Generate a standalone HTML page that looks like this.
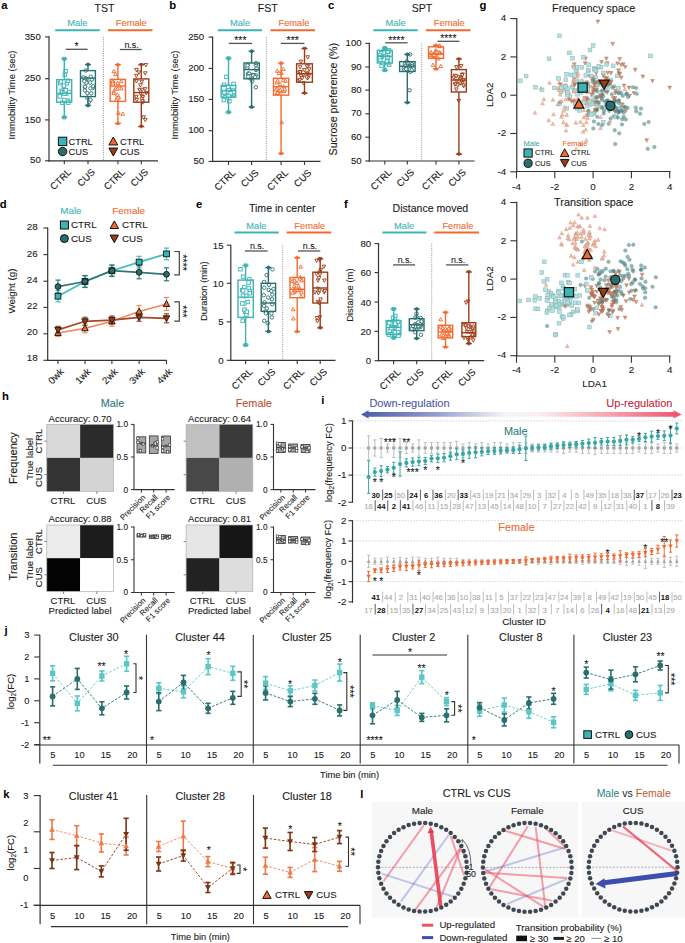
<!DOCTYPE html>
<html><head><meta charset="utf-8"><style>
html,body{margin:0;padding:0;background:#fff;}
svg{display:block;font-family:"Liberation Sans", sans-serif;}
</style></head><body>
<svg width="685" height="943" viewBox="0 0 685 943">
<rect width="685" height="943" fill="#fff"/>
<text x="1.3" y="8.8" font-size="11.28" text-anchor="start" fill="#000" font-weight="bold">a</text>
<text x="169.2" y="8.8" font-size="11.28" text-anchor="start" fill="#000" font-weight="bold">b</text>
<text x="328" y="8.8" font-size="11.28" text-anchor="start" fill="#000" font-weight="bold">c</text>
<text x="479.6" y="9" font-size="11.28" text-anchor="start" fill="#000" font-weight="bold">g</text>
<line x1="49" y1="36.3" x2="49" y2="161.4" stroke="#333" stroke-width="1.2"/>
<line x1="48.4" y1="160.8" x2="158" y2="160.8" stroke="#333" stroke-width="1.2"/>
<line x1="45" y1="36.9" x2="49" y2="36.9" stroke="#333" stroke-width="1.1"/>
<text x="40.8" y="39.5" font-size="9.63" text-anchor="end" fill="#1a1a1a" stroke="#1a1a1a" stroke-width="0.1">350</text>
<line x1="45" y1="78.7" x2="49" y2="78.7" stroke="#333" stroke-width="1.1"/>
<text x="40.8" y="81.3" font-size="9.63" text-anchor="end" fill="#1a1a1a" stroke="#1a1a1a" stroke-width="0.1">250</text>
<line x1="45" y1="119.9" x2="49" y2="119.9" stroke="#333" stroke-width="1.1"/>
<text x="40.8" y="122.5" font-size="9.63" text-anchor="end" fill="#1a1a1a" stroke="#1a1a1a" stroke-width="0.1">150</text>
<line x1="45" y1="160.8" x2="49" y2="160.8" stroke="#333" stroke-width="1.1"/>
<text x="40.8" y="163.4" font-size="9.63" text-anchor="end" fill="#1a1a1a" stroke="#1a1a1a" stroke-width="0.1">50</text>
<text x="15.18" y="95" font-size="9.42" text-anchor="middle" fill="#1a1a1a" transform="rotate(-90 15.18 95)" stroke="#1a1a1a" stroke-width="0.1">Immobility Time (sec)</text>
<line x1="103.5" y1="36.9" x2="103.5" y2="160.8" stroke="#888" stroke-width="0.9" stroke-dasharray="1,1.3"/>
<text x="104.4" y="11.9" font-size="10.56" text-anchor="middle" fill="#1a1a1a" stroke="#1a1a1a" stroke-width="0.1">TST</text>
<text x="77.4" y="25.9" font-size="9.31" text-anchor="middle" fill="#3db4b4" stroke="#3db4b4" stroke-width="0.1">Male</text>
<line x1="55.2" y1="30.2" x2="99.8" y2="30.2" stroke="#3db4b4" stroke-width="2"/>
<text x="131.3" y="25.9" font-size="9.31" text-anchor="middle" fill="#f26a2e" stroke="#f26a2e" stroke-width="0.1">Female</text>
<line x1="107.9" y1="30.2" x2="152.5" y2="30.2" stroke="#f26a2e" stroke-width="2"/>
<rect x="62.45" y="91.15" width="3.5" height="3.5" fill="#fff" stroke="#3db4b4" stroke-width="0.9"/>
<rect x="63.84" y="69.48" width="3.5" height="3.5" fill="#fff" stroke="#3db4b4" stroke-width="0.9"/>
<rect x="59.92" y="89.08" width="3.5" height="3.5" fill="#fff" stroke="#3db4b4" stroke-width="0.9"/>
<rect x="66.4" y="99.2" width="3.5" height="3.5" fill="#fff" stroke="#3db4b4" stroke-width="0.9"/>
<rect x="58.12" y="94.65" width="3.5" height="3.5" fill="#fff" stroke="#3db4b4" stroke-width="0.9"/>
<rect x="65.39" y="99.15" width="3.5" height="3.5" fill="#fff" stroke="#3db4b4" stroke-width="0.9"/>
<rect x="60.63" y="90.68" width="3.5" height="3.5" fill="#fff" stroke="#3db4b4" stroke-width="0.9"/>
<rect x="58.43" y="81.39" width="3.5" height="3.5" fill="#fff" stroke="#3db4b4" stroke-width="0.9"/>
<rect x="64.27" y="91.87" width="3.5" height="3.5" fill="#fff" stroke="#3db4b4" stroke-width="0.9"/>
<rect x="65.09" y="81.61" width="3.5" height="3.5" fill="#fff" stroke="#3db4b4" stroke-width="0.9"/>
<rect x="63.06" y="72.89" width="3.5" height="3.5" fill="#fff" stroke="#3db4b4" stroke-width="0.9"/>
<rect x="59.19" y="79.55" width="3.5" height="3.5" fill="#fff" stroke="#3db4b4" stroke-width="0.9"/>
<rect x="62.13" y="84.99" width="3.5" height="3.5" fill="#fff" stroke="#3db4b4" stroke-width="0.9"/>
<rect x="62.67" y="90.55" width="3.5" height="3.5" fill="#fff" stroke="#3db4b4" stroke-width="0.9"/>
<rect x="66.51" y="100.9" width="3.5" height="3.5" fill="#fff" stroke="#3db4b4" stroke-width="0.9"/>
<rect x="62.45" y="98.32" width="3.5" height="3.5" fill="#fff" stroke="#3db4b4" stroke-width="0.9"/>
<rect x="62.21" y="83.8" width="3.5" height="3.5" fill="#fff" stroke="#3db4b4" stroke-width="0.9"/>
<rect x="66.21" y="78.96" width="3.5" height="3.5" fill="#fff" stroke="#3db4b4" stroke-width="0.9"/>
<rect x="60.52" y="101.03" width="3.5" height="3.5" fill="#fff" stroke="#3db4b4" stroke-width="0.9"/>
<rect x="62.72" y="91.89" width="3.5" height="3.5" fill="#fff" stroke="#3db4b4" stroke-width="0.9"/>
<rect x="67.56" y="90.12" width="3.5" height="3.5" fill="#fff" stroke="#3db4b4" stroke-width="0.9"/>
<rect x="64.08" y="88.49" width="3.5" height="3.5" fill="#fff" stroke="#3db4b4" stroke-width="0.9"/>
<rect x="62.8" y="57.3" width="3" height="3" fill="#3db4b4" stroke="#3db4b4" stroke-width="0.9"/>
<rect x="62.8" y="115.9" width="3" height="3" fill="#3db4b4" stroke="#3db4b4" stroke-width="0.9"/>
<line x1="64.3" y1="58.8" x2="64.3" y2="79.7" stroke="#3db4b4" stroke-width="1.4"/>
<line x1="64.3" y1="102.2" x2="64.3" y2="117.4" stroke="#3db4b4" stroke-width="1.4"/>
<line x1="61.3" y1="58.8" x2="67.3" y2="58.8" stroke="#3db4b4" stroke-width="1.4"/>
<line x1="61.3" y1="117.4" x2="67.3" y2="117.4" stroke="#3db4b4" stroke-width="1.4"/>
<rect x="56.7" y="79.7" width="15" height="22.5" fill="none" stroke="#3db4b4" stroke-width="1.4"/>
<line x1="56.7" y1="93.4" x2="71.7" y2="93.4" stroke="#3db4b4" stroke-width="1.4"/>
<line x1="64.3" y1="160.8" x2="64.3" y2="164.3" stroke="#333" stroke-width="1.1"/>
<text x="71.9" y="172.8" font-size="9.63" text-anchor="end" fill="#1a1a1a" transform="rotate(-45 71.9 172.8)" stroke="#1a1a1a" stroke-width="0.1">CTRL</text>
<circle cx="92.59" cy="87.9" r="1.75" fill="#fff" stroke="#2a6f6f" stroke-width="0.9"/>
<circle cx="84.67" cy="78.48" r="1.75" fill="#fff" stroke="#2a6f6f" stroke-width="0.9"/>
<circle cx="89.19" cy="101.68" r="1.75" fill="#fff" stroke="#2a6f6f" stroke-width="0.9"/>
<circle cx="91.27" cy="93.31" r="1.75" fill="#fff" stroke="#2a6f6f" stroke-width="0.9"/>
<circle cx="87.12" cy="97.55" r="1.75" fill="#fff" stroke="#2a6f6f" stroke-width="0.9"/>
<circle cx="90.47" cy="88.33" r="1.75" fill="#fff" stroke="#2a6f6f" stroke-width="0.9"/>
<circle cx="85.72" cy="70.53" r="1.75" fill="#fff" stroke="#2a6f6f" stroke-width="0.9"/>
<circle cx="91.87" cy="79.44" r="1.75" fill="#fff" stroke="#2a6f6f" stroke-width="0.9"/>
<circle cx="86.51" cy="78.92" r="1.75" fill="#fff" stroke="#2a6f6f" stroke-width="0.9"/>
<circle cx="85.46" cy="78.06" r="1.75" fill="#fff" stroke="#2a6f6f" stroke-width="0.9"/>
<circle cx="84.88" cy="90.46" r="1.75" fill="#fff" stroke="#2a6f6f" stroke-width="0.9"/>
<circle cx="87.36" cy="93" r="1.75" fill="#fff" stroke="#2a6f6f" stroke-width="0.9"/>
<circle cx="93.14" cy="86.22" r="1.75" fill="#fff" stroke="#2a6f6f" stroke-width="0.9"/>
<circle cx="86.7" cy="81.86" r="1.75" fill="#fff" stroke="#2a6f6f" stroke-width="0.9"/>
<circle cx="90.77" cy="76.77" r="1.75" fill="#fff" stroke="#2a6f6f" stroke-width="0.9"/>
<circle cx="84.84" cy="87.12" r="1.75" fill="#fff" stroke="#2a6f6f" stroke-width="0.9"/>
<circle cx="90.04" cy="82.5" r="1.75" fill="#fff" stroke="#2a6f6f" stroke-width="0.9"/>
<circle cx="83.3" cy="77.44" r="1.75" fill="#fff" stroke="#2a6f6f" stroke-width="0.9"/>
<circle cx="86.35" cy="82.9" r="1.75" fill="#fff" stroke="#2a6f6f" stroke-width="0.9"/>
<circle cx="85.12" cy="86.68" r="1.75" fill="#fff" stroke="#2a6f6f" stroke-width="0.9"/>
<circle cx="84.31" cy="81.19" r="1.75" fill="#fff" stroke="#2a6f6f" stroke-width="0.9"/>
<circle cx="90.46" cy="99.77" r="1.75" fill="#fff" stroke="#2a6f6f" stroke-width="0.9"/>
<circle cx="88" cy="64.5" r="1.5" fill="#2a6f6f" stroke="#2a6f6f" stroke-width="0.9"/>
<circle cx="88" cy="105.4" r="1.5" fill="#2a6f6f" stroke="#2a6f6f" stroke-width="0.9"/>
<line x1="88" y1="64.5" x2="88" y2="70.6" stroke="#2a6f6f" stroke-width="1.4"/>
<line x1="88" y1="96.6" x2="88" y2="105.4" stroke="#2a6f6f" stroke-width="1.4"/>
<line x1="85" y1="64.5" x2="91" y2="64.5" stroke="#2a6f6f" stroke-width="1.4"/>
<line x1="85" y1="105.4" x2="91" y2="105.4" stroke="#2a6f6f" stroke-width="1.4"/>
<rect x="80.5" y="70.6" width="14.9" height="26" fill="none" stroke="#2a6f6f" stroke-width="1.4"/>
<line x1="80.5" y1="78.1" x2="95.4" y2="78.1" stroke="#2a6f6f" stroke-width="1.4"/>
<line x1="88" y1="160.8" x2="88" y2="164.3" stroke="#333" stroke-width="1.1"/>
<text x="95.6" y="172.8" font-size="9.63" text-anchor="end" fill="#1a1a1a" transform="rotate(-45 95.6 172.8)" stroke="#1a1a1a" stroke-width="0.1">CUS</text>
<polygon points="118.34,111.04 120.18,114.37 116.5,114.37" fill="#fff" stroke="#f26a2e" stroke-width="0.9"/>
<polygon points="118.3,94.81 120.14,98.13 116.47,98.13" fill="#fff" stroke="#f26a2e" stroke-width="0.9"/>
<polygon points="117.84,81.11 119.68,84.44 116.01,84.44" fill="#fff" stroke="#f26a2e" stroke-width="0.9"/>
<polygon points="113.77,69.36 115.61,72.68 111.93,72.68" fill="#fff" stroke="#f26a2e" stroke-width="0.9"/>
<polygon points="117.03,95.9 118.86,99.22 115.19,99.22" fill="#fff" stroke="#f26a2e" stroke-width="0.9"/>
<polygon points="121.36,86.62 123.2,89.95 119.52,89.95" fill="#fff" stroke="#f26a2e" stroke-width="0.9"/>
<polygon points="115.37,86.96 117.21,90.29 113.53,90.29" fill="#fff" stroke="#f26a2e" stroke-width="0.9"/>
<polygon points="121.26,79.32 123.1,82.65 119.42,82.65" fill="#fff" stroke="#f26a2e" stroke-width="0.9"/>
<polygon points="118.69,95.42 120.53,98.75 116.85,98.75" fill="#fff" stroke="#f26a2e" stroke-width="0.9"/>
<polygon points="115.45,72.24 117.28,75.56 113.61,75.56" fill="#fff" stroke="#f26a2e" stroke-width="0.9"/>
<polygon points="117.4,86.8 119.24,90.13 115.56,90.13" fill="#fff" stroke="#f26a2e" stroke-width="0.9"/>
<polygon points="113.75,89.58 115.58,92.91 111.91,92.91" fill="#fff" stroke="#f26a2e" stroke-width="0.9"/>
<polygon points="117.3,92.85 119.14,96.18 115.46,96.18" fill="#fff" stroke="#f26a2e" stroke-width="0.9"/>
<polygon points="113.36,79.92 115.2,83.24 111.52,83.24" fill="#fff" stroke="#f26a2e" stroke-width="0.9"/>
<polygon points="117.37,96.87 119.21,100.19 115.53,100.19" fill="#fff" stroke="#f26a2e" stroke-width="0.9"/>
<polygon points="113.33,79.79 115.17,83.11 111.49,83.11" fill="#fff" stroke="#f26a2e" stroke-width="0.9"/>
<polygon points="112.75,79.31 114.58,82.64 110.91,82.64" fill="#fff" stroke="#f26a2e" stroke-width="0.9"/>
<polygon points="122.75,111.94 124.59,115.26 120.92,115.26" fill="#fff" stroke="#f26a2e" stroke-width="0.9"/>
<polygon points="119.09,83.75 120.93,87.07 117.25,87.07" fill="#fff" stroke="#f26a2e" stroke-width="0.9"/>
<polygon points="116.17,98.1 118.01,101.43 114.33,101.43" fill="#fff" stroke="#f26a2e" stroke-width="0.9"/>
<polygon points="113.82,91.21 115.66,94.54 111.98,94.54" fill="#fff" stroke="#f26a2e" stroke-width="0.9"/>
<polygon points="112.84,81.57 114.68,84.89 111.01,84.89" fill="#fff" stroke="#f26a2e" stroke-width="0.9"/>
<polygon points="117.9,62.85 119.48,65.7 116.33,65.7" fill="#f26a2e" stroke="#f26a2e" stroke-width="0.9"/>
<polygon points="117.9,121.65 119.48,124.5 116.33,124.5" fill="#f26a2e" stroke="#f26a2e" stroke-width="0.9"/>
<line x1="117.9" y1="64.5" x2="117.9" y2="79.4" stroke="#f26a2e" stroke-width="1.4"/>
<line x1="117.9" y1="101.4" x2="117.9" y2="123.3" stroke="#f26a2e" stroke-width="1.4"/>
<line x1="114.9" y1="64.5" x2="120.9" y2="64.5" stroke="#f26a2e" stroke-width="1.4"/>
<line x1="114.9" y1="123.3" x2="120.9" y2="123.3" stroke="#f26a2e" stroke-width="1.4"/>
<rect x="110.2" y="79.4" width="15.3" height="22" fill="none" stroke="#f26a2e" stroke-width="1.4"/>
<line x1="110.2" y1="86.1" x2="125.5" y2="86.1" stroke="#f26a2e" stroke-width="1.4"/>
<line x1="117.9" y1="160.8" x2="117.9" y2="164.3" stroke="#333" stroke-width="1.1"/>
<text x="125.5" y="172.8" font-size="9.63" text-anchor="end" fill="#1a1a1a" transform="rotate(-45 125.5 172.8)" stroke="#1a1a1a" stroke-width="0.1">CTRL</text>
<polygon points="145.32,121.73 147.15,118.4 143.48,118.4" fill="#fff" stroke="#9c3c17" stroke-width="0.9"/>
<polygon points="141.72,83.51 143.56,80.19 139.88,80.19" fill="#fff" stroke="#9c3c17" stroke-width="0.9"/>
<polygon points="145.21,75.08 147.05,71.75 143.37,71.75" fill="#fff" stroke="#9c3c17" stroke-width="0.9"/>
<polygon points="146.4,94.93 148.24,91.61 144.57,91.61" fill="#fff" stroke="#9c3c17" stroke-width="0.9"/>
<polygon points="140.64,95.43 142.48,92.1 138.81,92.1" fill="#fff" stroke="#9c3c17" stroke-width="0.9"/>
<polygon points="142.82,104.24 144.66,100.92 140.98,100.92" fill="#fff" stroke="#9c3c17" stroke-width="0.9"/>
<polygon points="145.8,66.85 147.63,63.53 143.96,63.53" fill="#fff" stroke="#9c3c17" stroke-width="0.9"/>
<polygon points="136.34,77.59 138.18,74.26 134.5,74.26" fill="#fff" stroke="#9c3c17" stroke-width="0.9"/>
<polygon points="139.5,91.59 141.34,88.27 137.66,88.27" fill="#fff" stroke="#9c3c17" stroke-width="0.9"/>
<polygon points="142.07,98.12 143.91,94.8 140.24,94.8" fill="#fff" stroke="#9c3c17" stroke-width="0.9"/>
<polygon points="142.84,99.04 144.68,95.71 141.01,95.71" fill="#fff" stroke="#9c3c17" stroke-width="0.9"/>
<polygon points="140.45,87.04 142.29,83.72 138.62,83.72" fill="#fff" stroke="#9c3c17" stroke-width="0.9"/>
<polygon points="136.82,101.72 138.65,98.4 134.98,98.4" fill="#fff" stroke="#9c3c17" stroke-width="0.9"/>
<polygon points="143.57,119.1 145.4,115.78 141.73,115.78" fill="#fff" stroke="#9c3c17" stroke-width="0.9"/>
<polygon points="139.01,74.2 140.85,70.87 137.17,70.87" fill="#fff" stroke="#9c3c17" stroke-width="0.9"/>
<polygon points="136.43,71.73 138.27,68.41 134.59,68.41" fill="#fff" stroke="#9c3c17" stroke-width="0.9"/>
<polygon points="136.46,83.08 138.3,79.76 134.63,79.76" fill="#fff" stroke="#9c3c17" stroke-width="0.9"/>
<polygon points="145.03,90.96 146.87,87.64 143.2,87.64" fill="#fff" stroke="#9c3c17" stroke-width="0.9"/>
<polygon points="136.38,98.64 138.22,95.31 134.54,95.31" fill="#fff" stroke="#9c3c17" stroke-width="0.9"/>
<polygon points="142.21,91.57 144.04,88.25 140.37,88.25" fill="#fff" stroke="#9c3c17" stroke-width="0.9"/>
<polygon points="141.85,100.6 143.69,97.27 140.02,97.27" fill="#fff" stroke="#9c3c17" stroke-width="0.9"/>
<polygon points="142.39,102.94 144.23,99.62 140.56,99.62" fill="#fff" stroke="#9c3c17" stroke-width="0.9"/>
<polygon points="141.3,66.45 142.88,63.6 139.73,63.6" fill="#9c3c17" stroke="#9c3c17" stroke-width="0.9"/>
<polygon points="141.3,128.25 142.88,125.4 139.73,125.4" fill="#9c3c17" stroke="#9c3c17" stroke-width="0.9"/>
<line x1="141.3" y1="64.8" x2="141.3" y2="78.9" stroke="#9c3c17" stroke-width="1.4"/>
<line x1="141.3" y1="102.2" x2="141.3" y2="126.6" stroke="#9c3c17" stroke-width="1.4"/>
<line x1="138.3" y1="64.8" x2="144.3" y2="64.8" stroke="#9c3c17" stroke-width="1.4"/>
<line x1="138.3" y1="126.6" x2="144.3" y2="126.6" stroke="#9c3c17" stroke-width="1.4"/>
<rect x="133.8" y="78.9" width="15" height="23.3" fill="none" stroke="#9c3c17" stroke-width="1.4"/>
<line x1="133.8" y1="92.6" x2="148.8" y2="92.6" stroke="#9c3c17" stroke-width="1.4"/>
<line x1="141.3" y1="160.8" x2="141.3" y2="164.3" stroke="#333" stroke-width="1.1"/>
<text x="148.9" y="172.8" font-size="9.63" text-anchor="end" fill="#1a1a1a" transform="rotate(-45 148.9 172.8)" stroke="#1a1a1a" stroke-width="0.1">CUS</text>
<line x1="65.7" y1="49.3" x2="87.6" y2="49.3" stroke="#555" stroke-width="1.3"/>
<text x="76.65" y="50.36" font-size="10.51" text-anchor="middle" fill="#1a1a1a" stroke="#1a1a1a" stroke-width="0.1">*</text>
<line x1="119.8" y1="49.5" x2="141.7" y2="49.5" stroke="#555" stroke-width="1.3"/>
<text x="131.55" y="47.6" font-size="8.9" text-anchor="middle" fill="#1a1a1a" stroke="#1a1a1a" stroke-width="0.1">n.s.</text>
<rect x="58.4" y="137.2" width="8.4" height="8.4" fill="#3db4b4" stroke="#111" stroke-width="1"/>
<text x="68.5" y="144.6" font-size="9.31" text-anchor="start" fill="#1a1a1a" stroke="#1a1a1a" stroke-width="0.1">CTRL</text>
<circle cx="62.6" cy="151.5" r="4.2" fill="#2a6f6f" stroke="#111" stroke-width="1"/>
<text x="68.5" y="154.7" font-size="9.31" text-anchor="start" fill="#1a1a1a" stroke="#1a1a1a" stroke-width="0.1">CUS</text>
<polygon points="113.3,136.98 117.71,144.96 108.89,144.96" fill="#f26a2e" stroke="#111" stroke-width="1"/>
<text x="120" y="144.6" font-size="9.31" text-anchor="start" fill="#1a1a1a" stroke="#1a1a1a" stroke-width="0.1">CTRL</text>
<polygon points="113.3,156.02 117.71,148.04 108.89,148.04" fill="#9c3c17" stroke="#111" stroke-width="1"/>
<text x="120" y="154.7" font-size="9.31" text-anchor="start" fill="#1a1a1a" stroke="#1a1a1a" stroke-width="0.1">CUS</text>
<line x1="212.6" y1="36.5" x2="212.6" y2="162" stroke="#333" stroke-width="1.2"/>
<line x1="212" y1="161.4" x2="320.5" y2="161.4" stroke="#333" stroke-width="1.2"/>
<line x1="208.6" y1="37.1" x2="212.6" y2="37.1" stroke="#333" stroke-width="1.1"/>
<text x="204.2" y="39.5" font-size="9.63" text-anchor="end" fill="#1a1a1a" stroke="#1a1a1a" stroke-width="0.1">250</text>
<line x1="208.6" y1="68.4" x2="212.6" y2="68.4" stroke="#333" stroke-width="1.1"/>
<text x="204.2" y="70.8" font-size="9.63" text-anchor="end" fill="#1a1a1a" stroke="#1a1a1a" stroke-width="0.1">200</text>
<line x1="208.6" y1="99.4" x2="212.6" y2="99.4" stroke="#333" stroke-width="1.1"/>
<text x="204.2" y="101.8" font-size="9.63" text-anchor="end" fill="#1a1a1a" stroke="#1a1a1a" stroke-width="0.1">150</text>
<line x1="208.6" y1="130.7" x2="212.6" y2="130.7" stroke="#333" stroke-width="1.1"/>
<text x="204.2" y="133.1" font-size="9.63" text-anchor="end" fill="#1a1a1a" stroke="#1a1a1a" stroke-width="0.1">100</text>
<line x1="208.6" y1="161.4" x2="212.6" y2="161.4" stroke="#333" stroke-width="1.1"/>
<text x="204.2" y="163.8" font-size="9.63" text-anchor="end" fill="#1a1a1a" stroke="#1a1a1a" stroke-width="0.1">50</text>
<text x="177.69" y="95" font-size="9.42" text-anchor="middle" fill="#1a1a1a" transform="rotate(-90 177.69 95)" stroke="#1a1a1a" stroke-width="0.1">Immobility Time (sec)</text>
<line x1="266.4" y1="37.1" x2="266.4" y2="161.4" stroke="#888" stroke-width="0.9" stroke-dasharray="1,1.3"/>
<text x="267.7" y="12" font-size="10.56" text-anchor="middle" fill="#1a1a1a" stroke="#1a1a1a" stroke-width="0.1">FST</text>
<text x="240" y="25.9" font-size="9.31" text-anchor="middle" fill="#3db4b4" stroke="#3db4b4" stroke-width="0.1">Male</text>
<line x1="217.8" y1="30.2" x2="262" y2="30.2" stroke="#3db4b4" stroke-width="2"/>
<text x="294" y="25.9" font-size="9.31" text-anchor="middle" fill="#f26a2e" stroke="#f26a2e" stroke-width="0.1">Female</text>
<line x1="270.4" y1="30.2" x2="315" y2="30.2" stroke="#f26a2e" stroke-width="2"/>
<rect x="222.37" y="83.01" width="3.5" height="3.5" fill="#fff" stroke="#3db4b4" stroke-width="0.9"/>
<rect x="231.21" y="93.79" width="3.5" height="3.5" fill="#fff" stroke="#3db4b4" stroke-width="0.9"/>
<rect x="231.48" y="88.79" width="3.5" height="3.5" fill="#fff" stroke="#3db4b4" stroke-width="0.9"/>
<rect x="223.58" y="91.07" width="3.5" height="3.5" fill="#fff" stroke="#3db4b4" stroke-width="0.9"/>
<rect x="224.7" y="75.12" width="3.5" height="3.5" fill="#fff" stroke="#3db4b4" stroke-width="0.9"/>
<rect x="228.37" y="92.78" width="3.5" height="3.5" fill="#fff" stroke="#3db4b4" stroke-width="0.9"/>
<rect x="229.57" y="92.65" width="3.5" height="3.5" fill="#fff" stroke="#3db4b4" stroke-width="0.9"/>
<rect x="227.59" y="99.48" width="3.5" height="3.5" fill="#fff" stroke="#3db4b4" stroke-width="0.9"/>
<rect x="223.27" y="95.58" width="3.5" height="3.5" fill="#fff" stroke="#3db4b4" stroke-width="0.9"/>
<rect x="225.77" y="89.09" width="3.5" height="3.5" fill="#fff" stroke="#3db4b4" stroke-width="0.9"/>
<rect x="227.4" y="87.95" width="3.5" height="3.5" fill="#fff" stroke="#3db4b4" stroke-width="0.9"/>
<rect x="228.75" y="91.98" width="3.5" height="3.5" fill="#fff" stroke="#3db4b4" stroke-width="0.9"/>
<rect x="226.89" y="90.58" width="3.5" height="3.5" fill="#fff" stroke="#3db4b4" stroke-width="0.9"/>
<rect x="222.62" y="90.73" width="3.5" height="3.5" fill="#fff" stroke="#3db4b4" stroke-width="0.9"/>
<rect x="229.86" y="90.04" width="3.5" height="3.5" fill="#fff" stroke="#3db4b4" stroke-width="0.9"/>
<rect x="231.85" y="82.21" width="3.5" height="3.5" fill="#fff" stroke="#3db4b4" stroke-width="0.9"/>
<rect x="226.89" y="86.99" width="3.5" height="3.5" fill="#fff" stroke="#3db4b4" stroke-width="0.9"/>
<rect x="231.73" y="90.44" width="3.5" height="3.5" fill="#fff" stroke="#3db4b4" stroke-width="0.9"/>
<rect x="222.13" y="98.22" width="3.5" height="3.5" fill="#fff" stroke="#3db4b4" stroke-width="0.9"/>
<rect x="228.81" y="91.47" width="3.5" height="3.5" fill="#fff" stroke="#3db4b4" stroke-width="0.9"/>
<rect x="226.44" y="85.14" width="3.5" height="3.5" fill="#fff" stroke="#3db4b4" stroke-width="0.9"/>
<rect x="226.97" y="94.24" width="3.5" height="3.5" fill="#fff" stroke="#3db4b4" stroke-width="0.9"/>
<rect x="227" y="56.8" width="3" height="3" fill="#3db4b4" stroke="#3db4b4" stroke-width="0.9"/>
<rect x="227" y="110.7" width="3" height="3" fill="#3db4b4" stroke="#3db4b4" stroke-width="0.9"/>
<line x1="228.5" y1="58.3" x2="228.5" y2="85.4" stroke="#3db4b4" stroke-width="1.4"/>
<line x1="228.5" y1="97.2" x2="228.5" y2="112.2" stroke="#3db4b4" stroke-width="1.4"/>
<line x1="225.5" y1="58.3" x2="231.5" y2="58.3" stroke="#3db4b4" stroke-width="1.4"/>
<line x1="225.5" y1="112.2" x2="231.5" y2="112.2" stroke="#3db4b4" stroke-width="1.4"/>
<rect x="221.2" y="85.4" width="14.5" height="11.8" fill="none" stroke="#3db4b4" stroke-width="1.4"/>
<line x1="221.2" y1="90.6" x2="235.7" y2="90.6" stroke="#3db4b4" stroke-width="1.4"/>
<line x1="228.5" y1="161.4" x2="228.5" y2="164.9" stroke="#333" stroke-width="1.1"/>
<text x="236.1" y="173.4" font-size="9.63" text-anchor="end" fill="#1a1a1a" transform="rotate(-45 236.1 173.4)" stroke="#1a1a1a" stroke-width="0.1">CTRL</text>
<circle cx="255.87" cy="87.22" r="1.75" fill="#fff" stroke="#2a6f6f" stroke-width="0.9"/>
<circle cx="251.76" cy="79.98" r="1.75" fill="#fff" stroke="#2a6f6f" stroke-width="0.9"/>
<circle cx="256.04" cy="69.89" r="1.75" fill="#fff" stroke="#2a6f6f" stroke-width="0.9"/>
<circle cx="256.59" cy="68.63" r="1.75" fill="#fff" stroke="#2a6f6f" stroke-width="0.9"/>
<circle cx="248.28" cy="73.68" r="1.75" fill="#fff" stroke="#2a6f6f" stroke-width="0.9"/>
<circle cx="255.75" cy="75.29" r="1.75" fill="#fff" stroke="#2a6f6f" stroke-width="0.9"/>
<circle cx="252.28" cy="81.38" r="1.75" fill="#fff" stroke="#2a6f6f" stroke-width="0.9"/>
<circle cx="252.35" cy="75.01" r="1.75" fill="#fff" stroke="#2a6f6f" stroke-width="0.9"/>
<circle cx="249.4" cy="77.68" r="1.75" fill="#fff" stroke="#2a6f6f" stroke-width="0.9"/>
<circle cx="247.27" cy="67.75" r="1.75" fill="#fff" stroke="#2a6f6f" stroke-width="0.9"/>
<circle cx="253.71" cy="75.02" r="1.75" fill="#fff" stroke="#2a6f6f" stroke-width="0.9"/>
<circle cx="249.6" cy="74.14" r="1.75" fill="#fff" stroke="#2a6f6f" stroke-width="0.9"/>
<circle cx="247.93" cy="64.62" r="1.75" fill="#fff" stroke="#2a6f6f" stroke-width="0.9"/>
<circle cx="248.03" cy="73.76" r="1.75" fill="#fff" stroke="#2a6f6f" stroke-width="0.9"/>
<circle cx="253.15" cy="75.46" r="1.75" fill="#fff" stroke="#2a6f6f" stroke-width="0.9"/>
<circle cx="255.85" cy="64.91" r="1.75" fill="#fff" stroke="#2a6f6f" stroke-width="0.9"/>
<circle cx="249.25" cy="73.73" r="1.75" fill="#fff" stroke="#2a6f6f" stroke-width="0.9"/>
<circle cx="256.24" cy="63" r="1.75" fill="#fff" stroke="#2a6f6f" stroke-width="0.9"/>
<circle cx="250.02" cy="76.3" r="1.75" fill="#fff" stroke="#2a6f6f" stroke-width="0.9"/>
<circle cx="255.16" cy="76.95" r="1.75" fill="#fff" stroke="#2a6f6f" stroke-width="0.9"/>
<circle cx="247.56" cy="65.56" r="1.75" fill="#fff" stroke="#2a6f6f" stroke-width="0.9"/>
<circle cx="248.23" cy="76.67" r="1.75" fill="#fff" stroke="#2a6f6f" stroke-width="0.9"/>
<circle cx="251.6" cy="51.2" r="1.5" fill="#2a6f6f" stroke="#2a6f6f" stroke-width="0.9"/>
<circle cx="251.6" cy="107" r="1.5" fill="#2a6f6f" stroke="#2a6f6f" stroke-width="0.9"/>
<line x1="251.6" y1="51.2" x2="251.6" y2="63" stroke="#2a6f6f" stroke-width="1.4"/>
<line x1="251.6" y1="78.8" x2="251.6" y2="107" stroke="#2a6f6f" stroke-width="1.4"/>
<line x1="248.6" y1="51.2" x2="254.6" y2="51.2" stroke="#2a6f6f" stroke-width="1.4"/>
<line x1="248.6" y1="107" x2="254.6" y2="107" stroke="#2a6f6f" stroke-width="1.4"/>
<rect x="244" y="63" width="15.3" height="15.8" fill="none" stroke="#2a6f6f" stroke-width="1.4"/>
<line x1="244" y1="69.6" x2="259.3" y2="69.6" stroke="#2a6f6f" stroke-width="1.4"/>
<line x1="251.6" y1="161.4" x2="251.6" y2="164.9" stroke="#333" stroke-width="1.1"/>
<text x="259.2" y="173.4" font-size="9.63" text-anchor="end" fill="#1a1a1a" transform="rotate(-45 259.2 173.4)" stroke="#1a1a1a" stroke-width="0.1">CUS</text>
<polygon points="276.89,80.63 278.73,83.95 275.06,83.95" fill="#fff" stroke="#f26a2e" stroke-width="0.9"/>
<polygon points="280.14,82.36 281.97,85.69 278.3,85.69" fill="#fff" stroke="#f26a2e" stroke-width="0.9"/>
<polygon points="277.62,78.65 279.46,81.97 275.78,81.97" fill="#fff" stroke="#f26a2e" stroke-width="0.9"/>
<polygon points="284,89.31 285.84,92.64 282.16,92.64" fill="#fff" stroke="#f26a2e" stroke-width="0.9"/>
<polygon points="283.81,84.62 285.65,87.94 281.98,87.94" fill="#fff" stroke="#f26a2e" stroke-width="0.9"/>
<polygon points="284.44,88.66 286.28,91.98 282.61,91.98" fill="#fff" stroke="#f26a2e" stroke-width="0.9"/>
<polygon points="277.5,90.32 279.34,93.64 275.66,93.64" fill="#fff" stroke="#f26a2e" stroke-width="0.9"/>
<polygon points="276.84,91.47 278.67,94.79 275,94.79" fill="#fff" stroke="#f26a2e" stroke-width="0.9"/>
<polygon points="281.41,71.19 283.25,74.51 279.57,74.51" fill="#fff" stroke="#f26a2e" stroke-width="0.9"/>
<polygon points="281.66,120.31 283.5,123.64 279.82,123.64" fill="#fff" stroke="#f26a2e" stroke-width="0.9"/>
<polygon points="285.48,78.99 287.32,82.31 283.65,82.31" fill="#fff" stroke="#f26a2e" stroke-width="0.9"/>
<polygon points="284.65,87.02 286.48,90.35 282.81,90.35" fill="#fff" stroke="#f26a2e" stroke-width="0.9"/>
<polygon points="277.22,86.58 279.06,89.9 275.38,89.9" fill="#fff" stroke="#f26a2e" stroke-width="0.9"/>
<polygon points="276.17,87.47 278.01,90.79 274.33,90.79" fill="#fff" stroke="#f26a2e" stroke-width="0.9"/>
<polygon points="277.19,69.02 279.02,72.34 275.35,72.34" fill="#fff" stroke="#f26a2e" stroke-width="0.9"/>
<polygon points="278.98,71.31 280.82,74.63 277.15,74.63" fill="#fff" stroke="#f26a2e" stroke-width="0.9"/>
<polygon points="283.25,78.47 285.09,81.79 281.42,81.79" fill="#fff" stroke="#f26a2e" stroke-width="0.9"/>
<polygon points="280.28,89.65 282.11,92.98 278.44,92.98" fill="#fff" stroke="#f26a2e" stroke-width="0.9"/>
<polygon points="277.4,91.15 279.24,94.48 275.57,94.48" fill="#fff" stroke="#f26a2e" stroke-width="0.9"/>
<polygon points="283.41,67.16 285.24,70.48 281.57,70.48" fill="#fff" stroke="#f26a2e" stroke-width="0.9"/>
<polygon points="280.56,89.05 282.4,92.38 278.72,92.38" fill="#fff" stroke="#f26a2e" stroke-width="0.9"/>
<polygon points="280.29,88 282.13,91.32 278.46,91.32" fill="#fff" stroke="#f26a2e" stroke-width="0.9"/>
<polygon points="281.1,61.35 282.68,64.2 279.53,64.2" fill="#f26a2e" stroke="#f26a2e" stroke-width="0.9"/>
<polygon points="281.1,151.55 282.68,154.4 279.53,154.4" fill="#f26a2e" stroke="#f26a2e" stroke-width="0.9"/>
<line x1="281.1" y1="63" x2="281.1" y2="78.3" stroke="#f26a2e" stroke-width="1.4"/>
<line x1="281.1" y1="95.1" x2="281.1" y2="153.2" stroke="#f26a2e" stroke-width="1.4"/>
<line x1="278.1" y1="63" x2="284.1" y2="63" stroke="#f26a2e" stroke-width="1.4"/>
<line x1="278.1" y1="153.2" x2="284.1" y2="153.2" stroke="#f26a2e" stroke-width="1.4"/>
<rect x="273.5" y="78.3" width="15.2" height="16.8" fill="none" stroke="#f26a2e" stroke-width="1.4"/>
<line x1="273.5" y1="86.7" x2="288.7" y2="86.7" stroke="#f26a2e" stroke-width="1.4"/>
<line x1="281.1" y1="161.4" x2="281.1" y2="164.9" stroke="#333" stroke-width="1.1"/>
<text x="288.7" y="173.4" font-size="9.63" text-anchor="end" fill="#1a1a1a" transform="rotate(-45 288.7 173.4)" stroke="#1a1a1a" stroke-width="0.1">CTRL</text>
<polygon points="308.76,77.96 310.59,74.64 306.92,74.64" fill="#fff" stroke="#9c3c17" stroke-width="0.9"/>
<polygon points="300.95,63.53 302.79,60.2 299.11,60.2" fill="#fff" stroke="#9c3c17" stroke-width="0.9"/>
<polygon points="299.3,82.85 301.14,79.53 297.46,79.53" fill="#fff" stroke="#9c3c17" stroke-width="0.9"/>
<polygon points="307.53,75.09 309.36,71.77 305.69,71.77" fill="#fff" stroke="#9c3c17" stroke-width="0.9"/>
<polygon points="307.75,59.06 309.58,55.74 305.91,55.74" fill="#fff" stroke="#9c3c17" stroke-width="0.9"/>
<polygon points="302.97,77.11 304.81,73.78 301.13,73.78" fill="#fff" stroke="#9c3c17" stroke-width="0.9"/>
<polygon points="307.89,68.19 309.73,64.87 306.05,64.87" fill="#fff" stroke="#9c3c17" stroke-width="0.9"/>
<polygon points="306.89,75.68 308.72,72.36 305.05,72.36" fill="#fff" stroke="#9c3c17" stroke-width="0.9"/>
<polygon points="309.14,71.15 310.97,67.82 307.3,67.82" fill="#fff" stroke="#9c3c17" stroke-width="0.9"/>
<polygon points="304.43,71.93 306.27,68.61 302.6,68.61" fill="#fff" stroke="#9c3c17" stroke-width="0.9"/>
<polygon points="299.68,81.68 301.52,78.36 297.84,78.36" fill="#fff" stroke="#9c3c17" stroke-width="0.9"/>
<polygon points="299.54,74.36 301.38,71.04 297.7,71.04" fill="#fff" stroke="#9c3c17" stroke-width="0.9"/>
<polygon points="303.58,85.01 305.42,81.68 301.74,81.68" fill="#fff" stroke="#9c3c17" stroke-width="0.9"/>
<polygon points="307.48,79.44 309.32,76.11 305.65,76.11" fill="#fff" stroke="#9c3c17" stroke-width="0.9"/>
<polygon points="300.14,69.09 301.98,65.77 298.31,65.77" fill="#fff" stroke="#9c3c17" stroke-width="0.9"/>
<polygon points="301.14,78.05 302.98,74.73 299.31,74.73" fill="#fff" stroke="#9c3c17" stroke-width="0.9"/>
<polygon points="300.57,73.97 302.41,70.64 298.73,70.64" fill="#fff" stroke="#9c3c17" stroke-width="0.9"/>
<polygon points="302.23,79.88 304.07,76.55 300.4,76.55" fill="#fff" stroke="#9c3c17" stroke-width="0.9"/>
<polygon points="307.8,80.02 309.64,76.69 305.97,76.69" fill="#fff" stroke="#9c3c17" stroke-width="0.9"/>
<polygon points="300.31,74.22 302.14,70.89 298.47,70.89" fill="#fff" stroke="#9c3c17" stroke-width="0.9"/>
<polygon points="307.08,68.29 308.92,64.96 305.24,64.96" fill="#fff" stroke="#9c3c17" stroke-width="0.9"/>
<polygon points="306.5,79.15 308.34,75.82 304.67,75.82" fill="#fff" stroke="#9c3c17" stroke-width="0.9"/>
<polygon points="304.5,50.25 306.07,47.4 302.93,47.4" fill="#9c3c17" stroke="#9c3c17" stroke-width="0.9"/>
<polygon points="304.5,94.95 306.07,92.1 302.93,92.1" fill="#9c3c17" stroke="#9c3c17" stroke-width="0.9"/>
<line x1="304.5" y1="48.6" x2="304.5" y2="63.8" stroke="#9c3c17" stroke-width="1.4"/>
<line x1="304.5" y1="82.2" x2="304.5" y2="93.3" stroke="#9c3c17" stroke-width="1.4"/>
<line x1="301.5" y1="48.6" x2="307.5" y2="48.6" stroke="#9c3c17" stroke-width="1.4"/>
<line x1="301.5" y1="93.3" x2="307.5" y2="93.3" stroke="#9c3c17" stroke-width="1.4"/>
<rect x="296.6" y="63.8" width="15.8" height="18.4" fill="none" stroke="#9c3c17" stroke-width="1.4"/>
<line x1="296.6" y1="73.6" x2="312.4" y2="73.6" stroke="#9c3c17" stroke-width="1.4"/>
<line x1="304.5" y1="161.4" x2="304.5" y2="164.9" stroke="#333" stroke-width="1.1"/>
<text x="312.1" y="173.4" font-size="9.63" text-anchor="end" fill="#1a1a1a" transform="rotate(-45 312.1 173.4)" stroke="#1a1a1a" stroke-width="0.1">CUS</text>
<line x1="228.8" y1="43.4" x2="252" y2="43.4" stroke="#555" stroke-width="1.3"/>
<text x="240.4" y="44.46" font-size="10.51" text-anchor="middle" fill="#1a1a1a" stroke="#1a1a1a" stroke-width="0.1">***</text>
<line x1="280.9" y1="43.4" x2="304.5" y2="43.4" stroke="#555" stroke-width="1.3"/>
<text x="292.7" y="44.46" font-size="10.51" text-anchor="middle" fill="#1a1a1a" stroke="#1a1a1a" stroke-width="0.1">***</text>
<line x1="369.3" y1="42.8" x2="369.3" y2="161.6" stroke="#333" stroke-width="1.2"/>
<line x1="368.7" y1="161" x2="474.5" y2="161" stroke="#333" stroke-width="1.2"/>
<line x1="365.3" y1="43.4" x2="369.3" y2="43.4" stroke="#333" stroke-width="1.1"/>
<text x="361.6" y="46" font-size="9.63" text-anchor="end" fill="#1a1a1a" stroke="#1a1a1a" stroke-width="0.1">100</text>
<line x1="365.3" y1="67" x2="369.3" y2="67" stroke="#333" stroke-width="1.1"/>
<text x="361.6" y="69.6" font-size="9.63" text-anchor="end" fill="#1a1a1a" stroke="#1a1a1a" stroke-width="0.1">90</text>
<line x1="365.3" y1="90.1" x2="369.3" y2="90.1" stroke="#333" stroke-width="1.1"/>
<text x="361.6" y="92.7" font-size="9.63" text-anchor="end" fill="#1a1a1a" stroke="#1a1a1a" stroke-width="0.1">80</text>
<line x1="365.3" y1="113.8" x2="369.3" y2="113.8" stroke="#333" stroke-width="1.1"/>
<text x="361.6" y="116.4" font-size="9.63" text-anchor="end" fill="#1a1a1a" stroke="#1a1a1a" stroke-width="0.1">70</text>
<line x1="365.3" y1="137.2" x2="369.3" y2="137.2" stroke="#333" stroke-width="1.1"/>
<text x="361.6" y="139.8" font-size="9.63" text-anchor="end" fill="#1a1a1a" stroke="#1a1a1a" stroke-width="0.1">60</text>
<line x1="365.3" y1="161" x2="369.3" y2="161" stroke="#333" stroke-width="1.1"/>
<text x="361.6" y="163.6" font-size="9.63" text-anchor="end" fill="#1a1a1a" stroke="#1a1a1a" stroke-width="0.1">50</text>
<text x="337.21" y="99.2" font-size="10.66" text-anchor="middle" fill="#1a1a1a" transform="rotate(-90 337.21 99.2)" stroke="#1a1a1a" stroke-width="0.1">Sucrose preference (%)</text>
<line x1="421.7" y1="43.4" x2="421.7" y2="161" stroke="#888" stroke-width="0.9" stroke-dasharray="1,1.3"/>
<text x="422" y="12" font-size="10.56" text-anchor="middle" fill="#1a1a1a" stroke="#1a1a1a" stroke-width="0.1">SPT</text>
<text x="395.7" y="25.9" font-size="9.31" text-anchor="middle" fill="#3db4b4" stroke="#3db4b4" stroke-width="0.1">Male</text>
<line x1="373.3" y1="30.2" x2="417.7" y2="30.2" stroke="#3db4b4" stroke-width="2"/>
<text x="449.3" y="25.9" font-size="9.31" text-anchor="middle" fill="#f26a2e" stroke="#f26a2e" stroke-width="0.1">Female</text>
<line x1="425.9" y1="30.2" x2="470.5" y2="30.2" stroke="#f26a2e" stroke-width="2"/>
<rect x="379.76" y="54.99" width="3.5" height="3.5" fill="#fff" stroke="#3db4b4" stroke-width="0.9"/>
<rect x="379.23" y="55.09" width="3.5" height="3.5" fill="#fff" stroke="#3db4b4" stroke-width="0.9"/>
<rect x="387.4" y="62.95" width="3.5" height="3.5" fill="#fff" stroke="#3db4b4" stroke-width="0.9"/>
<rect x="382.8" y="51.29" width="3.5" height="3.5" fill="#fff" stroke="#3db4b4" stroke-width="0.9"/>
<rect x="383.89" y="52.75" width="3.5" height="3.5" fill="#fff" stroke="#3db4b4" stroke-width="0.9"/>
<rect x="386.14" y="55.48" width="3.5" height="3.5" fill="#fff" stroke="#3db4b4" stroke-width="0.9"/>
<rect x="378.68" y="58.07" width="3.5" height="3.5" fill="#fff" stroke="#3db4b4" stroke-width="0.9"/>
<rect x="381.51" y="50.77" width="3.5" height="3.5" fill="#fff" stroke="#3db4b4" stroke-width="0.9"/>
<rect x="379.85" y="63.97" width="3.5" height="3.5" fill="#fff" stroke="#3db4b4" stroke-width="0.9"/>
<rect x="385.46" y="57.37" width="3.5" height="3.5" fill="#fff" stroke="#3db4b4" stroke-width="0.9"/>
<rect x="385.93" y="61.29" width="3.5" height="3.5" fill="#fff" stroke="#3db4b4" stroke-width="0.9"/>
<rect x="385.18" y="59.82" width="3.5" height="3.5" fill="#fff" stroke="#3db4b4" stroke-width="0.9"/>
<rect x="382.43" y="49.66" width="3.5" height="3.5" fill="#fff" stroke="#3db4b4" stroke-width="0.9"/>
<rect x="386.49" y="50" width="3.5" height="3.5" fill="#fff" stroke="#3db4b4" stroke-width="0.9"/>
<rect x="382.1" y="51.02" width="3.5" height="3.5" fill="#fff" stroke="#3db4b4" stroke-width="0.9"/>
<rect x="379.4" y="51.5" width="3.5" height="3.5" fill="#fff" stroke="#3db4b4" stroke-width="0.9"/>
<rect x="387.27" y="48.62" width="3.5" height="3.5" fill="#fff" stroke="#3db4b4" stroke-width="0.9"/>
<rect x="378.21" y="53.3" width="3.5" height="3.5" fill="#fff" stroke="#3db4b4" stroke-width="0.9"/>
<rect x="386.06" y="50" width="3.5" height="3.5" fill="#fff" stroke="#3db4b4" stroke-width="0.9"/>
<rect x="385.78" y="55.43" width="3.5" height="3.5" fill="#fff" stroke="#3db4b4" stroke-width="0.9"/>
<rect x="381.01" y="61.32" width="3.5" height="3.5" fill="#fff" stroke="#3db4b4" stroke-width="0.9"/>
<rect x="378.03" y="55.47" width="3.5" height="3.5" fill="#fff" stroke="#3db4b4" stroke-width="0.9"/>
<rect x="383.3" y="46.5" width="3" height="3" fill="#3db4b4" stroke="#3db4b4" stroke-width="0.9"/>
<rect x="383.3" y="68.7" width="3" height="3" fill="#3db4b4" stroke="#3db4b4" stroke-width="0.9"/>
<line x1="384.8" y1="48" x2="384.8" y2="50.4" stroke="#3db4b4" stroke-width="1.4"/>
<line x1="384.8" y1="63" x2="384.8" y2="70.2" stroke="#3db4b4" stroke-width="1.4"/>
<line x1="381.8" y1="48" x2="387.8" y2="48" stroke="#3db4b4" stroke-width="1.4"/>
<line x1="381.8" y1="70.2" x2="387.8" y2="70.2" stroke="#3db4b4" stroke-width="1.4"/>
<rect x="377.3" y="50.4" width="15" height="12.6" fill="none" stroke="#3db4b4" stroke-width="1.4"/>
<line x1="377.3" y1="56.5" x2="392.3" y2="56.5" stroke="#3db4b4" stroke-width="1.4"/>
<line x1="384.8" y1="161" x2="384.8" y2="164.5" stroke="#333" stroke-width="1.1"/>
<text x="392.4" y="173" font-size="9.63" text-anchor="end" fill="#1a1a1a" transform="rotate(-45 392.4 173)" stroke="#1a1a1a" stroke-width="0.1">CTRL</text>
<circle cx="406.94" cy="66.63" r="1.75" fill="#fff" stroke="#2a6f6f" stroke-width="0.9"/>
<circle cx="409.48" cy="90.22" r="1.75" fill="#fff" stroke="#2a6f6f" stroke-width="0.9"/>
<circle cx="409.17" cy="69.15" r="1.75" fill="#fff" stroke="#2a6f6f" stroke-width="0.9"/>
<circle cx="407.9" cy="66.31" r="1.75" fill="#fff" stroke="#2a6f6f" stroke-width="0.9"/>
<circle cx="411.96" cy="64.24" r="1.75" fill="#fff" stroke="#2a6f6f" stroke-width="0.9"/>
<circle cx="404.85" cy="64.1" r="1.75" fill="#fff" stroke="#2a6f6f" stroke-width="0.9"/>
<circle cx="410.4" cy="71.74" r="1.75" fill="#fff" stroke="#2a6f6f" stroke-width="0.9"/>
<circle cx="408.9" cy="66.13" r="1.75" fill="#fff" stroke="#2a6f6f" stroke-width="0.9"/>
<circle cx="412.23" cy="66.04" r="1.75" fill="#fff" stroke="#2a6f6f" stroke-width="0.9"/>
<circle cx="406.73" cy="67.97" r="1.75" fill="#fff" stroke="#2a6f6f" stroke-width="0.9"/>
<circle cx="408.2" cy="66.23" r="1.75" fill="#fff" stroke="#2a6f6f" stroke-width="0.9"/>
<circle cx="406.82" cy="65.3" r="1.75" fill="#fff" stroke="#2a6f6f" stroke-width="0.9"/>
<circle cx="405.03" cy="68.88" r="1.75" fill="#fff" stroke="#2a6f6f" stroke-width="0.9"/>
<circle cx="409.87" cy="69.37" r="1.75" fill="#fff" stroke="#2a6f6f" stroke-width="0.9"/>
<circle cx="403.66" cy="68.62" r="1.75" fill="#fff" stroke="#2a6f6f" stroke-width="0.9"/>
<circle cx="411.67" cy="70.28" r="1.75" fill="#fff" stroke="#2a6f6f" stroke-width="0.9"/>
<circle cx="405.36" cy="65.79" r="1.75" fill="#fff" stroke="#2a6f6f" stroke-width="0.9"/>
<circle cx="407.69" cy="62.86" r="1.75" fill="#fff" stroke="#2a6f6f" stroke-width="0.9"/>
<circle cx="404.52" cy="69.93" r="1.75" fill="#fff" stroke="#2a6f6f" stroke-width="0.9"/>
<circle cx="410.13" cy="54.42" r="1.75" fill="#fff" stroke="#2a6f6f" stroke-width="0.9"/>
<circle cx="406.88" cy="61.41" r="1.75" fill="#fff" stroke="#2a6f6f" stroke-width="0.9"/>
<circle cx="406.19" cy="69.12" r="1.75" fill="#fff" stroke="#2a6f6f" stroke-width="0.9"/>
<circle cx="407.3" cy="54.4" r="1.5" fill="#2a6f6f" stroke="#2a6f6f" stroke-width="0.9"/>
<circle cx="407.3" cy="102.5" r="1.5" fill="#2a6f6f" stroke="#2a6f6f" stroke-width="0.9"/>
<line x1="407.3" y1="54.4" x2="407.3" y2="61.7" stroke="#2a6f6f" stroke-width="1.4"/>
<line x1="407.3" y1="71.5" x2="407.3" y2="102.5" stroke="#2a6f6f" stroke-width="1.4"/>
<line x1="404.3" y1="54.4" x2="410.3" y2="54.4" stroke="#2a6f6f" stroke-width="1.4"/>
<line x1="404.3" y1="102.5" x2="410.3" y2="102.5" stroke="#2a6f6f" stroke-width="1.4"/>
<rect x="399.6" y="61.7" width="15.5" height="9.8" fill="none" stroke="#2a6f6f" stroke-width="1.4"/>
<line x1="399.6" y1="66.2" x2="415.1" y2="66.2" stroke="#2a6f6f" stroke-width="1.4"/>
<line x1="407.3" y1="161" x2="407.3" y2="164.5" stroke="#333" stroke-width="1.1"/>
<text x="414.9" y="173" font-size="9.63" text-anchor="end" fill="#1a1a1a" transform="rotate(-45 414.9 173)" stroke="#1a1a1a" stroke-width="0.1">CUS</text>
<polygon points="435.71,48.57 437.55,51.9 433.88,51.9" fill="#fff" stroke="#f26a2e" stroke-width="0.9"/>
<polygon points="437.39,50.5 439.22,53.82 435.55,53.82" fill="#fff" stroke="#f26a2e" stroke-width="0.9"/>
<polygon points="440.83,64.21 442.66,67.54 438.99,67.54" fill="#fff" stroke="#f26a2e" stroke-width="0.9"/>
<polygon points="440.48,51.09 442.32,54.42 438.64,54.42" fill="#fff" stroke="#f26a2e" stroke-width="0.9"/>
<polygon points="434.41,54.16 436.25,57.48 432.57,57.48" fill="#fff" stroke="#f26a2e" stroke-width="0.9"/>
<polygon points="430.85,50.61 432.69,53.93 429.02,53.93" fill="#fff" stroke="#f26a2e" stroke-width="0.9"/>
<polygon points="439.26,50.54 441.1,53.87 437.42,53.87" fill="#fff" stroke="#f26a2e" stroke-width="0.9"/>
<polygon points="439.49,43.77 441.33,47.09 437.65,47.09" fill="#fff" stroke="#f26a2e" stroke-width="0.9"/>
<polygon points="431.31,53.45 433.14,56.77 429.47,56.77" fill="#fff" stroke="#f26a2e" stroke-width="0.9"/>
<polygon points="435.52,49.29 437.36,52.62 433.68,52.62" fill="#fff" stroke="#f26a2e" stroke-width="0.9"/>
<polygon points="437.11,51.59 438.94,54.92 435.27,54.92" fill="#fff" stroke="#f26a2e" stroke-width="0.9"/>
<polygon points="433.85,52.58 435.69,55.9 432.01,55.9" fill="#fff" stroke="#f26a2e" stroke-width="0.9"/>
<polygon points="432.69,53.17 434.52,56.49 430.85,56.49" fill="#fff" stroke="#f26a2e" stroke-width="0.9"/>
<polygon points="435.51,53.37 437.34,56.7 433.67,56.7" fill="#fff" stroke="#f26a2e" stroke-width="0.9"/>
<polygon points="439.81,44.25 441.65,47.57 437.97,47.57" fill="#fff" stroke="#f26a2e" stroke-width="0.9"/>
<polygon points="433.02,63.06 434.85,66.38 431.18,66.38" fill="#fff" stroke="#f26a2e" stroke-width="0.9"/>
<polygon points="435.82,50.43 437.66,53.75 433.98,53.75" fill="#fff" stroke="#f26a2e" stroke-width="0.9"/>
<polygon points="438.27,56.66 440.1,59.98 436.43,59.98" fill="#fff" stroke="#f26a2e" stroke-width="0.9"/>
<polygon points="439.43,51.34 441.26,54.66 437.59,54.66" fill="#fff" stroke="#f26a2e" stroke-width="0.9"/>
<polygon points="436.86,50.26 438.7,53.59 435.02,53.59" fill="#fff" stroke="#f26a2e" stroke-width="0.9"/>
<polygon points="431.15,50.61 432.99,53.93 429.32,53.93" fill="#fff" stroke="#f26a2e" stroke-width="0.9"/>
<polygon points="433.95,53.02 435.79,56.35 432.11,56.35" fill="#fff" stroke="#f26a2e" stroke-width="0.9"/>
<polygon points="436,43.55 437.57,46.4 434.43,46.4" fill="#f26a2e" stroke="#f26a2e" stroke-width="0.9"/>
<polygon points="436,67.15 437.57,70 434.43,70" fill="#f26a2e" stroke="#f26a2e" stroke-width="0.9"/>
<line x1="436" y1="45.2" x2="436" y2="46.8" stroke="#f26a2e" stroke-width="1.4"/>
<line x1="436" y1="58.3" x2="436" y2="68.8" stroke="#f26a2e" stroke-width="1.4"/>
<line x1="433" y1="45.2" x2="439" y2="45.2" stroke="#f26a2e" stroke-width="1.4"/>
<line x1="433" y1="68.8" x2="439" y2="68.8" stroke="#f26a2e" stroke-width="1.4"/>
<rect x="428.5" y="46.8" width="15" height="11.5" fill="none" stroke="#f26a2e" stroke-width="1.4"/>
<line x1="428.5" y1="53.9" x2="443.5" y2="53.9" stroke="#f26a2e" stroke-width="1.4"/>
<line x1="436" y1="161" x2="436" y2="164.5" stroke="#333" stroke-width="1.1"/>
<text x="443.6" y="173" font-size="9.63" text-anchor="end" fill="#1a1a1a" transform="rotate(-45 443.6 173)" stroke="#1a1a1a" stroke-width="0.1">CTRL</text>
<polygon points="462.46,84.86 464.3,81.53 460.62,81.53" fill="#fff" stroke="#9c3c17" stroke-width="0.9"/>
<polygon points="458.98,78.98 460.82,75.66 457.14,75.66" fill="#fff" stroke="#9c3c17" stroke-width="0.9"/>
<polygon points="461.17,79.81 463.01,76.48 459.33,76.48" fill="#fff" stroke="#9c3c17" stroke-width="0.9"/>
<polygon points="454.86,77.53 456.7,74.21 453.03,74.21" fill="#fff" stroke="#9c3c17" stroke-width="0.9"/>
<polygon points="462.44,76.24 464.28,72.91 460.6,72.91" fill="#fff" stroke="#9c3c17" stroke-width="0.9"/>
<polygon points="453.78,79.52 455.62,76.2 451.94,76.2" fill="#fff" stroke="#9c3c17" stroke-width="0.9"/>
<polygon points="454.92,86.35 456.76,83.03 453.09,83.03" fill="#fff" stroke="#9c3c17" stroke-width="0.9"/>
<polygon points="461.13,81.2 462.97,77.87 459.29,77.87" fill="#fff" stroke="#9c3c17" stroke-width="0.9"/>
<polygon points="456.07,78.09 457.9,74.77 454.23,74.77" fill="#fff" stroke="#9c3c17" stroke-width="0.9"/>
<polygon points="456.33,91.23 458.17,87.9 454.5,87.9" fill="#fff" stroke="#9c3c17" stroke-width="0.9"/>
<polygon points="459.94,85.45 461.78,82.12 458.11,82.12" fill="#fff" stroke="#9c3c17" stroke-width="0.9"/>
<polygon points="456.36,68.96 458.2,65.64 454.52,65.64" fill="#fff" stroke="#9c3c17" stroke-width="0.9"/>
<polygon points="461.88,82.55 463.72,79.22 460.04,79.22" fill="#fff" stroke="#9c3c17" stroke-width="0.9"/>
<polygon points="455.63,85.77 457.46,82.44 453.79,82.44" fill="#fff" stroke="#9c3c17" stroke-width="0.9"/>
<polygon points="462.25,76.85 464.09,73.53 460.41,73.53" fill="#fff" stroke="#9c3c17" stroke-width="0.9"/>
<polygon points="458.69,102.64 460.53,99.32 456.86,99.32" fill="#fff" stroke="#9c3c17" stroke-width="0.9"/>
<polygon points="456.64,82.66 458.48,79.33 454.81,79.33" fill="#fff" stroke="#9c3c17" stroke-width="0.9"/>
<polygon points="461.13,67.86 462.97,64.54 459.29,64.54" fill="#fff" stroke="#9c3c17" stroke-width="0.9"/>
<polygon points="463.62,87.69 465.45,84.37 461.78,84.37" fill="#fff" stroke="#9c3c17" stroke-width="0.9"/>
<polygon points="457.7,87.03 459.54,83.7 455.86,83.7" fill="#fff" stroke="#9c3c17" stroke-width="0.9"/>
<polygon points="463.72,87.27 465.56,83.95 461.88,83.95" fill="#fff" stroke="#9c3c17" stroke-width="0.9"/>
<polygon points="463.46,81.81 465.3,78.48 461.63,78.48" fill="#fff" stroke="#9c3c17" stroke-width="0.9"/>
<polygon points="458.9,60.75 460.47,57.9 457.32,57.9" fill="#9c3c17" stroke="#9c3c17" stroke-width="0.9"/>
<polygon points="458.9,155.85 460.47,153 457.32,153" fill="#9c3c17" stroke="#9c3c17" stroke-width="0.9"/>
<line x1="458.9" y1="59.1" x2="458.9" y2="69.6" stroke="#9c3c17" stroke-width="1.4"/>
<line x1="458.9" y1="92" x2="458.9" y2="154.2" stroke="#9c3c17" stroke-width="1.4"/>
<line x1="455.9" y1="59.1" x2="461.9" y2="59.1" stroke="#9c3c17" stroke-width="1.4"/>
<line x1="455.9" y1="154.2" x2="461.9" y2="154.2" stroke="#9c3c17" stroke-width="1.4"/>
<rect x="451.4" y="69.6" width="14.9" height="22.4" fill="none" stroke="#9c3c17" stroke-width="1.4"/>
<line x1="451.4" y1="80.1" x2="466.3" y2="80.1" stroke="#9c3c17" stroke-width="1.4"/>
<line x1="458.9" y1="161" x2="458.9" y2="164.5" stroke="#333" stroke-width="1.1"/>
<text x="466.5" y="173" font-size="9.63" text-anchor="end" fill="#1a1a1a" transform="rotate(-45 466.5 173)" stroke="#1a1a1a" stroke-width="0.1">CUS</text>
<line x1="385.2" y1="42.8" x2="407.5" y2="42.8" stroke="#555" stroke-width="1.3"/>
<text x="396.35" y="43.86" font-size="10.51" text-anchor="middle" fill="#1a1a1a" stroke="#1a1a1a" stroke-width="0.1">****</text>
<line x1="437.4" y1="41.3" x2="459.3" y2="41.3" stroke="#555" stroke-width="1.3"/>
<text x="448.35" y="42.36" font-size="10.51" text-anchor="middle" fill="#1a1a1a" stroke="#1a1a1a" stroke-width="0.1">****</text>
<text x="196" y="207.8" font-size="11.28" text-anchor="start" fill="#000" font-weight="bold">e</text>
<text x="344" y="207.8" font-size="11.28" text-anchor="start" fill="#000" font-weight="bold">f</text>
<text x="-0.2" y="207.8" font-size="11.28" text-anchor="start" fill="#000" font-weight="bold">d</text>
<line x1="230.8" y1="244.7" x2="230.8" y2="361" stroke="#333" stroke-width="1.2"/>
<line x1="230.2" y1="360.4" x2="335.5" y2="360.4" stroke="#333" stroke-width="1.2"/>
<line x1="226.8" y1="245.2" x2="230.8" y2="245.2" stroke="#333" stroke-width="1.1"/>
<text x="223.5" y="248.5" font-size="9.63" text-anchor="end" fill="#1a1a1a" stroke="#1a1a1a" stroke-width="0.1">15</text>
<line x1="226.8" y1="283.3" x2="230.8" y2="283.3" stroke="#333" stroke-width="1.1"/>
<text x="223.5" y="286.6" font-size="9.63" text-anchor="end" fill="#1a1a1a" stroke="#1a1a1a" stroke-width="0.1">10</text>
<line x1="226.8" y1="321.9" x2="230.8" y2="321.9" stroke="#333" stroke-width="1.1"/>
<text x="223.5" y="325.2" font-size="9.63" text-anchor="end" fill="#1a1a1a" stroke="#1a1a1a" stroke-width="0.1">5</text>
<line x1="226.8" y1="360.3" x2="230.8" y2="360.3" stroke="#333" stroke-width="1.1"/>
<text x="223.5" y="363.6" font-size="9.63" text-anchor="end" fill="#1a1a1a" stroke="#1a1a1a" stroke-width="0.1">0</text>
<text x="207.28" y="291.2" font-size="9.42" text-anchor="middle" fill="#1a1a1a" transform="rotate(-90 207.28 291.2)" stroke="#1a1a1a" stroke-width="0.1">Duration (min)</text>
<line x1="282.7" y1="245.3" x2="282.7" y2="360.4" stroke="#888" stroke-width="0.9" stroke-dasharray="1,1.3"/>
<text x="282.2" y="211.5" font-size="10.56" text-anchor="middle" fill="#1a1a1a" stroke="#1a1a1a" stroke-width="0.1">Time in center</text>
<text x="256.4" y="228.7" font-size="9.31" text-anchor="middle" fill="#3db4b4" stroke="#3db4b4" stroke-width="0.1">Male</text>
<line x1="234.4" y1="232.6" x2="278.8" y2="232.6" stroke="#3db4b4" stroke-width="2"/>
<text x="309.8" y="228.7" font-size="9.31" text-anchor="middle" fill="#f26a2e" stroke="#f26a2e" stroke-width="0.1">Female</text>
<line x1="286.6" y1="232.6" x2="331.3" y2="232.6" stroke="#f26a2e" stroke-width="2"/>
<rect x="240.38" y="288.32" width="3.5" height="3.5" fill="#fff" stroke="#3db4b4" stroke-width="0.9"/>
<rect x="243.27" y="310.12" width="3.5" height="3.5" fill="#fff" stroke="#3db4b4" stroke-width="0.9"/>
<rect x="245.73" y="300.24" width="3.5" height="3.5" fill="#fff" stroke="#3db4b4" stroke-width="0.9"/>
<rect x="242.48" y="301.71" width="3.5" height="3.5" fill="#fff" stroke="#3db4b4" stroke-width="0.9"/>
<rect x="244.64" y="312.71" width="3.5" height="3.5" fill="#fff" stroke="#3db4b4" stroke-width="0.9"/>
<rect x="242.24" y="317.27" width="3.5" height="3.5" fill="#fff" stroke="#3db4b4" stroke-width="0.9"/>
<rect x="247.69" y="277.68" width="3.5" height="3.5" fill="#fff" stroke="#3db4b4" stroke-width="0.9"/>
<rect x="241.4" y="288.79" width="3.5" height="3.5" fill="#fff" stroke="#3db4b4" stroke-width="0.9"/>
<rect x="240.62" y="301.75" width="3.5" height="3.5" fill="#fff" stroke="#3db4b4" stroke-width="0.9"/>
<rect x="248.19" y="289.34" width="3.5" height="3.5" fill="#fff" stroke="#3db4b4" stroke-width="0.9"/>
<rect x="242.58" y="285.2" width="3.5" height="3.5" fill="#fff" stroke="#3db4b4" stroke-width="0.9"/>
<rect x="241.64" y="274.91" width="3.5" height="3.5" fill="#fff" stroke="#3db4b4" stroke-width="0.9"/>
<rect x="247.99" y="291.5" width="3.5" height="3.5" fill="#fff" stroke="#3db4b4" stroke-width="0.9"/>
<rect x="242.73" y="307.96" width="3.5" height="3.5" fill="#fff" stroke="#3db4b4" stroke-width="0.9"/>
<rect x="242.1" y="294.24" width="3.5" height="3.5" fill="#fff" stroke="#3db4b4" stroke-width="0.9"/>
<rect x="240.96" y="319.06" width="3.5" height="3.5" fill="#fff" stroke="#3db4b4" stroke-width="0.9"/>
<rect x="238.71" y="267.52" width="3.5" height="3.5" fill="#fff" stroke="#3db4b4" stroke-width="0.9"/>
<rect x="244.45" y="294.12" width="3.5" height="3.5" fill="#fff" stroke="#3db4b4" stroke-width="0.9"/>
<rect x="246.8" y="280.82" width="3.5" height="3.5" fill="#fff" stroke="#3db4b4" stroke-width="0.9"/>
<rect x="241.24" y="294.08" width="3.5" height="3.5" fill="#fff" stroke="#3db4b4" stroke-width="0.9"/>
<rect x="245.08" y="310.08" width="3.5" height="3.5" fill="#fff" stroke="#3db4b4" stroke-width="0.9"/>
<rect x="247" y="286.32" width="3.5" height="3.5" fill="#fff" stroke="#3db4b4" stroke-width="0.9"/>
<rect x="244.1" y="263.9" width="3" height="3" fill="#3db4b4" stroke="#3db4b4" stroke-width="0.9"/>
<rect x="244.1" y="343.5" width="3" height="3" fill="#3db4b4" stroke="#3db4b4" stroke-width="0.9"/>
<line x1="245.6" y1="265.4" x2="245.6" y2="280.1" stroke="#3db4b4" stroke-width="1.4"/>
<line x1="245.6" y1="317.4" x2="245.6" y2="345" stroke="#3db4b4" stroke-width="1.4"/>
<line x1="242.6" y1="265.4" x2="248.6" y2="265.4" stroke="#3db4b4" stroke-width="1.4"/>
<line x1="242.6" y1="345" x2="248.6" y2="345" stroke="#3db4b4" stroke-width="1.4"/>
<rect x="238" y="280.1" width="15.3" height="37.3" fill="none" stroke="#3db4b4" stroke-width="1.4"/>
<line x1="238" y1="297.2" x2="253.3" y2="297.2" stroke="#3db4b4" stroke-width="1.4"/>
<line x1="245.6" y1="360.4" x2="245.6" y2="363.9" stroke="#333" stroke-width="1.1"/>
<text x="253.2" y="372.4" font-size="9.63" text-anchor="end" fill="#1a1a1a" transform="rotate(-45 253.2 372.4)" stroke="#1a1a1a" stroke-width="0.1">CTRL</text>
<circle cx="271.98" cy="299.24" r="1.75" fill="#fff" stroke="#2a6f6f" stroke-width="0.9"/>
<circle cx="268.93" cy="284.87" r="1.75" fill="#fff" stroke="#2a6f6f" stroke-width="0.9"/>
<circle cx="272.35" cy="294.58" r="1.75" fill="#fff" stroke="#2a6f6f" stroke-width="0.9"/>
<circle cx="272.28" cy="304.31" r="1.75" fill="#fff" stroke="#2a6f6f" stroke-width="0.9"/>
<circle cx="267.75" cy="323.17" r="1.75" fill="#fff" stroke="#2a6f6f" stroke-width="0.9"/>
<circle cx="268.74" cy="289.89" r="1.75" fill="#fff" stroke="#2a6f6f" stroke-width="0.9"/>
<circle cx="271.36" cy="291.07" r="1.75" fill="#fff" stroke="#2a6f6f" stroke-width="0.9"/>
<circle cx="272.41" cy="269.39" r="1.75" fill="#fff" stroke="#2a6f6f" stroke-width="0.9"/>
<circle cx="263.74" cy="295.28" r="1.75" fill="#fff" stroke="#2a6f6f" stroke-width="0.9"/>
<circle cx="271.89" cy="317.46" r="1.75" fill="#fff" stroke="#2a6f6f" stroke-width="0.9"/>
<circle cx="265.53" cy="311.42" r="1.75" fill="#fff" stroke="#2a6f6f" stroke-width="0.9"/>
<circle cx="266.76" cy="308.32" r="1.75" fill="#fff" stroke="#2a6f6f" stroke-width="0.9"/>
<circle cx="264.14" cy="281.98" r="1.75" fill="#fff" stroke="#2a6f6f" stroke-width="0.9"/>
<circle cx="273.52" cy="288.9" r="1.75" fill="#fff" stroke="#2a6f6f" stroke-width="0.9"/>
<circle cx="271.45" cy="313.46" r="1.75" fill="#fff" stroke="#2a6f6f" stroke-width="0.9"/>
<circle cx="264.07" cy="305.82" r="1.75" fill="#fff" stroke="#2a6f6f" stroke-width="0.9"/>
<circle cx="268.26" cy="297.5" r="1.75" fill="#fff" stroke="#2a6f6f" stroke-width="0.9"/>
<circle cx="264.56" cy="302.37" r="1.75" fill="#fff" stroke="#2a6f6f" stroke-width="0.9"/>
<circle cx="264.21" cy="287.77" r="1.75" fill="#fff" stroke="#2a6f6f" stroke-width="0.9"/>
<circle cx="265.98" cy="313.31" r="1.75" fill="#fff" stroke="#2a6f6f" stroke-width="0.9"/>
<circle cx="264.29" cy="320.85" r="1.75" fill="#fff" stroke="#2a6f6f" stroke-width="0.9"/>
<circle cx="266.6" cy="275.09" r="1.75" fill="#fff" stroke="#2a6f6f" stroke-width="0.9"/>
<circle cx="268.4" cy="267.5" r="1.5" fill="#2a6f6f" stroke="#2a6f6f" stroke-width="0.9"/>
<circle cx="268.4" cy="331.4" r="1.5" fill="#2a6f6f" stroke="#2a6f6f" stroke-width="0.9"/>
<line x1="268.4" y1="267.5" x2="268.4" y2="283.3" stroke="#2a6f6f" stroke-width="1.4"/>
<line x1="268.4" y1="311.4" x2="268.4" y2="331.4" stroke="#2a6f6f" stroke-width="1.4"/>
<line x1="265.4" y1="267.5" x2="271.4" y2="267.5" stroke="#2a6f6f" stroke-width="1.4"/>
<line x1="265.4" y1="331.4" x2="271.4" y2="331.4" stroke="#2a6f6f" stroke-width="1.4"/>
<rect x="261.2" y="283.3" width="14.4" height="28.1" fill="none" stroke="#2a6f6f" stroke-width="1.4"/>
<line x1="261.2" y1="303" x2="275.6" y2="303" stroke="#2a6f6f" stroke-width="1.4"/>
<line x1="268.4" y1="360.4" x2="268.4" y2="363.9" stroke="#333" stroke-width="1.1"/>
<text x="276" y="372.4" font-size="9.63" text-anchor="end" fill="#1a1a1a" transform="rotate(-45 276 372.4)" stroke="#1a1a1a" stroke-width="0.1">CUS</text>
<polygon points="301.75,278.6 303.59,281.93 299.91,281.93" fill="#fff" stroke="#f26a2e" stroke-width="0.9"/>
<polygon points="301.13,294.5 302.97,297.82 299.29,297.82" fill="#fff" stroke="#f26a2e" stroke-width="0.9"/>
<polygon points="300.51,275.35 302.35,278.67 298.68,278.67" fill="#fff" stroke="#f26a2e" stroke-width="0.9"/>
<polygon points="300.76,264.89 302.6,268.22 298.93,268.22" fill="#fff" stroke="#f26a2e" stroke-width="0.9"/>
<polygon points="293.7,278.33 295.54,281.66 291.86,281.66" fill="#fff" stroke="#f26a2e" stroke-width="0.9"/>
<polygon points="294.19,284.29 296.03,287.62 292.35,287.62" fill="#fff" stroke="#f26a2e" stroke-width="0.9"/>
<polygon points="293.35,316.68 295.19,320 291.51,320" fill="#fff" stroke="#f26a2e" stroke-width="0.9"/>
<polygon points="295.19,289.37 297.03,292.7 293.35,292.7" fill="#fff" stroke="#f26a2e" stroke-width="0.9"/>
<polygon points="298.72,287.97 300.55,291.3 296.88,291.3" fill="#fff" stroke="#f26a2e" stroke-width="0.9"/>
<polygon points="294.54,287.78 296.38,291.11 292.7,291.11" fill="#fff" stroke="#f26a2e" stroke-width="0.9"/>
<polygon points="292.13,279.2 293.97,282.52 290.29,282.52" fill="#fff" stroke="#f26a2e" stroke-width="0.9"/>
<polygon points="297.46,288.32 299.29,291.64 295.62,291.64" fill="#fff" stroke="#f26a2e" stroke-width="0.9"/>
<polygon points="293.18,307.39 295.02,310.71 291.35,310.71" fill="#fff" stroke="#f26a2e" stroke-width="0.9"/>
<polygon points="300.52,287.75 302.36,291.08 298.69,291.08" fill="#fff" stroke="#f26a2e" stroke-width="0.9"/>
<polygon points="299.64,276.81 301.47,280.14 297.8,280.14" fill="#fff" stroke="#f26a2e" stroke-width="0.9"/>
<polygon points="298.64,284.4 300.47,287.73 296.8,287.73" fill="#fff" stroke="#f26a2e" stroke-width="0.9"/>
<polygon points="293.7,290.32 295.54,293.64 291.87,293.64" fill="#fff" stroke="#f26a2e" stroke-width="0.9"/>
<polygon points="294.85,280.28 296.68,283.6 293.01,283.6" fill="#fff" stroke="#f26a2e" stroke-width="0.9"/>
<polygon points="301.37,290.57 303.21,293.9 299.54,293.9" fill="#fff" stroke="#f26a2e" stroke-width="0.9"/>
<polygon points="292.78,290.98 294.61,294.31 290.94,294.31" fill="#fff" stroke="#f26a2e" stroke-width="0.9"/>
<polygon points="296.95,281.13 298.78,284.46 295.11,284.46" fill="#fff" stroke="#f26a2e" stroke-width="0.9"/>
<polygon points="294.7,278.63 296.53,281.96 292.86,281.96" fill="#fff" stroke="#f26a2e" stroke-width="0.9"/>
<polygon points="297.2,255.85 298.77,258.7 295.62,258.7" fill="#f26a2e" stroke="#f26a2e" stroke-width="0.9"/>
<polygon points="297.2,329.75 298.77,332.6 295.62,332.6" fill="#f26a2e" stroke="#f26a2e" stroke-width="0.9"/>
<line x1="297.2" y1="257.5" x2="297.2" y2="277.5" stroke="#f26a2e" stroke-width="1.4"/>
<line x1="297.2" y1="297.7" x2="297.2" y2="331.4" stroke="#f26a2e" stroke-width="1.4"/>
<line x1="294.2" y1="257.5" x2="300.2" y2="257.5" stroke="#f26a2e" stroke-width="1.4"/>
<line x1="294.2" y1="331.4" x2="300.2" y2="331.4" stroke="#f26a2e" stroke-width="1.4"/>
<rect x="290" y="277.5" width="14.5" height="20.2" fill="none" stroke="#f26a2e" stroke-width="1.4"/>
<line x1="290" y1="289.3" x2="304.5" y2="289.3" stroke="#f26a2e" stroke-width="1.4"/>
<line x1="297.2" y1="360.4" x2="297.2" y2="363.9" stroke="#333" stroke-width="1.1"/>
<text x="304.8" y="372.4" font-size="9.63" text-anchor="end" fill="#1a1a1a" transform="rotate(-45 304.8 372.4)" stroke="#1a1a1a" stroke-width="0.1">CTRL</text>
<polygon points="317.36,322.98 319.2,319.66 315.52,319.66" fill="#fff" stroke="#9c3c17" stroke-width="0.9"/>
<polygon points="318.4,295.02 320.24,291.69 316.57,291.69" fill="#fff" stroke="#9c3c17" stroke-width="0.9"/>
<polygon points="316.64,262.45 318.47,259.13 314.8,259.13" fill="#fff" stroke="#9c3c17" stroke-width="0.9"/>
<polygon points="319.86,274.12 321.7,270.79 318.03,270.79" fill="#fff" stroke="#9c3c17" stroke-width="0.9"/>
<polygon points="319.94,276.31 321.78,272.98 318.1,272.98" fill="#fff" stroke="#9c3c17" stroke-width="0.9"/>
<polygon points="323.91,268.46 325.75,265.14 322.07,265.14" fill="#fff" stroke="#9c3c17" stroke-width="0.9"/>
<polygon points="320.83,271.58 322.66,268.26 318.99,268.26" fill="#fff" stroke="#9c3c17" stroke-width="0.9"/>
<polygon points="316.45,275.76 318.29,272.44 314.61,272.44" fill="#fff" stroke="#9c3c17" stroke-width="0.9"/>
<polygon points="318.06,282.28 319.89,278.96 316.22,278.96" fill="#fff" stroke="#9c3c17" stroke-width="0.9"/>
<polygon points="319.77,262.06 321.61,258.74 317.93,258.74" fill="#fff" stroke="#9c3c17" stroke-width="0.9"/>
<polygon points="318.02,303.64 319.85,300.32 316.18,300.32" fill="#fff" stroke="#9c3c17" stroke-width="0.9"/>
<polygon points="324.17,294.12 326.01,290.79 322.34,290.79" fill="#fff" stroke="#9c3c17" stroke-width="0.9"/>
<polygon points="319.01,279.97 320.85,276.64 317.18,276.64" fill="#fff" stroke="#9c3c17" stroke-width="0.9"/>
<polygon points="319.15,304.97 320.99,301.65 317.31,301.65" fill="#fff" stroke="#9c3c17" stroke-width="0.9"/>
<polygon points="319.68,292.17 321.52,288.84 317.85,288.84" fill="#fff" stroke="#9c3c17" stroke-width="0.9"/>
<polygon points="319.81,319.16 321.65,315.83 317.97,315.83" fill="#fff" stroke="#9c3c17" stroke-width="0.9"/>
<polygon points="324.76,292.84 326.59,289.51 322.92,289.51" fill="#fff" stroke="#9c3c17" stroke-width="0.9"/>
<polygon points="324.33,282.36 326.17,279.04 322.49,279.04" fill="#fff" stroke="#9c3c17" stroke-width="0.9"/>
<polygon points="317.01,319.86 318.85,316.53 315.17,316.53" fill="#fff" stroke="#9c3c17" stroke-width="0.9"/>
<polygon points="315,294.22 316.84,290.9 313.16,290.9" fill="#fff" stroke="#9c3c17" stroke-width="0.9"/>
<polygon points="317.94,290.5 319.77,287.18 316.1,287.18" fill="#fff" stroke="#9c3c17" stroke-width="0.9"/>
<polygon points="320.52,301.23 322.36,297.9 318.69,297.9" fill="#fff" stroke="#9c3c17" stroke-width="0.9"/>
<polygon points="320.2,260.45 321.77,257.6 318.62,257.6" fill="#9c3c17" stroke="#9c3c17" stroke-width="0.9"/>
<polygon points="320.2,329.55 321.77,326.7 318.62,326.7" fill="#9c3c17" stroke="#9c3c17" stroke-width="0.9"/>
<line x1="320.2" y1="258.8" x2="320.2" y2="272.2" stroke="#9c3c17" stroke-width="1.4"/>
<line x1="320.2" y1="303" x2="320.2" y2="327.9" stroke="#9c3c17" stroke-width="1.4"/>
<line x1="317.2" y1="258.8" x2="323.2" y2="258.8" stroke="#9c3c17" stroke-width="1.4"/>
<line x1="317.2" y1="327.9" x2="323.2" y2="327.9" stroke="#9c3c17" stroke-width="1.4"/>
<rect x="312.9" y="272.2" width="14.7" height="30.8" fill="none" stroke="#9c3c17" stroke-width="1.4"/>
<line x1="312.9" y1="288" x2="327.6" y2="288" stroke="#9c3c17" stroke-width="1.4"/>
<line x1="320.2" y1="360.4" x2="320.2" y2="363.9" stroke="#333" stroke-width="1.1"/>
<text x="327.8" y="372.4" font-size="9.63" text-anchor="end" fill="#1a1a1a" transform="rotate(-45 327.8 372.4)" stroke="#1a1a1a" stroke-width="0.1">CUS</text>
<line x1="244.9" y1="251" x2="267.7" y2="251" stroke="#555" stroke-width="1.3"/>
<text x="257.1" y="249.1" font-size="8.9" text-anchor="middle" fill="#1a1a1a" stroke="#1a1a1a" stroke-width="0.1">n.s.</text>
<line x1="297.9" y1="251" x2="320.3" y2="251" stroke="#555" stroke-width="1.3"/>
<text x="309.9" y="249.1" font-size="8.9" text-anchor="middle" fill="#1a1a1a" stroke="#1a1a1a" stroke-width="0.1">n.s.</text>
<line x1="378.5" y1="243" x2="378.5" y2="361.3" stroke="#333" stroke-width="1.2"/>
<line x1="377.9" y1="360.7" x2="484.2" y2="360.7" stroke="#333" stroke-width="1.2"/>
<line x1="374.5" y1="243.6" x2="378.5" y2="243.6" stroke="#333" stroke-width="1.1"/>
<text x="371.2" y="247.2" font-size="9.63" text-anchor="end" fill="#1a1a1a" stroke="#1a1a1a" stroke-width="0.1">80</text>
<line x1="374.5" y1="272.6" x2="378.5" y2="272.6" stroke="#333" stroke-width="1.1"/>
<text x="371.2" y="276.2" font-size="9.63" text-anchor="end" fill="#1a1a1a" stroke="#1a1a1a" stroke-width="0.1">60</text>
<line x1="374.5" y1="302" x2="378.5" y2="302" stroke="#333" stroke-width="1.1"/>
<text x="371.2" y="305.6" font-size="9.63" text-anchor="end" fill="#1a1a1a" stroke="#1a1a1a" stroke-width="0.1">40</text>
<line x1="374.5" y1="331.3" x2="378.5" y2="331.3" stroke="#333" stroke-width="1.1"/>
<text x="371.2" y="334.9" font-size="9.63" text-anchor="end" fill="#1a1a1a" stroke="#1a1a1a" stroke-width="0.1">20</text>
<line x1="374.5" y1="360.7" x2="378.5" y2="360.7" stroke="#333" stroke-width="1.1"/>
<text x="371.2" y="364.3" font-size="9.63" text-anchor="end" fill="#1a1a1a" stroke="#1a1a1a" stroke-width="0.1">0</text>
<text x="353.38" y="295.1" font-size="9.42" text-anchor="middle" fill="#1a1a1a" transform="rotate(-90 353.38 295.1)" stroke="#1a1a1a" stroke-width="0.1">Distance (m)</text>
<line x1="431.7" y1="243.6" x2="431.7" y2="360.7" stroke="#888" stroke-width="0.9" stroke-dasharray="1,1.3"/>
<text x="430.4" y="211.5" font-size="10.56" text-anchor="middle" fill="#1a1a1a" stroke="#1a1a1a" stroke-width="0.1">Distance moved</text>
<text x="404.1" y="228.7" font-size="9.31" text-anchor="middle" fill="#3db4b4" stroke="#3db4b4" stroke-width="0.1">Male</text>
<line x1="382.3" y1="232.6" x2="426.4" y2="232.6" stroke="#3db4b4" stroke-width="2"/>
<text x="457.9" y="228.7" font-size="9.31" text-anchor="middle" fill="#f26a2e" stroke="#f26a2e" stroke-width="0.1">Female</text>
<line x1="434.3" y1="232.6" x2="479" y2="232.6" stroke="#f26a2e" stroke-width="2"/>
<rect x="390.07" y="321.55" width="3.5" height="3.5" fill="#fff" stroke="#3db4b4" stroke-width="0.9"/>
<rect x="389.33" y="321.79" width="3.5" height="3.5" fill="#fff" stroke="#3db4b4" stroke-width="0.9"/>
<rect x="390.79" y="331.15" width="3.5" height="3.5" fill="#fff" stroke="#3db4b4" stroke-width="0.9"/>
<rect x="392.94" y="328.93" width="3.5" height="3.5" fill="#fff" stroke="#3db4b4" stroke-width="0.9"/>
<rect x="396.29" y="330.33" width="3.5" height="3.5" fill="#fff" stroke="#3db4b4" stroke-width="0.9"/>
<rect x="396.34" y="320.03" width="3.5" height="3.5" fill="#fff" stroke="#3db4b4" stroke-width="0.9"/>
<rect x="396.53" y="333.43" width="3.5" height="3.5" fill="#fff" stroke="#3db4b4" stroke-width="0.9"/>
<rect x="392.08" y="329.57" width="3.5" height="3.5" fill="#fff" stroke="#3db4b4" stroke-width="0.9"/>
<rect x="387.43" y="321.29" width="3.5" height="3.5" fill="#fff" stroke="#3db4b4" stroke-width="0.9"/>
<rect x="387.94" y="329.06" width="3.5" height="3.5" fill="#fff" stroke="#3db4b4" stroke-width="0.9"/>
<rect x="392.88" y="333.09" width="3.5" height="3.5" fill="#fff" stroke="#3db4b4" stroke-width="0.9"/>
<rect x="389.57" y="326.37" width="3.5" height="3.5" fill="#fff" stroke="#3db4b4" stroke-width="0.9"/>
<rect x="393.15" y="316.59" width="3.5" height="3.5" fill="#fff" stroke="#3db4b4" stroke-width="0.9"/>
<rect x="394.35" y="324.1" width="3.5" height="3.5" fill="#fff" stroke="#3db4b4" stroke-width="0.9"/>
<rect x="393.01" y="323.05" width="3.5" height="3.5" fill="#fff" stroke="#3db4b4" stroke-width="0.9"/>
<rect x="393.52" y="314.23" width="3.5" height="3.5" fill="#fff" stroke="#3db4b4" stroke-width="0.9"/>
<rect x="394.24" y="322.97" width="3.5" height="3.5" fill="#fff" stroke="#3db4b4" stroke-width="0.9"/>
<rect x="391.33" y="315.91" width="3.5" height="3.5" fill="#fff" stroke="#3db4b4" stroke-width="0.9"/>
<rect x="393.22" y="330.47" width="3.5" height="3.5" fill="#fff" stroke="#3db4b4" stroke-width="0.9"/>
<rect x="393.44" y="321.98" width="3.5" height="3.5" fill="#fff" stroke="#3db4b4" stroke-width="0.9"/>
<rect x="387.06" y="333.15" width="3.5" height="3.5" fill="#fff" stroke="#3db4b4" stroke-width="0.9"/>
<rect x="396.71" y="333.84" width="3.5" height="3.5" fill="#fff" stroke="#3db4b4" stroke-width="0.9"/>
<rect x="392.1" y="307.5" width="3" height="3" fill="#3db4b4" stroke="#3db4b4" stroke-width="0.9"/>
<rect x="392.1" y="336.2" width="3" height="3" fill="#3db4b4" stroke="#3db4b4" stroke-width="0.9"/>
<line x1="393.6" y1="309" x2="393.6" y2="320.6" stroke="#3db4b4" stroke-width="1.4"/>
<line x1="393.6" y1="334.5" x2="393.6" y2="337.7" stroke="#3db4b4" stroke-width="1.4"/>
<line x1="390.6" y1="309" x2="396.6" y2="309" stroke="#3db4b4" stroke-width="1.4"/>
<line x1="390.6" y1="337.7" x2="396.6" y2="337.7" stroke="#3db4b4" stroke-width="1.4"/>
<rect x="386.2" y="320.6" width="14.7" height="13.9" fill="none" stroke="#3db4b4" stroke-width="1.4"/>
<line x1="386.2" y1="327.4" x2="400.9" y2="327.4" stroke="#3db4b4" stroke-width="1.4"/>
<line x1="393.6" y1="360.7" x2="393.6" y2="364.2" stroke="#333" stroke-width="1.1"/>
<text x="401.2" y="372.7" font-size="9.63" text-anchor="end" fill="#1a1a1a" transform="rotate(-45 401.2 372.7)" stroke="#1a1a1a" stroke-width="0.1">CTRL</text>
<circle cx="420.52" cy="326.92" r="1.75" fill="#fff" stroke="#2a6f6f" stroke-width="0.9"/>
<circle cx="414.09" cy="328.68" r="1.75" fill="#fff" stroke="#2a6f6f" stroke-width="0.9"/>
<circle cx="415.22" cy="324.29" r="1.75" fill="#fff" stroke="#2a6f6f" stroke-width="0.9"/>
<circle cx="421.14" cy="324.51" r="1.75" fill="#fff" stroke="#2a6f6f" stroke-width="0.9"/>
<circle cx="421.35" cy="321.49" r="1.75" fill="#fff" stroke="#2a6f6f" stroke-width="0.9"/>
<circle cx="414.82" cy="324.83" r="1.75" fill="#fff" stroke="#2a6f6f" stroke-width="0.9"/>
<circle cx="417.44" cy="327.57" r="1.75" fill="#fff" stroke="#2a6f6f" stroke-width="0.9"/>
<circle cx="415.32" cy="317.62" r="1.75" fill="#fff" stroke="#2a6f6f" stroke-width="0.9"/>
<circle cx="418.42" cy="327.22" r="1.75" fill="#fff" stroke="#2a6f6f" stroke-width="0.9"/>
<circle cx="419.51" cy="326.36" r="1.75" fill="#fff" stroke="#2a6f6f" stroke-width="0.9"/>
<circle cx="420.95" cy="334.74" r="1.75" fill="#fff" stroke="#2a6f6f" stroke-width="0.9"/>
<circle cx="415.26" cy="326.4" r="1.75" fill="#fff" stroke="#2a6f6f" stroke-width="0.9"/>
<circle cx="418.24" cy="322.32" r="1.75" fill="#fff" stroke="#2a6f6f" stroke-width="0.9"/>
<circle cx="420.82" cy="317.98" r="1.75" fill="#fff" stroke="#2a6f6f" stroke-width="0.9"/>
<circle cx="412.96" cy="326.06" r="1.75" fill="#fff" stroke="#2a6f6f" stroke-width="0.9"/>
<circle cx="412.56" cy="329.22" r="1.75" fill="#fff" stroke="#2a6f6f" stroke-width="0.9"/>
<circle cx="416.58" cy="313.56" r="1.75" fill="#fff" stroke="#2a6f6f" stroke-width="0.9"/>
<circle cx="415.2" cy="332.2" r="1.75" fill="#fff" stroke="#2a6f6f" stroke-width="0.9"/>
<circle cx="418.62" cy="326.11" r="1.75" fill="#fff" stroke="#2a6f6f" stroke-width="0.9"/>
<circle cx="420.05" cy="324.5" r="1.75" fill="#fff" stroke="#2a6f6f" stroke-width="0.9"/>
<circle cx="411.65" cy="328.98" r="1.75" fill="#fff" stroke="#2a6f6f" stroke-width="0.9"/>
<circle cx="416.62" cy="316.59" r="1.75" fill="#fff" stroke="#2a6f6f" stroke-width="0.9"/>
<circle cx="416.7" cy="309" r="1.5" fill="#2a6f6f" stroke="#2a6f6f" stroke-width="0.9"/>
<circle cx="416.7" cy="338.4" r="1.5" fill="#2a6f6f" stroke="#2a6f6f" stroke-width="0.9"/>
<line x1="416.7" y1="309" x2="416.7" y2="318.7" stroke="#2a6f6f" stroke-width="1.4"/>
<line x1="416.7" y1="330.6" x2="416.7" y2="338.4" stroke="#2a6f6f" stroke-width="1.4"/>
<line x1="413.7" y1="309" x2="419.7" y2="309" stroke="#2a6f6f" stroke-width="1.4"/>
<line x1="413.7" y1="338.4" x2="419.7" y2="338.4" stroke="#2a6f6f" stroke-width="1.4"/>
<rect x="409.3" y="318.7" width="14.7" height="11.9" fill="none" stroke="#2a6f6f" stroke-width="1.4"/>
<line x1="409.3" y1="324.8" x2="424" y2="324.8" stroke="#2a6f6f" stroke-width="1.4"/>
<line x1="416.7" y1="360.7" x2="416.7" y2="364.2" stroke="#333" stroke-width="1.1"/>
<text x="424.3" y="372.7" font-size="9.63" text-anchor="end" fill="#1a1a1a" transform="rotate(-45 424.3 372.7)" stroke="#1a1a1a" stroke-width="0.1">CUS</text>
<polygon points="441.39,332.84 443.22,336.16 439.55,336.16" fill="#fff" stroke="#f26a2e" stroke-width="0.9"/>
<polygon points="449.21,333.69 451.05,337.01 447.37,337.01" fill="#fff" stroke="#f26a2e" stroke-width="0.9"/>
<polygon points="443.41,327.45 445.24,330.78 441.57,330.78" fill="#fff" stroke="#f26a2e" stroke-width="0.9"/>
<polygon points="444.08,328.26 445.92,331.58 442.24,331.58" fill="#fff" stroke="#f26a2e" stroke-width="0.9"/>
<polygon points="444.65,329.64 446.49,332.97 442.81,332.97" fill="#fff" stroke="#f26a2e" stroke-width="0.9"/>
<polygon points="449.24,329.11 451.08,332.44 447.41,332.44" fill="#fff" stroke="#f26a2e" stroke-width="0.9"/>
<polygon points="449.46,327.34 451.29,330.66 447.62,330.66" fill="#fff" stroke="#f26a2e" stroke-width="0.9"/>
<polygon points="443.13,336.26 444.97,339.58 441.29,339.58" fill="#fff" stroke="#f26a2e" stroke-width="0.9"/>
<polygon points="448.26,332.32 450.09,335.65 446.42,335.65" fill="#fff" stroke="#f26a2e" stroke-width="0.9"/>
<polygon points="441.91,324.8 443.75,328.13 440.08,328.13" fill="#fff" stroke="#f26a2e" stroke-width="0.9"/>
<polygon points="449.1,328.46 450.93,331.79 447.26,331.79" fill="#fff" stroke="#f26a2e" stroke-width="0.9"/>
<polygon points="440.82,324.89 442.66,328.21 438.99,328.21" fill="#fff" stroke="#f26a2e" stroke-width="0.9"/>
<polygon points="445.56,334.3 447.4,337.62 443.72,337.62" fill="#fff" stroke="#f26a2e" stroke-width="0.9"/>
<polygon points="446.82,331.61 448.66,334.93 444.98,334.93" fill="#fff" stroke="#f26a2e" stroke-width="0.9"/>
<polygon points="443.22,333.45 445.05,336.77 441.38,336.77" fill="#fff" stroke="#f26a2e" stroke-width="0.9"/>
<polygon points="442.6,326.17 444.43,329.5 440.76,329.5" fill="#fff" stroke="#f26a2e" stroke-width="0.9"/>
<polygon points="449.47,325.55 451.31,328.88 447.64,328.88" fill="#fff" stroke="#f26a2e" stroke-width="0.9"/>
<polygon points="440.66,317.57 442.49,320.89 438.82,320.89" fill="#fff" stroke="#f26a2e" stroke-width="0.9"/>
<polygon points="449.51,326.48 451.35,329.81 447.67,329.81" fill="#fff" stroke="#f26a2e" stroke-width="0.9"/>
<polygon points="448.79,326.62 450.63,329.95 446.95,329.95" fill="#fff" stroke="#f26a2e" stroke-width="0.9"/>
<polygon points="446.83,331.42 448.67,334.75 445,334.75" fill="#fff" stroke="#f26a2e" stroke-width="0.9"/>
<polygon points="445.44,326.48 447.28,329.8 443.6,329.8" fill="#fff" stroke="#f26a2e" stroke-width="0.9"/>
<polygon points="445.5,310.55 447.07,313.4 443.93,313.4" fill="#f26a2e" stroke="#f26a2e" stroke-width="0.9"/>
<polygon points="445.5,345.25 447.07,348.1 443.93,348.1" fill="#f26a2e" stroke="#f26a2e" stroke-width="0.9"/>
<line x1="445.5" y1="312.2" x2="445.5" y2="325.3" stroke="#f26a2e" stroke-width="1.4"/>
<line x1="445.5" y1="337.9" x2="445.5" y2="346.9" stroke="#f26a2e" stroke-width="1.4"/>
<line x1="442.5" y1="312.2" x2="448.5" y2="312.2" stroke="#f26a2e" stroke-width="1.4"/>
<line x1="442.5" y1="346.9" x2="448.5" y2="346.9" stroke="#f26a2e" stroke-width="1.4"/>
<rect x="438.2" y="325.3" width="14.5" height="12.6" fill="none" stroke="#f26a2e" stroke-width="1.4"/>
<line x1="438.2" y1="331.9" x2="452.7" y2="331.9" stroke="#f26a2e" stroke-width="1.4"/>
<line x1="445.5" y1="360.7" x2="445.5" y2="364.2" stroke="#333" stroke-width="1.1"/>
<text x="453.1" y="372.7" font-size="9.63" text-anchor="end" fill="#1a1a1a" transform="rotate(-45 453.1 372.7)" stroke="#1a1a1a" stroke-width="0.1">CTRL</text>
<polygon points="463.98,339.66 465.82,336.34 462.15,336.34" fill="#fff" stroke="#9c3c17" stroke-width="0.9"/>
<polygon points="467.42,340.15 469.26,336.82 465.58,336.82" fill="#fff" stroke="#9c3c17" stroke-width="0.9"/>
<polygon points="468.39,342.02 470.22,338.69 466.55,338.69" fill="#fff" stroke="#9c3c17" stroke-width="0.9"/>
<polygon points="466.97,333.78 468.81,330.45 465.13,330.45" fill="#fff" stroke="#9c3c17" stroke-width="0.9"/>
<polygon points="468.03,303.18 469.87,299.85 466.2,299.85" fill="#fff" stroke="#9c3c17" stroke-width="0.9"/>
<polygon points="466.47,330.03 468.31,326.7 464.64,326.7" fill="#fff" stroke="#9c3c17" stroke-width="0.9"/>
<polygon points="473.54,337.48 475.37,334.16 471.7,334.16" fill="#fff" stroke="#9c3c17" stroke-width="0.9"/>
<polygon points="469.71,329.25 471.55,325.93 467.87,325.93" fill="#fff" stroke="#9c3c17" stroke-width="0.9"/>
<polygon points="464.26,326.54 466.1,323.21 462.43,323.21" fill="#fff" stroke="#9c3c17" stroke-width="0.9"/>
<polygon points="471.86,338.71 473.7,335.39 470.02,335.39" fill="#fff" stroke="#9c3c17" stroke-width="0.9"/>
<polygon points="472.47,331.75 474.31,328.42 470.63,328.42" fill="#fff" stroke="#9c3c17" stroke-width="0.9"/>
<polygon points="473.26,342.13 475.1,338.8 471.42,338.8" fill="#fff" stroke="#9c3c17" stroke-width="0.9"/>
<polygon points="469.46,333.96 471.3,330.63 467.62,330.63" fill="#fff" stroke="#9c3c17" stroke-width="0.9"/>
<polygon points="473.95,333.4 475.79,330.07 472.11,330.07" fill="#fff" stroke="#9c3c17" stroke-width="0.9"/>
<polygon points="466.13,304.46 467.97,301.13 464.29,301.13" fill="#fff" stroke="#9c3c17" stroke-width="0.9"/>
<polygon points="468.63,327.49 470.47,324.17 466.8,324.17" fill="#fff" stroke="#9c3c17" stroke-width="0.9"/>
<polygon points="465.85,327.38 467.69,324.06 464.01,324.06" fill="#fff" stroke="#9c3c17" stroke-width="0.9"/>
<polygon points="472.06,329.88 473.9,326.55 470.22,326.55" fill="#fff" stroke="#9c3c17" stroke-width="0.9"/>
<polygon points="472.7,330.12 474.54,326.79 470.86,326.79" fill="#fff" stroke="#9c3c17" stroke-width="0.9"/>
<polygon points="473.44,328.45 475.28,325.13 471.6,325.13" fill="#fff" stroke="#9c3c17" stroke-width="0.9"/>
<polygon points="468.44,328.19 470.28,324.87 466.61,324.87" fill="#fff" stroke="#9c3c17" stroke-width="0.9"/>
<polygon points="472.56,337.02 474.4,333.69 470.72,333.69" fill="#fff" stroke="#9c3c17" stroke-width="0.9"/>
<polygon points="468.8,273.65 470.38,270.8 467.23,270.8" fill="#9c3c17" stroke="#9c3c17" stroke-width="0.9"/>
<polygon points="468.8,345.35 470.38,342.5 467.23,342.5" fill="#9c3c17" stroke="#9c3c17" stroke-width="0.9"/>
<line x1="468.8" y1="272" x2="468.8" y2="322.7" stroke="#9c3c17" stroke-width="1.4"/>
<line x1="468.8" y1="336.6" x2="468.8" y2="343.7" stroke="#9c3c17" stroke-width="1.4"/>
<line x1="465.8" y1="272" x2="471.8" y2="272" stroke="#9c3c17" stroke-width="1.4"/>
<line x1="465.8" y1="343.7" x2="471.8" y2="343.7" stroke="#9c3c17" stroke-width="1.4"/>
<rect x="461.9" y="322.7" width="13.9" height="13.9" fill="none" stroke="#9c3c17" stroke-width="1.4"/>
<line x1="461.9" y1="332.7" x2="475.8" y2="332.7" stroke="#9c3c17" stroke-width="1.4"/>
<line x1="468.8" y1="360.7" x2="468.8" y2="364.2" stroke="#333" stroke-width="1.1"/>
<text x="476.4" y="372.7" font-size="9.63" text-anchor="end" fill="#1a1a1a" transform="rotate(-45 476.4 372.7)" stroke="#1a1a1a" stroke-width="0.1">CUS</text>
<line x1="393" y1="264.9" x2="415.1" y2="264.9" stroke="#555" stroke-width="1.3"/>
<text x="404.85" y="263" font-size="8.9" text-anchor="middle" fill="#1a1a1a" stroke="#1a1a1a" stroke-width="0.1">n.s.</text>
<line x1="446.1" y1="264.9" x2="468.4" y2="264.9" stroke="#555" stroke-width="1.3"/>
<text x="458.05" y="263" font-size="8.9" text-anchor="middle" fill="#1a1a1a" stroke="#1a1a1a" stroke-width="0.1">n.s.</text>
<line x1="47.7" y1="227.4" x2="47.7" y2="360.9" stroke="#333" stroke-width="1.2"/>
<line x1="47.1" y1="360.3" x2="166.8" y2="360.3" stroke="#333" stroke-width="1.2"/>
<line x1="43.4" y1="228" x2="47.7" y2="228" stroke="#333" stroke-width="1.1"/>
<text x="37.7" y="230.3" font-size="9.83" text-anchor="end" fill="#1a1a1a" stroke="#1a1a1a" stroke-width="0.1">28</text>
<line x1="43.4" y1="254.6" x2="47.7" y2="254.6" stroke="#333" stroke-width="1.1"/>
<text x="37.7" y="256.9" font-size="9.83" text-anchor="end" fill="#1a1a1a" stroke="#1a1a1a" stroke-width="0.1">26</text>
<line x1="43.4" y1="281.2" x2="47.7" y2="281.2" stroke="#333" stroke-width="1.1"/>
<text x="37.7" y="283.1" font-size="9.83" text-anchor="end" fill="#1a1a1a" stroke="#1a1a1a" stroke-width="0.1">24</text>
<line x1="43.4" y1="307.4" x2="47.7" y2="307.4" stroke="#333" stroke-width="1.1"/>
<text x="37.7" y="308.8" font-size="9.83" text-anchor="end" fill="#1a1a1a" stroke="#1a1a1a" stroke-width="0.1">22</text>
<line x1="43.4" y1="333.8" x2="47.7" y2="333.8" stroke="#333" stroke-width="1.1"/>
<text x="37.7" y="335.4" font-size="9.83" text-anchor="end" fill="#1a1a1a" stroke="#1a1a1a" stroke-width="0.1">20</text>
<line x1="43.4" y1="360.3" x2="47.7" y2="360.3" stroke="#333" stroke-width="1.1"/>
<text x="37.7" y="361.1" font-size="9.83" text-anchor="end" fill="#1a1a1a" stroke="#1a1a1a" stroke-width="0.1">18</text>
<line x1="58" y1="360.3" x2="58" y2="364" stroke="#333" stroke-width="1.1"/>
<text x="64.5" y="372.3" font-size="9.83" text-anchor="end" fill="#1a1a1a" transform="rotate(-45 64.5 372.3)" stroke="#1a1a1a" stroke-width="0.1">0wk</text>
<line x1="85" y1="360.3" x2="85" y2="364" stroke="#333" stroke-width="1.1"/>
<text x="91.5" y="372.3" font-size="9.83" text-anchor="end" fill="#1a1a1a" transform="rotate(-45 91.5 372.3)" stroke="#1a1a1a" stroke-width="0.1">1wk</text>
<line x1="111.9" y1="360.3" x2="111.9" y2="364" stroke="#333" stroke-width="1.1"/>
<text x="118.4" y="372.3" font-size="9.83" text-anchor="end" fill="#1a1a1a" transform="rotate(-45 118.4 372.3)" stroke="#1a1a1a" stroke-width="0.1">2wk</text>
<line x1="139.1" y1="360.3" x2="139.1" y2="364" stroke="#333" stroke-width="1.1"/>
<text x="145.6" y="372.3" font-size="9.83" text-anchor="end" fill="#1a1a1a" transform="rotate(-45 145.6 372.3)" stroke="#1a1a1a" stroke-width="0.1">3wk</text>
<line x1="166.5" y1="360.3" x2="166.5" y2="364" stroke="#333" stroke-width="1.1"/>
<text x="173" y="372.3" font-size="9.83" text-anchor="end" fill="#1a1a1a" transform="rotate(-45 173 372.3)" stroke="#1a1a1a" stroke-width="0.1">4wk</text>
<text x="15.1" y="291" font-size="9.83" text-anchor="middle" fill="#1a1a1a" transform="rotate(-90 15.1 291)" stroke="#1a1a1a" stroke-width="0.1">Weight (g)</text>
<polyline points="58,296.2 85,281.5 111.9,270.7 139.1,262.1 166.5,253.9" fill="none" stroke="#3fbcbc" stroke-width="1.7"/>
<polyline points="58,286.6 85,281.5 111.9,270.7 139.1,272.3 166.5,274.3" fill="none" stroke="#2f7777" stroke-width="1.7"/>
<polyline points="58,333 85,328.3 111.9,321.3 139.1,311.5 166.5,304" fill="none" stroke="#f58a5e" stroke-width="1.7"/>
<polyline points="58,329.9 85,321.3 111.9,320.1 139.1,317.3 166.5,318.3" fill="none" stroke="#a3482a" stroke-width="1.7"/>
<line x1="58" y1="290.6" x2="58" y2="301.8" stroke="#3fbcbc" stroke-width="1.2"/>
<line x1="55.4" y1="290.6" x2="60.6" y2="290.6" stroke="#3fbcbc" stroke-width="1.2"/>
<line x1="55.4" y1="301.8" x2="60.6" y2="301.8" stroke="#3fbcbc" stroke-width="1.2"/>
<line x1="85" y1="276" x2="85" y2="287" stroke="#3fbcbc" stroke-width="1.2"/>
<line x1="82.4" y1="276" x2="87.6" y2="276" stroke="#3fbcbc" stroke-width="1.2"/>
<line x1="82.4" y1="287" x2="87.6" y2="287" stroke="#3fbcbc" stroke-width="1.2"/>
<line x1="111.9" y1="265.5" x2="111.9" y2="275.9" stroke="#3fbcbc" stroke-width="1.2"/>
<line x1="109.3" y1="265.5" x2="114.5" y2="265.5" stroke="#3fbcbc" stroke-width="1.2"/>
<line x1="109.3" y1="275.9" x2="114.5" y2="275.9" stroke="#3fbcbc" stroke-width="1.2"/>
<line x1="139.1" y1="256.3" x2="139.1" y2="267.9" stroke="#3fbcbc" stroke-width="1.2"/>
<line x1="136.5" y1="256.3" x2="141.7" y2="256.3" stroke="#3fbcbc" stroke-width="1.2"/>
<line x1="136.5" y1="267.9" x2="141.7" y2="267.9" stroke="#3fbcbc" stroke-width="1.2"/>
<line x1="166.5" y1="248.1" x2="166.5" y2="259.7" stroke="#3fbcbc" stroke-width="1.2"/>
<line x1="163.9" y1="248.1" x2="169.1" y2="248.1" stroke="#3fbcbc" stroke-width="1.2"/>
<line x1="163.9" y1="259.7" x2="169.1" y2="259.7" stroke="#3fbcbc" stroke-width="1.2"/>
<line x1="58" y1="280.1" x2="58" y2="293.1" stroke="#2f7777" stroke-width="1.2"/>
<line x1="55.4" y1="280.1" x2="60.6" y2="280.1" stroke="#2f7777" stroke-width="1.2"/>
<line x1="55.4" y1="293.1" x2="60.6" y2="293.1" stroke="#2f7777" stroke-width="1.2"/>
<line x1="85" y1="275.5" x2="85" y2="287.5" stroke="#2f7777" stroke-width="1.2"/>
<line x1="82.4" y1="275.5" x2="87.6" y2="275.5" stroke="#2f7777" stroke-width="1.2"/>
<line x1="82.4" y1="287.5" x2="87.6" y2="287.5" stroke="#2f7777" stroke-width="1.2"/>
<line x1="111.9" y1="264.9" x2="111.9" y2="276.5" stroke="#2f7777" stroke-width="1.2"/>
<line x1="109.3" y1="264.9" x2="114.5" y2="264.9" stroke="#2f7777" stroke-width="1.2"/>
<line x1="109.3" y1="276.5" x2="114.5" y2="276.5" stroke="#2f7777" stroke-width="1.2"/>
<line x1="139.1" y1="265.8" x2="139.1" y2="278.8" stroke="#2f7777" stroke-width="1.2"/>
<line x1="136.5" y1="265.8" x2="141.7" y2="265.8" stroke="#2f7777" stroke-width="1.2"/>
<line x1="136.5" y1="278.8" x2="141.7" y2="278.8" stroke="#2f7777" stroke-width="1.2"/>
<line x1="166.5" y1="267.8" x2="166.5" y2="280.8" stroke="#2f7777" stroke-width="1.2"/>
<line x1="163.9" y1="267.8" x2="169.1" y2="267.8" stroke="#2f7777" stroke-width="1.2"/>
<line x1="163.9" y1="280.8" x2="169.1" y2="280.8" stroke="#2f7777" stroke-width="1.2"/>
<line x1="58" y1="329.5" x2="58" y2="336.5" stroke="#f58a5e" stroke-width="1.2"/>
<line x1="55.4" y1="329.5" x2="60.6" y2="329.5" stroke="#f58a5e" stroke-width="1.2"/>
<line x1="55.4" y1="336.5" x2="60.6" y2="336.5" stroke="#f58a5e" stroke-width="1.2"/>
<line x1="85" y1="323.8" x2="85" y2="332.8" stroke="#f58a5e" stroke-width="1.2"/>
<line x1="82.4" y1="323.8" x2="87.6" y2="323.8" stroke="#f58a5e" stroke-width="1.2"/>
<line x1="82.4" y1="332.8" x2="87.6" y2="332.8" stroke="#f58a5e" stroke-width="1.2"/>
<line x1="111.9" y1="316.3" x2="111.9" y2="326.3" stroke="#f58a5e" stroke-width="1.2"/>
<line x1="109.3" y1="316.3" x2="114.5" y2="316.3" stroke="#f58a5e" stroke-width="1.2"/>
<line x1="109.3" y1="326.3" x2="114.5" y2="326.3" stroke="#f58a5e" stroke-width="1.2"/>
<line x1="139.1" y1="305.5" x2="139.1" y2="317.5" stroke="#f58a5e" stroke-width="1.2"/>
<line x1="136.5" y1="305.5" x2="141.7" y2="305.5" stroke="#f58a5e" stroke-width="1.2"/>
<line x1="136.5" y1="317.5" x2="141.7" y2="317.5" stroke="#f58a5e" stroke-width="1.2"/>
<line x1="166.5" y1="297.5" x2="166.5" y2="310.5" stroke="#f58a5e" stroke-width="1.2"/>
<line x1="163.9" y1="297.5" x2="169.1" y2="297.5" stroke="#f58a5e" stroke-width="1.2"/>
<line x1="163.9" y1="310.5" x2="169.1" y2="310.5" stroke="#f58a5e" stroke-width="1.2"/>
<line x1="58" y1="326.4" x2="58" y2="333.4" stroke="#a3482a" stroke-width="1.2"/>
<line x1="55.4" y1="326.4" x2="60.6" y2="326.4" stroke="#a3482a" stroke-width="1.2"/>
<line x1="55.4" y1="333.4" x2="60.6" y2="333.4" stroke="#a3482a" stroke-width="1.2"/>
<line x1="85" y1="317.3" x2="85" y2="325.3" stroke="#a3482a" stroke-width="1.2"/>
<line x1="82.4" y1="317.3" x2="87.6" y2="317.3" stroke="#a3482a" stroke-width="1.2"/>
<line x1="82.4" y1="325.3" x2="87.6" y2="325.3" stroke="#a3482a" stroke-width="1.2"/>
<line x1="111.9" y1="316.1" x2="111.9" y2="324.1" stroke="#a3482a" stroke-width="1.2"/>
<line x1="109.3" y1="316.1" x2="114.5" y2="316.1" stroke="#a3482a" stroke-width="1.2"/>
<line x1="109.3" y1="324.1" x2="114.5" y2="324.1" stroke="#a3482a" stroke-width="1.2"/>
<line x1="139.1" y1="313.3" x2="139.1" y2="321.3" stroke="#a3482a" stroke-width="1.2"/>
<line x1="136.5" y1="313.3" x2="141.7" y2="313.3" stroke="#a3482a" stroke-width="1.2"/>
<line x1="136.5" y1="321.3" x2="141.7" y2="321.3" stroke="#a3482a" stroke-width="1.2"/>
<line x1="166.5" y1="313.8" x2="166.5" y2="322.8" stroke="#a3482a" stroke-width="1.2"/>
<line x1="163.9" y1="313.8" x2="169.1" y2="313.8" stroke="#a3482a" stroke-width="1.2"/>
<line x1="163.9" y1="322.8" x2="169.1" y2="322.8" stroke="#a3482a" stroke-width="1.2"/>
<rect x="55.1" y="293.3" width="5.8" height="5.8" fill="#3db4b4" stroke="#111" stroke-width="0.9"/>
<rect x="82.1" y="278.6" width="5.8" height="5.8" fill="#3db4b4" stroke="#111" stroke-width="0.9"/>
<rect x="109" y="267.8" width="5.8" height="5.8" fill="#3db4b4" stroke="#111" stroke-width="0.9"/>
<rect x="136.2" y="259.2" width="5.8" height="5.8" fill="#3db4b4" stroke="#111" stroke-width="0.9"/>
<rect x="163.6" y="251" width="5.8" height="5.8" fill="#3db4b4" stroke="#111" stroke-width="0.9"/>
<circle cx="58" cy="286.6" r="2.9" fill="#2a6f6f" stroke="#111" stroke-width="0.9"/>
<circle cx="85" cy="281.5" r="2.9" fill="#2a6f6f" stroke="#111" stroke-width="0.9"/>
<circle cx="111.9" cy="270.7" r="2.9" fill="#2a6f6f" stroke="#111" stroke-width="0.9"/>
<circle cx="139.1" cy="272.3" r="2.9" fill="#2a6f6f" stroke="#111" stroke-width="0.9"/>
<circle cx="166.5" cy="274.3" r="2.9" fill="#2a6f6f" stroke="#111" stroke-width="0.9"/>
<polygon points="58,329.59 61.26,335.48 54.74,335.48" fill="#f26a2e" stroke="#111" stroke-width="0.9"/>
<polygon points="85,324.89 88.25,330.78 81.75,330.78" fill="#f26a2e" stroke="#111" stroke-width="0.9"/>
<polygon points="111.9,317.89 115.16,323.78 108.65,323.78" fill="#f26a2e" stroke="#111" stroke-width="0.9"/>
<polygon points="139.1,308.09 142.35,313.98 135.84,313.98" fill="#f26a2e" stroke="#111" stroke-width="0.9"/>
<polygon points="166.5,300.59 169.75,306.48 163.25,306.48" fill="#f26a2e" stroke="#111" stroke-width="0.9"/>
<polygon points="58,333.31 61.26,327.42 54.74,327.42" fill="#9c3c17" stroke="#111" stroke-width="0.9"/>
<polygon points="85,324.71 88.25,318.82 81.75,318.82" fill="#9c3c17" stroke="#111" stroke-width="0.9"/>
<polygon points="111.9,323.51 115.16,317.62 108.65,317.62" fill="#9c3c17" stroke="#111" stroke-width="0.9"/>
<polygon points="139.1,320.71 142.35,314.82 135.84,314.82" fill="#9c3c17" stroke="#111" stroke-width="0.9"/>
<polygon points="166.5,321.71 169.75,315.82 163.25,315.82" fill="#9c3c17" stroke="#111" stroke-width="0.9"/>
<text x="70.9" y="214.3" font-size="9.83" text-anchor="middle" fill="#3db4b4" stroke="#3db4b4" stroke-width="0.1">Male</text>
<text x="128.7" y="214.3" font-size="9.83" text-anchor="middle" fill="#f26a2e" stroke="#f26a2e" stroke-width="0.1">Female</text>
<rect x="60.4" y="221" width="8" height="8" fill="#3db4b4" stroke="#111" stroke-width="1"/>
<text x="71" y="228.3" font-size="9.83" text-anchor="start" fill="#1a1a1a" stroke="#1a1a1a" stroke-width="0.1">CTRL</text>
<circle cx="64.4" cy="238.6" r="4" fill="#2a6f6f" stroke="#111" stroke-width="1"/>
<text x="71" y="241.9" font-size="9.83" text-anchor="start" fill="#1a1a1a" stroke="#1a1a1a" stroke-width="0.1">CUS</text>
<polygon points="114.3,220.9 118.5,228.5 110.1,228.5" fill="#f26a2e" stroke="#111" stroke-width="1"/>
<text x="122" y="228.3" font-size="9.83" text-anchor="start" fill="#1a1a1a" stroke="#1a1a1a" stroke-width="0.1">CTRL</text>
<polygon points="114.3,242.7 118.5,235.1 110.1,235.1" fill="#9c3c17" stroke="#111" stroke-width="1"/>
<text x="122" y="241.9" font-size="9.83" text-anchor="start" fill="#1a1a1a" stroke="#1a1a1a" stroke-width="0.1">CUS</text>
<polyline points="174.2,251.5 179.3,251.5 179.3,274.8 174.2,274.8" fill="none" stroke="#444" stroke-width="1.2"/>
<polyline points="174.2,301.8 179.3,301.8 179.3,321.2 174.2,321.2" fill="none" stroke="#444" stroke-width="1.2"/>
<text x="179.4" y="262.7" font-size="10.51" text-anchor="middle" fill="#1a1a1a" transform="rotate(90 179.4 262.7)" stroke="#1a1a1a" stroke-width="0.1">****</text>
<text x="179.4" y="311.5" font-size="10.51" text-anchor="middle" fill="#1a1a1a" transform="rotate(90 179.4 311.5)" stroke="#1a1a1a" stroke-width="0.1">***</text>
<line x1="516.8" y1="18" x2="516.8" y2="172.1" stroke="#333" stroke-width="1.2"/>
<line x1="516.2" y1="171.5" x2="670.6" y2="171.5" stroke="#333" stroke-width="1.2"/>
<line x1="510.3" y1="18.6" x2="516.8" y2="18.6" stroke="#333" stroke-width="1.1"/>
<text x="506.2" y="21.3" font-size="9.83" text-anchor="end" fill="#1a1a1a" stroke="#1a1a1a" stroke-width="0.1">4</text>
<line x1="669.7" y1="171.5" x2="669.7" y2="178.3" stroke="#333" stroke-width="1.1"/>
<text x="669.7" y="189.8" font-size="9.83" text-anchor="middle" fill="#1a1a1a" stroke="#1a1a1a" stroke-width="0.1">4</text>
<line x1="510.3" y1="56.9" x2="516.8" y2="56.9" stroke="#333" stroke-width="1.1"/>
<text x="506.2" y="59.6" font-size="9.83" text-anchor="end" fill="#1a1a1a" stroke="#1a1a1a" stroke-width="0.1">2</text>
<line x1="631.4" y1="171.5" x2="631.4" y2="178.3" stroke="#333" stroke-width="1.1"/>
<text x="631.4" y="189.8" font-size="9.83" text-anchor="middle" fill="#1a1a1a" stroke="#1a1a1a" stroke-width="0.1">2</text>
<line x1="510.3" y1="95.2" x2="516.8" y2="95.2" stroke="#333" stroke-width="1.1"/>
<text x="506.2" y="97.9" font-size="9.83" text-anchor="end" fill="#1a1a1a" stroke="#1a1a1a" stroke-width="0.1">0</text>
<line x1="593.1" y1="171.5" x2="593.1" y2="178.3" stroke="#333" stroke-width="1.1"/>
<text x="593.1" y="189.8" font-size="9.83" text-anchor="middle" fill="#1a1a1a" stroke="#1a1a1a" stroke-width="0.1">0</text>
<line x1="510.3" y1="133.5" x2="516.8" y2="133.5" stroke="#333" stroke-width="1.1"/>
<text x="506.2" y="136.2" font-size="9.83" text-anchor="end" fill="#1a1a1a" stroke="#1a1a1a" stroke-width="0.1">-2</text>
<line x1="554.8" y1="171.5" x2="554.8" y2="178.3" stroke="#333" stroke-width="1.1"/>
<text x="554.8" y="189.8" font-size="9.83" text-anchor="middle" fill="#1a1a1a" stroke="#1a1a1a" stroke-width="0.1">-2</text>
<line x1="510.3" y1="171.8" x2="516.8" y2="171.8" stroke="#333" stroke-width="1.1"/>
<text x="506.2" y="174.5" font-size="9.83" text-anchor="end" fill="#1a1a1a" stroke="#1a1a1a" stroke-width="0.1">-4</text>
<line x1="516.5" y1="171.5" x2="516.5" y2="178.3" stroke="#333" stroke-width="1.1"/>
<text x="516.5" y="189.8" font-size="9.83" text-anchor="middle" fill="#1a1a1a" stroke="#1a1a1a" stroke-width="0.1">-4</text>
<text x="492.9" y="94.7" font-size="9.83" text-anchor="middle" fill="#1a1a1a" transform="rotate(-90 492.9 94.7)" stroke="#1a1a1a" stroke-width="0.1">LDA2</text>
<text x="593.7" y="11.6" font-size="10.87" text-anchor="middle" fill="#1a1a1a" stroke="#1a1a1a" stroke-width="0.1">Frequency space</text>
<polygon points="565.95,128.63 567.78,131.96 564.11,131.96" fill="#f5bda5" stroke="#c98a70" stroke-width="0.45" fill-opacity="0.9"/>
<rect x="524.18" y="74.15" width="3.8" height="3.8" fill="#a6e2e2" stroke="#8aa9a9" stroke-width="0.45" fill-opacity="0.9"/>
<polygon points="614.49,103.89 616.38,100.47 612.6,100.47" fill="#c27452" stroke="#b06a4a" stroke-width="0.45" fill-opacity="0.72"/>
<polygon points="589.52,78.02 591.41,74.6 587.63,74.6" fill="#c27452" stroke="#b06a4a" stroke-width="0.45" fill-opacity="0.72"/>
<polygon points="602.58,87.28 604.47,83.86 600.69,83.86" fill="#c27452" stroke="#b06a4a" stroke-width="0.45" fill-opacity="0.72"/>
<polygon points="588.83,108.46 590.67,111.78 586.99,111.78" fill="#f5bda5" stroke="#c98a70" stroke-width="0.45" fill-opacity="0.9"/>
<polygon points="624.01,87.53 625.9,84.11 622.12,84.11" fill="#c27452" stroke="#b06a4a" stroke-width="0.45" fill-opacity="0.72"/>
<polygon points="573.11,79.15 574.95,82.48 571.27,82.48" fill="#f5bda5" stroke="#c98a70" stroke-width="0.45" fill-opacity="0.9"/>
<circle cx="625.11" cy="107.26" r="1.75" fill="#2a7070" stroke="#6f9898" stroke-width="0.45" fill-opacity="0.5"/>
<circle cx="610.62" cy="118.53" r="1.75" fill="#2a7070" stroke="#6f9898" stroke-width="0.45" fill-opacity="0.5"/>
<polygon points="621.23,79.48 623.12,76.06 619.34,76.06" fill="#c27452" stroke="#b06a4a" stroke-width="0.45" fill-opacity="0.72"/>
<circle cx="632.85" cy="87.28" r="1.75" fill="#2a7070" stroke="#6f9898" stroke-width="0.45" fill-opacity="0.5"/>
<rect x="590.59" y="93.25" width="3.8" height="3.8" fill="#a6e2e2" stroke="#8aa9a9" stroke-width="0.45" fill-opacity="0.9"/>
<rect x="594.96" y="104.68" width="3.8" height="3.8" fill="#a6e2e2" stroke="#8aa9a9" stroke-width="0.45" fill-opacity="0.9"/>
<rect x="584.36" y="85.12" width="3.8" height="3.8" fill="#a6e2e2" stroke="#8aa9a9" stroke-width="0.45" fill-opacity="0.9"/>
<rect x="582.67" y="85.67" width="3.8" height="3.8" fill="#a6e2e2" stroke="#8aa9a9" stroke-width="0.45" fill-opacity="0.9"/>
<polygon points="582.3,78.32 584.14,81.65 580.46,81.65" fill="#f5bda5" stroke="#c98a70" stroke-width="0.45" fill-opacity="0.9"/>
<polygon points="669.7,89.52 671.59,86.1 667.81,86.1" fill="#c27452" stroke="#b06a4a" stroke-width="0.45" fill-opacity="0.72"/>
<circle cx="614.15" cy="86.43" r="1.75" fill="#2a7070" stroke="#6f9898" stroke-width="0.45" fill-opacity="0.5"/>
<circle cx="622.01" cy="124.42" r="1.75" fill="#2a7070" stroke="#6f9898" stroke-width="0.45" fill-opacity="0.5"/>
<polygon points="605.15,93.53 607.04,90.11 603.26,90.11" fill="#c27452" stroke="#b06a4a" stroke-width="0.45" fill-opacity="0.72"/>
<polygon points="600.73,115.21 602.57,118.53 598.9,118.53" fill="#f5bda5" stroke="#c98a70" stroke-width="0.45" fill-opacity="0.9"/>
<circle cx="614.53" cy="110.32" r="1.75" fill="#2a7070" stroke="#6f9898" stroke-width="0.45" fill-opacity="0.5"/>
<polygon points="596.25,74.99 598.14,71.57 594.36,71.57" fill="#c27452" stroke="#b06a4a" stroke-width="0.45" fill-opacity="0.72"/>
<circle cx="600.21" cy="96.35" r="1.75" fill="#2a7070" stroke="#6f9898" stroke-width="0.45" fill-opacity="0.5"/>
<polygon points="586.18,101.09 588.02,104.41 584.34,104.41" fill="#f5bda5" stroke="#c98a70" stroke-width="0.45" fill-opacity="0.9"/>
<rect x="552.7" y="86.09" width="3.8" height="3.8" fill="#a6e2e2" stroke="#8aa9a9" stroke-width="0.45" fill-opacity="0.9"/>
<rect x="564.97" y="106.69" width="3.8" height="3.8" fill="#a6e2e2" stroke="#8aa9a9" stroke-width="0.45" fill-opacity="0.9"/>
<circle cx="625.8" cy="119.5" r="1.75" fill="#2a7070" stroke="#6f9898" stroke-width="0.45" fill-opacity="0.5"/>
<rect x="617.05" y="90.95" width="3.8" height="3.8" fill="#a6e2e2" stroke="#8aa9a9" stroke-width="0.45" fill-opacity="0.9"/>
<polygon points="607.2,94.43 609.09,91.01 605.31,91.01" fill="#c27452" stroke="#b06a4a" stroke-width="0.45" fill-opacity="0.72"/>
<polygon points="566.37,122.54 568.21,125.86 564.54,125.86" fill="#f5bda5" stroke="#c98a70" stroke-width="0.45" fill-opacity="0.9"/>
<polygon points="608.21,82.77 610.1,79.35 606.32,79.35" fill="#c27452" stroke="#b06a4a" stroke-width="0.45" fill-opacity="0.72"/>
<circle cx="596.64" cy="97.15" r="1.75" fill="#2a7070" stroke="#6f9898" stroke-width="0.45" fill-opacity="0.5"/>
<polygon points="633.92,95.03 635.81,91.61 632.03,91.61" fill="#c27452" stroke="#b06a4a" stroke-width="0.45" fill-opacity="0.72"/>
<circle cx="622.55" cy="110.59" r="1.75" fill="#2a7070" stroke="#6f9898" stroke-width="0.45" fill-opacity="0.5"/>
<circle cx="595.73" cy="98.3" r="1.75" fill="#2a7070" stroke="#6f9898" stroke-width="0.45" fill-opacity="0.5"/>
<circle cx="619.33" cy="111.16" r="1.75" fill="#2a7070" stroke="#6f9898" stroke-width="0.45" fill-opacity="0.5"/>
<polygon points="552.91,97.88 554.75,101.21 551.08,101.21" fill="#f5bda5" stroke="#c98a70" stroke-width="0.45" fill-opacity="0.9"/>
<rect x="594.58" y="82.71" width="3.8" height="3.8" fill="#a6e2e2" stroke="#8aa9a9" stroke-width="0.45" fill-opacity="0.9"/>
<polygon points="594.42,101.9 596.26,105.22 592.59,105.22" fill="#f5bda5" stroke="#c98a70" stroke-width="0.45" fill-opacity="0.9"/>
<rect x="593.82" y="75.19" width="3.8" height="3.8" fill="#a6e2e2" stroke="#8aa9a9" stroke-width="0.45" fill-opacity="0.9"/>
<polygon points="562.32,112.73 564.16,116.06 560.49,116.06" fill="#f5bda5" stroke="#c98a70" stroke-width="0.45" fill-opacity="0.9"/>
<rect x="601.22" y="120.22" width="3.8" height="3.8" fill="#a6e2e2" stroke="#8aa9a9" stroke-width="0.45" fill-opacity="0.9"/>
<circle cx="618.31" cy="112.8" r="1.75" fill="#2a7070" stroke="#6f9898" stroke-width="0.45" fill-opacity="0.5"/>
<circle cx="601.54" cy="107.36" r="1.75" fill="#2a7070" stroke="#6f9898" stroke-width="0.45" fill-opacity="0.5"/>
<rect x="591.21" y="43.65" width="3.8" height="3.8" fill="#a6e2e2" stroke="#8aa9a9" stroke-width="0.45" fill-opacity="0.9"/>
<circle cx="609.76" cy="105.25" r="1.75" fill="#2a7070" stroke="#6f9898" stroke-width="0.45" fill-opacity="0.5"/>
<circle cx="597.15" cy="91.23" r="1.75" fill="#2a7070" stroke="#6f9898" stroke-width="0.45" fill-opacity="0.5"/>
<polygon points="599.12,102.39 600.96,105.72 597.29,105.72" fill="#f5bda5" stroke="#c98a70" stroke-width="0.45" fill-opacity="0.9"/>
<circle cx="598.76" cy="102.5" r="1.75" fill="#2a7070" stroke="#6f9898" stroke-width="0.45" fill-opacity="0.5"/>
<polygon points="607.21,65.2 609.1,61.78 605.32,61.78" fill="#c27452" stroke="#b06a4a" stroke-width="0.45" fill-opacity="0.72"/>
<circle cx="588.1" cy="110.83" r="1.75" fill="#2a7070" stroke="#6f9898" stroke-width="0.45" fill-opacity="0.5"/>
<rect x="588.11" y="48.08" width="3.8" height="3.8" fill="#a6e2e2" stroke="#8aa9a9" stroke-width="0.45" fill-opacity="0.9"/>
<rect x="599.21" y="90.92" width="3.8" height="3.8" fill="#a6e2e2" stroke="#8aa9a9" stroke-width="0.45" fill-opacity="0.9"/>
<circle cx="609.98" cy="84.28" r="1.75" fill="#2a7070" stroke="#6f9898" stroke-width="0.45" fill-opacity="0.5"/>
<polygon points="595.17,113.17 597.06,109.75 593.28,109.75" fill="#c27452" stroke="#b06a4a" stroke-width="0.45" fill-opacity="0.72"/>
<polygon points="579.25,80.04 581.09,83.37 577.41,83.37" fill="#f5bda5" stroke="#c98a70" stroke-width="0.45" fill-opacity="0.9"/>
<polygon points="558.49,85.97 560.32,89.3 556.65,89.3" fill="#f5bda5" stroke="#c98a70" stroke-width="0.45" fill-opacity="0.9"/>
<rect x="583.04" y="96.28" width="3.8" height="3.8" fill="#a6e2e2" stroke="#8aa9a9" stroke-width="0.45" fill-opacity="0.9"/>
<rect x="607.25" y="104.64" width="3.8" height="3.8" fill="#a6e2e2" stroke="#8aa9a9" stroke-width="0.45" fill-opacity="0.9"/>
<rect x="586.08" y="86.9" width="3.8" height="3.8" fill="#a6e2e2" stroke="#8aa9a9" stroke-width="0.45" fill-opacity="0.9"/>
<polygon points="576.57,73.95 578.46,70.53 574.68,70.53" fill="#c27452" stroke="#b06a4a" stroke-width="0.45" fill-opacity="0.72"/>
<polygon points="583.11,129.88 584.95,133.2 581.28,133.2" fill="#f5bda5" stroke="#c98a70" stroke-width="0.45" fill-opacity="0.9"/>
<polygon points="593.6,75.64 595.44,78.97 591.77,78.97" fill="#f5bda5" stroke="#c98a70" stroke-width="0.45" fill-opacity="0.9"/>
<rect x="602.4" y="105.7" width="3.8" height="3.8" fill="#a6e2e2" stroke="#8aa9a9" stroke-width="0.45" fill-opacity="0.9"/>
<circle cx="601.48" cy="97.87" r="1.75" fill="#2a7070" stroke="#6f9898" stroke-width="0.45" fill-opacity="0.5"/>
<polygon points="615.02,100.03 616.91,96.61 613.13,96.61" fill="#c27452" stroke="#b06a4a" stroke-width="0.45" fill-opacity="0.72"/>
<rect x="579.24" y="90.34" width="3.8" height="3.8" fill="#a6e2e2" stroke="#8aa9a9" stroke-width="0.45" fill-opacity="0.9"/>
<circle cx="602.19" cy="107.8" r="1.75" fill="#2a7070" stroke="#6f9898" stroke-width="0.45" fill-opacity="0.5"/>
<polygon points="586.42,120.42 588.25,123.75 584.58,123.75" fill="#f5bda5" stroke="#c98a70" stroke-width="0.45" fill-opacity="0.9"/>
<polygon points="574.51,83.57 576.4,80.15 572.62,80.15" fill="#c27452" stroke="#b06a4a" stroke-width="0.45" fill-opacity="0.72"/>
<circle cx="603.68" cy="113.53" r="1.75" fill="#2a7070" stroke="#6f9898" stroke-width="0.45" fill-opacity="0.5"/>
<polygon points="564.42,105.21 566.25,108.54 562.58,108.54" fill="#f5bda5" stroke="#c98a70" stroke-width="0.45" fill-opacity="0.9"/>
<circle cx="640.08" cy="113.66" r="1.75" fill="#2a7070" stroke="#6f9898" stroke-width="0.45" fill-opacity="0.5"/>
<polygon points="583.77,108.54 585.61,111.87 581.93,111.87" fill="#f5bda5" stroke="#c98a70" stroke-width="0.45" fill-opacity="0.9"/>
<polygon points="567.31,90.11 569.15,93.44 565.48,93.44" fill="#f5bda5" stroke="#c98a70" stroke-width="0.45" fill-opacity="0.9"/>
<circle cx="636.03" cy="87.99" r="1.75" fill="#2a7070" stroke="#6f9898" stroke-width="0.45" fill-opacity="0.5"/>
<circle cx="611.87" cy="94.35" r="1.75" fill="#2a7070" stroke="#6f9898" stroke-width="0.45" fill-opacity="0.5"/>
<circle cx="576.32" cy="81.12" r="1.75" fill="#2a7070" stroke="#6f9898" stroke-width="0.45" fill-opacity="0.5"/>
<polygon points="596.89,100.5 598.73,103.82 595.06,103.82" fill="#f5bda5" stroke="#c98a70" stroke-width="0.45" fill-opacity="0.9"/>
<circle cx="619.24" cy="133.3" r="1.75" fill="#2a7070" stroke="#6f9898" stroke-width="0.45" fill-opacity="0.5"/>
<rect x="586.02" y="82.64" width="3.8" height="3.8" fill="#a6e2e2" stroke="#8aa9a9" stroke-width="0.45" fill-opacity="0.9"/>
<polygon points="629.03,89.45 630.92,86.03 627.14,86.03" fill="#c27452" stroke="#b06a4a" stroke-width="0.45" fill-opacity="0.72"/>
<rect x="596.12" y="80.02" width="3.8" height="3.8" fill="#a6e2e2" stroke="#8aa9a9" stroke-width="0.45" fill-opacity="0.9"/>
<rect x="559.19" y="89.81" width="3.8" height="3.8" fill="#a6e2e2" stroke="#8aa9a9" stroke-width="0.45" fill-opacity="0.9"/>
<polygon points="604.23,73.62 606.07,76.94 602.39,76.94" fill="#f5bda5" stroke="#c98a70" stroke-width="0.45" fill-opacity="0.9"/>
<polygon points="563.4,120.33 565.24,123.66 561.56,123.66" fill="#f5bda5" stroke="#c98a70" stroke-width="0.45" fill-opacity="0.9"/>
<rect x="569.5" y="73.01" width="3.8" height="3.8" fill="#a6e2e2" stroke="#8aa9a9" stroke-width="0.45" fill-opacity="0.9"/>
<circle cx="607.56" cy="103.01" r="1.75" fill="#2a7070" stroke="#6f9898" stroke-width="0.45" fill-opacity="0.5"/>
<circle cx="602.6" cy="82.5" r="1.75" fill="#2a7070" stroke="#6f9898" stroke-width="0.45" fill-opacity="0.5"/>
<circle cx="575.06" cy="104.6" r="1.75" fill="#2a7070" stroke="#6f9898" stroke-width="0.45" fill-opacity="0.5"/>
<rect x="585.83" y="84.3" width="3.8" height="3.8" fill="#a6e2e2" stroke="#8aa9a9" stroke-width="0.45" fill-opacity="0.9"/>
<polygon points="594.54,87.15 596.43,83.73 592.65,83.73" fill="#c27452" stroke="#b06a4a" stroke-width="0.45" fill-opacity="0.72"/>
<circle cx="636.27" cy="111.29" r="1.75" fill="#2a7070" stroke="#6f9898" stroke-width="0.45" fill-opacity="0.5"/>
<polygon points="602.12,80.45 603.96,83.78 600.28,83.78" fill="#f5bda5" stroke="#c98a70" stroke-width="0.45" fill-opacity="0.9"/>
<polygon points="607.76,74.63 609.65,71.21 605.87,71.21" fill="#c27452" stroke="#b06a4a" stroke-width="0.45" fill-opacity="0.72"/>
<rect x="592.67" y="66.47" width="3.8" height="3.8" fill="#a6e2e2" stroke="#8aa9a9" stroke-width="0.45" fill-opacity="0.9"/>
<rect x="533.71" y="85.29" width="3.8" height="3.8" fill="#a6e2e2" stroke="#8aa9a9" stroke-width="0.45" fill-opacity="0.9"/>
<rect x="557.56" y="102.08" width="3.8" height="3.8" fill="#a6e2e2" stroke="#8aa9a9" stroke-width="0.45" fill-opacity="0.9"/>
<polygon points="586.74,113.41 588.58,116.74 584.9,116.74" fill="#f5bda5" stroke="#c98a70" stroke-width="0.45" fill-opacity="0.9"/>
<polygon points="629.69,97.57 631.58,94.15 627.8,94.15" fill="#c27452" stroke="#b06a4a" stroke-width="0.45" fill-opacity="0.72"/>
<circle cx="647.68" cy="148.82" r="1.75" fill="#2a7070" stroke="#6f9898" stroke-width="0.45" fill-opacity="0.5"/>
<circle cx="618.34" cy="92.7" r="1.75" fill="#2a7070" stroke="#6f9898" stroke-width="0.45" fill-opacity="0.5"/>
<circle cx="621.07" cy="110.82" r="1.75" fill="#2a7070" stroke="#6f9898" stroke-width="0.45" fill-opacity="0.5"/>
<circle cx="609.28" cy="110.89" r="1.75" fill="#2a7070" stroke="#6f9898" stroke-width="0.45" fill-opacity="0.5"/>
<rect x="589.35" y="74.03" width="3.8" height="3.8" fill="#a6e2e2" stroke="#8aa9a9" stroke-width="0.45" fill-opacity="0.9"/>
<rect x="608.46" y="78.24" width="3.8" height="3.8" fill="#a6e2e2" stroke="#8aa9a9" stroke-width="0.45" fill-opacity="0.9"/>
<rect x="599.43" y="82.44" width="3.8" height="3.8" fill="#a6e2e2" stroke="#8aa9a9" stroke-width="0.45" fill-opacity="0.9"/>
<rect x="570.8" y="85.35" width="3.8" height="3.8" fill="#a6e2e2" stroke="#8aa9a9" stroke-width="0.45" fill-opacity="0.9"/>
<circle cx="627.67" cy="107.84" r="1.75" fill="#2a7070" stroke="#6f9898" stroke-width="0.45" fill-opacity="0.5"/>
<circle cx="622.37" cy="119.23" r="1.75" fill="#2a7070" stroke="#6f9898" stroke-width="0.45" fill-opacity="0.5"/>
<rect x="547.16" y="56.92" width="3.8" height="3.8" fill="#a6e2e2" stroke="#8aa9a9" stroke-width="0.45" fill-opacity="0.9"/>
<rect x="585.34" y="103.61" width="3.8" height="3.8" fill="#a6e2e2" stroke="#8aa9a9" stroke-width="0.45" fill-opacity="0.9"/>
<rect x="518.43" y="78.94" width="3.8" height="3.8" fill="#a6e2e2" stroke="#8aa9a9" stroke-width="0.45" fill-opacity="0.9"/>
<circle cx="560.32" cy="101.94" r="1.75" fill="#2a7070" stroke="#6f9898" stroke-width="0.45" fill-opacity="0.5"/>
<circle cx="607.07" cy="90.47" r="1.75" fill="#2a7070" stroke="#6f9898" stroke-width="0.45" fill-opacity="0.5"/>
<polygon points="549.42,80.88 551.26,84.2 547.58,84.2" fill="#f5bda5" stroke="#c98a70" stroke-width="0.45" fill-opacity="0.9"/>
<polygon points="585.55,60.3 587.44,56.88 583.66,56.88" fill="#c27452" stroke="#b06a4a" stroke-width="0.45" fill-opacity="0.72"/>
<polygon points="569.42,91.37 571.26,94.7 567.58,94.7" fill="#f5bda5" stroke="#c98a70" stroke-width="0.45" fill-opacity="0.9"/>
<polygon points="588.96,98.75 590.8,102.08 587.12,102.08" fill="#f5bda5" stroke="#c98a70" stroke-width="0.45" fill-opacity="0.9"/>
<rect x="604.78" y="62.48" width="3.8" height="3.8" fill="#a6e2e2" stroke="#8aa9a9" stroke-width="0.45" fill-opacity="0.9"/>
<rect x="564.76" y="72.37" width="3.8" height="3.8" fill="#a6e2e2" stroke="#8aa9a9" stroke-width="0.45" fill-opacity="0.9"/>
<rect x="581.89" y="100.56" width="3.8" height="3.8" fill="#a6e2e2" stroke="#8aa9a9" stroke-width="0.45" fill-opacity="0.9"/>
<polygon points="571.42,103.37 573.31,99.95 569.53,99.95" fill="#c27452" stroke="#b06a4a" stroke-width="0.45" fill-opacity="0.72"/>
<polygon points="540.93,86.51 542.77,89.83 539.09,89.83" fill="#f5bda5" stroke="#c98a70" stroke-width="0.45" fill-opacity="0.9"/>
<polygon points="578.05,104.34 579.89,107.67 576.22,107.67" fill="#f5bda5" stroke="#c98a70" stroke-width="0.45" fill-opacity="0.9"/>
<polygon points="597.89,23.45 599.78,20.03 596,20.03" fill="#c27452" stroke="#b06a4a" stroke-width="0.45" fill-opacity="0.72"/>
<rect x="583.73" y="96.4" width="3.8" height="3.8" fill="#a6e2e2" stroke="#8aa9a9" stroke-width="0.45" fill-opacity="0.9"/>
<circle cx="608.72" cy="123.85" r="1.75" fill="#2a7070" stroke="#6f9898" stroke-width="0.45" fill-opacity="0.5"/>
<polygon points="574.49,97.76 576.32,101.09 572.65,101.09" fill="#f5bda5" stroke="#c98a70" stroke-width="0.45" fill-opacity="0.9"/>
<rect x="603.83" y="81.64" width="3.8" height="3.8" fill="#a6e2e2" stroke="#8aa9a9" stroke-width="0.45" fill-opacity="0.9"/>
<circle cx="615.23" cy="106.96" r="1.75" fill="#2a7070" stroke="#6f9898" stroke-width="0.45" fill-opacity="0.5"/>
<polygon points="606.97,79.97 608.86,76.55 605.08,76.55" fill="#c27452" stroke="#b06a4a" stroke-width="0.45" fill-opacity="0.72"/>
<circle cx="648.63" cy="122.01" r="1.75" fill="#2a7070" stroke="#6f9898" stroke-width="0.45" fill-opacity="0.5"/>
<rect x="575.66" y="92.34" width="3.8" height="3.8" fill="#a6e2e2" stroke="#8aa9a9" stroke-width="0.45" fill-opacity="0.9"/>
<circle cx="618.99" cy="100.41" r="1.75" fill="#2a7070" stroke="#6f9898" stroke-width="0.45" fill-opacity="0.5"/>
<circle cx="623.51" cy="112.46" r="1.75" fill="#2a7070" stroke="#6f9898" stroke-width="0.45" fill-opacity="0.5"/>
<polygon points="600.52,126.25 602.35,129.57 598.68,129.57" fill="#f5bda5" stroke="#c98a70" stroke-width="0.45" fill-opacity="0.9"/>
<circle cx="597.23" cy="116.81" r="1.75" fill="#2a7070" stroke="#6f9898" stroke-width="0.45" fill-opacity="0.5"/>
<polygon points="585.59,86.6 587.42,89.92 583.75,89.92" fill="#f5bda5" stroke="#c98a70" stroke-width="0.45" fill-opacity="0.9"/>
<polygon points="587.86,101.84 589.75,98.42 585.97,98.42" fill="#c27452" stroke="#b06a4a" stroke-width="0.45" fill-opacity="0.72"/>
<polygon points="596.89,91.29 598.78,87.87 595,87.87" fill="#c27452" stroke="#b06a4a" stroke-width="0.45" fill-opacity="0.72"/>
<polygon points="615.46,92.7 617.35,89.28 613.57,89.28" fill="#c27452" stroke="#b06a4a" stroke-width="0.45" fill-opacity="0.72"/>
<polygon points="585.78,127.64 587.62,130.97 583.95,130.97" fill="#f5bda5" stroke="#c98a70" stroke-width="0.45" fill-opacity="0.9"/>
<circle cx="611.11" cy="103.42" r="1.75" fill="#2a7070" stroke="#6f9898" stroke-width="0.45" fill-opacity="0.5"/>
<polygon points="586.4,138.28 588.24,141.6 584.56,141.6" fill="#f5bda5" stroke="#c98a70" stroke-width="0.45" fill-opacity="0.9"/>
<polygon points="613.24,100.17 615.13,96.75 611.35,96.75" fill="#c27452" stroke="#b06a4a" stroke-width="0.45" fill-opacity="0.72"/>
<polygon points="583.63,87.96 585.47,91.28 581.79,91.28" fill="#f5bda5" stroke="#c98a70" stroke-width="0.45" fill-opacity="0.9"/>
<polygon points="565.81,83.03 567.64,86.36 563.97,86.36" fill="#f5bda5" stroke="#c98a70" stroke-width="0.45" fill-opacity="0.9"/>
<circle cx="635.81" cy="107.64" r="1.75" fill="#2a7070" stroke="#6f9898" stroke-width="0.45" fill-opacity="0.5"/>
<rect x="581.48" y="55.28" width="3.8" height="3.8" fill="#a6e2e2" stroke="#8aa9a9" stroke-width="0.45" fill-opacity="0.9"/>
<circle cx="595.3" cy="90.15" r="1.75" fill="#2a7070" stroke="#6f9898" stroke-width="0.45" fill-opacity="0.5"/>
<rect x="572.17" y="89.04" width="3.8" height="3.8" fill="#a6e2e2" stroke="#8aa9a9" stroke-width="0.45" fill-opacity="0.9"/>
<circle cx="602.17" cy="125.15" r="1.75" fill="#2a7070" stroke="#6f9898" stroke-width="0.45" fill-opacity="0.5"/>
<rect x="611.25" y="63.93" width="3.8" height="3.8" fill="#a6e2e2" stroke="#8aa9a9" stroke-width="0.45" fill-opacity="0.9"/>
<polygon points="574.29,66.18 576.18,62.76 572.4,62.76" fill="#c27452" stroke="#b06a4a" stroke-width="0.45" fill-opacity="0.72"/>
<circle cx="640.98" cy="108.61" r="1.75" fill="#2a7070" stroke="#6f9898" stroke-width="0.45" fill-opacity="0.5"/>
<circle cx="612.36" cy="87.58" r="1.75" fill="#2a7070" stroke="#6f9898" stroke-width="0.45" fill-opacity="0.5"/>
<rect x="592" y="98.68" width="3.8" height="3.8" fill="#a6e2e2" stroke="#8aa9a9" stroke-width="0.45" fill-opacity="0.9"/>
<circle cx="593.28" cy="128.47" r="1.75" fill="#2a7070" stroke="#6f9898" stroke-width="0.45" fill-opacity="0.5"/>
<circle cx="623.7" cy="116.68" r="1.75" fill="#2a7070" stroke="#6f9898" stroke-width="0.45" fill-opacity="0.5"/>
<rect x="579.96" y="65.52" width="3.8" height="3.8" fill="#a6e2e2" stroke="#8aa9a9" stroke-width="0.45" fill-opacity="0.9"/>
<rect x="568.07" y="95.69" width="3.8" height="3.8" fill="#a6e2e2" stroke="#8aa9a9" stroke-width="0.45" fill-opacity="0.9"/>
<rect x="594.07" y="101.33" width="3.8" height="3.8" fill="#a6e2e2" stroke="#8aa9a9" stroke-width="0.45" fill-opacity="0.9"/>
<polygon points="559.24,80.75 561.08,84.08 557.4,84.08" fill="#f5bda5" stroke="#c98a70" stroke-width="0.45" fill-opacity="0.9"/>
<polygon points="574.95,86.54 576.84,83.12 573.06,83.12" fill="#c27452" stroke="#b06a4a" stroke-width="0.45" fill-opacity="0.72"/>
<polygon points="573.86,75.84 575.69,79.17 572.02,79.17" fill="#f5bda5" stroke="#c98a70" stroke-width="0.45" fill-opacity="0.9"/>
<polygon points="557.79,102.46 559.63,105.79 555.95,105.79" fill="#f5bda5" stroke="#c98a70" stroke-width="0.45" fill-opacity="0.9"/>
<circle cx="594.62" cy="82" r="1.75" fill="#2a7070" stroke="#6f9898" stroke-width="0.45" fill-opacity="0.5"/>
<polygon points="592.01,76.37 593.84,79.69 590.17,79.69" fill="#f5bda5" stroke="#c98a70" stroke-width="0.45" fill-opacity="0.9"/>
<polygon points="560.66,86.4 562.55,82.98 558.77,82.98" fill="#c27452" stroke="#b06a4a" stroke-width="0.45" fill-opacity="0.72"/>
<rect x="562.74" y="85.21" width="3.8" height="3.8" fill="#a6e2e2" stroke="#8aa9a9" stroke-width="0.45" fill-opacity="0.9"/>
<polygon points="593.19,94.03 595.08,90.61 591.3,90.61" fill="#c27452" stroke="#b06a4a" stroke-width="0.45" fill-opacity="0.72"/>
<rect x="578.05" y="101.07" width="3.8" height="3.8" fill="#a6e2e2" stroke="#8aa9a9" stroke-width="0.45" fill-opacity="0.9"/>
<circle cx="615.19" cy="144.03" r="1.75" fill="#2a7070" stroke="#6f9898" stroke-width="0.45" fill-opacity="0.5"/>
<circle cx="608.91" cy="83.64" r="1.75" fill="#2a7070" stroke="#6f9898" stroke-width="0.45" fill-opacity="0.5"/>
<rect x="575.03" y="65.43" width="3.8" height="3.8" fill="#a6e2e2" stroke="#8aa9a9" stroke-width="0.45" fill-opacity="0.9"/>
<polygon points="595.05,111.7 596.94,108.28 593.16,108.28" fill="#c27452" stroke="#b06a4a" stroke-width="0.45" fill-opacity="0.72"/>
<circle cx="593.96" cy="121.45" r="1.75" fill="#2a7070" stroke="#6f9898" stroke-width="0.45" fill-opacity="0.5"/>
<polygon points="605.6,80.75 607.49,77.33 603.71,77.33" fill="#c27452" stroke="#b06a4a" stroke-width="0.45" fill-opacity="0.72"/>
<rect x="603.96" y="101.18" width="3.8" height="3.8" fill="#a6e2e2" stroke="#8aa9a9" stroke-width="0.45" fill-opacity="0.9"/>
<rect x="595.13" y="82.22" width="3.8" height="3.8" fill="#a6e2e2" stroke="#8aa9a9" stroke-width="0.45" fill-opacity="0.9"/>
<polygon points="542.56,101.47 544.4,104.79 540.72,104.79" fill="#f5bda5" stroke="#c98a70" stroke-width="0.45" fill-opacity="0.9"/>
<circle cx="626.59" cy="94.27" r="1.75" fill="#2a7070" stroke="#6f9898" stroke-width="0.45" fill-opacity="0.5"/>
<rect x="594.84" y="82.75" width="3.8" height="3.8" fill="#a6e2e2" stroke="#8aa9a9" stroke-width="0.45" fill-opacity="0.9"/>
<circle cx="613.67" cy="116.33" r="1.75" fill="#2a7070" stroke="#6f9898" stroke-width="0.45" fill-opacity="0.5"/>
<polygon points="565.58,97.48 567.42,100.8 563.74,100.8" fill="#f5bda5" stroke="#c98a70" stroke-width="0.45" fill-opacity="0.9"/>
<polygon points="585.08,65.15 586.97,61.73 583.19,61.73" fill="#c27452" stroke="#b06a4a" stroke-width="0.45" fill-opacity="0.72"/>
<rect x="556.63" y="76.44" width="3.8" height="3.8" fill="#a6e2e2" stroke="#8aa9a9" stroke-width="0.45" fill-opacity="0.9"/>
<rect x="540.2" y="87.95" width="3.8" height="3.8" fill="#a6e2e2" stroke="#8aa9a9" stroke-width="0.45" fill-opacity="0.9"/>
<circle cx="618.63" cy="100.54" r="1.75" fill="#2a7070" stroke="#6f9898" stroke-width="0.45" fill-opacity="0.5"/>
<polygon points="577.64,74.33 579.47,77.65 575.8,77.65" fill="#f5bda5" stroke="#c98a70" stroke-width="0.45" fill-opacity="0.9"/>
<rect x="567.48" y="51" width="3.8" height="3.8" fill="#a6e2e2" stroke="#8aa9a9" stroke-width="0.45" fill-opacity="0.9"/>
<circle cx="598.39" cy="124" r="1.75" fill="#2a7070" stroke="#6f9898" stroke-width="0.45" fill-opacity="0.5"/>
<circle cx="615.91" cy="116.53" r="1.75" fill="#2a7070" stroke="#6f9898" stroke-width="0.45" fill-opacity="0.5"/>
<rect x="573.15" y="101.98" width="3.8" height="3.8" fill="#a6e2e2" stroke="#8aa9a9" stroke-width="0.45" fill-opacity="0.9"/>
<circle cx="626.56" cy="93.62" r="1.75" fill="#2a7070" stroke="#6f9898" stroke-width="0.45" fill-opacity="0.5"/>
<rect x="576.73" y="102.19" width="3.8" height="3.8" fill="#a6e2e2" stroke="#8aa9a9" stroke-width="0.45" fill-opacity="0.9"/>
<circle cx="588.19" cy="114.33" r="1.75" fill="#2a7070" stroke="#6f9898" stroke-width="0.45" fill-opacity="0.5"/>
<rect x="573.02" y="88.7" width="3.8" height="3.8" fill="#a6e2e2" stroke="#8aa9a9" stroke-width="0.45" fill-opacity="0.9"/>
<rect x="570.76" y="56.27" width="3.8" height="3.8" fill="#a6e2e2" stroke="#8aa9a9" stroke-width="0.45" fill-opacity="0.9"/>
<polygon points="563.54,108.88 565.38,112.2 561.7,112.2" fill="#f5bda5" stroke="#c98a70" stroke-width="0.45" fill-opacity="0.9"/>
<polygon points="615.14,113.65 617.03,110.23 613.25,110.23" fill="#c27452" stroke="#b06a4a" stroke-width="0.45" fill-opacity="0.72"/>
<polygon points="603.25,77.16 605.14,73.74 601.36,73.74" fill="#c27452" stroke="#b06a4a" stroke-width="0.45" fill-opacity="0.72"/>
<rect x="585.52" y="84.41" width="3.8" height="3.8" fill="#a6e2e2" stroke="#8aa9a9" stroke-width="0.45" fill-opacity="0.9"/>
<polygon points="595.3,104.09 597.19,100.67 593.41,100.67" fill="#c27452" stroke="#b06a4a" stroke-width="0.45" fill-opacity="0.72"/>
<polygon points="534.96,110.85 536.79,114.17 533.12,114.17" fill="#f5bda5" stroke="#c98a70" stroke-width="0.45" fill-opacity="0.9"/>
<polygon points="598.85,80.78 600.69,84.1 597.02,84.1" fill="#f5bda5" stroke="#c98a70" stroke-width="0.45" fill-opacity="0.9"/>
<polygon points="553.59,112.42 555.43,115.74 551.75,115.74" fill="#f5bda5" stroke="#c98a70" stroke-width="0.45" fill-opacity="0.9"/>
<polygon points="583.75,115.42 585.59,118.74 581.91,118.74" fill="#f5bda5" stroke="#c98a70" stroke-width="0.45" fill-opacity="0.9"/>
<polygon points="597.85,99.19 599.74,95.77 595.96,95.77" fill="#c27452" stroke="#b06a4a" stroke-width="0.45" fill-opacity="0.72"/>
<rect x="565.5" y="86.69" width="3.8" height="3.8" fill="#a6e2e2" stroke="#8aa9a9" stroke-width="0.45" fill-opacity="0.9"/>
<rect x="563.93" y="77.86" width="3.8" height="3.8" fill="#a6e2e2" stroke="#8aa9a9" stroke-width="0.45" fill-opacity="0.9"/>
<polygon points="566.93,123.34 568.76,126.67 565.09,126.67" fill="#f5bda5" stroke="#c98a70" stroke-width="0.45" fill-opacity="0.9"/>
<circle cx="605.19" cy="101.28" r="1.75" fill="#2a7070" stroke="#6f9898" stroke-width="0.45" fill-opacity="0.5"/>
<polygon points="596.98,112.14 598.87,108.72 595.09,108.72" fill="#c27452" stroke="#b06a4a" stroke-width="0.45" fill-opacity="0.72"/>
<polygon points="543.92,97.17 545.76,100.5 542.09,100.5" fill="#f5bda5" stroke="#c98a70" stroke-width="0.45" fill-opacity="0.9"/>
<rect x="648.65" y="54.04" width="3.8" height="3.8" fill="#a6e2e2" stroke="#8aa9a9" stroke-width="0.45" fill-opacity="0.9"/>
<polygon points="560.17,92.71 562.01,96.04 558.33,96.04" fill="#f5bda5" stroke="#c98a70" stroke-width="0.45" fill-opacity="0.9"/>
<rect x="613.94" y="115.21" width="3.8" height="3.8" fill="#a6e2e2" stroke="#8aa9a9" stroke-width="0.45" fill-opacity="0.9"/>
<circle cx="617.01" cy="110.65" r="1.75" fill="#2a7070" stroke="#6f9898" stroke-width="0.45" fill-opacity="0.5"/>
<circle cx="621.05" cy="92.98" r="1.75" fill="#2a7070" stroke="#6f9898" stroke-width="0.45" fill-opacity="0.5"/>
<rect x="572.8" y="79.97" width="3.8" height="3.8" fill="#a6e2e2" stroke="#8aa9a9" stroke-width="0.45" fill-opacity="0.9"/>
<circle cx="616.02" cy="101.59" r="1.75" fill="#2a7070" stroke="#6f9898" stroke-width="0.45" fill-opacity="0.5"/>
<polygon points="594.94,114.83 596.83,111.41 593.05,111.41" fill="#c27452" stroke="#b06a4a" stroke-width="0.45" fill-opacity="0.72"/>
<circle cx="621.01" cy="106.96" r="1.75" fill="#2a7070" stroke="#6f9898" stroke-width="0.45" fill-opacity="0.5"/>
<polygon points="619.78,76.01 621.67,72.59 617.89,72.59" fill="#c27452" stroke="#b06a4a" stroke-width="0.45" fill-opacity="0.72"/>
<polygon points="576.06,147.22 577.9,150.55 574.22,150.55" fill="#f5bda5" stroke="#c98a70" stroke-width="0.45" fill-opacity="0.9"/>
<polygon points="612.7,45.86 614.59,42.44 610.81,42.44" fill="#c27452" stroke="#b06a4a" stroke-width="0.45" fill-opacity="0.72"/>
<circle cx="607.37" cy="100.84" r="1.75" fill="#2a7070" stroke="#6f9898" stroke-width="0.45" fill-opacity="0.5"/>
<polygon points="561.42,114.97 563.26,118.29 559.58,118.29" fill="#f5bda5" stroke="#c98a70" stroke-width="0.45" fill-opacity="0.9"/>
<rect x="574.32" y="78.88" width="3.8" height="3.8" fill="#a6e2e2" stroke="#8aa9a9" stroke-width="0.45" fill-opacity="0.9"/>
<polygon points="625.19,68.83 627.08,65.41 623.3,65.41" fill="#c27452" stroke="#b06a4a" stroke-width="0.45" fill-opacity="0.72"/>
<circle cx="604.04" cy="110.89" r="1.75" fill="#2a7070" stroke="#6f9898" stroke-width="0.45" fill-opacity="0.5"/>
<rect x="563.76" y="84.2" width="3.8" height="3.8" fill="#a6e2e2" stroke="#8aa9a9" stroke-width="0.45" fill-opacity="0.9"/>
<polygon points="574.59,86.37 576.48,82.95 572.7,82.95" fill="#c27452" stroke="#b06a4a" stroke-width="0.45" fill-opacity="0.72"/>
<polygon points="591.83,96.13 593.72,92.71 589.94,92.71" fill="#c27452" stroke="#b06a4a" stroke-width="0.45" fill-opacity="0.72"/>
<polygon points="588.41,89.81 590.25,93.14 586.58,93.14" fill="#f5bda5" stroke="#c98a70" stroke-width="0.45" fill-opacity="0.9"/>
<circle cx="607.28" cy="102.76" r="1.75" fill="#2a7070" stroke="#6f9898" stroke-width="0.45" fill-opacity="0.5"/>
<rect x="572.05" y="65.18" width="3.8" height="3.8" fill="#a6e2e2" stroke="#8aa9a9" stroke-width="0.45" fill-opacity="0.9"/>
<rect x="574.05" y="69.07" width="3.8" height="3.8" fill="#a6e2e2" stroke="#8aa9a9" stroke-width="0.45" fill-opacity="0.9"/>
<polygon points="594.79,86.12 596.68,82.7 592.9,82.7" fill="#c27452" stroke="#b06a4a" stroke-width="0.45" fill-opacity="0.72"/>
<rect x="586.76" y="62.84" width="3.8" height="3.8" fill="#a6e2e2" stroke="#8aa9a9" stroke-width="0.45" fill-opacity="0.9"/>
<polygon points="580.46,120.03 582.3,123.36 578.62,123.36" fill="#f5bda5" stroke="#c98a70" stroke-width="0.45" fill-opacity="0.9"/>
<circle cx="609.98" cy="107.24" r="1.75" fill="#2a7070" stroke="#6f9898" stroke-width="0.45" fill-opacity="0.5"/>
<polygon points="583.18,123.18 585.01,126.5 581.34,126.5" fill="#f5bda5" stroke="#c98a70" stroke-width="0.45" fill-opacity="0.9"/>
<polygon points="601.53,97.56 603.42,94.14 599.64,94.14" fill="#c27452" stroke="#b06a4a" stroke-width="0.45" fill-opacity="0.72"/>
<polygon points="561.59,99.31 563.43,102.64 559.75,102.64" fill="#f5bda5" stroke="#c98a70" stroke-width="0.45" fill-opacity="0.9"/>
<polygon points="566.79,113.09 568.63,116.41 564.95,116.41" fill="#f5bda5" stroke="#c98a70" stroke-width="0.45" fill-opacity="0.9"/>
<polygon points="558.96,88.09 560.79,91.41 557.12,91.41" fill="#f5bda5" stroke="#c98a70" stroke-width="0.45" fill-opacity="0.9"/>
<rect x="599.21" y="65.26" width="3.8" height="3.8" fill="#a6e2e2" stroke="#8aa9a9" stroke-width="0.45" fill-opacity="0.9"/>
<rect x="598.25" y="90.28" width="3.8" height="3.8" fill="#a6e2e2" stroke="#8aa9a9" stroke-width="0.45" fill-opacity="0.9"/>
<polygon points="610.18,84.9 612.07,81.48 608.29,81.48" fill="#c27452" stroke="#b06a4a" stroke-width="0.45" fill-opacity="0.72"/>
<circle cx="592.84" cy="114.09" r="1.75" fill="#2a7070" stroke="#6f9898" stroke-width="0.45" fill-opacity="0.5"/>
<polygon points="617.55,65.3 619.44,61.88 615.66,61.88" fill="#c27452" stroke="#b06a4a" stroke-width="0.45" fill-opacity="0.72"/>
<circle cx="622.78" cy="95.71" r="1.75" fill="#2a7070" stroke="#6f9898" stroke-width="0.45" fill-opacity="0.5"/>
<polygon points="609.9,119.1 611.74,122.42 608.06,122.42" fill="#f5bda5" stroke="#c98a70" stroke-width="0.45" fill-opacity="0.9"/>
<polygon points="593.45,92.13 595.34,88.71 591.56,88.71" fill="#c27452" stroke="#b06a4a" stroke-width="0.45" fill-opacity="0.72"/>
<polygon points="599.16,83.77 601.05,80.35 597.27,80.35" fill="#c27452" stroke="#b06a4a" stroke-width="0.45" fill-opacity="0.72"/>
<polygon points="610.88,83.53 612.77,80.11 608.99,80.11" fill="#c27452" stroke="#b06a4a" stroke-width="0.45" fill-opacity="0.72"/>
<polygon points="619.65,60.83 621.54,57.41 617.76,57.41" fill="#c27452" stroke="#b06a4a" stroke-width="0.45" fill-opacity="0.72"/>
<polygon points="607.32,86.12 609.21,82.7 605.43,82.7" fill="#c27452" stroke="#b06a4a" stroke-width="0.45" fill-opacity="0.72"/>
<rect x="588.73" y="102.33" width="3.8" height="3.8" fill="#a6e2e2" stroke="#8aa9a9" stroke-width="0.45" fill-opacity="0.9"/>
<circle cx="644.31" cy="124.09" r="1.75" fill="#2a7070" stroke="#6f9898" stroke-width="0.45" fill-opacity="0.5"/>
<rect x="583.91" y="73.64" width="3.8" height="3.8" fill="#a6e2e2" stroke="#8aa9a9" stroke-width="0.45" fill-opacity="0.9"/>
<polygon points="591.68,98.7 593.51,102.03 589.84,102.03" fill="#f5bda5" stroke="#c98a70" stroke-width="0.45" fill-opacity="0.9"/>
<polygon points="607.49,88.55 609.38,85.13 605.6,85.13" fill="#c27452" stroke="#b06a4a" stroke-width="0.45" fill-opacity="0.72"/>
<polygon points="586.85,100.49 588.74,97.07 584.96,97.07" fill="#c27452" stroke="#b06a4a" stroke-width="0.45" fill-opacity="0.72"/>
<rect x="572.71" y="73.62" width="3.8" height="3.8" fill="#a6e2e2" stroke="#8aa9a9" stroke-width="0.45" fill-opacity="0.9"/>
<polygon points="574.45,77.64 576.29,80.96 572.62,80.96" fill="#f5bda5" stroke="#c98a70" stroke-width="0.45" fill-opacity="0.9"/>
<polygon points="586.04,113.44 587.88,116.76 584.2,116.76" fill="#f5bda5" stroke="#c98a70" stroke-width="0.45" fill-opacity="0.9"/>
<polygon points="577.08,99.14 578.92,102.46 575.25,102.46" fill="#f5bda5" stroke="#c98a70" stroke-width="0.45" fill-opacity="0.9"/>
<circle cx="617" cy="108.33" r="1.75" fill="#2a7070" stroke="#6f9898" stroke-width="0.45" fill-opacity="0.5"/>
<circle cx="600.14" cy="82.75" r="1.75" fill="#2a7070" stroke="#6f9898" stroke-width="0.45" fill-opacity="0.5"/>
<circle cx="592.43" cy="81.56" r="1.75" fill="#2a7070" stroke="#6f9898" stroke-width="0.45" fill-opacity="0.5"/>
<polygon points="591.05,84.51 592.89,87.83 589.22,87.83" fill="#f5bda5" stroke="#c98a70" stroke-width="0.45" fill-opacity="0.9"/>
<polygon points="568.89,101.32 570.78,97.9 567,97.9" fill="#c27452" stroke="#b06a4a" stroke-width="0.45" fill-opacity="0.72"/>
<polygon points="586.87,84.27 588.76,80.85 584.98,80.85" fill="#c27452" stroke="#b06a4a" stroke-width="0.45" fill-opacity="0.72"/>
<rect x="590.15" y="101.94" width="3.8" height="3.8" fill="#a6e2e2" stroke="#8aa9a9" stroke-width="0.45" fill-opacity="0.9"/>
<circle cx="603.15" cy="96.3" r="1.75" fill="#2a7070" stroke="#6f9898" stroke-width="0.45" fill-opacity="0.5"/>
<rect x="591.84" y="111.67" width="3.8" height="3.8" fill="#a6e2e2" stroke="#8aa9a9" stroke-width="0.45" fill-opacity="0.9"/>
<circle cx="602.02" cy="99.95" r="1.75" fill="#2a7070" stroke="#6f9898" stroke-width="0.45" fill-opacity="0.5"/>
<polygon points="611.06,75.03 612.95,71.61 609.17,71.61" fill="#c27452" stroke="#b06a4a" stroke-width="0.45" fill-opacity="0.72"/>
<polygon points="646.72,142.18 648.61,138.76 644.83,138.76" fill="#c27452" stroke="#b06a4a" stroke-width="0.45" fill-opacity="0.72"/>
<polygon points="601.5,63.88 603.39,60.46 599.61,60.46" fill="#c27452" stroke="#b06a4a" stroke-width="0.45" fill-opacity="0.72"/>
<polygon points="621.05,66.82 622.94,63.4 619.16,63.4" fill="#c27452" stroke="#b06a4a" stroke-width="0.45" fill-opacity="0.72"/>
<rect x="587.81" y="99.83" width="3.8" height="3.8" fill="#a6e2e2" stroke="#8aa9a9" stroke-width="0.45" fill-opacity="0.9"/>
<circle cx="654.38" cy="146.91" r="1.75" fill="#2a7070" stroke="#6f9898" stroke-width="0.45" fill-opacity="0.5"/>
<rect x="581.69" y="81.59" width="3.8" height="3.8" fill="#a6e2e2" stroke="#8aa9a9" stroke-width="0.45" fill-opacity="0.9"/>
<circle cx="606.3" cy="89.02" r="1.75" fill="#2a7070" stroke="#6f9898" stroke-width="0.45" fill-opacity="0.5"/>
<rect x="565.71" y="92.66" width="3.8" height="3.8" fill="#a6e2e2" stroke="#8aa9a9" stroke-width="0.45" fill-opacity="0.9"/>
<circle cx="607.71" cy="100.54" r="1.75" fill="#2a7070" stroke="#6f9898" stroke-width="0.45" fill-opacity="0.5"/>
<polygon points="623.25,66.2 625.14,62.78 621.36,62.78" fill="#c27452" stroke="#b06a4a" stroke-width="0.45" fill-opacity="0.72"/>
<polygon points="618.48,72.28 620.37,68.86 616.59,68.86" fill="#c27452" stroke="#b06a4a" stroke-width="0.45" fill-opacity="0.72"/>
<circle cx="614.83" cy="100.35" r="1.75" fill="#2a7070" stroke="#6f9898" stroke-width="0.45" fill-opacity="0.5"/>
<polygon points="587.65,116.12 589.48,119.44 585.81,119.44" fill="#f5bda5" stroke="#c98a70" stroke-width="0.45" fill-opacity="0.9"/>
<rect x="586.34" y="68.99" width="3.8" height="3.8" fill="#a6e2e2" stroke="#8aa9a9" stroke-width="0.45" fill-opacity="0.9"/>
<polygon points="573.6,63.28 575.43,66.6 571.76,66.6" fill="#f5bda5" stroke="#c98a70" stroke-width="0.45" fill-opacity="0.9"/>
<polygon points="578,97.04 579.84,100.36 576.16,100.36" fill="#f5bda5" stroke="#c98a70" stroke-width="0.45" fill-opacity="0.9"/>
<rect x="578.92" y="79.86" width="3.8" height="3.8" fill="#a6e2e2" stroke="#8aa9a9" stroke-width="0.45" fill-opacity="0.9"/>
<polygon points="624.79,87.41 626.63,90.73 622.96,90.73" fill="#f5bda5" stroke="#c98a70" stroke-width="0.45" fill-opacity="0.9"/>
<rect x="586.31" y="68.01" width="3.8" height="3.8" fill="#a6e2e2" stroke="#8aa9a9" stroke-width="0.45" fill-opacity="0.9"/>
<polygon points="574.19,89.67 576.03,92.99 572.35,92.99" fill="#f5bda5" stroke="#c98a70" stroke-width="0.45" fill-opacity="0.9"/>
<rect x="601.23" y="71.06" width="3.8" height="3.8" fill="#a6e2e2" stroke="#8aa9a9" stroke-width="0.45" fill-opacity="0.9"/>
<rect x="616.72" y="86.11" width="3.8" height="3.8" fill="#a6e2e2" stroke="#8aa9a9" stroke-width="0.45" fill-opacity="0.9"/>
<circle cx="602.4" cy="94.55" r="1.75" fill="#2a7070" stroke="#6f9898" stroke-width="0.45" fill-opacity="0.5"/>
<rect x="615.26" y="73.99" width="3.8" height="3.8" fill="#a6e2e2" stroke="#8aa9a9" stroke-width="0.45" fill-opacity="0.9"/>
<circle cx="618.09" cy="117.58" r="1.75" fill="#2a7070" stroke="#6f9898" stroke-width="0.45" fill-opacity="0.5"/>
<polygon points="581.01,142.78 582.84,146.11 579.17,146.11" fill="#f5bda5" stroke="#c98a70" stroke-width="0.45" fill-opacity="0.9"/>
<polygon points="578.1,71.93 579.94,75.26 576.26,75.26" fill="#f5bda5" stroke="#c98a70" stroke-width="0.45" fill-opacity="0.9"/>
<polygon points="571.91,83.55 573.74,86.87 570.07,86.87" fill="#f5bda5" stroke="#c98a70" stroke-width="0.45" fill-opacity="0.9"/>
<rect x="589.29" y="112.44" width="3.8" height="3.8" fill="#a6e2e2" stroke="#8aa9a9" stroke-width="0.45" fill-opacity="0.9"/>
<rect x="559.61" y="85.36" width="3.8" height="3.8" fill="#a6e2e2" stroke="#8aa9a9" stroke-width="0.45" fill-opacity="0.9"/>
<rect x="577.74" y="108.44" width="3.8" height="3.8" fill="#a6e2e2" stroke="#8aa9a9" stroke-width="0.45" fill-opacity="0.9"/>
<polygon points="593.59,89.82 595.48,86.4 591.7,86.4" fill="#c27452" stroke="#b06a4a" stroke-width="0.45" fill-opacity="0.72"/>
<circle cx="601.99" cy="90.61" r="1.75" fill="#2a7070" stroke="#6f9898" stroke-width="0.45" fill-opacity="0.5"/>
<polygon points="597.02,71.09 598.91,67.67 595.13,67.67" fill="#c27452" stroke="#b06a4a" stroke-width="0.45" fill-opacity="0.72"/>
<rect x="596.97" y="64.46" width="3.8" height="3.8" fill="#a6e2e2" stroke="#8aa9a9" stroke-width="0.45" fill-opacity="0.9"/>
<rect x="565.75" y="90.75" width="3.8" height="3.8" fill="#a6e2e2" stroke="#8aa9a9" stroke-width="0.45" fill-opacity="0.9"/>
<rect x="586.05" y="87.62" width="3.8" height="3.8" fill="#a6e2e2" stroke="#8aa9a9" stroke-width="0.45" fill-opacity="0.9"/>
<circle cx="597.01" cy="109.84" r="1.75" fill="#2a7070" stroke="#6f9898" stroke-width="0.45" fill-opacity="0.5"/>
<rect x="605.57" y="86.85" width="3.8" height="3.8" fill="#a6e2e2" stroke="#8aa9a9" stroke-width="0.45" fill-opacity="0.9"/>
<polygon points="642.86,78.47 644.75,75.05 640.97,75.05" fill="#c27452" stroke="#b06a4a" stroke-width="0.45" fill-opacity="0.72"/>
<circle cx="619.13" cy="103.26" r="1.75" fill="#2a7070" stroke="#6f9898" stroke-width="0.45" fill-opacity="0.5"/>
<rect x="578.37" y="84.44" width="3.8" height="3.8" fill="#a6e2e2" stroke="#8aa9a9" stroke-width="0.45" fill-opacity="0.9"/>
<polygon points="575.81,120.81 577.64,124.14 573.97,124.14" fill="#f5bda5" stroke="#c98a70" stroke-width="0.45" fill-opacity="0.9"/>
<polygon points="576.86,97.96 578.7,101.29 575.02,101.29" fill="#f5bda5" stroke="#c98a70" stroke-width="0.45" fill-opacity="0.9"/>
<circle cx="597.7" cy="102.13" r="1.75" fill="#2a7070" stroke="#6f9898" stroke-width="0.45" fill-opacity="0.5"/>
<polygon points="563.85,88.02 565.69,91.35 562.01,91.35" fill="#f5bda5" stroke="#c98a70" stroke-width="0.45" fill-opacity="0.9"/>
<polygon points="584.12,97.15 585.96,100.47 582.28,100.47" fill="#f5bda5" stroke="#c98a70" stroke-width="0.45" fill-opacity="0.9"/>
<polygon points="552.88,122 554.72,125.33 551.05,125.33" fill="#f5bda5" stroke="#c98a70" stroke-width="0.45" fill-opacity="0.9"/>
<circle cx="593.28" cy="79.23" r="1.75" fill="#2a7070" stroke="#6f9898" stroke-width="0.45" fill-opacity="0.5"/>
<rect x="575.07" y="106.64" width="3.8" height="3.8" fill="#a6e2e2" stroke="#8aa9a9" stroke-width="0.45" fill-opacity="0.9"/>
<polygon points="548.73,118.47 550.57,121.8 546.9,121.8" fill="#f5bda5" stroke="#c98a70" stroke-width="0.45" fill-opacity="0.9"/>
<polygon points="652.47,82.82 654.36,79.4 650.58,79.4" fill="#c27452" stroke="#b06a4a" stroke-width="0.45" fill-opacity="0.72"/>
<polygon points="622.26,106.26 624.15,102.84 620.37,102.84" fill="#c27452" stroke="#b06a4a" stroke-width="0.45" fill-opacity="0.72"/>
<polygon points="615.48,94.91 617.37,91.49 613.59,91.49" fill="#c27452" stroke="#b06a4a" stroke-width="0.45" fill-opacity="0.72"/>
<polygon points="599.51,104.28 601.35,107.6 597.67,107.6" fill="#f5bda5" stroke="#c98a70" stroke-width="0.45" fill-opacity="0.9"/>
<circle cx="610.96" cy="107.55" r="1.75" fill="#2a7070" stroke="#6f9898" stroke-width="0.45" fill-opacity="0.5"/>
<rect x="582.55" y="82.68" width="3.8" height="3.8" fill="#a6e2e2" stroke="#8aa9a9" stroke-width="0.45" fill-opacity="0.9"/>
<polygon points="587.34,86.86 589.23,83.44 585.45,83.44" fill="#c27452" stroke="#b06a4a" stroke-width="0.45" fill-opacity="0.72"/>
<polygon points="635.15,71.64 637.04,68.22 633.26,68.22" fill="#c27452" stroke="#b06a4a" stroke-width="0.45" fill-opacity="0.72"/>
<rect x="592.7" y="67.57" width="3.8" height="3.8" fill="#a6e2e2" stroke="#8aa9a9" stroke-width="0.45" fill-opacity="0.9"/>
<circle cx="614.71" cy="130.19" r="1.75" fill="#2a7070" stroke="#6f9898" stroke-width="0.45" fill-opacity="0.5"/>
<circle cx="636.72" cy="93.8" r="1.75" fill="#2a7070" stroke="#6f9898" stroke-width="0.45" fill-opacity="0.5"/>
<polygon points="618.95,75.18 620.84,71.76 617.06,71.76" fill="#c27452" stroke="#b06a4a" stroke-width="0.45" fill-opacity="0.72"/>
<polygon points="573.39,103.2 575.28,99.78 571.5,99.78" fill="#c27452" stroke="#b06a4a" stroke-width="0.45" fill-opacity="0.72"/>
<circle cx="608.67" cy="107.6" r="1.75" fill="#2a7070" stroke="#6f9898" stroke-width="0.45" fill-opacity="0.5"/>
<circle cx="624.43" cy="106.77" r="1.75" fill="#2a7070" stroke="#6f9898" stroke-width="0.45" fill-opacity="0.5"/>
<polygon points="606.32,60.39 608.21,56.97 604.43,56.97" fill="#c27452" stroke="#b06a4a" stroke-width="0.45" fill-opacity="0.72"/>
<circle cx="628.06" cy="97.07" r="1.75" fill="#2a7070" stroke="#6f9898" stroke-width="0.45" fill-opacity="0.5"/>
<polygon points="587.21,90.1 589.05,93.42 585.37,93.42" fill="#f5bda5" stroke="#c98a70" stroke-width="0.45" fill-opacity="0.9"/>
<polygon points="586.91,101.27 588.75,104.59 585.07,104.59" fill="#f5bda5" stroke="#c98a70" stroke-width="0.45" fill-opacity="0.9"/>
<polygon points="601.03,98.11 602.92,94.69 599.14,94.69" fill="#c27452" stroke="#b06a4a" stroke-width="0.45" fill-opacity="0.72"/>
<rect x="557.69" y="33.94" width="3.8" height="3.8" fill="#a6e2e2" stroke="#8aa9a9" stroke-width="0.45" fill-opacity="0.9"/>
<polygon points="625.79,112.87 627.68,109.45 623.9,109.45" fill="#c27452" stroke="#b06a4a" stroke-width="0.45" fill-opacity="0.72"/>
<circle cx="618.9" cy="111.77" r="1.75" fill="#2a7070" stroke="#6f9898" stroke-width="0.45" fill-opacity="0.5"/>
<rect x="593.93" y="68.87" width="3.8" height="3.8" fill="#a6e2e2" stroke="#8aa9a9" stroke-width="0.45" fill-opacity="0.9"/>
<polygon points="596.25,84.4 598.14,80.98 594.36,80.98" fill="#c27452" stroke="#b06a4a" stroke-width="0.45" fill-opacity="0.72"/>
<rect x="578" y="83" width="9.2" height="9.2" fill="#3db4b4" stroke="#111" stroke-width="1.2"/>
<polygon points="578.9,98.92 583.94,108.04 573.86,108.04" fill="#f26a2e" stroke="#111" stroke-width="1.2"/>
<polygon points="604.1,89.18 609.14,80.06 599.06,80.06" fill="#9c3c17" stroke="#111" stroke-width="1.2"/>
<circle cx="610.4" cy="105.7" r="4.6" fill="#2a6f6f" stroke="#111" stroke-width="1.2"/>
<text x="523.6" y="145.9" font-size="7.45" text-anchor="start" fill="#4fa9a9" stroke="#4fa9a9" stroke-width="0.1">Male</text>
<text x="562.6" y="145.9" font-size="7.45" text-anchor="start" fill="#f26a2e" stroke="#f26a2e" stroke-width="0.1">Female</text>
<rect x="524" y="148.9" width="8.2" height="8.2" fill="#3db4b4" stroke="#111" stroke-width="1"/>
<text x="534.9" y="154.9" font-size="7.45" text-anchor="start" fill="#1a1a1a" stroke="#1a1a1a" stroke-width="0.1">CTRL</text>
<circle cx="528.1" cy="163.3" r="4.1" fill="#2a6f6f" stroke="#111" stroke-width="1"/>
<text x="534.9" y="166" font-size="7.45" text-anchor="start" fill="#1a1a1a" stroke="#1a1a1a" stroke-width="0.1">CUS</text>
<polygon points="564.7,148.79 569,156.58 560.4,156.58" fill="#f26a2e" stroke="#111" stroke-width="1"/>
<text x="571.1" y="154.9" font-size="7.45" text-anchor="start" fill="#1a1a1a" stroke="#1a1a1a" stroke-width="0.1">CTRL</text>
<polygon points="564.7,167.21 569,159.42 560.4,159.42" fill="#9c3c17" stroke="#111" stroke-width="1"/>
<text x="571.1" y="166" font-size="7.45" text-anchor="start" fill="#1a1a1a" stroke="#1a1a1a" stroke-width="0.1">CUS</text>
<line x1="516.8" y1="201.8" x2="516.8" y2="356.6" stroke="#333" stroke-width="1.2"/>
<line x1="516.2" y1="356" x2="670.6" y2="356" stroke="#333" stroke-width="1.2"/>
<line x1="510.3" y1="202.5" x2="516.8" y2="202.5" stroke="#333" stroke-width="1.1"/>
<text x="506.2" y="205.2" font-size="9.83" text-anchor="end" fill="#1a1a1a" stroke="#1a1a1a" stroke-width="0.1">4</text>
<line x1="669.7" y1="356" x2="669.7" y2="362.8" stroke="#333" stroke-width="1.1"/>
<text x="669.7" y="373.2" font-size="9.83" text-anchor="middle" fill="#1a1a1a" stroke="#1a1a1a" stroke-width="0.1">4</text>
<line x1="510.3" y1="240.8" x2="516.8" y2="240.8" stroke="#333" stroke-width="1.1"/>
<text x="506.2" y="243.5" font-size="9.83" text-anchor="end" fill="#1a1a1a" stroke="#1a1a1a" stroke-width="0.1">2</text>
<line x1="631.4" y1="356" x2="631.4" y2="362.8" stroke="#333" stroke-width="1.1"/>
<text x="631.4" y="373.2" font-size="9.83" text-anchor="middle" fill="#1a1a1a" stroke="#1a1a1a" stroke-width="0.1">2</text>
<line x1="510.3" y1="279.1" x2="516.8" y2="279.1" stroke="#333" stroke-width="1.1"/>
<text x="506.2" y="281.8" font-size="9.83" text-anchor="end" fill="#1a1a1a" stroke="#1a1a1a" stroke-width="0.1">0</text>
<line x1="593.1" y1="356" x2="593.1" y2="362.8" stroke="#333" stroke-width="1.1"/>
<text x="593.1" y="373.2" font-size="9.83" text-anchor="middle" fill="#1a1a1a" stroke="#1a1a1a" stroke-width="0.1">0</text>
<line x1="510.3" y1="317.4" x2="516.8" y2="317.4" stroke="#333" stroke-width="1.1"/>
<text x="506.2" y="320.1" font-size="9.83" text-anchor="end" fill="#1a1a1a" stroke="#1a1a1a" stroke-width="0.1">-2</text>
<line x1="554.8" y1="356" x2="554.8" y2="362.8" stroke="#333" stroke-width="1.1"/>
<text x="554.8" y="373.2" font-size="9.83" text-anchor="middle" fill="#1a1a1a" stroke="#1a1a1a" stroke-width="0.1">-2</text>
<line x1="510.3" y1="355.7" x2="516.8" y2="355.7" stroke="#333" stroke-width="1.1"/>
<text x="506.2" y="358.4" font-size="9.83" text-anchor="end" fill="#1a1a1a" stroke="#1a1a1a" stroke-width="0.1">-4</text>
<line x1="516.5" y1="356" x2="516.5" y2="362.8" stroke="#333" stroke-width="1.1"/>
<text x="516.5" y="373.2" font-size="9.83" text-anchor="middle" fill="#1a1a1a" stroke="#1a1a1a" stroke-width="0.1">-4</text>
<text x="492.9" y="278.6" font-size="9.83" text-anchor="middle" fill="#1a1a1a" transform="rotate(-90 492.9 278.6)" stroke="#1a1a1a" stroke-width="0.1">LDA2</text>
<text x="593.7" y="206" font-size="10.87" text-anchor="middle" fill="#1a1a1a" stroke="#1a1a1a" stroke-width="0.1">Transition space</text>
<text x="594.6" y="387" font-size="9.83" text-anchor="middle" fill="#1a1a1a" stroke="#1a1a1a" stroke-width="0.1">LDA1</text>
<polygon points="584.42,250.12 586.26,253.45 582.58,253.45" fill="#f5bda5" stroke="#c98a70" stroke-width="0.45" fill-opacity="0.9"/>
<polygon points="615.56,275.78 617.45,272.36 613.67,272.36" fill="#c27452" stroke="#b06a4a" stroke-width="0.45" fill-opacity="0.72"/>
<circle cx="613.64" cy="271.03" r="1.75" fill="#2a7070" stroke="#6f9898" stroke-width="0.45" fill-opacity="0.5"/>
<circle cx="625.27" cy="265.47" r="1.75" fill="#2a7070" stroke="#6f9898" stroke-width="0.45" fill-opacity="0.5"/>
<rect x="560.06" y="314.55" width="3.8" height="3.8" fill="#a6e2e2" stroke="#8aa9a9" stroke-width="0.45" fill-opacity="0.9"/>
<polygon points="589.94,224.14 591.78,227.46 588.11,227.46" fill="#f5bda5" stroke="#c98a70" stroke-width="0.45" fill-opacity="0.9"/>
<circle cx="635.18" cy="279.85" r="1.75" fill="#2a7070" stroke="#6f9898" stroke-width="0.45" fill-opacity="0.5"/>
<polygon points="616.04,293.64 617.93,290.22 614.15,290.22" fill="#c27452" stroke="#b06a4a" stroke-width="0.45" fill-opacity="0.72"/>
<rect x="559.47" y="300.35" width="3.8" height="3.8" fill="#a6e2e2" stroke="#8aa9a9" stroke-width="0.45" fill-opacity="0.9"/>
<polygon points="588.87,313.64 590.76,310.22 586.98,310.22" fill="#c27452" stroke="#b06a4a" stroke-width="0.45" fill-opacity="0.72"/>
<rect x="571.26" y="310.01" width="3.8" height="3.8" fill="#a6e2e2" stroke="#8aa9a9" stroke-width="0.45" fill-opacity="0.9"/>
<rect x="551.06" y="293.27" width="3.8" height="3.8" fill="#a6e2e2" stroke="#8aa9a9" stroke-width="0.45" fill-opacity="0.9"/>
<polygon points="595.66,244.46 597.5,247.79 593.82,247.79" fill="#f5bda5" stroke="#c98a70" stroke-width="0.45" fill-opacity="0.9"/>
<polygon points="606.93,302.14 608.82,298.72 605.04,298.72" fill="#c27452" stroke="#b06a4a" stroke-width="0.45" fill-opacity="0.72"/>
<rect x="545.42" y="308.89" width="3.8" height="3.8" fill="#a6e2e2" stroke="#8aa9a9" stroke-width="0.45" fill-opacity="0.9"/>
<polygon points="594.48,304.63 596.37,301.21 592.59,301.21" fill="#c27452" stroke="#b06a4a" stroke-width="0.45" fill-opacity="0.72"/>
<polygon points="600.48,300.28 602.37,296.86 598.59,296.86" fill="#c27452" stroke="#b06a4a" stroke-width="0.45" fill-opacity="0.72"/>
<polygon points="594.99,239.05 596.83,242.37 593.15,242.37" fill="#f5bda5" stroke="#c98a70" stroke-width="0.45" fill-opacity="0.9"/>
<polygon points="616.4,295.65 618.29,292.23 614.51,292.23" fill="#c27452" stroke="#b06a4a" stroke-width="0.45" fill-opacity="0.72"/>
<polygon points="618,330.87 619.88,327.45 616.11,327.45" fill="#c27452" stroke="#b06a4a" stroke-width="0.45" fill-opacity="0.72"/>
<rect x="542.37" y="259.97" width="3.8" height="3.8" fill="#a6e2e2" stroke="#8aa9a9" stroke-width="0.45" fill-opacity="0.9"/>
<rect x="568" y="301.58" width="3.8" height="3.8" fill="#a6e2e2" stroke="#8aa9a9" stroke-width="0.45" fill-opacity="0.9"/>
<rect x="560.97" y="283.96" width="3.8" height="3.8" fill="#a6e2e2" stroke="#8aa9a9" stroke-width="0.45" fill-opacity="0.9"/>
<polygon points="598.85,271.43 600.68,274.75 597.01,274.75" fill="#f5bda5" stroke="#c98a70" stroke-width="0.45" fill-opacity="0.9"/>
<polygon points="581.6,235.03 583.44,238.36 579.77,238.36" fill="#f5bda5" stroke="#c98a70" stroke-width="0.45" fill-opacity="0.9"/>
<circle cx="598.65" cy="274.45" r="1.75" fill="#2a7070" stroke="#6f9898" stroke-width="0.45" fill-opacity="0.5"/>
<polygon points="577.56,224.65 579.39,227.97 575.72,227.97" fill="#f5bda5" stroke="#c98a70" stroke-width="0.45" fill-opacity="0.9"/>
<circle cx="625.32" cy="250.61" r="1.75" fill="#2a7070" stroke="#6f9898" stroke-width="0.45" fill-opacity="0.5"/>
<polygon points="600.91,292.21 602.8,288.79 599.02,288.79" fill="#c27452" stroke="#b06a4a" stroke-width="0.45" fill-opacity="0.72"/>
<polygon points="575.47,236.86 577.31,240.18 573.63,240.18" fill="#f5bda5" stroke="#c98a70" stroke-width="0.45" fill-opacity="0.9"/>
<rect x="569.2" y="312.46" width="3.8" height="3.8" fill="#a6e2e2" stroke="#8aa9a9" stroke-width="0.45" fill-opacity="0.9"/>
<polygon points="601.81,297.27 603.7,293.85 599.92,293.85" fill="#c27452" stroke="#b06a4a" stroke-width="0.45" fill-opacity="0.72"/>
<circle cx="633.32" cy="244.63" r="1.75" fill="#2a7070" stroke="#6f9898" stroke-width="0.45" fill-opacity="0.5"/>
<circle cx="617.4" cy="295.41" r="1.75" fill="#2a7070" stroke="#6f9898" stroke-width="0.45" fill-opacity="0.5"/>
<polygon points="582.63,256.42 584.47,259.74 580.79,259.74" fill="#f5bda5" stroke="#c98a70" stroke-width="0.45" fill-opacity="0.9"/>
<polygon points="575.59,231.97 577.42,235.3 573.75,235.3" fill="#f5bda5" stroke="#c98a70" stroke-width="0.45" fill-opacity="0.9"/>
<polygon points="596.89,293.5 598.78,290.08 595,290.08" fill="#c27452" stroke="#b06a4a" stroke-width="0.45" fill-opacity="0.72"/>
<circle cx="631.33" cy="290.81" r="1.75" fill="#2a7070" stroke="#6f9898" stroke-width="0.45" fill-opacity="0.5"/>
<polygon points="579.38,224.67 581.22,228 577.54,228" fill="#f5bda5" stroke="#c98a70" stroke-width="0.45" fill-opacity="0.9"/>
<circle cx="602.92" cy="270.94" r="1.75" fill="#2a7070" stroke="#6f9898" stroke-width="0.45" fill-opacity="0.5"/>
<polygon points="589.37,252.79 591.21,256.11 587.54,256.11" fill="#f5bda5" stroke="#c98a70" stroke-width="0.45" fill-opacity="0.9"/>
<rect x="545.73" y="296.72" width="3.8" height="3.8" fill="#a6e2e2" stroke="#8aa9a9" stroke-width="0.45" fill-opacity="0.9"/>
<polygon points="634.79,292.67 636.68,289.25 632.9,289.25" fill="#c27452" stroke="#b06a4a" stroke-width="0.45" fill-opacity="0.72"/>
<circle cx="620.59" cy="261.25" r="1.75" fill="#2a7070" stroke="#6f9898" stroke-width="0.45" fill-opacity="0.5"/>
<rect x="570.28" y="294.18" width="3.8" height="3.8" fill="#a6e2e2" stroke="#8aa9a9" stroke-width="0.45" fill-opacity="0.9"/>
<circle cx="613.19" cy="281.08" r="1.75" fill="#2a7070" stroke="#6f9898" stroke-width="0.45" fill-opacity="0.5"/>
<polygon points="617.03,287.5 618.92,284.08 615.14,284.08" fill="#c27452" stroke="#b06a4a" stroke-width="0.45" fill-opacity="0.72"/>
<circle cx="607.63" cy="313.72" r="1.75" fill="#2a7070" stroke="#6f9898" stroke-width="0.45" fill-opacity="0.5"/>
<rect x="533.51" y="294.71" width="3.8" height="3.8" fill="#a6e2e2" stroke="#8aa9a9" stroke-width="0.45" fill-opacity="0.9"/>
<polygon points="602.5,304.65 604.39,301.23 600.61,301.23" fill="#c27452" stroke="#b06a4a" stroke-width="0.45" fill-opacity="0.72"/>
<rect x="586.47" y="303.97" width="3.8" height="3.8" fill="#a6e2e2" stroke="#8aa9a9" stroke-width="0.45" fill-opacity="0.9"/>
<rect x="554.84" y="304.98" width="3.8" height="3.8" fill="#a6e2e2" stroke="#8aa9a9" stroke-width="0.45" fill-opacity="0.9"/>
<rect x="577.95" y="293.4" width="3.8" height="3.8" fill="#a6e2e2" stroke="#8aa9a9" stroke-width="0.45" fill-opacity="0.9"/>
<rect x="563.04" y="273.15" width="3.8" height="3.8" fill="#a6e2e2" stroke="#8aa9a9" stroke-width="0.45" fill-opacity="0.9"/>
<polygon points="570.6,220.78 572.44,224.1 568.76,224.1" fill="#f5bda5" stroke="#c98a70" stroke-width="0.45" fill-opacity="0.9"/>
<polygon points="591.87,291.45 593.76,288.03 589.98,288.03" fill="#c27452" stroke="#b06a4a" stroke-width="0.45" fill-opacity="0.72"/>
<polygon points="575.38,240.93 577.22,244.25 573.54,244.25" fill="#f5bda5" stroke="#c98a70" stroke-width="0.45" fill-opacity="0.9"/>
<polygon points="634.49,298.39 636.38,294.97 632.6,294.97" fill="#c27452" stroke="#b06a4a" stroke-width="0.45" fill-opacity="0.72"/>
<polygon points="602.17,308.98 604.06,305.56 600.28,305.56" fill="#c27452" stroke="#b06a4a" stroke-width="0.45" fill-opacity="0.72"/>
<rect x="559.53" y="280.98" width="3.8" height="3.8" fill="#a6e2e2" stroke="#8aa9a9" stroke-width="0.45" fill-opacity="0.9"/>
<rect x="587.37" y="325.08" width="3.8" height="3.8" fill="#a6e2e2" stroke="#8aa9a9" stroke-width="0.45" fill-opacity="0.9"/>
<polygon points="588.12,240.98 589.96,244.31 586.28,244.31" fill="#f5bda5" stroke="#c98a70" stroke-width="0.45" fill-opacity="0.9"/>
<circle cx="621.41" cy="280.9" r="1.75" fill="#2a7070" stroke="#6f9898" stroke-width="0.45" fill-opacity="0.5"/>
<polygon points="583.71,231.07 585.55,234.4 581.88,234.4" fill="#f5bda5" stroke="#c98a70" stroke-width="0.45" fill-opacity="0.9"/>
<rect x="557.43" y="309.44" width="3.8" height="3.8" fill="#a6e2e2" stroke="#8aa9a9" stroke-width="0.45" fill-opacity="0.9"/>
<circle cx="601.8" cy="301.96" r="1.75" fill="#2a7070" stroke="#6f9898" stroke-width="0.45" fill-opacity="0.5"/>
<polygon points="578.27,247.73 580.1,251.05 576.43,251.05" fill="#f5bda5" stroke="#c98a70" stroke-width="0.45" fill-opacity="0.9"/>
<rect x="554.28" y="304.84" width="3.8" height="3.8" fill="#a6e2e2" stroke="#8aa9a9" stroke-width="0.45" fill-opacity="0.9"/>
<polygon points="574.6,235.76 576.44,239.08 572.77,239.08" fill="#f5bda5" stroke="#c98a70" stroke-width="0.45" fill-opacity="0.9"/>
<rect x="575.88" y="273.37" width="3.8" height="3.8" fill="#a6e2e2" stroke="#8aa9a9" stroke-width="0.45" fill-opacity="0.9"/>
<polygon points="607.84,295.04 609.73,291.62 605.95,291.62" fill="#c27452" stroke="#b06a4a" stroke-width="0.45" fill-opacity="0.72"/>
<rect x="553.86" y="332.74" width="3.8" height="3.8" fill="#a6e2e2" stroke="#8aa9a9" stroke-width="0.45" fill-opacity="0.9"/>
<rect x="547.17" y="289.82" width="3.8" height="3.8" fill="#a6e2e2" stroke="#8aa9a9" stroke-width="0.45" fill-opacity="0.9"/>
<circle cx="645.06" cy="297.74" r="1.75" fill="#2a7070" stroke="#6f9898" stroke-width="0.45" fill-opacity="0.5"/>
<polygon points="574.16,236.94 575.99,240.26 572.32,240.26" fill="#f5bda5" stroke="#c98a70" stroke-width="0.45" fill-opacity="0.9"/>
<circle cx="632.52" cy="269.41" r="1.75" fill="#2a7070" stroke="#6f9898" stroke-width="0.45" fill-opacity="0.5"/>
<polygon points="589.46,236.65 591.3,239.98 587.62,239.98" fill="#f5bda5" stroke="#c98a70" stroke-width="0.45" fill-opacity="0.9"/>
<polygon points="589.39,231.42 591.22,234.75 587.55,234.75" fill="#f5bda5" stroke="#c98a70" stroke-width="0.45" fill-opacity="0.9"/>
<circle cx="589.23" cy="297.72" r="1.75" fill="#2a7070" stroke="#6f9898" stroke-width="0.45" fill-opacity="0.5"/>
<polygon points="587.47,241.02 589.31,244.35 585.63,244.35" fill="#f5bda5" stroke="#c98a70" stroke-width="0.45" fill-opacity="0.9"/>
<polygon points="589.25,247.94 591.09,251.26 587.41,251.26" fill="#f5bda5" stroke="#c98a70" stroke-width="0.45" fill-opacity="0.9"/>
<polygon points="592.75,242.88 594.59,246.2 590.92,246.2" fill="#f5bda5" stroke="#c98a70" stroke-width="0.45" fill-opacity="0.9"/>
<circle cx="612.24" cy="295" r="1.75" fill="#2a7070" stroke="#6f9898" stroke-width="0.45" fill-opacity="0.5"/>
<polygon points="612.51,313.91 614.4,310.49 610.62,310.49" fill="#c27452" stroke="#b06a4a" stroke-width="0.45" fill-opacity="0.72"/>
<circle cx="631.55" cy="265.95" r="1.75" fill="#2a7070" stroke="#6f9898" stroke-width="0.45" fill-opacity="0.5"/>
<polygon points="636.03,303.63 637.92,300.21 634.14,300.21" fill="#c27452" stroke="#b06a4a" stroke-width="0.45" fill-opacity="0.72"/>
<circle cx="586.15" cy="278.51" r="1.75" fill="#2a7070" stroke="#6f9898" stroke-width="0.45" fill-opacity="0.5"/>
<rect x="544.94" y="310.85" width="3.8" height="3.8" fill="#a6e2e2" stroke="#8aa9a9" stroke-width="0.45" fill-opacity="0.9"/>
<polygon points="609.62,333.9 611.51,330.48 607.73,330.48" fill="#c27452" stroke="#b06a4a" stroke-width="0.45" fill-opacity="0.72"/>
<polygon points="601.59,305.16 603.48,301.74 599.7,301.74" fill="#c27452" stroke="#b06a4a" stroke-width="0.45" fill-opacity="0.72"/>
<polygon points="600.77,312.7 602.66,309.28 598.88,309.28" fill="#c27452" stroke="#b06a4a" stroke-width="0.45" fill-opacity="0.72"/>
<polygon points="586.03,249.35 587.87,252.67 584.19,252.67" fill="#f5bda5" stroke="#c98a70" stroke-width="0.45" fill-opacity="0.9"/>
<circle cx="592.75" cy="278.99" r="1.75" fill="#2a7070" stroke="#6f9898" stroke-width="0.45" fill-opacity="0.5"/>
<polygon points="613.99,304.49 615.88,301.07 612.1,301.07" fill="#c27452" stroke="#b06a4a" stroke-width="0.45" fill-opacity="0.72"/>
<circle cx="625.39" cy="275.68" r="1.75" fill="#2a7070" stroke="#6f9898" stroke-width="0.45" fill-opacity="0.5"/>
<circle cx="613.87" cy="297.64" r="1.75" fill="#2a7070" stroke="#6f9898" stroke-width="0.45" fill-opacity="0.5"/>
<circle cx="655.8" cy="277.32" r="1.75" fill="#2a7070" stroke="#6f9898" stroke-width="0.45" fill-opacity="0.5"/>
<circle cx="652.47" cy="286.76" r="1.75" fill="#2a7070" stroke="#6f9898" stroke-width="0.45" fill-opacity="0.5"/>
<circle cx="628.23" cy="273.73" r="1.75" fill="#2a7070" stroke="#6f9898" stroke-width="0.45" fill-opacity="0.5"/>
<polygon points="628.97,280.72 630.86,277.3 627.08,277.3" fill="#c27452" stroke="#b06a4a" stroke-width="0.45" fill-opacity="0.72"/>
<polygon points="590.73,247.87 592.57,251.2 588.9,251.2" fill="#f5bda5" stroke="#c98a70" stroke-width="0.45" fill-opacity="0.9"/>
<rect x="557.37" y="304.91" width="3.8" height="3.8" fill="#a6e2e2" stroke="#8aa9a9" stroke-width="0.45" fill-opacity="0.9"/>
<rect x="533.75" y="306.88" width="3.8" height="3.8" fill="#a6e2e2" stroke="#8aa9a9" stroke-width="0.45" fill-opacity="0.9"/>
<rect x="536.06" y="307.02" width="3.8" height="3.8" fill="#a6e2e2" stroke="#8aa9a9" stroke-width="0.45" fill-opacity="0.9"/>
<rect x="575.7" y="309.07" width="3.8" height="3.8" fill="#a6e2e2" stroke="#8aa9a9" stroke-width="0.45" fill-opacity="0.9"/>
<polygon points="598.23,302.5 600.12,299.08 596.34,299.08" fill="#c27452" stroke="#b06a4a" stroke-width="0.45" fill-opacity="0.72"/>
<polygon points="601.19,300.78 603.08,297.36 599.3,297.36" fill="#c27452" stroke="#b06a4a" stroke-width="0.45" fill-opacity="0.72"/>
<polygon points="598.85,303.17 600.74,299.75 596.96,299.75" fill="#c27452" stroke="#b06a4a" stroke-width="0.45" fill-opacity="0.72"/>
<circle cx="599" cy="283.1" r="1.75" fill="#2a7070" stroke="#6f9898" stroke-width="0.45" fill-opacity="0.5"/>
<circle cx="600.33" cy="287.52" r="1.75" fill="#2a7070" stroke="#6f9898" stroke-width="0.45" fill-opacity="0.5"/>
<polygon points="591,289.18 592.89,285.76 589.11,285.76" fill="#c27452" stroke="#b06a4a" stroke-width="0.45" fill-opacity="0.72"/>
<polygon points="612.05,306.5 613.94,303.08 610.16,303.08" fill="#c27452" stroke="#b06a4a" stroke-width="0.45" fill-opacity="0.72"/>
<rect x="589.29" y="275.29" width="3.8" height="3.8" fill="#a6e2e2" stroke="#8aa9a9" stroke-width="0.45" fill-opacity="0.9"/>
<circle cx="610.4" cy="277.23" r="1.75" fill="#2a7070" stroke="#6f9898" stroke-width="0.45" fill-opacity="0.5"/>
<rect x="526.74" y="298.06" width="3.8" height="3.8" fill="#a6e2e2" stroke="#8aa9a9" stroke-width="0.45" fill-opacity="0.9"/>
<rect x="557.03" y="294.1" width="3.8" height="3.8" fill="#a6e2e2" stroke="#8aa9a9" stroke-width="0.45" fill-opacity="0.9"/>
<polygon points="587.36,215.9 589.19,219.22 585.52,219.22" fill="#f5bda5" stroke="#c98a70" stroke-width="0.45" fill-opacity="0.9"/>
<circle cx="599.22" cy="274.06" r="1.75" fill="#2a7070" stroke="#6f9898" stroke-width="0.45" fill-opacity="0.5"/>
<rect x="608.44" y="313.59" width="3.8" height="3.8" fill="#a6e2e2" stroke="#8aa9a9" stroke-width="0.45" fill-opacity="0.9"/>
<polygon points="602.04,309.05 603.93,305.63 600.15,305.63" fill="#c27452" stroke="#b06a4a" stroke-width="0.45" fill-opacity="0.72"/>
<rect x="566.17" y="296.76" width="3.8" height="3.8" fill="#a6e2e2" stroke="#8aa9a9" stroke-width="0.45" fill-opacity="0.9"/>
<polygon points="593.37,321.57 595.26,318.15 591.48,318.15" fill="#c27452" stroke="#b06a4a" stroke-width="0.45" fill-opacity="0.72"/>
<rect x="593.55" y="311.26" width="3.8" height="3.8" fill="#a6e2e2" stroke="#8aa9a9" stroke-width="0.45" fill-opacity="0.9"/>
<polygon points="576.98,247.52 578.81,250.84 575.14,250.84" fill="#f5bda5" stroke="#c98a70" stroke-width="0.45" fill-opacity="0.9"/>
<polygon points="642.08,276.59 643.97,273.17 640.19,273.17" fill="#c27452" stroke="#b06a4a" stroke-width="0.45" fill-opacity="0.72"/>
<rect x="562.21" y="302.54" width="3.8" height="3.8" fill="#a6e2e2" stroke="#8aa9a9" stroke-width="0.45" fill-opacity="0.9"/>
<rect x="559.82" y="293.83" width="3.8" height="3.8" fill="#a6e2e2" stroke="#8aa9a9" stroke-width="0.45" fill-opacity="0.9"/>
<circle cx="615.05" cy="291.53" r="1.75" fill="#2a7070" stroke="#6f9898" stroke-width="0.45" fill-opacity="0.5"/>
<polygon points="586.26,242.79 588.1,246.12 584.43,246.12" fill="#f5bda5" stroke="#c98a70" stroke-width="0.45" fill-opacity="0.9"/>
<polygon points="588.32,253.04 590.15,256.36 586.48,256.36" fill="#f5bda5" stroke="#c98a70" stroke-width="0.45" fill-opacity="0.9"/>
<polygon points="577.89,234.88 579.73,238.2 576.06,238.2" fill="#f5bda5" stroke="#c98a70" stroke-width="0.45" fill-opacity="0.9"/>
<polygon points="580.54,231.71 582.38,235.04 578.7,235.04" fill="#f5bda5" stroke="#c98a70" stroke-width="0.45" fill-opacity="0.9"/>
<rect x="550.18" y="303.76" width="3.8" height="3.8" fill="#a6e2e2" stroke="#8aa9a9" stroke-width="0.45" fill-opacity="0.9"/>
<polygon points="625.16,319.54 627.05,316.12 623.27,316.12" fill="#c27452" stroke="#b06a4a" stroke-width="0.45" fill-opacity="0.72"/>
<rect x="556.35" y="299.53" width="3.8" height="3.8" fill="#a6e2e2" stroke="#8aa9a9" stroke-width="0.45" fill-opacity="0.9"/>
<polygon points="567.77,236.47 569.61,239.8 565.93,239.8" fill="#f5bda5" stroke="#c98a70" stroke-width="0.45" fill-opacity="0.9"/>
<polygon points="604.59,227.39 606.43,230.71 602.75,230.71" fill="#f5bda5" stroke="#c98a70" stroke-width="0.45" fill-opacity="0.9"/>
<polygon points="596.63,287.86 598.52,284.44 594.74,284.44" fill="#c27452" stroke="#b06a4a" stroke-width="0.45" fill-opacity="0.72"/>
<rect x="579.71" y="259.97" width="3.8" height="3.8" fill="#a6e2e2" stroke="#8aa9a9" stroke-width="0.45" fill-opacity="0.9"/>
<polygon points="602.07,292.91 603.96,289.49 600.18,289.49" fill="#c27452" stroke="#b06a4a" stroke-width="0.45" fill-opacity="0.72"/>
<circle cx="622.67" cy="262.52" r="1.75" fill="#2a7070" stroke="#6f9898" stroke-width="0.45" fill-opacity="0.5"/>
<polygon points="591.6,295.86 593.49,292.44 589.71,292.44" fill="#c27452" stroke="#b06a4a" stroke-width="0.45" fill-opacity="0.72"/>
<polygon points="591.35,296.9 593.24,293.48 589.46,293.48" fill="#c27452" stroke="#b06a4a" stroke-width="0.45" fill-opacity="0.72"/>
<polygon points="606.42,287.08 608.31,283.66 604.53,283.66" fill="#c27452" stroke="#b06a4a" stroke-width="0.45" fill-opacity="0.72"/>
<circle cx="641.24" cy="269.87" r="1.75" fill="#2a7070" stroke="#6f9898" stroke-width="0.45" fill-opacity="0.5"/>
<polygon points="594.69,298.76 596.58,295.34 592.8,295.34" fill="#c27452" stroke="#b06a4a" stroke-width="0.45" fill-opacity="0.72"/>
<rect x="549.18" y="291.5" width="3.8" height="3.8" fill="#a6e2e2" stroke="#8aa9a9" stroke-width="0.45" fill-opacity="0.9"/>
<polygon points="609.55,290.8 611.44,287.38 607.66,287.38" fill="#c27452" stroke="#b06a4a" stroke-width="0.45" fill-opacity="0.72"/>
<circle cx="610.52" cy="271.27" r="1.75" fill="#2a7070" stroke="#6f9898" stroke-width="0.45" fill-opacity="0.5"/>
<rect x="553.31" y="333.09" width="3.8" height="3.8" fill="#a6e2e2" stroke="#8aa9a9" stroke-width="0.45" fill-opacity="0.9"/>
<circle cx="618.36" cy="271.03" r="1.75" fill="#2a7070" stroke="#6f9898" stroke-width="0.45" fill-opacity="0.5"/>
<rect x="573.28" y="300.85" width="3.8" height="3.8" fill="#a6e2e2" stroke="#8aa9a9" stroke-width="0.45" fill-opacity="0.9"/>
<polygon points="575.96,231.83 577.8,235.16 574.12,235.16" fill="#f5bda5" stroke="#c98a70" stroke-width="0.45" fill-opacity="0.9"/>
<polygon points="589.27,258.03 591.11,261.35 587.43,261.35" fill="#f5bda5" stroke="#c98a70" stroke-width="0.45" fill-opacity="0.9"/>
<rect x="569.64" y="288.86" width="3.8" height="3.8" fill="#a6e2e2" stroke="#8aa9a9" stroke-width="0.45" fill-opacity="0.9"/>
<circle cx="627.6" cy="256.81" r="1.75" fill="#2a7070" stroke="#6f9898" stroke-width="0.45" fill-opacity="0.5"/>
<circle cx="599.75" cy="272.38" r="1.75" fill="#2a7070" stroke="#6f9898" stroke-width="0.45" fill-opacity="0.5"/>
<polygon points="587.93,246.88 589.77,250.21 586.1,250.21" fill="#f5bda5" stroke="#c98a70" stroke-width="0.45" fill-opacity="0.9"/>
<polygon points="584.95,287.96 586.84,284.54 583.06,284.54" fill="#c27452" stroke="#b06a4a" stroke-width="0.45" fill-opacity="0.72"/>
<polygon points="592.85,297.25 594.74,293.83 590.96,293.83" fill="#c27452" stroke="#b06a4a" stroke-width="0.45" fill-opacity="0.72"/>
<polygon points="616.21,289.93 618.1,286.51 614.32,286.51" fill="#c27452" stroke="#b06a4a" stroke-width="0.45" fill-opacity="0.72"/>
<circle cx="597.27" cy="268.79" r="1.75" fill="#2a7070" stroke="#6f9898" stroke-width="0.45" fill-opacity="0.5"/>
<circle cx="600.55" cy="279.41" r="1.75" fill="#2a7070" stroke="#6f9898" stroke-width="0.45" fill-opacity="0.5"/>
<polygon points="593.71,311.09 595.6,307.67 591.82,307.67" fill="#c27452" stroke="#b06a4a" stroke-width="0.45" fill-opacity="0.72"/>
<polygon points="626.01,303.19 627.9,299.77 624.12,299.77" fill="#c27452" stroke="#b06a4a" stroke-width="0.45" fill-opacity="0.72"/>
<circle cx="611.94" cy="296.63" r="1.75" fill="#2a7070" stroke="#6f9898" stroke-width="0.45" fill-opacity="0.5"/>
<rect x="556.63" y="289.09" width="3.8" height="3.8" fill="#a6e2e2" stroke="#8aa9a9" stroke-width="0.45" fill-opacity="0.9"/>
<rect x="564.83" y="303.19" width="3.8" height="3.8" fill="#a6e2e2" stroke="#8aa9a9" stroke-width="0.45" fill-opacity="0.9"/>
<rect x="575.35" y="307.49" width="3.8" height="3.8" fill="#a6e2e2" stroke="#8aa9a9" stroke-width="0.45" fill-opacity="0.9"/>
<polygon points="633.01,301.76 634.9,298.34 631.12,298.34" fill="#c27452" stroke="#b06a4a" stroke-width="0.45" fill-opacity="0.72"/>
<rect x="550.72" y="308.81" width="3.8" height="3.8" fill="#a6e2e2" stroke="#8aa9a9" stroke-width="0.45" fill-opacity="0.9"/>
<rect x="585.46" y="288.69" width="3.8" height="3.8" fill="#a6e2e2" stroke="#8aa9a9" stroke-width="0.45" fill-opacity="0.9"/>
<circle cx="640.94" cy="269.45" r="1.75" fill="#2a7070" stroke="#6f9898" stroke-width="0.45" fill-opacity="0.5"/>
<polygon points="561.52,242.78 563.35,246.11 559.68,246.11" fill="#f5bda5" stroke="#c98a70" stroke-width="0.45" fill-opacity="0.9"/>
<circle cx="623.02" cy="275.95" r="1.75" fill="#2a7070" stroke="#6f9898" stroke-width="0.45" fill-opacity="0.5"/>
<polygon points="610.38,296.02 612.27,292.6 608.49,292.6" fill="#c27452" stroke="#b06a4a" stroke-width="0.45" fill-opacity="0.72"/>
<polygon points="617.64,319.8 619.53,316.38 615.75,316.38" fill="#c27452" stroke="#b06a4a" stroke-width="0.45" fill-opacity="0.72"/>
<circle cx="616.38" cy="302.06" r="1.75" fill="#2a7070" stroke="#6f9898" stroke-width="0.45" fill-opacity="0.5"/>
<polygon points="611.83,308.51 613.72,305.09 609.94,305.09" fill="#c27452" stroke="#b06a4a" stroke-width="0.45" fill-opacity="0.72"/>
<polygon points="559.47,235.61 561.3,238.94 557.63,238.94" fill="#f5bda5" stroke="#c98a70" stroke-width="0.45" fill-opacity="0.9"/>
<circle cx="606.69" cy="288.61" r="1.75" fill="#2a7070" stroke="#6f9898" stroke-width="0.45" fill-opacity="0.5"/>
<polygon points="566.19,227.37 568.03,230.7 564.35,230.7" fill="#f5bda5" stroke="#c98a70" stroke-width="0.45" fill-opacity="0.9"/>
<polygon points="590.39,234.33 592.23,237.65 588.55,237.65" fill="#f5bda5" stroke="#c98a70" stroke-width="0.45" fill-opacity="0.9"/>
<circle cx="611.94" cy="287.06" r="1.75" fill="#2a7070" stroke="#6f9898" stroke-width="0.45" fill-opacity="0.5"/>
<polygon points="574.34,255.39 576.18,258.71 572.51,258.71" fill="#f5bda5" stroke="#c98a70" stroke-width="0.45" fill-opacity="0.9"/>
<rect x="596.95" y="300.18" width="3.8" height="3.8" fill="#a6e2e2" stroke="#8aa9a9" stroke-width="0.45" fill-opacity="0.9"/>
<circle cx="634.79" cy="279.46" r="1.75" fill="#2a7070" stroke="#6f9898" stroke-width="0.45" fill-opacity="0.5"/>
<rect x="567.2" y="301.31" width="3.8" height="3.8" fill="#a6e2e2" stroke="#8aa9a9" stroke-width="0.45" fill-opacity="0.9"/>
<circle cx="629.54" cy="259.79" r="1.75" fill="#2a7070" stroke="#6f9898" stroke-width="0.45" fill-opacity="0.5"/>
<rect x="532.88" y="298.35" width="3.8" height="3.8" fill="#a6e2e2" stroke="#8aa9a9" stroke-width="0.45" fill-opacity="0.9"/>
<rect x="557.44" y="302.93" width="3.8" height="3.8" fill="#a6e2e2" stroke="#8aa9a9" stroke-width="0.45" fill-opacity="0.9"/>
<polygon points="593.89,241.46 595.73,244.79 592.05,244.79" fill="#f5bda5" stroke="#c98a70" stroke-width="0.45" fill-opacity="0.9"/>
<polygon points="561.78,231.39 563.62,234.71 559.94,234.71" fill="#f5bda5" stroke="#c98a70" stroke-width="0.45" fill-opacity="0.9"/>
<circle cx="645.26" cy="288.3" r="1.75" fill="#2a7070" stroke="#6f9898" stroke-width="0.45" fill-opacity="0.5"/>
<circle cx="605.78" cy="268.63" r="1.75" fill="#2a7070" stroke="#6f9898" stroke-width="0.45" fill-opacity="0.5"/>
<circle cx="598.74" cy="283.71" r="1.75" fill="#2a7070" stroke="#6f9898" stroke-width="0.45" fill-opacity="0.5"/>
<polygon points="573.2,223.55 575.04,226.88 571.37,226.88" fill="#f5bda5" stroke="#c98a70" stroke-width="0.45" fill-opacity="0.9"/>
<polygon points="599.72,226.29 601.55,229.61 597.88,229.61" fill="#f5bda5" stroke="#c98a70" stroke-width="0.45" fill-opacity="0.9"/>
<circle cx="619.36" cy="309.02" r="1.75" fill="#2a7070" stroke="#6f9898" stroke-width="0.45" fill-opacity="0.5"/>
<circle cx="605.28" cy="300.09" r="1.75" fill="#2a7070" stroke="#6f9898" stroke-width="0.45" fill-opacity="0.5"/>
<polygon points="565.16,308.22 567.05,304.8 563.27,304.8" fill="#c27452" stroke="#b06a4a" stroke-width="0.45" fill-opacity="0.72"/>
<circle cx="590.94" cy="309.2" r="1.75" fill="#2a7070" stroke="#6f9898" stroke-width="0.45" fill-opacity="0.5"/>
<rect x="561.24" y="316.58" width="3.8" height="3.8" fill="#a6e2e2" stroke="#8aa9a9" stroke-width="0.45" fill-opacity="0.9"/>
<polygon points="578.56,212.77 580.4,216.1 576.72,216.1" fill="#f5bda5" stroke="#c98a70" stroke-width="0.45" fill-opacity="0.9"/>
<circle cx="618.2" cy="290.54" r="1.75" fill="#2a7070" stroke="#6f9898" stroke-width="0.45" fill-opacity="0.5"/>
<polygon points="589.81,311.43 591.7,308.01 587.92,308.01" fill="#c27452" stroke="#b06a4a" stroke-width="0.45" fill-opacity="0.72"/>
<rect x="537.92" y="296.46" width="3.8" height="3.8" fill="#a6e2e2" stroke="#8aa9a9" stroke-width="0.45" fill-opacity="0.9"/>
<rect x="565.42" y="273.39" width="3.8" height="3.8" fill="#a6e2e2" stroke="#8aa9a9" stroke-width="0.45" fill-opacity="0.9"/>
<circle cx="635.89" cy="290.35" r="1.75" fill="#2a7070" stroke="#6f9898" stroke-width="0.45" fill-opacity="0.5"/>
<rect x="569.88" y="293.97" width="3.8" height="3.8" fill="#a6e2e2" stroke="#8aa9a9" stroke-width="0.45" fill-opacity="0.9"/>
<rect x="571.91" y="293.94" width="3.8" height="3.8" fill="#a6e2e2" stroke="#8aa9a9" stroke-width="0.45" fill-opacity="0.9"/>
<polygon points="623.41,297.45 625.3,294.03 621.52,294.03" fill="#c27452" stroke="#b06a4a" stroke-width="0.45" fill-opacity="0.72"/>
<circle cx="633.19" cy="271.18" r="1.75" fill="#2a7070" stroke="#6f9898" stroke-width="0.45" fill-opacity="0.5"/>
<polygon points="629.15,294.38 631.04,290.96 627.26,290.96" fill="#c27452" stroke="#b06a4a" stroke-width="0.45" fill-opacity="0.72"/>
<rect x="598.86" y="269.54" width="3.8" height="3.8" fill="#a6e2e2" stroke="#8aa9a9" stroke-width="0.45" fill-opacity="0.9"/>
<rect x="517.84" y="299.04" width="3.8" height="3.8" fill="#a6e2e2" stroke="#8aa9a9" stroke-width="0.45" fill-opacity="0.9"/>
<polygon points="621.85,311.75 623.74,308.33 619.96,308.33" fill="#c27452" stroke="#b06a4a" stroke-width="0.45" fill-opacity="0.72"/>
<rect x="566.73" y="280.23" width="3.8" height="3.8" fill="#a6e2e2" stroke="#8aa9a9" stroke-width="0.45" fill-opacity="0.9"/>
<polygon points="594.27,240.95 596.1,244.28 592.43,244.28" fill="#f5bda5" stroke="#c98a70" stroke-width="0.45" fill-opacity="0.9"/>
<polygon points="591.78,295.12 593.67,291.7 589.89,291.7" fill="#c27452" stroke="#b06a4a" stroke-width="0.45" fill-opacity="0.72"/>
<rect x="561.49" y="315.11" width="3.8" height="3.8" fill="#a6e2e2" stroke="#8aa9a9" stroke-width="0.45" fill-opacity="0.9"/>
<rect x="562.24" y="295.74" width="3.8" height="3.8" fill="#a6e2e2" stroke="#8aa9a9" stroke-width="0.45" fill-opacity="0.9"/>
<polygon points="569.83,225.97 571.67,229.3 568,229.3" fill="#f5bda5" stroke="#c98a70" stroke-width="0.45" fill-opacity="0.9"/>
<rect x="553.71" y="299.65" width="3.8" height="3.8" fill="#a6e2e2" stroke="#8aa9a9" stroke-width="0.45" fill-opacity="0.9"/>
<rect x="562.1" y="293.31" width="3.8" height="3.8" fill="#a6e2e2" stroke="#8aa9a9" stroke-width="0.45" fill-opacity="0.9"/>
<polygon points="584.23,268.16 586.07,271.48 582.4,271.48" fill="#f5bda5" stroke="#c98a70" stroke-width="0.45" fill-opacity="0.9"/>
<polygon points="583.51,229.23 585.35,232.55 581.68,232.55" fill="#f5bda5" stroke="#c98a70" stroke-width="0.45" fill-opacity="0.9"/>
<rect x="595.03" y="305.93" width="3.8" height="3.8" fill="#a6e2e2" stroke="#8aa9a9" stroke-width="0.45" fill-opacity="0.9"/>
<polygon points="575.87,246.67 577.7,250 574.03,250" fill="#f5bda5" stroke="#c98a70" stroke-width="0.45" fill-opacity="0.9"/>
<polygon points="546.18,282.92 548.02,286.25 544.35,286.25" fill="#f5bda5" stroke="#c98a70" stroke-width="0.45" fill-opacity="0.9"/>
<polygon points="619.49,273.79 621.38,270.37 617.6,270.37" fill="#c27452" stroke="#b06a4a" stroke-width="0.45" fill-opacity="0.72"/>
<polygon points="591.92,323.3 593.81,319.88 590.03,319.88" fill="#c27452" stroke="#b06a4a" stroke-width="0.45" fill-opacity="0.72"/>
<polygon points="575.53,244.98 577.37,248.31 573.69,248.31" fill="#f5bda5" stroke="#c98a70" stroke-width="0.45" fill-opacity="0.9"/>
<rect x="549.78" y="294.15" width="3.8" height="3.8" fill="#a6e2e2" stroke="#8aa9a9" stroke-width="0.45" fill-opacity="0.9"/>
<circle cx="608.89" cy="284.59" r="1.75" fill="#2a7070" stroke="#6f9898" stroke-width="0.45" fill-opacity="0.5"/>
<rect x="567.52" y="313.06" width="3.8" height="3.8" fill="#a6e2e2" stroke="#8aa9a9" stroke-width="0.45" fill-opacity="0.9"/>
<polygon points="587.42,308.18 589.31,304.76 585.53,304.76" fill="#c27452" stroke="#b06a4a" stroke-width="0.45" fill-opacity="0.72"/>
<polygon points="609.08,312.43 610.97,309.01 607.19,309.01" fill="#c27452" stroke="#b06a4a" stroke-width="0.45" fill-opacity="0.72"/>
<polygon points="620.79,308.8 622.68,305.38 618.9,305.38" fill="#c27452" stroke="#b06a4a" stroke-width="0.45" fill-opacity="0.72"/>
<circle cx="612.43" cy="283.29" r="1.75" fill="#2a7070" stroke="#6f9898" stroke-width="0.45" fill-opacity="0.5"/>
<polygon points="608.62,317.72 610.51,314.3 606.73,314.3" fill="#c27452" stroke="#b06a4a" stroke-width="0.45" fill-opacity="0.72"/>
<circle cx="580.59" cy="284.92" r="1.75" fill="#2a7070" stroke="#6f9898" stroke-width="0.45" fill-opacity="0.5"/>
<polygon points="587.59,243.15 589.42,246.48 585.75,246.48" fill="#f5bda5" stroke="#c98a70" stroke-width="0.45" fill-opacity="0.9"/>
<circle cx="645.47" cy="281.78" r="1.75" fill="#2a7070" stroke="#6f9898" stroke-width="0.45" fill-opacity="0.5"/>
<circle cx="615.75" cy="284.02" r="1.75" fill="#2a7070" stroke="#6f9898" stroke-width="0.45" fill-opacity="0.5"/>
<circle cx="604.45" cy="280.23" r="1.75" fill="#2a7070" stroke="#6f9898" stroke-width="0.45" fill-opacity="0.5"/>
<circle cx="641.2" cy="265.43" r="1.75" fill="#2a7070" stroke="#6f9898" stroke-width="0.45" fill-opacity="0.5"/>
<rect x="557.15" y="321.25" width="3.8" height="3.8" fill="#a6e2e2" stroke="#8aa9a9" stroke-width="0.45" fill-opacity="0.9"/>
<circle cx="639.91" cy="283.92" r="1.75" fill="#2a7070" stroke="#6f9898" stroke-width="0.45" fill-opacity="0.5"/>
<polygon points="593.97,298.63 595.86,295.21 592.08,295.21" fill="#c27452" stroke="#b06a4a" stroke-width="0.45" fill-opacity="0.72"/>
<polygon points="614.93,286.48 616.82,283.06 613.04,283.06" fill="#c27452" stroke="#b06a4a" stroke-width="0.45" fill-opacity="0.72"/>
<circle cx="628.89" cy="245.02" r="1.75" fill="#2a7070" stroke="#6f9898" stroke-width="0.45" fill-opacity="0.5"/>
<circle cx="645.21" cy="292.32" r="1.75" fill="#2a7070" stroke="#6f9898" stroke-width="0.45" fill-opacity="0.5"/>
<polygon points="579.99,224.22 581.83,227.54 578.15,227.54" fill="#f5bda5" stroke="#c98a70" stroke-width="0.45" fill-opacity="0.9"/>
<circle cx="599.44" cy="302.41" r="1.75" fill="#2a7070" stroke="#6f9898" stroke-width="0.45" fill-opacity="0.5"/>
<polygon points="567.25,344.2 569.09,347.52 565.41,347.52" fill="#f5bda5" stroke="#c98a70" stroke-width="0.45" fill-opacity="0.9"/>
<rect x="547.25" y="306.05" width="3.8" height="3.8" fill="#a6e2e2" stroke="#8aa9a9" stroke-width="0.45" fill-opacity="0.9"/>
<polygon points="603.98,253.5 605.81,256.82 602.14,256.82" fill="#f5bda5" stroke="#c98a70" stroke-width="0.45" fill-opacity="0.9"/>
<polygon points="581.61,215.9 583.45,219.22 579.77,219.22" fill="#f5bda5" stroke="#c98a70" stroke-width="0.45" fill-opacity="0.9"/>
<rect x="566.22" y="297.97" width="3.8" height="3.8" fill="#a6e2e2" stroke="#8aa9a9" stroke-width="0.45" fill-opacity="0.9"/>
<rect x="545.06" y="298.72" width="3.8" height="3.8" fill="#a6e2e2" stroke="#8aa9a9" stroke-width="0.45" fill-opacity="0.9"/>
<rect x="566.26" y="294.92" width="3.8" height="3.8" fill="#a6e2e2" stroke="#8aa9a9" stroke-width="0.45" fill-opacity="0.9"/>
<polygon points="584.63,244.41 586.47,247.73 582.79,247.73" fill="#f5bda5" stroke="#c98a70" stroke-width="0.45" fill-opacity="0.9"/>
<circle cx="623.35" cy="278.53" r="1.75" fill="#2a7070" stroke="#6f9898" stroke-width="0.45" fill-opacity="0.5"/>
<polygon points="577.11,230.87 578.95,234.19 575.27,234.19" fill="#f5bda5" stroke="#c98a70" stroke-width="0.45" fill-opacity="0.9"/>
<circle cx="620.06" cy="286.89" r="1.75" fill="#2a7070" stroke="#6f9898" stroke-width="0.45" fill-opacity="0.5"/>
<polygon points="626.44,287.19 628.33,283.77 624.55,283.77" fill="#c27452" stroke="#b06a4a" stroke-width="0.45" fill-opacity="0.72"/>
<circle cx="616.26" cy="300.08" r="1.75" fill="#2a7070" stroke="#6f9898" stroke-width="0.45" fill-opacity="0.5"/>
<rect x="568.35" y="295.18" width="3.8" height="3.8" fill="#a6e2e2" stroke="#8aa9a9" stroke-width="0.45" fill-opacity="0.9"/>
<polygon points="602.09,313.61 603.98,310.19 600.2,310.19" fill="#c27452" stroke="#b06a4a" stroke-width="0.45" fill-opacity="0.72"/>
<rect x="543.45" y="287.85" width="3.8" height="3.8" fill="#a6e2e2" stroke="#8aa9a9" stroke-width="0.45" fill-opacity="0.9"/>
<circle cx="614.18" cy="300.47" r="1.75" fill="#2a7070" stroke="#6f9898" stroke-width="0.45" fill-opacity="0.5"/>
<circle cx="605.63" cy="276.61" r="1.75" fill="#2a7070" stroke="#6f9898" stroke-width="0.45" fill-opacity="0.5"/>
<polygon points="614.09,303.78 615.98,300.36 612.2,300.36" fill="#c27452" stroke="#b06a4a" stroke-width="0.45" fill-opacity="0.72"/>
<polygon points="594.89,214.19 596.73,217.51 593.05,217.51" fill="#f5bda5" stroke="#c98a70" stroke-width="0.45" fill-opacity="0.9"/>
<circle cx="613.62" cy="271.04" r="1.75" fill="#2a7070" stroke="#6f9898" stroke-width="0.45" fill-opacity="0.5"/>
<polygon points="612.98,303.65 614.87,300.23 611.09,300.23" fill="#c27452" stroke="#b06a4a" stroke-width="0.45" fill-opacity="0.72"/>
<circle cx="613.33" cy="279.75" r="1.75" fill="#2a7070" stroke="#6f9898" stroke-width="0.45" fill-opacity="0.5"/>
<rect x="556.28" y="302.83" width="3.8" height="3.8" fill="#a6e2e2" stroke="#8aa9a9" stroke-width="0.45" fill-opacity="0.9"/>
<rect x="553.23" y="296.94" width="3.8" height="3.8" fill="#a6e2e2" stroke="#8aa9a9" stroke-width="0.45" fill-opacity="0.9"/>
<polygon points="592.85,294.02 594.74,290.6 590.96,290.6" fill="#c27452" stroke="#b06a4a" stroke-width="0.45" fill-opacity="0.72"/>
<rect x="563.84" y="300.6" width="3.8" height="3.8" fill="#a6e2e2" stroke="#8aa9a9" stroke-width="0.45" fill-opacity="0.9"/>
<rect x="554.34" y="303.87" width="3.8" height="3.8" fill="#a6e2e2" stroke="#8aa9a9" stroke-width="0.45" fill-opacity="0.9"/>
<polygon points="577.78,259.94 579.62,263.26 575.94,263.26" fill="#f5bda5" stroke="#c98a70" stroke-width="0.45" fill-opacity="0.9"/>
<rect x="584.38" y="282.13" width="3.8" height="3.8" fill="#a6e2e2" stroke="#8aa9a9" stroke-width="0.45" fill-opacity="0.9"/>
<circle cx="643.03" cy="288.48" r="1.75" fill="#2a7070" stroke="#6f9898" stroke-width="0.45" fill-opacity="0.5"/>
<rect x="574.19" y="294.69" width="3.8" height="3.8" fill="#a6e2e2" stroke="#8aa9a9" stroke-width="0.45" fill-opacity="0.9"/>
<rect x="545.89" y="292.96" width="3.8" height="3.8" fill="#a6e2e2" stroke="#8aa9a9" stroke-width="0.45" fill-opacity="0.9"/>
<polygon points="602.68,256.11 604.51,259.44 600.84,259.44" fill="#f5bda5" stroke="#c98a70" stroke-width="0.45" fill-opacity="0.9"/>
<polygon points="602.28,302.08 604.17,298.66 600.39,298.66" fill="#c27452" stroke="#b06a4a" stroke-width="0.45" fill-opacity="0.72"/>
<circle cx="631.21" cy="284.06" r="1.75" fill="#2a7070" stroke="#6f9898" stroke-width="0.45" fill-opacity="0.5"/>
<circle cx="642.64" cy="286.35" r="1.75" fill="#2a7070" stroke="#6f9898" stroke-width="0.45" fill-opacity="0.5"/>
<rect x="568.22" y="298.58" width="3.8" height="3.8" fill="#a6e2e2" stroke="#8aa9a9" stroke-width="0.45" fill-opacity="0.9"/>
<rect x="551.51" y="294.95" width="3.8" height="3.8" fill="#a6e2e2" stroke="#8aa9a9" stroke-width="0.45" fill-opacity="0.9"/>
<rect x="539.97" y="270.64" width="3.8" height="3.8" fill="#a6e2e2" stroke="#8aa9a9" stroke-width="0.45" fill-opacity="0.9"/>
<polygon points="603.42,310.62 605.31,307.2 601.53,307.2" fill="#c27452" stroke="#b06a4a" stroke-width="0.45" fill-opacity="0.72"/>
<rect x="556.77" y="290.8" width="3.8" height="3.8" fill="#a6e2e2" stroke="#8aa9a9" stroke-width="0.45" fill-opacity="0.9"/>
<rect x="541.94" y="279.76" width="3.8" height="3.8" fill="#a6e2e2" stroke="#8aa9a9" stroke-width="0.45" fill-opacity="0.9"/>
<circle cx="627.27" cy="269.14" r="1.75" fill="#2a7070" stroke="#6f9898" stroke-width="0.45" fill-opacity="0.5"/>
<circle cx="632.66" cy="282.45" r="1.75" fill="#2a7070" stroke="#6f9898" stroke-width="0.45" fill-opacity="0.5"/>
<polygon points="601.86,256.93 603.7,260.25 600.02,260.25" fill="#f5bda5" stroke="#c98a70" stroke-width="0.45" fill-opacity="0.9"/>
<rect x="576.94" y="301.11" width="3.8" height="3.8" fill="#a6e2e2" stroke="#8aa9a9" stroke-width="0.45" fill-opacity="0.9"/>
<polygon points="613.19,312.8 615.08,309.38 611.3,309.38" fill="#c27452" stroke="#b06a4a" stroke-width="0.45" fill-opacity="0.72"/>
<polygon points="588.39,233.33 590.23,236.65 586.56,236.65" fill="#f5bda5" stroke="#c98a70" stroke-width="0.45" fill-opacity="0.9"/>
<polygon points="574.59,220.54 576.43,223.86 572.75,223.86" fill="#f5bda5" stroke="#c98a70" stroke-width="0.45" fill-opacity="0.9"/>
<circle cx="618.18" cy="280.52" r="1.75" fill="#2a7070" stroke="#6f9898" stroke-width="0.45" fill-opacity="0.5"/>
<polygon points="561.55,241.8 563.39,245.13 559.72,245.13" fill="#f5bda5" stroke="#c98a70" stroke-width="0.45" fill-opacity="0.9"/>
<circle cx="602.19" cy="301.21" r="1.75" fill="#2a7070" stroke="#6f9898" stroke-width="0.45" fill-opacity="0.5"/>
<rect x="567.7" y="281.2" width="3.8" height="3.8" fill="#a6e2e2" stroke="#8aa9a9" stroke-width="0.45" fill-opacity="0.9"/>
<circle cx="594.99" cy="271.51" r="1.75" fill="#2a7070" stroke="#6f9898" stroke-width="0.45" fill-opacity="0.5"/>
<polygon points="574.67,245.62 576.51,248.95 572.84,248.95" fill="#f5bda5" stroke="#c98a70" stroke-width="0.45" fill-opacity="0.9"/>
<circle cx="601.14" cy="272.2" r="1.75" fill="#2a7070" stroke="#6f9898" stroke-width="0.45" fill-opacity="0.5"/>
<polygon points="569.31,237.54 571.15,240.87 567.47,240.87" fill="#f5bda5" stroke="#c98a70" stroke-width="0.45" fill-opacity="0.9"/>
<polygon points="576.84,237.19 578.68,240.52 575,240.52" fill="#f5bda5" stroke="#c98a70" stroke-width="0.45" fill-opacity="0.9"/>
<polygon points="589.41,230.07 591.24,233.39 587.57,233.39" fill="#f5bda5" stroke="#c98a70" stroke-width="0.45" fill-opacity="0.9"/>
<rect x="545.15" y="277.45" width="3.8" height="3.8" fill="#a6e2e2" stroke="#8aa9a9" stroke-width="0.45" fill-opacity="0.9"/>
<rect x="564.14" y="294.67" width="3.8" height="3.8" fill="#a6e2e2" stroke="#8aa9a9" stroke-width="0.45" fill-opacity="0.9"/>
<polygon points="589.9,309.03 591.79,305.61 588.01,305.61" fill="#c27452" stroke="#b06a4a" stroke-width="0.45" fill-opacity="0.72"/>
<polygon points="598.66,305.89 600.55,302.47 596.77,302.47" fill="#c27452" stroke="#b06a4a" stroke-width="0.45" fill-opacity="0.72"/>
<rect x="570.57" y="287.7" width="3.8" height="3.8" fill="#a6e2e2" stroke="#8aa9a9" stroke-width="0.45" fill-opacity="0.9"/>
<polygon points="611.48,288.06 613.37,284.64 609.59,284.64" fill="#c27452" stroke="#b06a4a" stroke-width="0.45" fill-opacity="0.72"/>
<polygon points="595.01,265.69 596.85,269.01 593.18,269.01" fill="#f5bda5" stroke="#c98a70" stroke-width="0.45" fill-opacity="0.9"/>
<rect x="569.92" y="303.88" width="3.8" height="3.8" fill="#a6e2e2" stroke="#8aa9a9" stroke-width="0.45" fill-opacity="0.9"/>
<circle cx="641.61" cy="278.41" r="1.75" fill="#2a7070" stroke="#6f9898" stroke-width="0.45" fill-opacity="0.5"/>
<circle cx="624.55" cy="263.53" r="1.75" fill="#2a7070" stroke="#6f9898" stroke-width="0.45" fill-opacity="0.5"/>
<circle cx="622.09" cy="293.99" r="1.75" fill="#2a7070" stroke="#6f9898" stroke-width="0.45" fill-opacity="0.5"/>
<circle cx="655.62" cy="307.25" r="1.75" fill="#2a7070" stroke="#6f9898" stroke-width="0.45" fill-opacity="0.5"/>
<circle cx="547.14" cy="326.02" r="1.75" fill="#2a7070" stroke="#6f9898" stroke-width="0.45" fill-opacity="0.5"/>
<polygon points="585.44,237.08 587.27,240.4 583.6,240.4" fill="#f5bda5" stroke="#c98a70" stroke-width="0.45" fill-opacity="0.9"/>
<polygon points="572.57,241.32 574.4,244.65 570.73,244.65" fill="#f5bda5" stroke="#c98a70" stroke-width="0.45" fill-opacity="0.9"/>
<polygon points="602.63,312.68 604.52,309.26 600.74,309.26" fill="#c27452" stroke="#b06a4a" stroke-width="0.45" fill-opacity="0.72"/>
<polygon points="573.21,262.75 575.05,266.07 571.37,266.07" fill="#f5bda5" stroke="#c98a70" stroke-width="0.45" fill-opacity="0.9"/>
<rect x="567.5" y="289.55" width="3.8" height="3.8" fill="#a6e2e2" stroke="#8aa9a9" stroke-width="0.45" fill-opacity="0.9"/>
<polygon points="568.19,233.51 570.02,236.84 566.35,236.84" fill="#f5bda5" stroke="#c98a70" stroke-width="0.45" fill-opacity="0.9"/>
<polygon points="611.3,288.14 613.19,284.72 609.41,284.72" fill="#c27452" stroke="#b06a4a" stroke-width="0.45" fill-opacity="0.72"/>
<polygon points="608.35,293.02 610.24,289.6 606.46,289.6" fill="#c27452" stroke="#b06a4a" stroke-width="0.45" fill-opacity="0.72"/>
<rect x="549.72" y="302.19" width="3.8" height="3.8" fill="#a6e2e2" stroke="#8aa9a9" stroke-width="0.45" fill-opacity="0.9"/>
<circle cx="644.78" cy="267.46" r="1.75" fill="#2a7070" stroke="#6f9898" stroke-width="0.45" fill-opacity="0.5"/>
<circle cx="620.92" cy="291.85" r="1.75" fill="#2a7070" stroke="#6f9898" stroke-width="0.45" fill-opacity="0.5"/>
<rect x="561.4" y="286.33" width="3.8" height="3.8" fill="#a6e2e2" stroke="#8aa9a9" stroke-width="0.45" fill-opacity="0.9"/>
<polygon points="606.12,301.69 608.01,298.27 604.23,298.27" fill="#c27452" stroke="#b06a4a" stroke-width="0.45" fill-opacity="0.72"/>
<circle cx="620.06" cy="275.23" r="1.75" fill="#2a7070" stroke="#6f9898" stroke-width="0.45" fill-opacity="0.5"/>
<polygon points="593.92,298.08 595.81,294.66 592.03,294.66" fill="#c27452" stroke="#b06a4a" stroke-width="0.45" fill-opacity="0.72"/>
<circle cx="628.95" cy="275.76" r="1.75" fill="#2a7070" stroke="#6f9898" stroke-width="0.45" fill-opacity="0.5"/>
<polygon points="571.1,253.8 572.94,257.13 569.27,257.13" fill="#f5bda5" stroke="#c98a70" stroke-width="0.45" fill-opacity="0.9"/>
<polygon points="641.93,303.03 643.77,306.35 640.1,306.35" fill="#f5bda5" stroke="#c98a70" stroke-width="0.45" fill-opacity="0.9"/>
<polygon points="598.16,238 600,241.32 596.33,241.32" fill="#f5bda5" stroke="#c98a70" stroke-width="0.45" fill-opacity="0.9"/>
<polygon points="608.48,282.48 610.37,279.06 606.59,279.06" fill="#c27452" stroke="#b06a4a" stroke-width="0.45" fill-opacity="0.72"/>
<polygon points="614.99,297.61 616.88,294.19 613.1,294.19" fill="#c27452" stroke="#b06a4a" stroke-width="0.45" fill-opacity="0.72"/>
<circle cx="608.97" cy="309.92" r="1.75" fill="#2a7070" stroke="#6f9898" stroke-width="0.45" fill-opacity="0.5"/>
<polygon points="598.93,316.21 600.82,312.79 597.04,312.79" fill="#c27452" stroke="#b06a4a" stroke-width="0.45" fill-opacity="0.72"/>
<circle cx="608.49" cy="261.87" r="1.75" fill="#2a7070" stroke="#6f9898" stroke-width="0.45" fill-opacity="0.5"/>
<circle cx="630.15" cy="299.09" r="1.75" fill="#2a7070" stroke="#6f9898" stroke-width="0.45" fill-opacity="0.5"/>
<circle cx="614.33" cy="291.83" r="1.75" fill="#2a7070" stroke="#6f9898" stroke-width="0.45" fill-opacity="0.5"/>
<polygon points="609.31,294.49 611.2,291.07 607.42,291.07" fill="#c27452" stroke="#b06a4a" stroke-width="0.45" fill-opacity="0.72"/>
<rect x="573.05" y="287.11" width="3.8" height="3.8" fill="#a6e2e2" stroke="#8aa9a9" stroke-width="0.45" fill-opacity="0.9"/>
<circle cx="590.46" cy="256.94" r="1.75" fill="#2a7070" stroke="#6f9898" stroke-width="0.45" fill-opacity="0.5"/>
<polygon points="604.22,249.67 606.06,253 602.38,253" fill="#f5bda5" stroke="#c98a70" stroke-width="0.45" fill-opacity="0.9"/>
<polygon points="583.45,227.87 585.29,231.2 581.61,231.2" fill="#f5bda5" stroke="#c98a70" stroke-width="0.45" fill-opacity="0.9"/>
<rect x="565.87" y="300.46" width="3.8" height="3.8" fill="#a6e2e2" stroke="#8aa9a9" stroke-width="0.45" fill-opacity="0.9"/>
<polygon points="612.39,279.52 614.28,276.1 610.5,276.1" fill="#c27452" stroke="#b06a4a" stroke-width="0.45" fill-opacity="0.72"/>
<circle cx="581.9" cy="241.59" r="1.75" fill="#2a7070" stroke="#6f9898" stroke-width="0.45" fill-opacity="0.5"/>
<polygon points="585.87,246.24 587.7,249.57 584.03,249.57" fill="#f5bda5" stroke="#c98a70" stroke-width="0.45" fill-opacity="0.9"/>
<polygon points="613.25,295.25 615.14,291.83 611.36,291.83" fill="#c27452" stroke="#b06a4a" stroke-width="0.45" fill-opacity="0.72"/>
<rect x="564.3" y="287.6" width="9.2" height="9.2" fill="#3db4b4" stroke="#111" stroke-width="1.2"/>
<polygon points="587.2,249.52 592.24,258.64 582.16,258.64" fill="#f26a2e" stroke="#111" stroke-width="1.2"/>
<polygon points="603.3,297.48 608.34,288.36 598.26,288.36" fill="#9c3c17" stroke="#111" stroke-width="1.2"/>
<circle cx="615.3" cy="279.7" r="4.6" fill="#2a6f6f" stroke="#111" stroke-width="1.2"/>
<text x="2" y="400.2" font-size="11.28" text-anchor="start" fill="#000" font-weight="bold">h</text>
<text x="112.5" y="406.6" font-size="10.87" text-anchor="middle" fill="#2e7878" stroke="#2e7878" stroke-width="0.1">Male</text>
<text x="253.8" y="406.6" font-size="10.87" text-anchor="middle" fill="#b9502c" stroke="#b9502c" stroke-width="0.1">Female</text>
<text x="80.1" y="421.8" font-size="9.52" text-anchor="middle" fill="#1a1a1a" stroke="#1a1a1a" stroke-width="0.1">Accuracy: 0.70</text>
<text x="219.6" y="421.8" font-size="9.52" text-anchor="middle" fill="#1a1a1a" stroke="#1a1a1a" stroke-width="0.1">Accuracy: 0.64</text>
<text x="80.1" y="522.2" font-size="9.52" text-anchor="middle" fill="#1a1a1a" stroke="#1a1a1a" stroke-width="0.1">Accuracy: 0.88</text>
<text x="219.6" y="522.2" font-size="9.52" text-anchor="middle" fill="#1a1a1a" stroke="#1a1a1a" stroke-width="0.1">Accuracy: 0.81</text>
<rect x="46.8" y="424.4" width="33.35" height="33.5" fill="#d9d9d9" stroke="none" stroke-width="1"/>
<rect x="80.15" y="424.4" width="33.35" height="33.5" fill="#2b2b2b" stroke="none" stroke-width="1"/>
<rect x="46.8" y="457.9" width="33.35" height="33.5" fill="#333333" stroke="none" stroke-width="1"/>
<rect x="80.15" y="457.9" width="33.35" height="33.5" fill="#d4d4d4" stroke="none" stroke-width="1"/>
<rect x="46.8" y="424.4" width="66.7" height="67" fill="none" stroke="#b0b0b0" stroke-width="0.7"/>
<rect x="186.1" y="424.4" width="33.35" height="33.5" fill="#c0c0c0" stroke="none" stroke-width="1"/>
<rect x="219.45" y="424.4" width="33.35" height="33.5" fill="#3a3a3a" stroke="none" stroke-width="1"/>
<rect x="186.1" y="457.9" width="33.35" height="33.5" fill="#484848" stroke="none" stroke-width="1"/>
<rect x="219.45" y="457.9" width="33.35" height="33.5" fill="#b0b0b0" stroke="none" stroke-width="1"/>
<rect x="186.1" y="424.4" width="66.7" height="67" fill="none" stroke="#b0b0b0" stroke-width="0.7"/>
<rect x="46.8" y="525" width="33.35" height="33.2" fill="#ececec" stroke="none" stroke-width="1"/>
<rect x="80.15" y="525" width="33.35" height="33.2" fill="#1c1c1c" stroke="none" stroke-width="1"/>
<rect x="46.8" y="558.2" width="33.35" height="33.2" fill="#030303" stroke="none" stroke-width="1"/>
<rect x="80.15" y="558.2" width="33.35" height="33.2" fill="#ffffff" stroke="none" stroke-width="1"/>
<rect x="46.8" y="525" width="66.7" height="66.4" fill="none" stroke="#b0b0b0" stroke-width="0.7"/>
<rect x="186.1" y="525" width="33.35" height="33.2" fill="#e6e6e6" stroke="none" stroke-width="1"/>
<rect x="219.45" y="525" width="33.35" height="33.2" fill="#161616" stroke="none" stroke-width="1"/>
<rect x="186.1" y="558.2" width="33.35" height="33.2" fill="#222222" stroke="none" stroke-width="1"/>
<rect x="219.45" y="558.2" width="33.35" height="33.2" fill="#dddddd" stroke="none" stroke-width="1"/>
<rect x="186.1" y="525" width="66.7" height="66.4" fill="none" stroke="#b0b0b0" stroke-width="0.7"/>
<line x1="44.3" y1="441.15" x2="46.8" y2="441.15" stroke="#666" stroke-width="0.8"/>
<line x1="44.3" y1="474.65" x2="46.8" y2="474.65" stroke="#666" stroke-width="0.8"/>
<line x1="63.47" y1="491.4" x2="63.47" y2="493.9" stroke="#666" stroke-width="0.8"/>
<line x1="96.83" y1="491.4" x2="96.83" y2="493.9" stroke="#666" stroke-width="0.8"/>
<line x1="44.3" y1="541.6" x2="46.8" y2="541.6" stroke="#666" stroke-width="0.8"/>
<line x1="44.3" y1="574.8" x2="46.8" y2="574.8" stroke="#666" stroke-width="0.8"/>
<line x1="63.47" y1="591.4" x2="63.47" y2="593.9" stroke="#666" stroke-width="0.8"/>
<line x1="96.83" y1="591.4" x2="96.83" y2="593.9" stroke="#666" stroke-width="0.8"/>
<line x1="183.6" y1="441.15" x2="186.1" y2="441.15" stroke="#666" stroke-width="0.8"/>
<line x1="183.6" y1="474.65" x2="186.1" y2="474.65" stroke="#666" stroke-width="0.8"/>
<line x1="202.78" y1="491.4" x2="202.78" y2="493.9" stroke="#666" stroke-width="0.8"/>
<line x1="236.12" y1="491.4" x2="236.12" y2="493.9" stroke="#666" stroke-width="0.8"/>
<line x1="183.6" y1="541.6" x2="186.1" y2="541.6" stroke="#666" stroke-width="0.8"/>
<line x1="183.6" y1="574.8" x2="186.1" y2="574.8" stroke="#666" stroke-width="0.8"/>
<line x1="202.78" y1="591.4" x2="202.78" y2="593.9" stroke="#666" stroke-width="0.8"/>
<line x1="236.12" y1="591.4" x2="236.12" y2="593.9" stroke="#666" stroke-width="0.8"/>
<text x="41.8" y="441.15" font-size="9.52" text-anchor="middle" fill="#1a1a1a" transform="rotate(-90 41.8 441.15)" stroke="#1a1a1a" stroke-width="0.1">CTRL</text>
<text x="41.8" y="477" font-size="9.52" text-anchor="middle" fill="#1a1a1a" transform="rotate(-90 41.8 477)" stroke="#1a1a1a" stroke-width="0.1">CUS</text>
<text x="33" y="458.9" font-size="9.52" text-anchor="middle" fill="#1a1a1a" transform="rotate(-90 33 458.9)" stroke="#1a1a1a" stroke-width="0.1">True label</text>
<text x="41.8" y="541.6" font-size="9.52" text-anchor="middle" fill="#1a1a1a" transform="rotate(-90 41.8 541.6)" stroke="#1a1a1a" stroke-width="0.1">CTRL</text>
<text x="41.8" y="577.12" font-size="9.52" text-anchor="middle" fill="#1a1a1a" transform="rotate(-90 41.8 577.12)" stroke="#1a1a1a" stroke-width="0.1">CUS</text>
<text x="33" y="559.2" font-size="9.52" text-anchor="middle" fill="#1a1a1a" transform="rotate(-90 33 559.2)" stroke="#1a1a1a" stroke-width="0.1">True label</text>
<text x="16.6" y="458.2" font-size="10.97" text-anchor="middle" fill="#1a1a1a" transform="rotate(-90 16.6 458.2)" stroke="#1a1a1a" stroke-width="0.1">Frequency</text>
<text x="16.6" y="556.5" font-size="10.97" text-anchor="middle" fill="#1a1a1a" transform="rotate(-90 16.6 556.5)" stroke="#1a1a1a" stroke-width="0.1">Transition</text>
<text x="63" y="503.8" font-size="9.52" text-anchor="middle" fill="#1a1a1a" stroke="#1a1a1a" stroke-width="0.1">CTRL</text>
<text x="96.4" y="503.8" font-size="9.52" text-anchor="middle" fill="#1a1a1a" stroke="#1a1a1a" stroke-width="0.1">CUS</text>
<text x="63" y="604.4" font-size="9.52" text-anchor="middle" fill="#1a1a1a" stroke="#1a1a1a" stroke-width="0.1">CTRL</text>
<text x="96.4" y="604.4" font-size="9.52" text-anchor="middle" fill="#1a1a1a" stroke="#1a1a1a" stroke-width="0.1">CUS</text>
<text x="80.1" y="613.6" font-size="9.52" text-anchor="middle" fill="#1a1a1a" stroke="#1a1a1a" stroke-width="0.1">Predicted label</text>
<text x="202.3" y="503.8" font-size="9.52" text-anchor="middle" fill="#1a1a1a" stroke="#1a1a1a" stroke-width="0.1">CTRL</text>
<text x="235.7" y="503.8" font-size="9.52" text-anchor="middle" fill="#1a1a1a" stroke="#1a1a1a" stroke-width="0.1">CUS</text>
<text x="202.3" y="604.4" font-size="9.52" text-anchor="middle" fill="#1a1a1a" stroke="#1a1a1a" stroke-width="0.1">CTRL</text>
<text x="235.7" y="604.4" font-size="9.52" text-anchor="middle" fill="#1a1a1a" stroke="#1a1a1a" stroke-width="0.1">CUS</text>
<text x="219.4" y="613.6" font-size="9.52" text-anchor="middle" fill="#1a1a1a" stroke="#1a1a1a" stroke-width="0.1">Predicted label</text>
<line x1="134" y1="423.9" x2="134" y2="490.1" stroke="#333" stroke-width="1.1"/>
<line x1="133.5" y1="489.6" x2="174.7" y2="489.6" stroke="#333" stroke-width="1.1"/>
<line x1="131" y1="424.4" x2="134" y2="424.4" stroke="#333" stroke-width="1"/>
<text x="128" y="427.3" font-size="8.28" text-anchor="end" fill="#1a1a1a" stroke="#1a1a1a" stroke-width="0.1">1.0</text>
<line x1="131" y1="457" x2="134" y2="457" stroke="#333" stroke-width="1"/>
<text x="128" y="459.9" font-size="8.28" text-anchor="end" fill="#1a1a1a" stroke="#1a1a1a" stroke-width="0.1">0.5</text>
<line x1="131" y1="489.6" x2="134" y2="489.6" stroke="#333" stroke-width="1"/>
<text x="128" y="492.5" font-size="8.28" text-anchor="end" fill="#1a1a1a" stroke="#1a1a1a" stroke-width="0.1">0</text>
<line x1="141.4" y1="489.6" x2="141.4" y2="492.6" stroke="#333" stroke-width="1"/>
<text x="146" y="497.9" font-size="7.87" text-anchor="end" fill="#1a1a1a" transform="rotate(-45 146 497.9)" stroke="#1a1a1a" stroke-width="0.1">Precision</text>
<line x1="153.7" y1="489.6" x2="153.7" y2="492.6" stroke="#333" stroke-width="1"/>
<text x="158.3" y="497.9" font-size="7.87" text-anchor="end" fill="#1a1a1a" transform="rotate(-45 158.3 497.9)" stroke="#1a1a1a" stroke-width="0.1">Recall</text>
<line x1="166.1" y1="489.6" x2="166.1" y2="492.6" stroke="#333" stroke-width="1"/>
<text x="170.7" y="497.9" font-size="7.87" text-anchor="end" fill="#1a1a1a" transform="rotate(-45 170.7 497.9)" stroke="#1a1a1a" stroke-width="0.1">F1 score</text>
<rect x="137" y="436.8" width="8.8" height="16.1" fill="#a6a6a6" stroke="#333" stroke-width="0.8"/>
<line x1="137" y1="443.3" x2="145.8" y2="443.3" stroke="#333" stroke-width="0.8"/>
<rect x="139.2" y="449.19" width="2.4" height="2.4" fill="#fff" stroke="#333" stroke-width="0.6"/>
<rect x="136.7" y="437.11" width="2.4" height="2.4" fill="#fff" stroke="#333" stroke-width="0.6"/>
<rect x="139.2" y="449.47" width="2.4" height="2.4" fill="#fff" stroke="#333" stroke-width="0.6"/>
<rect x="141.7" y="442.77" width="2.4" height="2.4" fill="#fff" stroke="#333" stroke-width="0.6"/>
<rect x="136.7" y="441.2" width="2.4" height="2.4" fill="#fff" stroke="#333" stroke-width="0.6"/>
<circle cx="141.4" cy="443.3" r="1.3" fill="#666" stroke="#333" stroke-width="0.5"/>
<rect x="149.3" y="435.9" width="8.8" height="17.6" fill="#a6a6a6" stroke="#333" stroke-width="0.8"/>
<line x1="149.3" y1="445.5" x2="158.1" y2="445.5" stroke="#333" stroke-width="0.8"/>
<rect x="156" y="440.78" width="2.4" height="2.4" fill="#fff" stroke="#333" stroke-width="0.6"/>
<rect x="154" y="441.72" width="2.4" height="2.4" fill="#fff" stroke="#333" stroke-width="0.6"/>
<rect x="154" y="442.85" width="2.4" height="2.4" fill="#fff" stroke="#333" stroke-width="0.6"/>
<rect x="151.5" y="444.66" width="2.4" height="2.4" fill="#fff" stroke="#333" stroke-width="0.6"/>
<rect x="156" y="446.76" width="2.4" height="2.4" fill="#fff" stroke="#333" stroke-width="0.6"/>
<circle cx="153.7" cy="445.5" r="1.3" fill="#666" stroke="#333" stroke-width="0.5"/>
<rect x="161.7" y="436" width="8.8" height="17" fill="#a6a6a6" stroke="#333" stroke-width="0.8"/>
<line x1="161.7" y1="446" x2="170.5" y2="446" stroke="#333" stroke-width="0.8"/>
<rect x="161.4" y="449.71" width="2.4" height="2.4" fill="#fff" stroke="#333" stroke-width="0.6"/>
<rect x="161.4" y="446.23" width="2.4" height="2.4" fill="#fff" stroke="#333" stroke-width="0.6"/>
<rect x="168.4" y="443.7" width="2.4" height="2.4" fill="#fff" stroke="#333" stroke-width="0.6"/>
<rect x="166.4" y="450.57" width="2.4" height="2.4" fill="#fff" stroke="#333" stroke-width="0.6"/>
<rect x="161.4" y="437.63" width="2.4" height="2.4" fill="#fff" stroke="#333" stroke-width="0.6"/>
<circle cx="166.1" cy="446" r="1.3" fill="#666" stroke="#333" stroke-width="0.5"/>
<line x1="273.5" y1="423.9" x2="273.5" y2="490.1" stroke="#333" stroke-width="1.1"/>
<line x1="273" y1="489.6" x2="315.5" y2="489.6" stroke="#333" stroke-width="1.1"/>
<line x1="270.5" y1="424.4" x2="273.5" y2="424.4" stroke="#333" stroke-width="1"/>
<text x="267.5" y="427.3" font-size="8.28" text-anchor="end" fill="#1a1a1a" stroke="#1a1a1a" stroke-width="0.1">1.0</text>
<line x1="270.5" y1="457" x2="273.5" y2="457" stroke="#333" stroke-width="1"/>
<text x="267.5" y="459.9" font-size="8.28" text-anchor="end" fill="#1a1a1a" stroke="#1a1a1a" stroke-width="0.1">0.5</text>
<line x1="270.5" y1="489.6" x2="273.5" y2="489.6" stroke="#333" stroke-width="1"/>
<text x="267.5" y="492.5" font-size="8.28" text-anchor="end" fill="#1a1a1a" stroke="#1a1a1a" stroke-width="0.1">0</text>
<line x1="280.9" y1="489.6" x2="280.9" y2="492.6" stroke="#333" stroke-width="1"/>
<text x="285.5" y="497.9" font-size="7.87" text-anchor="end" fill="#1a1a1a" transform="rotate(-45 285.5 497.9)" stroke="#1a1a1a" stroke-width="0.1">Precision</text>
<line x1="293.2" y1="489.6" x2="293.2" y2="492.6" stroke="#333" stroke-width="1"/>
<text x="297.8" y="497.9" font-size="7.87" text-anchor="end" fill="#1a1a1a" transform="rotate(-45 297.8 497.9)" stroke="#1a1a1a" stroke-width="0.1">Recall</text>
<line x1="305.6" y1="489.6" x2="305.6" y2="492.6" stroke="#333" stroke-width="1"/>
<text x="310.2" y="497.9" font-size="7.87" text-anchor="end" fill="#1a1a1a" transform="rotate(-45 310.2 497.9)" stroke="#1a1a1a" stroke-width="0.1">F1 score</text>
<rect x="276.5" y="442.5" width="8.8" height="10" fill="#a6a6a6" stroke="#333" stroke-width="0.8"/>
<line x1="276.5" y1="447.5" x2="285.3" y2="447.5" stroke="#333" stroke-width="0.8"/>
<rect x="276.2" y="449.49" width="2.4" height="2.4" fill="#fff" stroke="#333" stroke-width="0.6"/>
<rect x="281.2" y="447.56" width="2.4" height="2.4" fill="#fff" stroke="#333" stroke-width="0.6"/>
<rect x="283.2" y="448.88" width="2.4" height="2.4" fill="#fff" stroke="#333" stroke-width="0.6"/>
<rect x="278.7" y="442.71" width="2.4" height="2.4" fill="#fff" stroke="#333" stroke-width="0.6"/>
<rect x="276.2" y="442.05" width="2.4" height="2.4" fill="#fff" stroke="#333" stroke-width="0.6"/>
<circle cx="280.9" cy="447.5" r="1.3" fill="#666" stroke="#333" stroke-width="0.5"/>
<rect x="288.8" y="444" width="8.8" height="8" fill="#a6a6a6" stroke="#333" stroke-width="0.8"/>
<line x1="288.8" y1="447.8" x2="297.6" y2="447.8" stroke="#333" stroke-width="0.8"/>
<rect x="288.5" y="449.26" width="2.4" height="2.4" fill="#fff" stroke="#333" stroke-width="0.6"/>
<rect x="288.5" y="445.37" width="2.4" height="2.4" fill="#fff" stroke="#333" stroke-width="0.6"/>
<rect x="288.5" y="448.7" width="2.4" height="2.4" fill="#fff" stroke="#333" stroke-width="0.6"/>
<rect x="295.5" y="446.9" width="2.4" height="2.4" fill="#fff" stroke="#333" stroke-width="0.6"/>
<rect x="295.5" y="449.6" width="2.4" height="2.4" fill="#fff" stroke="#333" stroke-width="0.6"/>
<circle cx="293.2" cy="447.8" r="1.3" fill="#666" stroke="#333" stroke-width="0.5"/>
<rect x="301.2" y="444.5" width="8.8" height="8" fill="#a6a6a6" stroke="#333" stroke-width="0.8"/>
<line x1="301.2" y1="448" x2="310" y2="448" stroke="#333" stroke-width="0.8"/>
<rect x="300.9" y="446.02" width="2.4" height="2.4" fill="#fff" stroke="#333" stroke-width="0.6"/>
<rect x="307.9" y="446.72" width="2.4" height="2.4" fill="#fff" stroke="#333" stroke-width="0.6"/>
<rect x="300.9" y="445.59" width="2.4" height="2.4" fill="#fff" stroke="#333" stroke-width="0.6"/>
<rect x="303.4" y="447.29" width="2.4" height="2.4" fill="#fff" stroke="#333" stroke-width="0.6"/>
<rect x="305.9" y="450.49" width="2.4" height="2.4" fill="#fff" stroke="#333" stroke-width="0.6"/>
<circle cx="305.6" cy="448" r="1.3" fill="#666" stroke="#333" stroke-width="0.5"/>
<line x1="134" y1="526.5" x2="134" y2="593" stroke="#333" stroke-width="1.1"/>
<line x1="133.5" y1="592.5" x2="174.7" y2="592.5" stroke="#333" stroke-width="1.1"/>
<line x1="131" y1="527" x2="134" y2="527" stroke="#333" stroke-width="1"/>
<text x="128" y="529.9" font-size="8.28" text-anchor="end" fill="#1a1a1a" stroke="#1a1a1a" stroke-width="0.1">1.0</text>
<line x1="131" y1="559.75" x2="134" y2="559.75" stroke="#333" stroke-width="1"/>
<text x="128" y="562.65" font-size="8.28" text-anchor="end" fill="#1a1a1a" stroke="#1a1a1a" stroke-width="0.1">0.5</text>
<line x1="131" y1="592.5" x2="134" y2="592.5" stroke="#333" stroke-width="1"/>
<text x="128" y="595.4" font-size="8.28" text-anchor="end" fill="#1a1a1a" stroke="#1a1a1a" stroke-width="0.1">0</text>
<line x1="141.4" y1="592.5" x2="141.4" y2="595.5" stroke="#333" stroke-width="1"/>
<text x="146" y="600.8" font-size="7.87" text-anchor="end" fill="#1a1a1a" transform="rotate(-45 146 600.8)" stroke="#1a1a1a" stroke-width="0.1">Precision</text>
<line x1="153.7" y1="592.5" x2="153.7" y2="595.5" stroke="#333" stroke-width="1"/>
<text x="158.3" y="600.8" font-size="7.87" text-anchor="end" fill="#1a1a1a" transform="rotate(-45 158.3 600.8)" stroke="#1a1a1a" stroke-width="0.1">Recall</text>
<line x1="166.1" y1="592.5" x2="166.1" y2="595.5" stroke="#333" stroke-width="1"/>
<text x="170.7" y="600.8" font-size="7.87" text-anchor="end" fill="#1a1a1a" transform="rotate(-45 170.7 600.8)" stroke="#1a1a1a" stroke-width="0.1">F1 score</text>
<rect x="137" y="534" width="8.8" height="3" fill="#888" stroke="#333" stroke-width="0.8"/>
<rect x="137.4" y="533.5" width="2.4" height="2.4" fill="#fff" stroke="#333" stroke-width="0.6"/>
<rect x="140.4" y="534.5" width="2.4" height="2.4" fill="#fff" stroke="#333" stroke-width="0.6"/>
<rect x="143.4" y="533.5" width="2.4" height="2.4" fill="#fff" stroke="#333" stroke-width="0.6"/>
<rect x="149.3" y="535" width="8.8" height="3.5" fill="#a6a6a6" stroke="#333" stroke-width="0.8"/>
<line x1="149.3" y1="536.5" x2="158.1" y2="536.5" stroke="#333" stroke-width="0.8"/>
<rect x="156" y="535.01" width="2.4" height="2.4" fill="#fff" stroke="#333" stroke-width="0.6"/>
<rect x="154" y="535.2" width="2.4" height="2.4" fill="#fff" stroke="#333" stroke-width="0.6"/>
<rect x="154" y="535.42" width="2.4" height="2.4" fill="#fff" stroke="#333" stroke-width="0.6"/>
<rect x="151.5" y="535.78" width="2.4" height="2.4" fill="#fff" stroke="#333" stroke-width="0.6"/>
<rect x="156" y="536.2" width="2.4" height="2.4" fill="#fff" stroke="#333" stroke-width="0.6"/>
<circle cx="153.7" cy="536.5" r="1.3" fill="#666" stroke="#333" stroke-width="0.5"/>
<rect x="161.7" y="535" width="8.8" height="3.5" fill="#a6a6a6" stroke="#333" stroke-width="0.8"/>
<line x1="161.7" y1="536.5" x2="170.5" y2="536.5" stroke="#333" stroke-width="0.8"/>
<rect x="161.4" y="536.87" width="2.4" height="2.4" fill="#fff" stroke="#333" stroke-width="0.6"/>
<rect x="161.4" y="536.15" width="2.4" height="2.4" fill="#fff" stroke="#333" stroke-width="0.6"/>
<rect x="168.4" y="535.63" width="2.4" height="2.4" fill="#fff" stroke="#333" stroke-width="0.6"/>
<rect x="166.4" y="537.05" width="2.4" height="2.4" fill="#fff" stroke="#333" stroke-width="0.6"/>
<rect x="161.4" y="534.38" width="2.4" height="2.4" fill="#fff" stroke="#333" stroke-width="0.6"/>
<circle cx="166.1" cy="536.5" r="1.3" fill="#666" stroke="#333" stroke-width="0.5"/>
<line x1="273.5" y1="526.5" x2="273.5" y2="593" stroke="#333" stroke-width="1.1"/>
<line x1="273" y1="592.5" x2="315.5" y2="592.5" stroke="#333" stroke-width="1.1"/>
<line x1="270.5" y1="527" x2="273.5" y2="527" stroke="#333" stroke-width="1"/>
<text x="267.5" y="529.9" font-size="8.28" text-anchor="end" fill="#1a1a1a" stroke="#1a1a1a" stroke-width="0.1">1.0</text>
<line x1="270.5" y1="559.75" x2="273.5" y2="559.75" stroke="#333" stroke-width="1"/>
<text x="267.5" y="562.65" font-size="8.28" text-anchor="end" fill="#1a1a1a" stroke="#1a1a1a" stroke-width="0.1">0.5</text>
<line x1="270.5" y1="592.5" x2="273.5" y2="592.5" stroke="#333" stroke-width="1"/>
<text x="267.5" y="595.4" font-size="8.28" text-anchor="end" fill="#1a1a1a" stroke="#1a1a1a" stroke-width="0.1">0</text>
<line x1="280.9" y1="592.5" x2="280.9" y2="595.5" stroke="#333" stroke-width="1"/>
<text x="285.5" y="600.8" font-size="7.87" text-anchor="end" fill="#1a1a1a" transform="rotate(-45 285.5 600.8)" stroke="#1a1a1a" stroke-width="0.1">Precision</text>
<line x1="293.2" y1="592.5" x2="293.2" y2="595.5" stroke="#333" stroke-width="1"/>
<text x="297.8" y="600.8" font-size="7.87" text-anchor="end" fill="#1a1a1a" transform="rotate(-45 297.8 600.8)" stroke="#1a1a1a" stroke-width="0.1">Recall</text>
<line x1="305.6" y1="592.5" x2="305.6" y2="595.5" stroke="#333" stroke-width="1"/>
<text x="310.2" y="600.8" font-size="7.87" text-anchor="end" fill="#1a1a1a" transform="rotate(-45 310.2 600.8)" stroke="#1a1a1a" stroke-width="0.1">F1 score</text>
<rect x="276.5" y="535.5" width="8.8" height="8" fill="#a6a6a6" stroke="#333" stroke-width="0.8"/>
<line x1="276.5" y1="539.5" x2="285.3" y2="539.5" stroke="#333" stroke-width="0.8"/>
<rect x="276.2" y="540.85" width="2.4" height="2.4" fill="#fff" stroke="#333" stroke-width="0.6"/>
<rect x="281.2" y="539.31" width="2.4" height="2.4" fill="#fff" stroke="#333" stroke-width="0.6"/>
<rect x="283.2" y="540.37" width="2.4" height="2.4" fill="#fff" stroke="#333" stroke-width="0.6"/>
<rect x="278.7" y="535.43" width="2.4" height="2.4" fill="#fff" stroke="#333" stroke-width="0.6"/>
<rect x="276.2" y="534.9" width="2.4" height="2.4" fill="#fff" stroke="#333" stroke-width="0.6"/>
<circle cx="280.9" cy="539.5" r="1.3" fill="#666" stroke="#333" stroke-width="0.5"/>
<rect x="288.8" y="536.5" width="8.8" height="6.5" fill="#a6a6a6" stroke="#333" stroke-width="0.8"/>
<line x1="288.8" y1="540" x2="297.6" y2="540" stroke="#333" stroke-width="0.8"/>
<rect x="288.5" y="540.55" width="2.4" height="2.4" fill="#fff" stroke="#333" stroke-width="0.6"/>
<rect x="288.5" y="537.39" width="2.4" height="2.4" fill="#fff" stroke="#333" stroke-width="0.6"/>
<rect x="288.5" y="540.09" width="2.4" height="2.4" fill="#fff" stroke="#333" stroke-width="0.6"/>
<rect x="295.5" y="538.63" width="2.4" height="2.4" fill="#fff" stroke="#333" stroke-width="0.6"/>
<rect x="295.5" y="540.82" width="2.4" height="2.4" fill="#fff" stroke="#333" stroke-width="0.6"/>
<circle cx="293.2" cy="540" r="1.3" fill="#666" stroke="#333" stroke-width="0.5"/>
<rect x="301.2" y="537" width="8.8" height="7.5" fill="#a6a6a6" stroke="#333" stroke-width="0.8"/>
<line x1="301.2" y1="540.5" x2="310" y2="540.5" stroke="#333" stroke-width="0.8"/>
<rect x="300.9" y="538.35" width="2.4" height="2.4" fill="#fff" stroke="#333" stroke-width="0.6"/>
<rect x="307.9" y="539.01" width="2.4" height="2.4" fill="#fff" stroke="#333" stroke-width="0.6"/>
<rect x="300.9" y="537.95" width="2.4" height="2.4" fill="#fff" stroke="#333" stroke-width="0.6"/>
<rect x="303.4" y="539.54" width="2.4" height="2.4" fill="#fff" stroke="#333" stroke-width="0.6"/>
<rect x="305.9" y="542.54" width="2.4" height="2.4" fill="#fff" stroke="#333" stroke-width="0.6"/>
<circle cx="305.6" cy="540.5" r="1.3" fill="#666" stroke="#333" stroke-width="0.5"/>
<defs>
<linearGradient id="arrg" x1="0" x2="1" y1="0" y2="0">
<stop offset="0" stop-color="#4a5aa8"/><stop offset="0.22" stop-color="#8e99cc"/><stop offset="0.45" stop-color="#f4f4f8"/>
<stop offset="0.55" stop-color="#fbeef0"/><stop offset="0.78" stop-color="#f7a0ae"/><stop offset="1" stop-color="#f0506a"/>
</linearGradient></defs>
<line x1="352.5" y1="420.4" x2="352.5" y2="502.8" stroke="#333" stroke-width="1.2"/>
<line x1="348.5" y1="420.9" x2="352.5" y2="420.9" stroke="#333" stroke-width="1.1"/>
<text x="346.5" y="424.2" font-size="9.83" text-anchor="end" fill="#1a1a1a" stroke="#1a1a1a" stroke-width="0.1">1</text>
<line x1="348.5" y1="448" x2="352.5" y2="448" stroke="#333" stroke-width="1.1"/>
<text x="346.5" y="451.3" font-size="9.83" text-anchor="end" fill="#1a1a1a" stroke="#1a1a1a" stroke-width="0.1">0</text>
<line x1="348.5" y1="475.1" x2="352.5" y2="475.1" stroke="#333" stroke-width="1.1"/>
<text x="346.5" y="478.4" font-size="9.83" text-anchor="end" fill="#1a1a1a" stroke="#1a1a1a" stroke-width="0.1">-1</text>
<line x1="348.5" y1="502.2" x2="352.5" y2="502.2" stroke="#333" stroke-width="1.1"/>
<text x="346.5" y="505.5" font-size="9.83" text-anchor="end" fill="#1a1a1a" stroke="#1a1a1a" stroke-width="0.1">-2</text>
<line x1="353.5" y1="420.9" x2="682" y2="420.9" stroke="#c8c8c8" stroke-width="0.8" stroke-dasharray="1.5,1.5"/>
<line x1="353.5" y1="448" x2="682" y2="448" stroke="#c8c8c8" stroke-width="0.8" stroke-dasharray="1.5,1.5"/>
<line x1="353.5" y1="475.1" x2="682" y2="475.1" stroke="#c8c8c8" stroke-width="0.8" stroke-dasharray="1.5,1.5"/>
<text x="331.5" y="462.5" font-size="9.42" text-anchor="middle" fill="#1a1a1a" transform="rotate(-90 331.5 462.5)" stroke="#1a1a1a" stroke-width="0.1">log<tspan font-size="6.5" dy="2">2</tspan><tspan dy="-2">(frequency FC)</tspan></text>
<line x1="368.6" y1="435.81" x2="368.6" y2="460.19" stroke="#b8b8b8" stroke-width="0.9"/>
<line x1="367" y1="435.81" x2="370.2" y2="435.81" stroke="#b8b8b8" stroke-width="0.9"/>
<line x1="367" y1="460.19" x2="370.2" y2="460.19" stroke="#b8b8b8" stroke-width="0.9"/>
<rect x="367.1" y="446.5" width="3" height="3" fill="#a4a4a4" stroke="none" stroke-width="0"/>
<line x1="374.89" y1="439.87" x2="374.89" y2="456.13" stroke="#b8b8b8" stroke-width="0.9"/>
<line x1="373.29" y1="439.87" x2="376.49" y2="439.87" stroke="#b8b8b8" stroke-width="0.9"/>
<line x1="373.29" y1="456.13" x2="376.49" y2="456.13" stroke="#b8b8b8" stroke-width="0.9"/>
<rect x="373.39" y="446.5" width="3" height="3" fill="#a4a4a4" stroke="none" stroke-width="0"/>
<line x1="381.18" y1="438.51" x2="381.18" y2="457.49" stroke="#b8b8b8" stroke-width="0.9"/>
<line x1="379.58" y1="438.51" x2="382.78" y2="438.51" stroke="#b8b8b8" stroke-width="0.9"/>
<line x1="379.58" y1="457.49" x2="382.78" y2="457.49" stroke="#b8b8b8" stroke-width="0.9"/>
<rect x="379.68" y="446.5" width="3" height="3" fill="#a4a4a4" stroke="none" stroke-width="0"/>
<line x1="387.47" y1="443.94" x2="387.47" y2="452.06" stroke="#b8b8b8" stroke-width="0.9"/>
<line x1="385.87" y1="443.94" x2="389.07" y2="443.94" stroke="#b8b8b8" stroke-width="0.9"/>
<line x1="385.87" y1="452.06" x2="389.07" y2="452.06" stroke="#b8b8b8" stroke-width="0.9"/>
<rect x="385.97" y="446.5" width="3" height="3" fill="#a4a4a4" stroke="none" stroke-width="0"/>
<line x1="393.76" y1="438.51" x2="393.76" y2="457.49" stroke="#b8b8b8" stroke-width="0.9"/>
<line x1="392.16" y1="438.51" x2="395.36" y2="438.51" stroke="#b8b8b8" stroke-width="0.9"/>
<line x1="392.16" y1="457.49" x2="395.36" y2="457.49" stroke="#b8b8b8" stroke-width="0.9"/>
<rect x="392.26" y="446.5" width="3" height="3" fill="#a4a4a4" stroke="none" stroke-width="0"/>
<line x1="400.05" y1="438.51" x2="400.05" y2="457.49" stroke="#b8b8b8" stroke-width="0.9"/>
<line x1="398.45" y1="438.51" x2="401.65" y2="438.51" stroke="#b8b8b8" stroke-width="0.9"/>
<line x1="398.45" y1="457.49" x2="401.65" y2="457.49" stroke="#b8b8b8" stroke-width="0.9"/>
<rect x="398.55" y="446.5" width="3" height="3" fill="#a4a4a4" stroke="none" stroke-width="0"/>
<line x1="406.34" y1="442.58" x2="406.34" y2="453.42" stroke="#b8b8b8" stroke-width="0.9"/>
<line x1="404.74" y1="442.58" x2="407.94" y2="442.58" stroke="#b8b8b8" stroke-width="0.9"/>
<line x1="404.74" y1="453.42" x2="407.94" y2="453.42" stroke="#b8b8b8" stroke-width="0.9"/>
<rect x="404.84" y="446.5" width="3" height="3" fill="#a4a4a4" stroke="none" stroke-width="0"/>
<line x1="412.63" y1="443.94" x2="412.63" y2="452.06" stroke="#b8b8b8" stroke-width="0.9"/>
<line x1="411.03" y1="443.94" x2="414.23" y2="443.94" stroke="#b8b8b8" stroke-width="0.9"/>
<line x1="411.03" y1="452.06" x2="414.23" y2="452.06" stroke="#b8b8b8" stroke-width="0.9"/>
<rect x="411.13" y="446.5" width="3" height="3" fill="#a4a4a4" stroke="none" stroke-width="0"/>
<line x1="418.92" y1="439.87" x2="418.92" y2="456.13" stroke="#b8b8b8" stroke-width="0.9"/>
<line x1="417.32" y1="439.87" x2="420.52" y2="439.87" stroke="#b8b8b8" stroke-width="0.9"/>
<line x1="417.32" y1="456.13" x2="420.52" y2="456.13" stroke="#b8b8b8" stroke-width="0.9"/>
<rect x="417.42" y="446.5" width="3" height="3" fill="#a4a4a4" stroke="none" stroke-width="0"/>
<line x1="425.21" y1="442.58" x2="425.21" y2="453.42" stroke="#b8b8b8" stroke-width="0.9"/>
<line x1="423.61" y1="442.58" x2="426.81" y2="442.58" stroke="#b8b8b8" stroke-width="0.9"/>
<line x1="423.61" y1="453.42" x2="426.81" y2="453.42" stroke="#b8b8b8" stroke-width="0.9"/>
<rect x="423.71" y="446.5" width="3" height="3" fill="#a4a4a4" stroke="none" stroke-width="0"/>
<line x1="431.5" y1="442.58" x2="431.5" y2="453.42" stroke="#b8b8b8" stroke-width="0.9"/>
<line x1="429.9" y1="442.58" x2="433.1" y2="442.58" stroke="#b8b8b8" stroke-width="0.9"/>
<line x1="429.9" y1="453.42" x2="433.1" y2="453.42" stroke="#b8b8b8" stroke-width="0.9"/>
<rect x="430" y="446.5" width="3" height="3" fill="#a4a4a4" stroke="none" stroke-width="0"/>
<line x1="437.79" y1="442.58" x2="437.79" y2="453.42" stroke="#b8b8b8" stroke-width="0.9"/>
<line x1="436.19" y1="442.58" x2="439.39" y2="442.58" stroke="#b8b8b8" stroke-width="0.9"/>
<line x1="436.19" y1="453.42" x2="439.39" y2="453.42" stroke="#b8b8b8" stroke-width="0.9"/>
<rect x="436.29" y="446.5" width="3" height="3" fill="#a4a4a4" stroke="none" stroke-width="0"/>
<line x1="444.08" y1="442.58" x2="444.08" y2="453.42" stroke="#b8b8b8" stroke-width="0.9"/>
<line x1="442.48" y1="442.58" x2="445.68" y2="442.58" stroke="#b8b8b8" stroke-width="0.9"/>
<line x1="442.48" y1="453.42" x2="445.68" y2="453.42" stroke="#b8b8b8" stroke-width="0.9"/>
<rect x="442.58" y="446.5" width="3" height="3" fill="#a4a4a4" stroke="none" stroke-width="0"/>
<line x1="450.37" y1="442.58" x2="450.37" y2="453.42" stroke="#b8b8b8" stroke-width="0.9"/>
<line x1="448.77" y1="442.58" x2="451.97" y2="442.58" stroke="#b8b8b8" stroke-width="0.9"/>
<line x1="448.77" y1="453.42" x2="451.97" y2="453.42" stroke="#b8b8b8" stroke-width="0.9"/>
<rect x="448.87" y="446.5" width="3" height="3" fill="#a4a4a4" stroke="none" stroke-width="0"/>
<line x1="456.66" y1="441.23" x2="456.66" y2="454.77" stroke="#b8b8b8" stroke-width="0.9"/>
<line x1="455.06" y1="441.23" x2="458.26" y2="441.23" stroke="#b8b8b8" stroke-width="0.9"/>
<line x1="455.06" y1="454.77" x2="458.26" y2="454.77" stroke="#b8b8b8" stroke-width="0.9"/>
<rect x="455.16" y="446.5" width="3" height="3" fill="#a4a4a4" stroke="none" stroke-width="0"/>
<line x1="462.95" y1="443.94" x2="462.95" y2="452.06" stroke="#b8b8b8" stroke-width="0.9"/>
<line x1="461.35" y1="443.94" x2="464.55" y2="443.94" stroke="#b8b8b8" stroke-width="0.9"/>
<line x1="461.35" y1="452.06" x2="464.55" y2="452.06" stroke="#b8b8b8" stroke-width="0.9"/>
<rect x="461.45" y="446.5" width="3" height="3" fill="#a4a4a4" stroke="none" stroke-width="0"/>
<line x1="469.24" y1="442.58" x2="469.24" y2="453.42" stroke="#b8b8b8" stroke-width="0.9"/>
<line x1="467.64" y1="442.58" x2="470.84" y2="442.58" stroke="#b8b8b8" stroke-width="0.9"/>
<line x1="467.64" y1="453.42" x2="470.84" y2="453.42" stroke="#b8b8b8" stroke-width="0.9"/>
<rect x="467.74" y="446.5" width="3" height="3" fill="#a4a4a4" stroke="none" stroke-width="0"/>
<line x1="475.53" y1="443.94" x2="475.53" y2="452.06" stroke="#b8b8b8" stroke-width="0.9"/>
<line x1="473.93" y1="443.94" x2="477.13" y2="443.94" stroke="#b8b8b8" stroke-width="0.9"/>
<line x1="473.93" y1="452.06" x2="477.13" y2="452.06" stroke="#b8b8b8" stroke-width="0.9"/>
<rect x="474.03" y="446.5" width="3" height="3" fill="#a4a4a4" stroke="none" stroke-width="0"/>
<line x1="481.82" y1="442.58" x2="481.82" y2="453.42" stroke="#b8b8b8" stroke-width="0.9"/>
<line x1="480.22" y1="442.58" x2="483.42" y2="442.58" stroke="#b8b8b8" stroke-width="0.9"/>
<line x1="480.22" y1="453.42" x2="483.42" y2="453.42" stroke="#b8b8b8" stroke-width="0.9"/>
<rect x="480.32" y="446.5" width="3" height="3" fill="#a4a4a4" stroke="none" stroke-width="0"/>
<line x1="488.11" y1="443.94" x2="488.11" y2="452.06" stroke="#b8b8b8" stroke-width="0.9"/>
<line x1="486.51" y1="443.94" x2="489.71" y2="443.94" stroke="#b8b8b8" stroke-width="0.9"/>
<line x1="486.51" y1="452.06" x2="489.71" y2="452.06" stroke="#b8b8b8" stroke-width="0.9"/>
<rect x="486.61" y="446.5" width="3" height="3" fill="#a4a4a4" stroke="none" stroke-width="0"/>
<line x1="494.4" y1="442.58" x2="494.4" y2="453.42" stroke="#b8b8b8" stroke-width="0.9"/>
<line x1="492.8" y1="442.58" x2="496" y2="442.58" stroke="#b8b8b8" stroke-width="0.9"/>
<line x1="492.8" y1="453.42" x2="496" y2="453.42" stroke="#b8b8b8" stroke-width="0.9"/>
<rect x="492.9" y="446.5" width="3" height="3" fill="#a4a4a4" stroke="none" stroke-width="0"/>
<line x1="500.69" y1="442.58" x2="500.69" y2="453.42" stroke="#b8b8b8" stroke-width="0.9"/>
<line x1="499.09" y1="442.58" x2="502.29" y2="442.58" stroke="#b8b8b8" stroke-width="0.9"/>
<line x1="499.09" y1="453.42" x2="502.29" y2="453.42" stroke="#b8b8b8" stroke-width="0.9"/>
<rect x="499.19" y="446.5" width="3" height="3" fill="#a4a4a4" stroke="none" stroke-width="0"/>
<line x1="506.98" y1="443.94" x2="506.98" y2="452.06" stroke="#b8b8b8" stroke-width="0.9"/>
<line x1="505.38" y1="443.94" x2="508.58" y2="443.94" stroke="#b8b8b8" stroke-width="0.9"/>
<line x1="505.38" y1="452.06" x2="508.58" y2="452.06" stroke="#b8b8b8" stroke-width="0.9"/>
<rect x="505.48" y="446.5" width="3" height="3" fill="#a4a4a4" stroke="none" stroke-width="0"/>
<line x1="513.27" y1="442.58" x2="513.27" y2="453.42" stroke="#b8b8b8" stroke-width="0.9"/>
<line x1="511.67" y1="442.58" x2="514.87" y2="442.58" stroke="#b8b8b8" stroke-width="0.9"/>
<line x1="511.67" y1="453.42" x2="514.87" y2="453.42" stroke="#b8b8b8" stroke-width="0.9"/>
<rect x="511.77" y="446.5" width="3" height="3" fill="#a4a4a4" stroke="none" stroke-width="0"/>
<line x1="519.56" y1="442.58" x2="519.56" y2="453.42" stroke="#b8b8b8" stroke-width="0.9"/>
<line x1="517.96" y1="442.58" x2="521.16" y2="442.58" stroke="#b8b8b8" stroke-width="0.9"/>
<line x1="517.96" y1="453.42" x2="521.16" y2="453.42" stroke="#b8b8b8" stroke-width="0.9"/>
<rect x="518.06" y="446.5" width="3" height="3" fill="#a4a4a4" stroke="none" stroke-width="0"/>
<line x1="525.85" y1="442.58" x2="525.85" y2="453.42" stroke="#b8b8b8" stroke-width="0.9"/>
<line x1="524.25" y1="442.58" x2="527.45" y2="442.58" stroke="#b8b8b8" stroke-width="0.9"/>
<line x1="524.25" y1="453.42" x2="527.45" y2="453.42" stroke="#b8b8b8" stroke-width="0.9"/>
<rect x="524.35" y="446.5" width="3" height="3" fill="#a4a4a4" stroke="none" stroke-width="0"/>
<line x1="532.14" y1="443.94" x2="532.14" y2="452.06" stroke="#b8b8b8" stroke-width="0.9"/>
<line x1="530.54" y1="443.94" x2="533.74" y2="443.94" stroke="#b8b8b8" stroke-width="0.9"/>
<line x1="530.54" y1="452.06" x2="533.74" y2="452.06" stroke="#b8b8b8" stroke-width="0.9"/>
<rect x="530.64" y="446.5" width="3" height="3" fill="#a4a4a4" stroke="none" stroke-width="0"/>
<line x1="538.43" y1="443.94" x2="538.43" y2="452.06" stroke="#b8b8b8" stroke-width="0.9"/>
<line x1="536.83" y1="443.94" x2="540.03" y2="443.94" stroke="#b8b8b8" stroke-width="0.9"/>
<line x1="536.83" y1="452.06" x2="540.03" y2="452.06" stroke="#b8b8b8" stroke-width="0.9"/>
<rect x="536.93" y="446.5" width="3" height="3" fill="#a4a4a4" stroke="none" stroke-width="0"/>
<line x1="544.72" y1="443.94" x2="544.72" y2="452.06" stroke="#b8b8b8" stroke-width="0.9"/>
<line x1="543.12" y1="443.94" x2="546.32" y2="443.94" stroke="#b8b8b8" stroke-width="0.9"/>
<line x1="543.12" y1="452.06" x2="546.32" y2="452.06" stroke="#b8b8b8" stroke-width="0.9"/>
<rect x="543.22" y="446.5" width="3" height="3" fill="#a4a4a4" stroke="none" stroke-width="0"/>
<line x1="551.01" y1="443.94" x2="551.01" y2="452.06" stroke="#b8b8b8" stroke-width="0.9"/>
<line x1="549.41" y1="443.94" x2="552.61" y2="443.94" stroke="#b8b8b8" stroke-width="0.9"/>
<line x1="549.41" y1="452.06" x2="552.61" y2="452.06" stroke="#b8b8b8" stroke-width="0.9"/>
<rect x="549.51" y="446.5" width="3" height="3" fill="#a4a4a4" stroke="none" stroke-width="0"/>
<line x1="557.3" y1="443.94" x2="557.3" y2="452.06" stroke="#b8b8b8" stroke-width="0.9"/>
<line x1="555.7" y1="443.94" x2="558.9" y2="443.94" stroke="#b8b8b8" stroke-width="0.9"/>
<line x1="555.7" y1="452.06" x2="558.9" y2="452.06" stroke="#b8b8b8" stroke-width="0.9"/>
<rect x="555.8" y="446.5" width="3" height="3" fill="#a4a4a4" stroke="none" stroke-width="0"/>
<line x1="563.59" y1="442.58" x2="563.59" y2="453.42" stroke="#b8b8b8" stroke-width="0.9"/>
<line x1="561.99" y1="442.58" x2="565.19" y2="442.58" stroke="#b8b8b8" stroke-width="0.9"/>
<line x1="561.99" y1="453.42" x2="565.19" y2="453.42" stroke="#b8b8b8" stroke-width="0.9"/>
<rect x="562.09" y="446.5" width="3" height="3" fill="#a4a4a4" stroke="none" stroke-width="0"/>
<line x1="569.88" y1="443.94" x2="569.88" y2="452.06" stroke="#b8b8b8" stroke-width="0.9"/>
<line x1="568.28" y1="443.94" x2="571.48" y2="443.94" stroke="#b8b8b8" stroke-width="0.9"/>
<line x1="568.28" y1="452.06" x2="571.48" y2="452.06" stroke="#b8b8b8" stroke-width="0.9"/>
<rect x="568.38" y="446.5" width="3" height="3" fill="#a4a4a4" stroke="none" stroke-width="0"/>
<line x1="576.17" y1="443.94" x2="576.17" y2="452.06" stroke="#b8b8b8" stroke-width="0.9"/>
<line x1="574.57" y1="443.94" x2="577.77" y2="443.94" stroke="#b8b8b8" stroke-width="0.9"/>
<line x1="574.57" y1="452.06" x2="577.77" y2="452.06" stroke="#b8b8b8" stroke-width="0.9"/>
<rect x="574.67" y="446.5" width="3" height="3" fill="#a4a4a4" stroke="none" stroke-width="0"/>
<line x1="582.46" y1="442.58" x2="582.46" y2="453.42" stroke="#b8b8b8" stroke-width="0.9"/>
<line x1="580.86" y1="442.58" x2="584.06" y2="442.58" stroke="#b8b8b8" stroke-width="0.9"/>
<line x1="580.86" y1="453.42" x2="584.06" y2="453.42" stroke="#b8b8b8" stroke-width="0.9"/>
<rect x="580.96" y="446.5" width="3" height="3" fill="#a4a4a4" stroke="none" stroke-width="0"/>
<line x1="588.75" y1="442.58" x2="588.75" y2="453.42" stroke="#b8b8b8" stroke-width="0.9"/>
<line x1="587.15" y1="442.58" x2="590.35" y2="442.58" stroke="#b8b8b8" stroke-width="0.9"/>
<line x1="587.15" y1="453.42" x2="590.35" y2="453.42" stroke="#b8b8b8" stroke-width="0.9"/>
<rect x="587.25" y="446.5" width="3" height="3" fill="#a4a4a4" stroke="none" stroke-width="0"/>
<line x1="595.04" y1="441.23" x2="595.04" y2="454.77" stroke="#b8b8b8" stroke-width="0.9"/>
<line x1="593.44" y1="441.23" x2="596.64" y2="441.23" stroke="#b8b8b8" stroke-width="0.9"/>
<line x1="593.44" y1="454.77" x2="596.64" y2="454.77" stroke="#b8b8b8" stroke-width="0.9"/>
<rect x="593.54" y="446.5" width="3" height="3" fill="#a4a4a4" stroke="none" stroke-width="0"/>
<line x1="601.33" y1="442.58" x2="601.33" y2="453.42" stroke="#b8b8b8" stroke-width="0.9"/>
<line x1="599.73" y1="442.58" x2="602.93" y2="442.58" stroke="#b8b8b8" stroke-width="0.9"/>
<line x1="599.73" y1="453.42" x2="602.93" y2="453.42" stroke="#b8b8b8" stroke-width="0.9"/>
<rect x="599.83" y="446.5" width="3" height="3" fill="#a4a4a4" stroke="none" stroke-width="0"/>
<line x1="607.62" y1="442.58" x2="607.62" y2="453.42" stroke="#b8b8b8" stroke-width="0.9"/>
<line x1="606.02" y1="442.58" x2="609.22" y2="442.58" stroke="#b8b8b8" stroke-width="0.9"/>
<line x1="606.02" y1="453.42" x2="609.22" y2="453.42" stroke="#b8b8b8" stroke-width="0.9"/>
<rect x="606.12" y="446.5" width="3" height="3" fill="#a4a4a4" stroke="none" stroke-width="0"/>
<line x1="613.91" y1="442.58" x2="613.91" y2="453.42" stroke="#b8b8b8" stroke-width="0.9"/>
<line x1="612.31" y1="442.58" x2="615.51" y2="442.58" stroke="#b8b8b8" stroke-width="0.9"/>
<line x1="612.31" y1="453.42" x2="615.51" y2="453.42" stroke="#b8b8b8" stroke-width="0.9"/>
<rect x="612.41" y="446.5" width="3" height="3" fill="#a4a4a4" stroke="none" stroke-width="0"/>
<line x1="620.2" y1="442.58" x2="620.2" y2="453.42" stroke="#b8b8b8" stroke-width="0.9"/>
<line x1="618.6" y1="442.58" x2="621.8" y2="442.58" stroke="#b8b8b8" stroke-width="0.9"/>
<line x1="618.6" y1="453.42" x2="621.8" y2="453.42" stroke="#b8b8b8" stroke-width="0.9"/>
<rect x="618.7" y="446.5" width="3" height="3" fill="#a4a4a4" stroke="none" stroke-width="0"/>
<line x1="626.49" y1="442.58" x2="626.49" y2="453.42" stroke="#b8b8b8" stroke-width="0.9"/>
<line x1="624.89" y1="442.58" x2="628.09" y2="442.58" stroke="#b8b8b8" stroke-width="0.9"/>
<line x1="624.89" y1="453.42" x2="628.09" y2="453.42" stroke="#b8b8b8" stroke-width="0.9"/>
<rect x="624.99" y="446.5" width="3" height="3" fill="#a4a4a4" stroke="none" stroke-width="0"/>
<line x1="632.78" y1="442.58" x2="632.78" y2="453.42" stroke="#b8b8b8" stroke-width="0.9"/>
<line x1="631.18" y1="442.58" x2="634.38" y2="442.58" stroke="#b8b8b8" stroke-width="0.9"/>
<line x1="631.18" y1="453.42" x2="634.38" y2="453.42" stroke="#b8b8b8" stroke-width="0.9"/>
<rect x="631.28" y="446.5" width="3" height="3" fill="#a4a4a4" stroke="none" stroke-width="0"/>
<line x1="639.07" y1="443.94" x2="639.07" y2="452.06" stroke="#b8b8b8" stroke-width="0.9"/>
<line x1="637.47" y1="443.94" x2="640.67" y2="443.94" stroke="#b8b8b8" stroke-width="0.9"/>
<line x1="637.47" y1="452.06" x2="640.67" y2="452.06" stroke="#b8b8b8" stroke-width="0.9"/>
<rect x="637.57" y="446.5" width="3" height="3" fill="#a4a4a4" stroke="none" stroke-width="0"/>
<line x1="645.36" y1="442.58" x2="645.36" y2="453.42" stroke="#b8b8b8" stroke-width="0.9"/>
<line x1="643.76" y1="442.58" x2="646.96" y2="442.58" stroke="#b8b8b8" stroke-width="0.9"/>
<line x1="643.76" y1="453.42" x2="646.96" y2="453.42" stroke="#b8b8b8" stroke-width="0.9"/>
<rect x="643.86" y="446.5" width="3" height="3" fill="#a4a4a4" stroke="none" stroke-width="0"/>
<line x1="651.65" y1="442.58" x2="651.65" y2="453.42" stroke="#b8b8b8" stroke-width="0.9"/>
<line x1="650.05" y1="442.58" x2="653.25" y2="442.58" stroke="#b8b8b8" stroke-width="0.9"/>
<line x1="650.05" y1="453.42" x2="653.25" y2="453.42" stroke="#b8b8b8" stroke-width="0.9"/>
<rect x="650.15" y="446.5" width="3" height="3" fill="#a4a4a4" stroke="none" stroke-width="0"/>
<line x1="657.94" y1="443.94" x2="657.94" y2="452.06" stroke="#b8b8b8" stroke-width="0.9"/>
<line x1="656.34" y1="443.94" x2="659.54" y2="443.94" stroke="#b8b8b8" stroke-width="0.9"/>
<line x1="656.34" y1="452.06" x2="659.54" y2="452.06" stroke="#b8b8b8" stroke-width="0.9"/>
<rect x="656.44" y="446.5" width="3" height="3" fill="#a4a4a4" stroke="none" stroke-width="0"/>
<line x1="664.23" y1="442.58" x2="664.23" y2="453.42" stroke="#b8b8b8" stroke-width="0.9"/>
<line x1="662.63" y1="442.58" x2="665.83" y2="442.58" stroke="#b8b8b8" stroke-width="0.9"/>
<line x1="662.63" y1="453.42" x2="665.83" y2="453.42" stroke="#b8b8b8" stroke-width="0.9"/>
<rect x="662.73" y="446.5" width="3" height="3" fill="#a4a4a4" stroke="none" stroke-width="0"/>
<line x1="670.52" y1="442.58" x2="670.52" y2="453.42" stroke="#b8b8b8" stroke-width="0.9"/>
<line x1="668.92" y1="442.58" x2="672.12" y2="442.58" stroke="#b8b8b8" stroke-width="0.9"/>
<line x1="668.92" y1="453.42" x2="672.12" y2="453.42" stroke="#b8b8b8" stroke-width="0.9"/>
<rect x="669.02" y="446.5" width="3" height="3" fill="#a4a4a4" stroke="none" stroke-width="0"/>
<line x1="676.81" y1="443.94" x2="676.81" y2="452.06" stroke="#b8b8b8" stroke-width="0.9"/>
<line x1="675.21" y1="443.94" x2="678.41" y2="443.94" stroke="#b8b8b8" stroke-width="0.9"/>
<line x1="675.21" y1="452.06" x2="678.41" y2="452.06" stroke="#b8b8b8" stroke-width="0.9"/>
<rect x="675.31" y="446.5" width="3" height="3" fill="#a4a4a4" stroke="none" stroke-width="0"/>
<line x1="368.6" y1="460.74" x2="368.6" y2="493.26" stroke="#3aa5a5" stroke-width="1"/>
<line x1="367" y1="460.74" x2="370.2" y2="460.74" stroke="#3aa5a5" stroke-width="1"/>
<line x1="367" y1="493.26" x2="370.2" y2="493.26" stroke="#3aa5a5" stroke-width="1"/>
<circle cx="368.6" cy="477" r="2.1" fill="#3aa5a5" stroke="none" stroke-width="0"/>
<line x1="374.89" y1="468.05" x2="374.89" y2="476.18" stroke="#3aa5a5" stroke-width="1"/>
<line x1="373.29" y1="468.05" x2="376.49" y2="468.05" stroke="#3aa5a5" stroke-width="1"/>
<line x1="373.29" y1="476.18" x2="376.49" y2="476.18" stroke="#3aa5a5" stroke-width="1"/>
<circle cx="374.89" cy="472.12" r="2.1" fill="#3aa5a5" stroke="none" stroke-width="0"/>
<line x1="381.18" y1="465.62" x2="381.18" y2="476.46" stroke="#3aa5a5" stroke-width="1"/>
<line x1="379.58" y1="465.62" x2="382.78" y2="465.62" stroke="#3aa5a5" stroke-width="1"/>
<line x1="379.58" y1="476.46" x2="382.78" y2="476.46" stroke="#3aa5a5" stroke-width="1"/>
<circle cx="381.18" cy="471.04" r="2.1" fill="#3aa5a5" stroke="none" stroke-width="0"/>
<line x1="387.47" y1="466.43" x2="387.47" y2="472.93" stroke="#3aa5a5" stroke-width="1"/>
<line x1="385.87" y1="466.43" x2="389.07" y2="466.43" stroke="#3aa5a5" stroke-width="1"/>
<line x1="385.87" y1="472.93" x2="389.07" y2="472.93" stroke="#3aa5a5" stroke-width="1"/>
<circle cx="387.47" cy="469.68" r="2.1" fill="#3aa5a5" stroke="none" stroke-width="0"/>
<line x1="393.76" y1="462.36" x2="393.76" y2="473.2" stroke="#3aa5a5" stroke-width="1"/>
<line x1="392.16" y1="462.36" x2="395.36" y2="462.36" stroke="#3aa5a5" stroke-width="1"/>
<line x1="392.16" y1="473.2" x2="395.36" y2="473.2" stroke="#3aa5a5" stroke-width="1"/>
<circle cx="393.76" cy="467.78" r="2.1" fill="#3aa5a5" stroke="none" stroke-width="0"/>
<line x1="400.05" y1="451.79" x2="400.05" y2="476.18" stroke="#3aa5a5" stroke-width="1"/>
<line x1="398.45" y1="451.79" x2="401.65" y2="451.79" stroke="#3aa5a5" stroke-width="1"/>
<line x1="398.45" y1="476.18" x2="401.65" y2="476.18" stroke="#3aa5a5" stroke-width="1"/>
<circle cx="400.05" cy="463.99" r="2.1" fill="#3aa5a5" stroke="none" stroke-width="0"/>
<line x1="406.34" y1="458.84" x2="406.34" y2="466.97" stroke="#3aa5a5" stroke-width="1"/>
<line x1="404.74" y1="458.84" x2="407.94" y2="458.84" stroke="#3aa5a5" stroke-width="1"/>
<line x1="404.74" y1="466.97" x2="407.94" y2="466.97" stroke="#3aa5a5" stroke-width="1"/>
<circle cx="406.34" cy="462.9" r="2.1" fill="#3aa5a5" stroke="none" stroke-width="0"/>
<line x1="412.63" y1="458.03" x2="412.63" y2="466.16" stroke="#3aa5a5" stroke-width="1"/>
<line x1="411.03" y1="458.03" x2="414.23" y2="458.03" stroke="#3aa5a5" stroke-width="1"/>
<line x1="411.03" y1="466.16" x2="414.23" y2="466.16" stroke="#3aa5a5" stroke-width="1"/>
<circle cx="412.63" cy="462.09" r="2.1" fill="#3aa5a5" stroke="none" stroke-width="0"/>
<line x1="418.92" y1="457.49" x2="418.92" y2="465.62" stroke="#3aa5a5" stroke-width="1"/>
<line x1="417.32" y1="457.49" x2="420.52" y2="457.49" stroke="#3aa5a5" stroke-width="1"/>
<line x1="417.32" y1="465.62" x2="420.52" y2="465.62" stroke="#3aa5a5" stroke-width="1"/>
<circle cx="418.92" cy="461.55" r="2.1" fill="#3aa5a5" stroke="none" stroke-width="0"/>
<line x1="425.21" y1="457.48" x2="425.21" y2="464.53" stroke="#3aa5a5" stroke-width="1"/>
<line x1="423.61" y1="457.48" x2="426.81" y2="457.48" stroke="#3aa5a5" stroke-width="1"/>
<line x1="423.61" y1="464.53" x2="426.81" y2="464.53" stroke="#3aa5a5" stroke-width="1"/>
<circle cx="425.21" cy="461.01" r="2.1" fill="#3aa5a5" stroke="none" stroke-width="0"/>
<line x1="431.5" y1="455.32" x2="431.5" y2="461.82" stroke="#3aa5a5" stroke-width="1"/>
<line x1="429.9" y1="455.32" x2="433.1" y2="455.32" stroke="#3aa5a5" stroke-width="1"/>
<line x1="429.9" y1="461.82" x2="433.1" y2="461.82" stroke="#3aa5a5" stroke-width="1"/>
<circle cx="431.5" cy="458.57" r="2.1" fill="#3aa5a5" stroke="none" stroke-width="0"/>
<line x1="437.79" y1="454.23" x2="437.79" y2="462.36" stroke="#3aa5a5" stroke-width="1"/>
<line x1="436.19" y1="454.23" x2="439.39" y2="454.23" stroke="#3aa5a5" stroke-width="1"/>
<line x1="436.19" y1="462.36" x2="439.39" y2="462.36" stroke="#3aa5a5" stroke-width="1"/>
<circle cx="437.79" cy="458.3" r="2.1" fill="#3aa5a5" stroke="none" stroke-width="0"/>
<line x1="444.08" y1="453.69" x2="444.08" y2="461.82" stroke="#3aa5a5" stroke-width="1"/>
<line x1="442.48" y1="453.69" x2="445.68" y2="453.69" stroke="#3aa5a5" stroke-width="1"/>
<line x1="442.48" y1="461.82" x2="445.68" y2="461.82" stroke="#3aa5a5" stroke-width="1"/>
<circle cx="444.08" cy="457.76" r="2.1" fill="#3aa5a5" stroke="none" stroke-width="0"/>
<line x1="450.37" y1="452.06" x2="450.37" y2="460.19" stroke="#3aa5a5" stroke-width="1"/>
<line x1="448.77" y1="452.06" x2="451.97" y2="452.06" stroke="#3aa5a5" stroke-width="1"/>
<line x1="448.77" y1="460.19" x2="451.97" y2="460.19" stroke="#3aa5a5" stroke-width="1"/>
<circle cx="450.37" cy="456.13" r="2.1" fill="#3aa5a5" stroke="none" stroke-width="0"/>
<line x1="456.66" y1="448.81" x2="456.66" y2="459.65" stroke="#3aa5a5" stroke-width="1"/>
<line x1="455.06" y1="448.81" x2="458.26" y2="448.81" stroke="#3aa5a5" stroke-width="1"/>
<line x1="455.06" y1="459.65" x2="458.26" y2="459.65" stroke="#3aa5a5" stroke-width="1"/>
<circle cx="456.66" cy="454.23" r="2.1" fill="#3aa5a5" stroke="none" stroke-width="0"/>
<line x1="462.95" y1="449.9" x2="462.95" y2="458.03" stroke="#3aa5a5" stroke-width="1"/>
<line x1="461.35" y1="449.9" x2="464.55" y2="449.9" stroke="#3aa5a5" stroke-width="1"/>
<line x1="461.35" y1="458.03" x2="464.55" y2="458.03" stroke="#3aa5a5" stroke-width="1"/>
<circle cx="462.95" cy="453.96" r="2.1" fill="#3aa5a5" stroke="none" stroke-width="0"/>
<line x1="469.24" y1="447.46" x2="469.24" y2="458.3" stroke="#3aa5a5" stroke-width="1"/>
<line x1="467.64" y1="447.46" x2="470.84" y2="447.46" stroke="#3aa5a5" stroke-width="1"/>
<line x1="467.64" y1="458.3" x2="470.84" y2="458.3" stroke="#3aa5a5" stroke-width="1"/>
<circle cx="469.24" cy="452.88" r="2.1" fill="#3aa5a5" stroke="none" stroke-width="0"/>
<line x1="475.53" y1="446.92" x2="475.53" y2="457.76" stroke="#3aa5a5" stroke-width="1"/>
<line x1="473.93" y1="446.92" x2="477.13" y2="446.92" stroke="#3aa5a5" stroke-width="1"/>
<line x1="473.93" y1="457.76" x2="477.13" y2="457.76" stroke="#3aa5a5" stroke-width="1"/>
<circle cx="475.53" cy="452.34" r="2.1" fill="#3aa5a5" stroke="none" stroke-width="0"/>
<line x1="481.82" y1="447.73" x2="481.82" y2="455.86" stroke="#3aa5a5" stroke-width="1"/>
<line x1="480.22" y1="447.73" x2="483.42" y2="447.73" stroke="#3aa5a5" stroke-width="1"/>
<line x1="480.22" y1="455.86" x2="483.42" y2="455.86" stroke="#3aa5a5" stroke-width="1"/>
<circle cx="481.82" cy="451.79" r="2.1" fill="#3aa5a5" stroke="none" stroke-width="0"/>
<line x1="488.11" y1="448" x2="488.11" y2="454.5" stroke="#3aa5a5" stroke-width="1"/>
<line x1="486.51" y1="448" x2="489.71" y2="448" stroke="#3aa5a5" stroke-width="1"/>
<line x1="486.51" y1="454.5" x2="489.71" y2="454.5" stroke="#3aa5a5" stroke-width="1"/>
<circle cx="488.11" cy="451.25" r="2.1" fill="#3aa5a5" stroke="none" stroke-width="0"/>
<line x1="494.4" y1="447.73" x2="494.4" y2="454.23" stroke="#3aa5a5" stroke-width="1"/>
<line x1="492.8" y1="447.73" x2="496" y2="447.73" stroke="#3aa5a5" stroke-width="1"/>
<line x1="492.8" y1="454.23" x2="496" y2="454.23" stroke="#3aa5a5" stroke-width="1"/>
<circle cx="494.4" cy="450.98" r="2.1" fill="#3aa5a5" stroke="none" stroke-width="0"/>
<line x1="500.69" y1="447.46" x2="500.69" y2="453.96" stroke="#3aa5a5" stroke-width="1"/>
<line x1="499.09" y1="447.46" x2="502.29" y2="447.46" stroke="#3aa5a5" stroke-width="1"/>
<line x1="499.09" y1="453.96" x2="502.29" y2="453.96" stroke="#3aa5a5" stroke-width="1"/>
<circle cx="500.69" cy="450.71" r="2.1" fill="#3aa5a5" stroke="none" stroke-width="0"/>
<line x1="506.98" y1="447.73" x2="506.98" y2="453.15" stroke="#3aa5a5" stroke-width="1"/>
<line x1="505.38" y1="447.73" x2="508.58" y2="447.73" stroke="#3aa5a5" stroke-width="1"/>
<line x1="505.38" y1="453.15" x2="508.58" y2="453.15" stroke="#3aa5a5" stroke-width="1"/>
<circle cx="506.98" cy="450.44" r="2.1" fill="#3aa5a5" stroke="none" stroke-width="0"/>
<line x1="513.27" y1="446.92" x2="513.27" y2="453.42" stroke="#3aa5a5" stroke-width="1"/>
<line x1="511.67" y1="446.92" x2="514.87" y2="446.92" stroke="#3aa5a5" stroke-width="1"/>
<line x1="511.67" y1="453.42" x2="514.87" y2="453.42" stroke="#3aa5a5" stroke-width="1"/>
<circle cx="513.27" cy="450.17" r="2.1" fill="#3aa5a5" stroke="none" stroke-width="0"/>
<line x1="519.56" y1="445.29" x2="519.56" y2="453.42" stroke="#3aa5a5" stroke-width="1"/>
<line x1="517.96" y1="445.29" x2="521.16" y2="445.29" stroke="#3aa5a5" stroke-width="1"/>
<line x1="517.96" y1="453.42" x2="521.16" y2="453.42" stroke="#3aa5a5" stroke-width="1"/>
<circle cx="519.56" cy="449.36" r="2.1" fill="#3aa5a5" stroke="none" stroke-width="0"/>
<line x1="525.85" y1="436.08" x2="525.85" y2="460.47" stroke="#3aa5a5" stroke-width="1"/>
<line x1="524.25" y1="436.08" x2="527.45" y2="436.08" stroke="#3aa5a5" stroke-width="1"/>
<line x1="524.25" y1="460.47" x2="527.45" y2="460.47" stroke="#3aa5a5" stroke-width="1"/>
<circle cx="525.85" cy="448.27" r="2.1" fill="#3aa5a5" stroke="none" stroke-width="0"/>
<line x1="532.14" y1="445.29" x2="532.14" y2="450.71" stroke="#3aa5a5" stroke-width="1"/>
<line x1="530.54" y1="445.29" x2="533.74" y2="445.29" stroke="#3aa5a5" stroke-width="1"/>
<line x1="530.54" y1="450.71" x2="533.74" y2="450.71" stroke="#3aa5a5" stroke-width="1"/>
<circle cx="532.14" cy="448" r="2.1" fill="#3aa5a5" stroke="none" stroke-width="0"/>
<line x1="538.43" y1="444.75" x2="538.43" y2="450.17" stroke="#3aa5a5" stroke-width="1"/>
<line x1="536.83" y1="444.75" x2="540.03" y2="444.75" stroke="#3aa5a5" stroke-width="1"/>
<line x1="536.83" y1="450.17" x2="540.03" y2="450.17" stroke="#3aa5a5" stroke-width="1"/>
<circle cx="538.43" cy="447.46" r="2.1" fill="#3aa5a5" stroke="none" stroke-width="0"/>
<line x1="544.72" y1="444.48" x2="544.72" y2="449.9" stroke="#3aa5a5" stroke-width="1"/>
<line x1="543.12" y1="444.48" x2="546.32" y2="444.48" stroke="#3aa5a5" stroke-width="1"/>
<line x1="543.12" y1="449.9" x2="546.32" y2="449.9" stroke="#3aa5a5" stroke-width="1"/>
<circle cx="544.72" cy="447.19" r="2.1" fill="#3aa5a5" stroke="none" stroke-width="0"/>
<line x1="551.01" y1="443.12" x2="551.01" y2="449.63" stroke="#3aa5a5" stroke-width="1"/>
<line x1="549.41" y1="443.12" x2="552.61" y2="443.12" stroke="#3aa5a5" stroke-width="1"/>
<line x1="549.41" y1="449.63" x2="552.61" y2="449.63" stroke="#3aa5a5" stroke-width="1"/>
<circle cx="551.01" cy="446.37" r="2.1" fill="#3aa5a5" stroke="none" stroke-width="0"/>
<line x1="557.3" y1="442.85" x2="557.3" y2="448.27" stroke="#3aa5a5" stroke-width="1"/>
<line x1="555.7" y1="442.85" x2="558.9" y2="442.85" stroke="#3aa5a5" stroke-width="1"/>
<line x1="555.7" y1="448.27" x2="558.9" y2="448.27" stroke="#3aa5a5" stroke-width="1"/>
<circle cx="557.3" cy="445.56" r="2.1" fill="#3aa5a5" stroke="none" stroke-width="0"/>
<line x1="563.59" y1="441.77" x2="563.59" y2="448.27" stroke="#3aa5a5" stroke-width="1"/>
<line x1="561.99" y1="441.77" x2="565.19" y2="441.77" stroke="#3aa5a5" stroke-width="1"/>
<line x1="561.99" y1="448.27" x2="565.19" y2="448.27" stroke="#3aa5a5" stroke-width="1"/>
<circle cx="563.59" cy="445.02" r="2.1" fill="#3aa5a5" stroke="none" stroke-width="0"/>
<line x1="569.88" y1="442.04" x2="569.88" y2="447.46" stroke="#3aa5a5" stroke-width="1"/>
<line x1="568.28" y1="442.04" x2="571.48" y2="442.04" stroke="#3aa5a5" stroke-width="1"/>
<line x1="568.28" y1="447.46" x2="571.48" y2="447.46" stroke="#3aa5a5" stroke-width="1"/>
<circle cx="569.88" cy="444.75" r="2.1" fill="#3aa5a5" stroke="none" stroke-width="0"/>
<line x1="576.17" y1="441.5" x2="576.17" y2="446.92" stroke="#3aa5a5" stroke-width="1"/>
<line x1="574.57" y1="441.5" x2="577.77" y2="441.5" stroke="#3aa5a5" stroke-width="1"/>
<line x1="574.57" y1="446.92" x2="577.77" y2="446.92" stroke="#3aa5a5" stroke-width="1"/>
<circle cx="576.17" cy="444.21" r="2.1" fill="#3aa5a5" stroke="none" stroke-width="0"/>
<line x1="582.46" y1="440.41" x2="582.46" y2="446.92" stroke="#3aa5a5" stroke-width="1"/>
<line x1="580.86" y1="440.41" x2="584.06" y2="440.41" stroke="#3aa5a5" stroke-width="1"/>
<line x1="580.86" y1="446.92" x2="584.06" y2="446.92" stroke="#3aa5a5" stroke-width="1"/>
<circle cx="582.46" cy="443.66" r="2.1" fill="#3aa5a5" stroke="none" stroke-width="0"/>
<line x1="588.75" y1="439.06" x2="588.75" y2="447.19" stroke="#3aa5a5" stroke-width="1"/>
<line x1="587.15" y1="439.06" x2="590.35" y2="439.06" stroke="#3aa5a5" stroke-width="1"/>
<line x1="587.15" y1="447.19" x2="590.35" y2="447.19" stroke="#3aa5a5" stroke-width="1"/>
<circle cx="588.75" cy="443.12" r="2.1" fill="#3aa5a5" stroke="none" stroke-width="0"/>
<line x1="595.04" y1="437.43" x2="595.04" y2="448.27" stroke="#3aa5a5" stroke-width="1"/>
<line x1="593.44" y1="437.43" x2="596.64" y2="437.43" stroke="#3aa5a5" stroke-width="1"/>
<line x1="593.44" y1="448.27" x2="596.64" y2="448.27" stroke="#3aa5a5" stroke-width="1"/>
<circle cx="595.04" cy="442.85" r="2.1" fill="#3aa5a5" stroke="none" stroke-width="0"/>
<line x1="601.33" y1="438.51" x2="601.33" y2="445.02" stroke="#3aa5a5" stroke-width="1"/>
<line x1="599.73" y1="438.51" x2="602.93" y2="438.51" stroke="#3aa5a5" stroke-width="1"/>
<line x1="599.73" y1="445.02" x2="602.93" y2="445.02" stroke="#3aa5a5" stroke-width="1"/>
<circle cx="601.33" cy="441.77" r="2.1" fill="#3aa5a5" stroke="none" stroke-width="0"/>
<line x1="607.62" y1="437.43" x2="607.62" y2="445.56" stroke="#3aa5a5" stroke-width="1"/>
<line x1="606.02" y1="437.43" x2="609.22" y2="437.43" stroke="#3aa5a5" stroke-width="1"/>
<line x1="606.02" y1="445.56" x2="609.22" y2="445.56" stroke="#3aa5a5" stroke-width="1"/>
<circle cx="607.62" cy="441.5" r="2.1" fill="#3aa5a5" stroke="none" stroke-width="0"/>
<line x1="613.91" y1="437.43" x2="613.91" y2="445.56" stroke="#3aa5a5" stroke-width="1"/>
<line x1="612.31" y1="437.43" x2="615.51" y2="437.43" stroke="#3aa5a5" stroke-width="1"/>
<line x1="612.31" y1="445.56" x2="615.51" y2="445.56" stroke="#3aa5a5" stroke-width="1"/>
<circle cx="613.91" cy="441.5" r="2.1" fill="#3aa5a5" stroke="none" stroke-width="0"/>
<line x1="620.2" y1="435.81" x2="620.2" y2="445.56" stroke="#3aa5a5" stroke-width="1"/>
<line x1="618.6" y1="435.81" x2="621.8" y2="435.81" stroke="#3aa5a5" stroke-width="1"/>
<line x1="618.6" y1="445.56" x2="621.8" y2="445.56" stroke="#3aa5a5" stroke-width="1"/>
<circle cx="620.2" cy="440.68" r="2.1" fill="#3aa5a5" stroke="none" stroke-width="0"/>
<line x1="626.49" y1="434.99" x2="626.49" y2="444.75" stroke="#3aa5a5" stroke-width="1"/>
<line x1="624.89" y1="434.99" x2="628.09" y2="434.99" stroke="#3aa5a5" stroke-width="1"/>
<line x1="624.89" y1="444.75" x2="628.09" y2="444.75" stroke="#3aa5a5" stroke-width="1"/>
<circle cx="626.49" cy="439.87" r="2.1" fill="#3aa5a5" stroke="none" stroke-width="0"/>
<line x1="632.78" y1="436.62" x2="632.78" y2="443.12" stroke="#3aa5a5" stroke-width="1"/>
<line x1="631.18" y1="436.62" x2="634.38" y2="436.62" stroke="#3aa5a5" stroke-width="1"/>
<line x1="631.18" y1="443.12" x2="634.38" y2="443.12" stroke="#3aa5a5" stroke-width="1"/>
<circle cx="632.78" cy="439.87" r="2.1" fill="#3aa5a5" stroke="none" stroke-width="0"/>
<line x1="639.07" y1="436.08" x2="639.07" y2="441.5" stroke="#3aa5a5" stroke-width="1"/>
<line x1="637.47" y1="436.08" x2="640.67" y2="436.08" stroke="#3aa5a5" stroke-width="1"/>
<line x1="637.47" y1="441.5" x2="640.67" y2="441.5" stroke="#3aa5a5" stroke-width="1"/>
<circle cx="639.07" cy="438.79" r="2.1" fill="#3aa5a5" stroke="none" stroke-width="0"/>
<line x1="645.36" y1="433.37" x2="645.36" y2="441.5" stroke="#3aa5a5" stroke-width="1"/>
<line x1="643.76" y1="433.37" x2="646.96" y2="433.37" stroke="#3aa5a5" stroke-width="1"/>
<line x1="643.76" y1="441.5" x2="646.96" y2="441.5" stroke="#3aa5a5" stroke-width="1"/>
<circle cx="645.36" cy="437.43" r="2.1" fill="#3aa5a5" stroke="none" stroke-width="0"/>
<line x1="651.65" y1="431.2" x2="651.65" y2="442.04" stroke="#3aa5a5" stroke-width="1"/>
<line x1="650.05" y1="431.2" x2="653.25" y2="431.2" stroke="#3aa5a5" stroke-width="1"/>
<line x1="650.05" y1="442.04" x2="653.25" y2="442.04" stroke="#3aa5a5" stroke-width="1"/>
<circle cx="651.65" cy="436.62" r="2.1" fill="#3aa5a5" stroke="none" stroke-width="0"/>
<line x1="657.94" y1="432.82" x2="657.94" y2="439.33" stroke="#3aa5a5" stroke-width="1"/>
<line x1="656.34" y1="432.82" x2="659.54" y2="432.82" stroke="#3aa5a5" stroke-width="1"/>
<line x1="656.34" y1="439.33" x2="659.54" y2="439.33" stroke="#3aa5a5" stroke-width="1"/>
<circle cx="657.94" cy="436.08" r="2.1" fill="#3aa5a5" stroke="none" stroke-width="0"/>
<line x1="664.23" y1="430.93" x2="664.23" y2="440.68" stroke="#3aa5a5" stroke-width="1"/>
<line x1="662.63" y1="430.93" x2="665.83" y2="430.93" stroke="#3aa5a5" stroke-width="1"/>
<line x1="662.63" y1="440.68" x2="665.83" y2="440.68" stroke="#3aa5a5" stroke-width="1"/>
<circle cx="664.23" cy="435.81" r="2.1" fill="#3aa5a5" stroke="none" stroke-width="0"/>
<line x1="670.52" y1="427.4" x2="670.52" y2="443.66" stroke="#3aa5a5" stroke-width="1"/>
<line x1="668.92" y1="427.4" x2="672.12" y2="427.4" stroke="#3aa5a5" stroke-width="1"/>
<line x1="668.92" y1="443.66" x2="672.12" y2="443.66" stroke="#3aa5a5" stroke-width="1"/>
<circle cx="670.52" cy="435.53" r="2.1" fill="#3aa5a5" stroke="none" stroke-width="0"/>
<line x1="676.81" y1="423.07" x2="676.81" y2="433.91" stroke="#3aa5a5" stroke-width="1"/>
<line x1="675.21" y1="423.07" x2="678.41" y2="423.07" stroke="#3aa5a5" stroke-width="1"/>
<line x1="675.21" y1="433.91" x2="678.41" y2="433.91" stroke="#3aa5a5" stroke-width="1"/>
<circle cx="676.81" cy="428.49" r="2.1" fill="#3aa5a5" stroke="none" stroke-width="0"/>
<text x="374.89" y="486.26" font-size="10.51" text-anchor="middle" fill="#1a1a1a" stroke="#1a1a1a" stroke-width="0.1">*</text>
<text x="381.18" y="486.26" font-size="10.51" text-anchor="middle" fill="#1a1a1a" stroke="#1a1a1a" stroke-width="0.1">*</text>
<text x="393.76" y="481.26" font-size="10.51" text-anchor="middle" fill="#1a1a1a" stroke="#1a1a1a" stroke-width="0.1">*</text>
<text x="390" y="445.76" font-size="10.51" text-anchor="middle" fill="#1a1a1a" stroke="#1a1a1a" stroke-width="0.1">***</text>
<text x="406.3" y="445.76" font-size="10.51" text-anchor="middle" fill="#1a1a1a" stroke="#1a1a1a" stroke-width="0.1">**</text>
<text x="412.63" y="475.76" font-size="10.51" text-anchor="middle" fill="#1a1a1a" stroke="#1a1a1a" stroke-width="0.1">***</text>
<text x="425.21" y="474.26" font-size="10.51" text-anchor="middle" fill="#1a1a1a" stroke="#1a1a1a" stroke-width="0.1">*</text>
<text x="437.79" y="473.76" font-size="10.51" text-anchor="middle" fill="#1a1a1a" stroke="#1a1a1a" stroke-width="0.1">*</text>
<text x="462.95" y="467.26" font-size="10.51" text-anchor="middle" fill="#1a1a1a" stroke="#1a1a1a" stroke-width="0.1">*</text>
<text x="639.07" y="440.26" font-size="10.51" text-anchor="middle" fill="#1a1a1a" stroke="#1a1a1a" stroke-width="0.1">*</text>
<text x="657.94" y="437.26" font-size="10.51" text-anchor="middle" fill="#1a1a1a" stroke="#1a1a1a" stroke-width="0.1">*</text>
<text x="670.52" y="433.26" font-size="10.51" text-anchor="middle" fill="#1a1a1a" stroke="#1a1a1a" stroke-width="0.1">*</text>
<text x="368.6" y="509.4" font-size="7.66" text-anchor="middle" fill="#a8a8a8" stroke="#a8a8a8" stroke-width="0.1">16</text>
<text x="375.69" y="498.2" font-size="7.66" text-anchor="middle" fill="#111" font-weight="bold">30</text>
<text x="381.18" y="509.4" font-size="7.66" text-anchor="middle" fill="#111" font-weight="bold">44</text>
<line x1="375.19" y1="500.2" x2="375.19" y2="510.9" stroke="#4a4a4a" stroke-width="0.9"/>
<text x="388.27" y="498.2" font-size="7.66" text-anchor="middle" fill="#111" font-weight="bold">25</text>
<line x1="382.68" y1="489.6" x2="382.68" y2="500.3" stroke="#4a4a4a" stroke-width="0.9"/>
<text x="393.76" y="509.4" font-size="7.66" text-anchor="middle" fill="#111" font-weight="bold">2</text>
<line x1="387.77" y1="500.2" x2="387.77" y2="510.9" stroke="#4a4a4a" stroke-width="0.9"/>
<text x="400.85" y="498.2" font-size="7.66" text-anchor="middle" fill="#a8a8a8" stroke="#a8a8a8" stroke-width="0.1">50</text>
<line x1="395.26" y1="489.6" x2="395.26" y2="500.3" stroke="#b4b4b4" stroke-width="0.9"/>
<text x="406.34" y="509.4" font-size="7.66" text-anchor="middle" fill="#111" font-weight="bold">41</text>
<line x1="400.35" y1="500.2" x2="400.35" y2="510.9" stroke="#4a4a4a" stroke-width="0.9"/>
<text x="413.43" y="498.2" font-size="7.66" text-anchor="middle" fill="#111" font-weight="bold">24</text>
<line x1="407.84" y1="489.6" x2="407.84" y2="500.3" stroke="#4a4a4a" stroke-width="0.9"/>
<text x="418.92" y="509.4" font-size="7.66" text-anchor="middle" fill="#a8a8a8" stroke="#a8a8a8" stroke-width="0.1">46</text>
<line x1="412.93" y1="500.2" x2="412.93" y2="510.9" stroke="#b4b4b4" stroke-width="0.9"/>
<text x="426.01" y="498.2" font-size="7.66" text-anchor="middle" fill="#111" font-weight="bold">6</text>
<line x1="420.42" y1="489.6" x2="420.42" y2="500.3" stroke="#4a4a4a" stroke-width="0.9"/>
<text x="431.5" y="509.4" font-size="7.66" text-anchor="middle" fill="#a8a8a8" stroke="#a8a8a8" stroke-width="0.1">11</text>
<line x1="425.51" y1="500.2" x2="425.51" y2="510.9" stroke="#b4b4b4" stroke-width="0.9"/>
<text x="438.59" y="498.2" font-size="7.66" text-anchor="middle" fill="#111" font-weight="bold">36</text>
<line x1="433" y1="489.6" x2="433" y2="500.3" stroke="#4a4a4a" stroke-width="0.9"/>
<text x="444.08" y="509.4" font-size="7.66" text-anchor="middle" fill="#a8a8a8" stroke="#a8a8a8" stroke-width="0.1">15</text>
<line x1="438.09" y1="500.2" x2="438.09" y2="510.9" stroke="#b4b4b4" stroke-width="0.9"/>
<text x="451.17" y="498.2" font-size="7.66" text-anchor="middle" fill="#a8a8a8" stroke="#a8a8a8" stroke-width="0.1">20</text>
<line x1="445.58" y1="489.6" x2="445.58" y2="500.3" stroke="#b4b4b4" stroke-width="0.9"/>
<text x="456.66" y="509.4" font-size="7.66" text-anchor="middle" fill="#a8a8a8" stroke="#a8a8a8" stroke-width="0.1">28</text>
<line x1="450.67" y1="500.2" x2="450.67" y2="510.9" stroke="#b4b4b4" stroke-width="0.9"/>
<text x="463.75" y="498.2" font-size="7.66" text-anchor="middle" fill="#111" font-weight="bold">33</text>
<line x1="458.16" y1="489.6" x2="458.16" y2="500.3" stroke="#4a4a4a" stroke-width="0.9"/>
<text x="469.24" y="509.4" font-size="7.66" text-anchor="middle" fill="#a8a8a8" stroke="#a8a8a8" stroke-width="0.1">47</text>
<line x1="463.25" y1="500.2" x2="463.25" y2="510.9" stroke="#b4b4b4" stroke-width="0.9"/>
<text x="476.33" y="498.2" font-size="7.66" text-anchor="middle" fill="#a8a8a8" stroke="#a8a8a8" stroke-width="0.1">43</text>
<line x1="470.74" y1="489.6" x2="470.74" y2="500.3" stroke="#b4b4b4" stroke-width="0.9"/>
<text x="481.82" y="509.4" font-size="7.66" text-anchor="middle" fill="#a8a8a8" stroke="#a8a8a8" stroke-width="0.1">13</text>
<line x1="475.83" y1="500.2" x2="475.83" y2="510.9" stroke="#b4b4b4" stroke-width="0.9"/>
<text x="488.91" y="498.2" font-size="7.66" text-anchor="middle" fill="#a8a8a8" stroke="#a8a8a8" stroke-width="0.1">19</text>
<line x1="483.32" y1="489.6" x2="483.32" y2="500.3" stroke="#b4b4b4" stroke-width="0.9"/>
<text x="494.4" y="509.4" font-size="7.66" text-anchor="middle" fill="#a8a8a8" stroke="#a8a8a8" stroke-width="0.1">45</text>
<line x1="488.41" y1="500.2" x2="488.41" y2="510.9" stroke="#b4b4b4" stroke-width="0.9"/>
<text x="501.49" y="498.2" font-size="7.66" text-anchor="middle" fill="#a8a8a8" stroke="#a8a8a8" stroke-width="0.1">21</text>
<line x1="495.9" y1="489.6" x2="495.9" y2="500.3" stroke="#b4b4b4" stroke-width="0.9"/>
<text x="506.98" y="509.4" font-size="7.66" text-anchor="middle" fill="#a8a8a8" stroke="#a8a8a8" stroke-width="0.1">14</text>
<line x1="500.99" y1="500.2" x2="500.99" y2="510.9" stroke="#b4b4b4" stroke-width="0.9"/>
<text x="514.07" y="498.2" font-size="7.66" text-anchor="middle" fill="#a8a8a8" stroke="#a8a8a8" stroke-width="0.1">34</text>
<line x1="508.48" y1="489.6" x2="508.48" y2="500.3" stroke="#b4b4b4" stroke-width="0.9"/>
<text x="519.56" y="509.4" font-size="7.66" text-anchor="middle" fill="#a8a8a8" stroke="#a8a8a8" stroke-width="0.1">48</text>
<line x1="513.57" y1="500.2" x2="513.57" y2="510.9" stroke="#b4b4b4" stroke-width="0.9"/>
<text x="526.65" y="498.2" font-size="7.66" text-anchor="middle" fill="#a8a8a8" stroke="#a8a8a8" stroke-width="0.1">29</text>
<line x1="521.06" y1="489.6" x2="521.06" y2="500.3" stroke="#b4b4b4" stroke-width="0.9"/>
<text x="532.14" y="509.4" font-size="7.66" text-anchor="middle" fill="#a8a8a8" stroke="#a8a8a8" stroke-width="0.1">10</text>
<line x1="526.15" y1="500.2" x2="526.15" y2="510.9" stroke="#b4b4b4" stroke-width="0.9"/>
<text x="539.23" y="498.2" font-size="7.66" text-anchor="middle" fill="#a8a8a8" stroke="#a8a8a8" stroke-width="0.1">3</text>
<line x1="533.64" y1="489.6" x2="533.64" y2="500.3" stroke="#b4b4b4" stroke-width="0.9"/>
<text x="544.72" y="509.4" font-size="7.66" text-anchor="middle" fill="#a8a8a8" stroke="#a8a8a8" stroke-width="0.1">7</text>
<line x1="538.73" y1="500.2" x2="538.73" y2="510.9" stroke="#b4b4b4" stroke-width="0.9"/>
<text x="551.81" y="498.2" font-size="7.66" text-anchor="middle" fill="#a8a8a8" stroke="#a8a8a8" stroke-width="0.1">32</text>
<line x1="546.22" y1="489.6" x2="546.22" y2="500.3" stroke="#b4b4b4" stroke-width="0.9"/>
<text x="557.3" y="509.4" font-size="7.66" text-anchor="middle" fill="#a8a8a8" stroke="#a8a8a8" stroke-width="0.1">27</text>
<line x1="551.31" y1="500.2" x2="551.31" y2="510.9" stroke="#b4b4b4" stroke-width="0.9"/>
<text x="564.39" y="498.2" font-size="7.66" text-anchor="middle" fill="#a8a8a8" stroke="#a8a8a8" stroke-width="0.1">4</text>
<line x1="558.8" y1="489.6" x2="558.8" y2="500.3" stroke="#b4b4b4" stroke-width="0.9"/>
<text x="569.88" y="509.4" font-size="7.66" text-anchor="middle" fill="#a8a8a8" stroke="#a8a8a8" stroke-width="0.1">22</text>
<line x1="563.89" y1="500.2" x2="563.89" y2="510.9" stroke="#b4b4b4" stroke-width="0.9"/>
<text x="576.97" y="498.2" font-size="7.66" text-anchor="middle" fill="#a8a8a8" stroke="#a8a8a8" stroke-width="0.1">5</text>
<line x1="571.38" y1="489.6" x2="571.38" y2="500.3" stroke="#b4b4b4" stroke-width="0.9"/>
<text x="582.46" y="509.4" font-size="7.66" text-anchor="middle" fill="#a8a8a8" stroke="#a8a8a8" stroke-width="0.1">42</text>
<line x1="576.47" y1="500.2" x2="576.47" y2="510.9" stroke="#b4b4b4" stroke-width="0.9"/>
<text x="589.55" y="498.2" font-size="7.66" text-anchor="middle" fill="#a8a8a8" stroke="#a8a8a8" stroke-width="0.1">49</text>
<line x1="583.96" y1="489.6" x2="583.96" y2="500.3" stroke="#b4b4b4" stroke-width="0.9"/>
<text x="595.04" y="509.4" font-size="7.66" text-anchor="middle" fill="#a8a8a8" stroke="#a8a8a8" stroke-width="0.1">9</text>
<line x1="589.05" y1="500.2" x2="589.05" y2="510.9" stroke="#b4b4b4" stroke-width="0.9"/>
<text x="602.13" y="498.2" font-size="7.66" text-anchor="middle" fill="#a8a8a8" stroke="#a8a8a8" stroke-width="0.1">35</text>
<line x1="596.54" y1="489.6" x2="596.54" y2="500.3" stroke="#b4b4b4" stroke-width="0.9"/>
<text x="607.62" y="509.4" font-size="7.66" text-anchor="middle" fill="#a8a8a8" stroke="#a8a8a8" stroke-width="0.1">12</text>
<line x1="601.63" y1="500.2" x2="601.63" y2="510.9" stroke="#b4b4b4" stroke-width="0.9"/>
<text x="614.71" y="498.2" font-size="7.66" text-anchor="middle" fill="#a8a8a8" stroke="#a8a8a8" stroke-width="0.1">18</text>
<line x1="609.12" y1="489.6" x2="609.12" y2="500.3" stroke="#b4b4b4" stroke-width="0.9"/>
<text x="620.2" y="509.4" font-size="7.66" text-anchor="middle" fill="#a8a8a8" stroke="#a8a8a8" stroke-width="0.1">31</text>
<line x1="614.21" y1="500.2" x2="614.21" y2="510.9" stroke="#b4b4b4" stroke-width="0.9"/>
<text x="627.29" y="498.2" font-size="7.66" text-anchor="middle" fill="#a8a8a8" stroke="#a8a8a8" stroke-width="0.1">38</text>
<line x1="621.7" y1="489.6" x2="621.7" y2="500.3" stroke="#b4b4b4" stroke-width="0.9"/>
<text x="632.78" y="509.4" font-size="7.66" text-anchor="middle" fill="#a8a8a8" stroke="#a8a8a8" stroke-width="0.1">40</text>
<line x1="626.79" y1="500.2" x2="626.79" y2="510.9" stroke="#b4b4b4" stroke-width="0.9"/>
<text x="639.87" y="498.2" font-size="7.66" text-anchor="middle" fill="#111" font-weight="bold">37</text>
<line x1="634.28" y1="489.6" x2="634.28" y2="500.3" stroke="#4a4a4a" stroke-width="0.9"/>
<text x="645.36" y="509.4" font-size="7.66" text-anchor="middle" fill="#a8a8a8" stroke="#a8a8a8" stroke-width="0.1">1</text>
<line x1="639.37" y1="500.2" x2="639.37" y2="510.9" stroke="#b4b4b4" stroke-width="0.9"/>
<text x="652.45" y="498.2" font-size="7.66" text-anchor="middle" fill="#a8a8a8" stroke="#a8a8a8" stroke-width="0.1">17</text>
<line x1="646.86" y1="489.6" x2="646.86" y2="500.3" stroke="#b4b4b4" stroke-width="0.9"/>
<text x="657.94" y="509.4" font-size="7.66" text-anchor="middle" fill="#111" font-weight="bold">8</text>
<line x1="651.95" y1="500.2" x2="651.95" y2="510.9" stroke="#4a4a4a" stroke-width="0.9"/>
<text x="665.03" y="498.2" font-size="7.66" text-anchor="middle" fill="#a8a8a8" stroke="#a8a8a8" stroke-width="0.1">26</text>
<line x1="659.44" y1="489.6" x2="659.44" y2="500.3" stroke="#b4b4b4" stroke-width="0.9"/>
<text x="670.52" y="509.4" font-size="7.66" text-anchor="middle" fill="#a8a8a8" stroke="#a8a8a8" stroke-width="0.1">39</text>
<line x1="664.53" y1="500.2" x2="664.53" y2="510.9" stroke="#b4b4b4" stroke-width="0.9"/>
<text x="677.61" y="498.2" font-size="7.66" text-anchor="middle" fill="#111" font-weight="bold">23</text>
<line x1="672.02" y1="489.6" x2="672.02" y2="500.3" stroke="#4a4a4a" stroke-width="0.9"/>
<line x1="352.5" y1="520.2" x2="352.5" y2="602.8" stroke="#333" stroke-width="1.2"/>
<line x1="348.5" y1="520.7" x2="352.5" y2="520.7" stroke="#333" stroke-width="1.1"/>
<text x="346.5" y="524" font-size="9.83" text-anchor="end" fill="#1a1a1a" stroke="#1a1a1a" stroke-width="0.1">2</text>
<line x1="348.5" y1="541" x2="352.5" y2="541" stroke="#333" stroke-width="1.1"/>
<text x="346.5" y="544.3" font-size="9.83" text-anchor="end" fill="#1a1a1a" stroke="#1a1a1a" stroke-width="0.1">1</text>
<line x1="348.5" y1="561.3" x2="352.5" y2="561.3" stroke="#333" stroke-width="1.1"/>
<text x="346.5" y="564.6" font-size="9.83" text-anchor="end" fill="#1a1a1a" stroke="#1a1a1a" stroke-width="0.1">0</text>
<line x1="348.5" y1="581.6" x2="352.5" y2="581.6" stroke="#333" stroke-width="1.1"/>
<text x="346.5" y="584.9" font-size="9.83" text-anchor="end" fill="#1a1a1a" stroke="#1a1a1a" stroke-width="0.1">-1</text>
<line x1="348.5" y1="601.9" x2="352.5" y2="601.9" stroke="#333" stroke-width="1.1"/>
<text x="346.5" y="605.2" font-size="9.83" text-anchor="end" fill="#1a1a1a" stroke="#1a1a1a" stroke-width="0.1">-2</text>
<line x1="353.5" y1="520.7" x2="682" y2="520.7" stroke="#c8c8c8" stroke-width="0.8" stroke-dasharray="1.5,1.5"/>
<line x1="353.5" y1="541" x2="682" y2="541" stroke="#c8c8c8" stroke-width="0.8" stroke-dasharray="1.5,1.5"/>
<line x1="353.5" y1="581.6" x2="682" y2="581.6" stroke="#c8c8c8" stroke-width="0.8" stroke-dasharray="1.5,1.5"/>
<text x="331.5" y="559.2" font-size="9.42" text-anchor="middle" fill="#1a1a1a" transform="rotate(-90 331.5 559.2)" stroke="#1a1a1a" stroke-width="0.1">log<tspan font-size="6.5" dy="2">2</tspan><tspan dy="-2">(frequency FC)</tspan></text>
<line x1="368.6" y1="555.21" x2="368.6" y2="567.39" stroke="#b8b8b8" stroke-width="0.9"/>
<line x1="367" y1="555.21" x2="370.2" y2="555.21" stroke="#b8b8b8" stroke-width="0.9"/>
<line x1="367" y1="567.39" x2="370.2" y2="567.39" stroke="#b8b8b8" stroke-width="0.9"/>
<polygon points="368.6,559.32 370.49,562.74 366.71,562.74" fill="#a4a4a4" stroke="none" stroke-width="0"/>
<line x1="374.89" y1="558.25" x2="374.89" y2="564.34" stroke="#b8b8b8" stroke-width="0.9"/>
<line x1="373.29" y1="558.25" x2="376.49" y2="558.25" stroke="#b8b8b8" stroke-width="0.9"/>
<line x1="373.29" y1="564.34" x2="376.49" y2="564.34" stroke="#b8b8b8" stroke-width="0.9"/>
<polygon points="374.89,559.32 376.78,562.74 373,562.74" fill="#a4a4a4" stroke="none" stroke-width="0"/>
<line x1="381.18" y1="558.25" x2="381.18" y2="564.34" stroke="#b8b8b8" stroke-width="0.9"/>
<line x1="379.58" y1="558.25" x2="382.78" y2="558.25" stroke="#b8b8b8" stroke-width="0.9"/>
<line x1="379.58" y1="564.34" x2="382.78" y2="564.34" stroke="#b8b8b8" stroke-width="0.9"/>
<polygon points="381.18,559.32 383.07,562.74 379.29,562.74" fill="#a4a4a4" stroke="none" stroke-width="0"/>
<line x1="387.47" y1="557.24" x2="387.47" y2="565.36" stroke="#b8b8b8" stroke-width="0.9"/>
<line x1="385.87" y1="557.24" x2="389.07" y2="557.24" stroke="#b8b8b8" stroke-width="0.9"/>
<line x1="385.87" y1="565.36" x2="389.07" y2="565.36" stroke="#b8b8b8" stroke-width="0.9"/>
<polygon points="387.47,559.32 389.36,562.74 385.58,562.74" fill="#a4a4a4" stroke="none" stroke-width="0"/>
<line x1="393.76" y1="558.25" x2="393.76" y2="564.34" stroke="#b8b8b8" stroke-width="0.9"/>
<line x1="392.16" y1="558.25" x2="395.36" y2="558.25" stroke="#b8b8b8" stroke-width="0.9"/>
<line x1="392.16" y1="564.34" x2="395.36" y2="564.34" stroke="#b8b8b8" stroke-width="0.9"/>
<polygon points="393.76,559.32 395.65,562.74 391.87,562.74" fill="#a4a4a4" stroke="none" stroke-width="0"/>
<line x1="400.05" y1="557.24" x2="400.05" y2="565.36" stroke="#b8b8b8" stroke-width="0.9"/>
<line x1="398.45" y1="557.24" x2="401.65" y2="557.24" stroke="#b8b8b8" stroke-width="0.9"/>
<line x1="398.45" y1="565.36" x2="401.65" y2="565.36" stroke="#b8b8b8" stroke-width="0.9"/>
<polygon points="400.05,559.32 401.94,562.74 398.16,562.74" fill="#a4a4a4" stroke="none" stroke-width="0"/>
<line x1="406.34" y1="558.25" x2="406.34" y2="564.34" stroke="#b8b8b8" stroke-width="0.9"/>
<line x1="404.74" y1="558.25" x2="407.94" y2="558.25" stroke="#b8b8b8" stroke-width="0.9"/>
<line x1="404.74" y1="564.34" x2="407.94" y2="564.34" stroke="#b8b8b8" stroke-width="0.9"/>
<polygon points="406.34,559.32 408.23,562.74 404.45,562.74" fill="#a4a4a4" stroke="none" stroke-width="0"/>
<line x1="412.63" y1="557.24" x2="412.63" y2="565.36" stroke="#b8b8b8" stroke-width="0.9"/>
<line x1="411.03" y1="557.24" x2="414.23" y2="557.24" stroke="#b8b8b8" stroke-width="0.9"/>
<line x1="411.03" y1="565.36" x2="414.23" y2="565.36" stroke="#b8b8b8" stroke-width="0.9"/>
<polygon points="412.63,559.32 414.52,562.74 410.74,562.74" fill="#a4a4a4" stroke="none" stroke-width="0"/>
<line x1="418.92" y1="557.24" x2="418.92" y2="565.36" stroke="#b8b8b8" stroke-width="0.9"/>
<line x1="417.32" y1="557.24" x2="420.52" y2="557.24" stroke="#b8b8b8" stroke-width="0.9"/>
<line x1="417.32" y1="565.36" x2="420.52" y2="565.36" stroke="#b8b8b8" stroke-width="0.9"/>
<polygon points="418.92,559.32 420.81,562.74 417.03,562.74" fill="#a4a4a4" stroke="none" stroke-width="0"/>
<line x1="425.21" y1="558.25" x2="425.21" y2="564.34" stroke="#b8b8b8" stroke-width="0.9"/>
<line x1="423.61" y1="558.25" x2="426.81" y2="558.25" stroke="#b8b8b8" stroke-width="0.9"/>
<line x1="423.61" y1="564.34" x2="426.81" y2="564.34" stroke="#b8b8b8" stroke-width="0.9"/>
<polygon points="425.21,559.32 427.1,562.74 423.32,562.74" fill="#a4a4a4" stroke="none" stroke-width="0"/>
<line x1="431.5" y1="558.25" x2="431.5" y2="564.34" stroke="#b8b8b8" stroke-width="0.9"/>
<line x1="429.9" y1="558.25" x2="433.1" y2="558.25" stroke="#b8b8b8" stroke-width="0.9"/>
<line x1="429.9" y1="564.34" x2="433.1" y2="564.34" stroke="#b8b8b8" stroke-width="0.9"/>
<polygon points="431.5,559.32 433.39,562.74 429.61,562.74" fill="#a4a4a4" stroke="none" stroke-width="0"/>
<line x1="437.79" y1="557.24" x2="437.79" y2="565.36" stroke="#b8b8b8" stroke-width="0.9"/>
<line x1="436.19" y1="557.24" x2="439.39" y2="557.24" stroke="#b8b8b8" stroke-width="0.9"/>
<line x1="436.19" y1="565.36" x2="439.39" y2="565.36" stroke="#b8b8b8" stroke-width="0.9"/>
<polygon points="437.79,559.32 439.68,562.74 435.9,562.74" fill="#a4a4a4" stroke="none" stroke-width="0"/>
<line x1="444.08" y1="558.25" x2="444.08" y2="564.34" stroke="#b8b8b8" stroke-width="0.9"/>
<line x1="442.48" y1="558.25" x2="445.68" y2="558.25" stroke="#b8b8b8" stroke-width="0.9"/>
<line x1="442.48" y1="564.34" x2="445.68" y2="564.34" stroke="#b8b8b8" stroke-width="0.9"/>
<polygon points="444.08,559.32 445.97,562.74 442.19,562.74" fill="#a4a4a4" stroke="none" stroke-width="0"/>
<line x1="450.37" y1="558.25" x2="450.37" y2="564.34" stroke="#b8b8b8" stroke-width="0.9"/>
<line x1="448.77" y1="558.25" x2="451.97" y2="558.25" stroke="#b8b8b8" stroke-width="0.9"/>
<line x1="448.77" y1="564.34" x2="451.97" y2="564.34" stroke="#b8b8b8" stroke-width="0.9"/>
<polygon points="450.37,559.32 452.26,562.74 448.48,562.74" fill="#a4a4a4" stroke="none" stroke-width="0"/>
<line x1="456.66" y1="558.25" x2="456.66" y2="564.34" stroke="#b8b8b8" stroke-width="0.9"/>
<line x1="455.06" y1="558.25" x2="458.26" y2="558.25" stroke="#b8b8b8" stroke-width="0.9"/>
<line x1="455.06" y1="564.34" x2="458.26" y2="564.34" stroke="#b8b8b8" stroke-width="0.9"/>
<polygon points="456.66,559.32 458.55,562.74 454.77,562.74" fill="#a4a4a4" stroke="none" stroke-width="0"/>
<line x1="462.95" y1="559.27" x2="462.95" y2="563.33" stroke="#b8b8b8" stroke-width="0.9"/>
<line x1="461.35" y1="559.27" x2="464.55" y2="559.27" stroke="#b8b8b8" stroke-width="0.9"/>
<line x1="461.35" y1="563.33" x2="464.55" y2="563.33" stroke="#b8b8b8" stroke-width="0.9"/>
<polygon points="462.95,559.32 464.84,562.74 461.06,562.74" fill="#a4a4a4" stroke="none" stroke-width="0"/>
<line x1="469.24" y1="559.27" x2="469.24" y2="563.33" stroke="#b8b8b8" stroke-width="0.9"/>
<line x1="467.64" y1="559.27" x2="470.84" y2="559.27" stroke="#b8b8b8" stroke-width="0.9"/>
<line x1="467.64" y1="563.33" x2="470.84" y2="563.33" stroke="#b8b8b8" stroke-width="0.9"/>
<polygon points="469.24,559.32 471.13,562.74 467.35,562.74" fill="#a4a4a4" stroke="none" stroke-width="0"/>
<line x1="475.53" y1="559.27" x2="475.53" y2="563.33" stroke="#b8b8b8" stroke-width="0.9"/>
<line x1="473.93" y1="559.27" x2="477.13" y2="559.27" stroke="#b8b8b8" stroke-width="0.9"/>
<line x1="473.93" y1="563.33" x2="477.13" y2="563.33" stroke="#b8b8b8" stroke-width="0.9"/>
<polygon points="475.53,559.32 477.42,562.74 473.64,562.74" fill="#a4a4a4" stroke="none" stroke-width="0"/>
<line x1="481.82" y1="559.27" x2="481.82" y2="563.33" stroke="#b8b8b8" stroke-width="0.9"/>
<line x1="480.22" y1="559.27" x2="483.42" y2="559.27" stroke="#b8b8b8" stroke-width="0.9"/>
<line x1="480.22" y1="563.33" x2="483.42" y2="563.33" stroke="#b8b8b8" stroke-width="0.9"/>
<polygon points="481.82,559.32 483.71,562.74 479.93,562.74" fill="#a4a4a4" stroke="none" stroke-width="0"/>
<line x1="488.11" y1="559.27" x2="488.11" y2="563.33" stroke="#b8b8b8" stroke-width="0.9"/>
<line x1="486.51" y1="559.27" x2="489.71" y2="559.27" stroke="#b8b8b8" stroke-width="0.9"/>
<line x1="486.51" y1="563.33" x2="489.71" y2="563.33" stroke="#b8b8b8" stroke-width="0.9"/>
<polygon points="488.11,559.32 490,562.74 486.22,562.74" fill="#a4a4a4" stroke="none" stroke-width="0"/>
<line x1="494.4" y1="559.27" x2="494.4" y2="563.33" stroke="#b8b8b8" stroke-width="0.9"/>
<line x1="492.8" y1="559.27" x2="496" y2="559.27" stroke="#b8b8b8" stroke-width="0.9"/>
<line x1="492.8" y1="563.33" x2="496" y2="563.33" stroke="#b8b8b8" stroke-width="0.9"/>
<polygon points="494.4,559.32 496.29,562.74 492.51,562.74" fill="#a4a4a4" stroke="none" stroke-width="0"/>
<line x1="500.69" y1="559.27" x2="500.69" y2="563.33" stroke="#b8b8b8" stroke-width="0.9"/>
<line x1="499.09" y1="559.27" x2="502.29" y2="559.27" stroke="#b8b8b8" stroke-width="0.9"/>
<line x1="499.09" y1="563.33" x2="502.29" y2="563.33" stroke="#b8b8b8" stroke-width="0.9"/>
<polygon points="500.69,559.32 502.58,562.74 498.8,562.74" fill="#a4a4a4" stroke="none" stroke-width="0"/>
<line x1="506.98" y1="559.27" x2="506.98" y2="563.33" stroke="#b8b8b8" stroke-width="0.9"/>
<line x1="505.38" y1="559.27" x2="508.58" y2="559.27" stroke="#b8b8b8" stroke-width="0.9"/>
<line x1="505.38" y1="563.33" x2="508.58" y2="563.33" stroke="#b8b8b8" stroke-width="0.9"/>
<polygon points="506.98,559.32 508.87,562.74 505.09,562.74" fill="#a4a4a4" stroke="none" stroke-width="0"/>
<line x1="513.27" y1="559.27" x2="513.27" y2="563.33" stroke="#b8b8b8" stroke-width="0.9"/>
<line x1="511.67" y1="559.27" x2="514.87" y2="559.27" stroke="#b8b8b8" stroke-width="0.9"/>
<line x1="511.67" y1="563.33" x2="514.87" y2="563.33" stroke="#b8b8b8" stroke-width="0.9"/>
<polygon points="513.27,559.32 515.16,562.74 511.38,562.74" fill="#a4a4a4" stroke="none" stroke-width="0"/>
<line x1="519.56" y1="559.27" x2="519.56" y2="563.33" stroke="#b8b8b8" stroke-width="0.9"/>
<line x1="517.96" y1="559.27" x2="521.16" y2="559.27" stroke="#b8b8b8" stroke-width="0.9"/>
<line x1="517.96" y1="563.33" x2="521.16" y2="563.33" stroke="#b8b8b8" stroke-width="0.9"/>
<polygon points="519.56,559.32 521.45,562.74 517.67,562.74" fill="#a4a4a4" stroke="none" stroke-width="0"/>
<line x1="525.85" y1="558.25" x2="525.85" y2="564.34" stroke="#b8b8b8" stroke-width="0.9"/>
<line x1="524.25" y1="558.25" x2="527.45" y2="558.25" stroke="#b8b8b8" stroke-width="0.9"/>
<line x1="524.25" y1="564.34" x2="527.45" y2="564.34" stroke="#b8b8b8" stroke-width="0.9"/>
<polygon points="525.85,559.32 527.74,562.74 523.96,562.74" fill="#a4a4a4" stroke="none" stroke-width="0"/>
<line x1="532.14" y1="559.27" x2="532.14" y2="563.33" stroke="#b8b8b8" stroke-width="0.9"/>
<line x1="530.54" y1="559.27" x2="533.74" y2="559.27" stroke="#b8b8b8" stroke-width="0.9"/>
<line x1="530.54" y1="563.33" x2="533.74" y2="563.33" stroke="#b8b8b8" stroke-width="0.9"/>
<polygon points="532.14,559.32 534.03,562.74 530.25,562.74" fill="#a4a4a4" stroke="none" stroke-width="0"/>
<line x1="538.43" y1="558.25" x2="538.43" y2="564.34" stroke="#b8b8b8" stroke-width="0.9"/>
<line x1="536.83" y1="558.25" x2="540.03" y2="558.25" stroke="#b8b8b8" stroke-width="0.9"/>
<line x1="536.83" y1="564.34" x2="540.03" y2="564.34" stroke="#b8b8b8" stroke-width="0.9"/>
<polygon points="538.43,559.32 540.32,562.74 536.54,562.74" fill="#a4a4a4" stroke="none" stroke-width="0"/>
<line x1="544.72" y1="559.27" x2="544.72" y2="563.33" stroke="#b8b8b8" stroke-width="0.9"/>
<line x1="543.12" y1="559.27" x2="546.32" y2="559.27" stroke="#b8b8b8" stroke-width="0.9"/>
<line x1="543.12" y1="563.33" x2="546.32" y2="563.33" stroke="#b8b8b8" stroke-width="0.9"/>
<polygon points="544.72,559.32 546.61,562.74 542.83,562.74" fill="#a4a4a4" stroke="none" stroke-width="0"/>
<line x1="551.01" y1="558.25" x2="551.01" y2="564.34" stroke="#b8b8b8" stroke-width="0.9"/>
<line x1="549.41" y1="558.25" x2="552.61" y2="558.25" stroke="#b8b8b8" stroke-width="0.9"/>
<line x1="549.41" y1="564.34" x2="552.61" y2="564.34" stroke="#b8b8b8" stroke-width="0.9"/>
<polygon points="551.01,559.32 552.9,562.74 549.12,562.74" fill="#a4a4a4" stroke="none" stroke-width="0"/>
<line x1="557.3" y1="559.27" x2="557.3" y2="563.33" stroke="#b8b8b8" stroke-width="0.9"/>
<line x1="555.7" y1="559.27" x2="558.9" y2="559.27" stroke="#b8b8b8" stroke-width="0.9"/>
<line x1="555.7" y1="563.33" x2="558.9" y2="563.33" stroke="#b8b8b8" stroke-width="0.9"/>
<polygon points="557.3,559.32 559.19,562.74 555.41,562.74" fill="#a4a4a4" stroke="none" stroke-width="0"/>
<line x1="563.59" y1="559.27" x2="563.59" y2="563.33" stroke="#b8b8b8" stroke-width="0.9"/>
<line x1="561.99" y1="559.27" x2="565.19" y2="559.27" stroke="#b8b8b8" stroke-width="0.9"/>
<line x1="561.99" y1="563.33" x2="565.19" y2="563.33" stroke="#b8b8b8" stroke-width="0.9"/>
<polygon points="563.59,559.32 565.48,562.74 561.7,562.74" fill="#a4a4a4" stroke="none" stroke-width="0"/>
<line x1="569.88" y1="559.27" x2="569.88" y2="563.33" stroke="#b8b8b8" stroke-width="0.9"/>
<line x1="568.28" y1="559.27" x2="571.48" y2="559.27" stroke="#b8b8b8" stroke-width="0.9"/>
<line x1="568.28" y1="563.33" x2="571.48" y2="563.33" stroke="#b8b8b8" stroke-width="0.9"/>
<polygon points="569.88,559.32 571.77,562.74 567.99,562.74" fill="#a4a4a4" stroke="none" stroke-width="0"/>
<line x1="576.17" y1="559.27" x2="576.17" y2="563.33" stroke="#b8b8b8" stroke-width="0.9"/>
<line x1="574.57" y1="559.27" x2="577.77" y2="559.27" stroke="#b8b8b8" stroke-width="0.9"/>
<line x1="574.57" y1="563.33" x2="577.77" y2="563.33" stroke="#b8b8b8" stroke-width="0.9"/>
<polygon points="576.17,559.32 578.06,562.74 574.28,562.74" fill="#a4a4a4" stroke="none" stroke-width="0"/>
<line x1="582.46" y1="558.25" x2="582.46" y2="564.34" stroke="#b8b8b8" stroke-width="0.9"/>
<line x1="580.86" y1="558.25" x2="584.06" y2="558.25" stroke="#b8b8b8" stroke-width="0.9"/>
<line x1="580.86" y1="564.34" x2="584.06" y2="564.34" stroke="#b8b8b8" stroke-width="0.9"/>
<polygon points="582.46,559.32 584.35,562.74 580.57,562.74" fill="#a4a4a4" stroke="none" stroke-width="0"/>
<line x1="588.75" y1="559.27" x2="588.75" y2="563.33" stroke="#b8b8b8" stroke-width="0.9"/>
<line x1="587.15" y1="559.27" x2="590.35" y2="559.27" stroke="#b8b8b8" stroke-width="0.9"/>
<line x1="587.15" y1="563.33" x2="590.35" y2="563.33" stroke="#b8b8b8" stroke-width="0.9"/>
<polygon points="588.75,559.32 590.64,562.74 586.86,562.74" fill="#a4a4a4" stroke="none" stroke-width="0"/>
<line x1="595.04" y1="559.27" x2="595.04" y2="563.33" stroke="#b8b8b8" stroke-width="0.9"/>
<line x1="593.44" y1="559.27" x2="596.64" y2="559.27" stroke="#b8b8b8" stroke-width="0.9"/>
<line x1="593.44" y1="563.33" x2="596.64" y2="563.33" stroke="#b8b8b8" stroke-width="0.9"/>
<polygon points="595.04,559.32 596.93,562.74 593.15,562.74" fill="#a4a4a4" stroke="none" stroke-width="0"/>
<line x1="601.33" y1="559.27" x2="601.33" y2="563.33" stroke="#b8b8b8" stroke-width="0.9"/>
<line x1="599.73" y1="559.27" x2="602.93" y2="559.27" stroke="#b8b8b8" stroke-width="0.9"/>
<line x1="599.73" y1="563.33" x2="602.93" y2="563.33" stroke="#b8b8b8" stroke-width="0.9"/>
<polygon points="601.33,559.32 603.22,562.74 599.44,562.74" fill="#a4a4a4" stroke="none" stroke-width="0"/>
<line x1="607.62" y1="559.27" x2="607.62" y2="563.33" stroke="#b8b8b8" stroke-width="0.9"/>
<line x1="606.02" y1="559.27" x2="609.22" y2="559.27" stroke="#b8b8b8" stroke-width="0.9"/>
<line x1="606.02" y1="563.33" x2="609.22" y2="563.33" stroke="#b8b8b8" stroke-width="0.9"/>
<polygon points="607.62,559.32 609.51,562.74 605.73,562.74" fill="#a4a4a4" stroke="none" stroke-width="0"/>
<line x1="613.91" y1="559.27" x2="613.91" y2="563.33" stroke="#b8b8b8" stroke-width="0.9"/>
<line x1="612.31" y1="559.27" x2="615.51" y2="559.27" stroke="#b8b8b8" stroke-width="0.9"/>
<line x1="612.31" y1="563.33" x2="615.51" y2="563.33" stroke="#b8b8b8" stroke-width="0.9"/>
<polygon points="613.91,559.32 615.8,562.74 612.02,562.74" fill="#a4a4a4" stroke="none" stroke-width="0"/>
<line x1="620.2" y1="558.25" x2="620.2" y2="564.34" stroke="#b8b8b8" stroke-width="0.9"/>
<line x1="618.6" y1="558.25" x2="621.8" y2="558.25" stroke="#b8b8b8" stroke-width="0.9"/>
<line x1="618.6" y1="564.34" x2="621.8" y2="564.34" stroke="#b8b8b8" stroke-width="0.9"/>
<polygon points="620.2,559.32 622.09,562.74 618.31,562.74" fill="#a4a4a4" stroke="none" stroke-width="0"/>
<line x1="626.49" y1="557.24" x2="626.49" y2="565.36" stroke="#b8b8b8" stroke-width="0.9"/>
<line x1="624.89" y1="557.24" x2="628.09" y2="557.24" stroke="#b8b8b8" stroke-width="0.9"/>
<line x1="624.89" y1="565.36" x2="628.09" y2="565.36" stroke="#b8b8b8" stroke-width="0.9"/>
<polygon points="626.49,559.32 628.38,562.74 624.6,562.74" fill="#a4a4a4" stroke="none" stroke-width="0"/>
<line x1="632.78" y1="558.25" x2="632.78" y2="564.34" stroke="#b8b8b8" stroke-width="0.9"/>
<line x1="631.18" y1="558.25" x2="634.38" y2="558.25" stroke="#b8b8b8" stroke-width="0.9"/>
<line x1="631.18" y1="564.34" x2="634.38" y2="564.34" stroke="#b8b8b8" stroke-width="0.9"/>
<polygon points="632.78,559.32 634.67,562.74 630.89,562.74" fill="#a4a4a4" stroke="none" stroke-width="0"/>
<line x1="639.07" y1="557.24" x2="639.07" y2="565.36" stroke="#b8b8b8" stroke-width="0.9"/>
<line x1="637.47" y1="557.24" x2="640.67" y2="557.24" stroke="#b8b8b8" stroke-width="0.9"/>
<line x1="637.47" y1="565.36" x2="640.67" y2="565.36" stroke="#b8b8b8" stroke-width="0.9"/>
<polygon points="639.07,559.32 640.96,562.74 637.18,562.74" fill="#a4a4a4" stroke="none" stroke-width="0"/>
<line x1="645.36" y1="554.19" x2="645.36" y2="568.4" stroke="#b8b8b8" stroke-width="0.9"/>
<line x1="643.76" y1="554.19" x2="646.96" y2="554.19" stroke="#b8b8b8" stroke-width="0.9"/>
<line x1="643.76" y1="568.4" x2="646.96" y2="568.4" stroke="#b8b8b8" stroke-width="0.9"/>
<polygon points="645.36,559.32 647.25,562.74 643.47,562.74" fill="#a4a4a4" stroke="none" stroke-width="0"/>
<line x1="651.65" y1="558.25" x2="651.65" y2="564.34" stroke="#b8b8b8" stroke-width="0.9"/>
<line x1="650.05" y1="558.25" x2="653.25" y2="558.25" stroke="#b8b8b8" stroke-width="0.9"/>
<line x1="650.05" y1="564.34" x2="653.25" y2="564.34" stroke="#b8b8b8" stroke-width="0.9"/>
<polygon points="651.65,559.32 653.54,562.74 649.76,562.74" fill="#a4a4a4" stroke="none" stroke-width="0"/>
<line x1="657.94" y1="558.25" x2="657.94" y2="564.34" stroke="#b8b8b8" stroke-width="0.9"/>
<line x1="656.34" y1="558.25" x2="659.54" y2="558.25" stroke="#b8b8b8" stroke-width="0.9"/>
<line x1="656.34" y1="564.34" x2="659.54" y2="564.34" stroke="#b8b8b8" stroke-width="0.9"/>
<polygon points="657.94,559.32 659.83,562.74 656.05,562.74" fill="#a4a4a4" stroke="none" stroke-width="0"/>
<line x1="664.23" y1="555.21" x2="664.23" y2="567.39" stroke="#b8b8b8" stroke-width="0.9"/>
<line x1="662.63" y1="555.21" x2="665.83" y2="555.21" stroke="#b8b8b8" stroke-width="0.9"/>
<line x1="662.63" y1="567.39" x2="665.83" y2="567.39" stroke="#b8b8b8" stroke-width="0.9"/>
<polygon points="664.23,559.32 666.12,562.74 662.34,562.74" fill="#a4a4a4" stroke="none" stroke-width="0"/>
<line x1="670.52" y1="557.24" x2="670.52" y2="565.36" stroke="#b8b8b8" stroke-width="0.9"/>
<line x1="668.92" y1="557.24" x2="672.12" y2="557.24" stroke="#b8b8b8" stroke-width="0.9"/>
<line x1="668.92" y1="565.36" x2="672.12" y2="565.36" stroke="#b8b8b8" stroke-width="0.9"/>
<polygon points="670.52,559.32 672.41,562.74 668.63,562.74" fill="#a4a4a4" stroke="none" stroke-width="0"/>
<line x1="676.81" y1="556.22" x2="676.81" y2="566.38" stroke="#b8b8b8" stroke-width="0.9"/>
<line x1="675.21" y1="556.22" x2="678.41" y2="556.22" stroke="#b8b8b8" stroke-width="0.9"/>
<line x1="675.21" y1="566.38" x2="678.41" y2="566.38" stroke="#b8b8b8" stroke-width="0.9"/>
<polygon points="676.81,559.32 678.7,562.74 674.92,562.74" fill="#a4a4a4" stroke="none" stroke-width="0"/>
<line x1="368.6" y1="571.45" x2="368.6" y2="581.6" stroke="#ef6a35" stroke-width="1"/>
<line x1="367" y1="571.45" x2="370.2" y2="571.45" stroke="#ef6a35" stroke-width="1"/>
<line x1="367" y1="581.6" x2="370.2" y2="581.6" stroke="#ef6a35" stroke-width="1"/>
<polygon points="368.6,578.83 370.81,574.85 366.4,574.85" fill="#ef6a35" stroke="none" stroke-width="0"/>
<line x1="374.89" y1="568.61" x2="374.89" y2="572.67" stroke="#ef6a35" stroke-width="1"/>
<line x1="373.29" y1="568.61" x2="376.49" y2="568.61" stroke="#ef6a35" stroke-width="1"/>
<line x1="373.29" y1="572.67" x2="376.49" y2="572.67" stroke="#ef6a35" stroke-width="1"/>
<polygon points="374.89,572.95 377.1,568.96 372.69,568.96" fill="#ef6a35" stroke="none" stroke-width="0"/>
<line x1="381.18" y1="567.8" x2="381.18" y2="572.67" stroke="#ef6a35" stroke-width="1"/>
<line x1="379.58" y1="567.8" x2="382.78" y2="567.8" stroke="#ef6a35" stroke-width="1"/>
<line x1="379.58" y1="572.67" x2="382.78" y2="572.67" stroke="#ef6a35" stroke-width="1"/>
<polygon points="381.18,572.54 383.38,568.55 378.98,568.55" fill="#ef6a35" stroke="none" stroke-width="0"/>
<line x1="387.47" y1="566.38" x2="387.47" y2="572.46" stroke="#ef6a35" stroke-width="1"/>
<line x1="385.87" y1="566.38" x2="389.07" y2="566.38" stroke="#ef6a35" stroke-width="1"/>
<line x1="385.87" y1="572.46" x2="389.07" y2="572.46" stroke="#ef6a35" stroke-width="1"/>
<polygon points="387.47,571.73 389.68,567.74 385.27,567.74" fill="#ef6a35" stroke="none" stroke-width="0"/>
<line x1="393.76" y1="565.36" x2="393.76" y2="571.45" stroke="#ef6a35" stroke-width="1"/>
<line x1="392.16" y1="565.36" x2="395.36" y2="565.36" stroke="#ef6a35" stroke-width="1"/>
<line x1="392.16" y1="571.45" x2="395.36" y2="571.45" stroke="#ef6a35" stroke-width="1"/>
<polygon points="393.76,570.71 395.97,566.73 391.56,566.73" fill="#ef6a35" stroke="none" stroke-width="0"/>
<line x1="400.05" y1="563.94" x2="400.05" y2="570.03" stroke="#ef6a35" stroke-width="1"/>
<line x1="398.45" y1="563.94" x2="401.65" y2="563.94" stroke="#ef6a35" stroke-width="1"/>
<line x1="398.45" y1="570.03" x2="401.65" y2="570.03" stroke="#ef6a35" stroke-width="1"/>
<polygon points="400.05,569.29 402.25,565.3 397.85,565.3" fill="#ef6a35" stroke="none" stroke-width="0"/>
<line x1="406.34" y1="562.52" x2="406.34" y2="570.64" stroke="#ef6a35" stroke-width="1"/>
<line x1="404.74" y1="562.52" x2="407.94" y2="562.52" stroke="#ef6a35" stroke-width="1"/>
<line x1="404.74" y1="570.64" x2="407.94" y2="570.64" stroke="#ef6a35" stroke-width="1"/>
<polygon points="406.34,568.89 408.55,564.9 404.14,564.9" fill="#ef6a35" stroke="none" stroke-width="0"/>
<line x1="412.63" y1="564.14" x2="412.63" y2="569.01" stroke="#ef6a35" stroke-width="1"/>
<line x1="411.03" y1="564.14" x2="414.23" y2="564.14" stroke="#ef6a35" stroke-width="1"/>
<line x1="411.03" y1="569.01" x2="414.23" y2="569.01" stroke="#ef6a35" stroke-width="1"/>
<polygon points="412.63,568.89 414.83,564.9 410.43,564.9" fill="#ef6a35" stroke="none" stroke-width="0"/>
<line x1="418.92" y1="560.28" x2="418.92" y2="570.43" stroke="#ef6a35" stroke-width="1"/>
<line x1="417.32" y1="560.28" x2="420.52" y2="560.28" stroke="#ef6a35" stroke-width="1"/>
<line x1="417.32" y1="570.43" x2="420.52" y2="570.43" stroke="#ef6a35" stroke-width="1"/>
<polygon points="418.92,567.67 421.12,563.68 416.72,563.68" fill="#ef6a35" stroke="none" stroke-width="0"/>
<line x1="425.21" y1="562.52" x2="425.21" y2="567.39" stroke="#ef6a35" stroke-width="1"/>
<line x1="423.61" y1="562.52" x2="426.81" y2="562.52" stroke="#ef6a35" stroke-width="1"/>
<line x1="423.61" y1="567.39" x2="426.81" y2="567.39" stroke="#ef6a35" stroke-width="1"/>
<polygon points="425.21,567.26 427.42,563.27 423.01,563.27" fill="#ef6a35" stroke="none" stroke-width="0"/>
<line x1="431.5" y1="561.71" x2="431.5" y2="567.8" stroke="#ef6a35" stroke-width="1"/>
<line x1="429.9" y1="561.71" x2="433.1" y2="561.71" stroke="#ef6a35" stroke-width="1"/>
<line x1="429.9" y1="567.8" x2="433.1" y2="567.8" stroke="#ef6a35" stroke-width="1"/>
<polygon points="431.5,567.06 433.7,563.07 429.3,563.07" fill="#ef6a35" stroke="none" stroke-width="0"/>
<line x1="437.79" y1="562.52" x2="437.79" y2="566.58" stroke="#ef6a35" stroke-width="1"/>
<line x1="436.19" y1="562.52" x2="439.39" y2="562.52" stroke="#ef6a35" stroke-width="1"/>
<line x1="436.19" y1="566.58" x2="439.39" y2="566.58" stroke="#ef6a35" stroke-width="1"/>
<polygon points="437.79,566.86 440,562.87 435.59,562.87" fill="#ef6a35" stroke="none" stroke-width="0"/>
<line x1="444.08" y1="561.91" x2="444.08" y2="566.78" stroke="#ef6a35" stroke-width="1"/>
<line x1="442.48" y1="561.91" x2="445.68" y2="561.91" stroke="#ef6a35" stroke-width="1"/>
<line x1="442.48" y1="566.78" x2="445.68" y2="566.78" stroke="#ef6a35" stroke-width="1"/>
<polygon points="444.08,566.65 446.29,562.66 441.88,562.66" fill="#ef6a35" stroke="none" stroke-width="0"/>
<line x1="450.37" y1="561.5" x2="450.37" y2="566.38" stroke="#ef6a35" stroke-width="1"/>
<line x1="448.77" y1="561.5" x2="451.97" y2="561.5" stroke="#ef6a35" stroke-width="1"/>
<line x1="448.77" y1="566.38" x2="451.97" y2="566.38" stroke="#ef6a35" stroke-width="1"/>
<polygon points="450.37,566.25 452.57,562.26 448.17,562.26" fill="#ef6a35" stroke="none" stroke-width="0"/>
<line x1="456.66" y1="561.71" x2="456.66" y2="565.77" stroke="#ef6a35" stroke-width="1"/>
<line x1="455.06" y1="561.71" x2="458.26" y2="561.71" stroke="#ef6a35" stroke-width="1"/>
<line x1="455.06" y1="565.77" x2="458.26" y2="565.77" stroke="#ef6a35" stroke-width="1"/>
<polygon points="456.66,566.05 458.87,562.06 454.46,562.06" fill="#ef6a35" stroke="none" stroke-width="0"/>
<line x1="462.95" y1="560.89" x2="462.95" y2="565.77" stroke="#ef6a35" stroke-width="1"/>
<line x1="461.35" y1="560.89" x2="464.55" y2="560.89" stroke="#ef6a35" stroke-width="1"/>
<line x1="461.35" y1="565.77" x2="464.55" y2="565.77" stroke="#ef6a35" stroke-width="1"/>
<polygon points="462.95,565.64 465.16,561.65 460.75,561.65" fill="#ef6a35" stroke="none" stroke-width="0"/>
<line x1="469.24" y1="561.1" x2="469.24" y2="565.16" stroke="#ef6a35" stroke-width="1"/>
<line x1="467.64" y1="561.1" x2="470.84" y2="561.1" stroke="#ef6a35" stroke-width="1"/>
<line x1="467.64" y1="565.16" x2="470.84" y2="565.16" stroke="#ef6a35" stroke-width="1"/>
<polygon points="469.24,565.44 471.44,561.45 467.04,561.45" fill="#ef6a35" stroke="none" stroke-width="0"/>
<line x1="475.53" y1="560.89" x2="475.53" y2="564.95" stroke="#ef6a35" stroke-width="1"/>
<line x1="473.93" y1="560.89" x2="477.13" y2="560.89" stroke="#ef6a35" stroke-width="1"/>
<line x1="473.93" y1="564.95" x2="477.13" y2="564.95" stroke="#ef6a35" stroke-width="1"/>
<polygon points="475.53,565.23 477.74,561.24 473.33,561.24" fill="#ef6a35" stroke="none" stroke-width="0"/>
<line x1="481.82" y1="560.69" x2="481.82" y2="564.75" stroke="#ef6a35" stroke-width="1"/>
<line x1="480.22" y1="560.69" x2="483.42" y2="560.69" stroke="#ef6a35" stroke-width="1"/>
<line x1="480.22" y1="564.75" x2="483.42" y2="564.75" stroke="#ef6a35" stroke-width="1"/>
<polygon points="481.82,565.03 484.03,561.04 479.62,561.04" fill="#ef6a35" stroke="none" stroke-width="0"/>
<line x1="488.11" y1="560.49" x2="488.11" y2="564.55" stroke="#ef6a35" stroke-width="1"/>
<line x1="486.51" y1="560.49" x2="489.71" y2="560.49" stroke="#ef6a35" stroke-width="1"/>
<line x1="486.51" y1="564.55" x2="489.71" y2="564.55" stroke="#ef6a35" stroke-width="1"/>
<polygon points="488.11,564.83 490.31,560.84 485.91,560.84" fill="#ef6a35" stroke="none" stroke-width="0"/>
<line x1="494.4" y1="560.08" x2="494.4" y2="564.14" stroke="#ef6a35" stroke-width="1"/>
<line x1="492.8" y1="560.08" x2="496" y2="560.08" stroke="#ef6a35" stroke-width="1"/>
<line x1="492.8" y1="564.14" x2="496" y2="564.14" stroke="#ef6a35" stroke-width="1"/>
<polygon points="494.4,564.42 496.61,560.43 492.2,560.43" fill="#ef6a35" stroke="none" stroke-width="0"/>
<line x1="500.69" y1="559.88" x2="500.69" y2="563.94" stroke="#ef6a35" stroke-width="1"/>
<line x1="499.09" y1="559.88" x2="502.29" y2="559.88" stroke="#ef6a35" stroke-width="1"/>
<line x1="499.09" y1="563.94" x2="502.29" y2="563.94" stroke="#ef6a35" stroke-width="1"/>
<polygon points="500.69,564.22 502.9,560.23 498.49,560.23" fill="#ef6a35" stroke="none" stroke-width="0"/>
<line x1="506.98" y1="559.68" x2="506.98" y2="563.74" stroke="#ef6a35" stroke-width="1"/>
<line x1="505.38" y1="559.68" x2="508.58" y2="559.68" stroke="#ef6a35" stroke-width="1"/>
<line x1="505.38" y1="563.74" x2="508.58" y2="563.74" stroke="#ef6a35" stroke-width="1"/>
<polygon points="506.98,564.02 509.19,560.03 504.78,560.03" fill="#ef6a35" stroke="none" stroke-width="0"/>
<line x1="513.27" y1="559.47" x2="513.27" y2="563.53" stroke="#ef6a35" stroke-width="1"/>
<line x1="511.67" y1="559.47" x2="514.87" y2="559.47" stroke="#ef6a35" stroke-width="1"/>
<line x1="511.67" y1="563.53" x2="514.87" y2="563.53" stroke="#ef6a35" stroke-width="1"/>
<polygon points="513.27,563.81 515.48,559.82 511.06,559.82" fill="#ef6a35" stroke="none" stroke-width="0"/>
<line x1="519.56" y1="559.68" x2="519.56" y2="562.92" stroke="#ef6a35" stroke-width="1"/>
<line x1="517.96" y1="559.68" x2="521.16" y2="559.68" stroke="#ef6a35" stroke-width="1"/>
<line x1="517.96" y1="562.92" x2="521.16" y2="562.92" stroke="#ef6a35" stroke-width="1"/>
<polygon points="519.56,563.61 521.77,559.62 517.36,559.62" fill="#ef6a35" stroke="none" stroke-width="0"/>
<line x1="525.85" y1="556.83" x2="525.85" y2="564.95" stroke="#ef6a35" stroke-width="1"/>
<line x1="524.25" y1="556.83" x2="527.45" y2="556.83" stroke="#ef6a35" stroke-width="1"/>
<line x1="524.25" y1="564.95" x2="527.45" y2="564.95" stroke="#ef6a35" stroke-width="1"/>
<polygon points="525.85,563.2 528.06,559.21 523.64,559.21" fill="#ef6a35" stroke="none" stroke-width="0"/>
<line x1="532.14" y1="558.46" x2="532.14" y2="562.52" stroke="#ef6a35" stroke-width="1"/>
<line x1="530.54" y1="558.46" x2="533.74" y2="558.46" stroke="#ef6a35" stroke-width="1"/>
<line x1="530.54" y1="562.52" x2="533.74" y2="562.52" stroke="#ef6a35" stroke-width="1"/>
<polygon points="532.14,562.8 534.35,558.81 529.93,558.81" fill="#ef6a35" stroke="none" stroke-width="0"/>
<line x1="538.43" y1="558.05" x2="538.43" y2="562.11" stroke="#ef6a35" stroke-width="1"/>
<line x1="536.83" y1="558.05" x2="540.03" y2="558.05" stroke="#ef6a35" stroke-width="1"/>
<line x1="536.83" y1="562.11" x2="540.03" y2="562.11" stroke="#ef6a35" stroke-width="1"/>
<polygon points="538.43,562.39 540.64,558.4 536.23,558.4" fill="#ef6a35" stroke="none" stroke-width="0"/>
<line x1="544.72" y1="557.24" x2="544.72" y2="562.11" stroke="#ef6a35" stroke-width="1"/>
<line x1="543.12" y1="557.24" x2="546.32" y2="557.24" stroke="#ef6a35" stroke-width="1"/>
<line x1="543.12" y1="562.11" x2="546.32" y2="562.11" stroke="#ef6a35" stroke-width="1"/>
<polygon points="544.72,561.99 546.93,558 542.51,558" fill="#ef6a35" stroke="none" stroke-width="0"/>
<line x1="551.01" y1="556.23" x2="551.01" y2="562.31" stroke="#ef6a35" stroke-width="1"/>
<line x1="549.41" y1="556.23" x2="552.61" y2="556.23" stroke="#ef6a35" stroke-width="1"/>
<line x1="549.41" y1="562.31" x2="552.61" y2="562.31" stroke="#ef6a35" stroke-width="1"/>
<polygon points="551.01,561.58 553.22,557.59 548.8,557.59" fill="#ef6a35" stroke="none" stroke-width="0"/>
<line x1="557.3" y1="556.43" x2="557.3" y2="561.3" stroke="#ef6a35" stroke-width="1"/>
<line x1="555.7" y1="556.43" x2="558.9" y2="556.43" stroke="#ef6a35" stroke-width="1"/>
<line x1="555.7" y1="561.3" x2="558.9" y2="561.3" stroke="#ef6a35" stroke-width="1"/>
<polygon points="557.3,561.17 559.5,557.18 555.09,557.18" fill="#ef6a35" stroke="none" stroke-width="0"/>
<line x1="563.59" y1="556.22" x2="563.59" y2="561.1" stroke="#ef6a35" stroke-width="1"/>
<line x1="561.99" y1="556.22" x2="565.19" y2="556.22" stroke="#ef6a35" stroke-width="1"/>
<line x1="561.99" y1="561.1" x2="565.19" y2="561.1" stroke="#ef6a35" stroke-width="1"/>
<polygon points="563.59,560.97 565.8,556.98 561.38,556.98" fill="#ef6a35" stroke="none" stroke-width="0"/>
<line x1="569.88" y1="554.2" x2="569.88" y2="562.31" stroke="#ef6a35" stroke-width="1"/>
<line x1="568.28" y1="554.2" x2="571.48" y2="554.2" stroke="#ef6a35" stroke-width="1"/>
<line x1="568.28" y1="562.31" x2="571.48" y2="562.31" stroke="#ef6a35" stroke-width="1"/>
<polygon points="569.88,560.56 572.09,556.58 567.67,556.58" fill="#ef6a35" stroke="none" stroke-width="0"/>
<line x1="576.17" y1="555.01" x2="576.17" y2="561.1" stroke="#ef6a35" stroke-width="1"/>
<line x1="574.57" y1="555.01" x2="577.77" y2="555.01" stroke="#ef6a35" stroke-width="1"/>
<line x1="574.57" y1="561.1" x2="577.77" y2="561.1" stroke="#ef6a35" stroke-width="1"/>
<polygon points="576.17,560.36 578.38,556.37 573.97,556.37" fill="#ef6a35" stroke="none" stroke-width="0"/>
<line x1="582.46" y1="554.8" x2="582.46" y2="560.89" stroke="#ef6a35" stroke-width="1"/>
<line x1="580.86" y1="554.8" x2="584.06" y2="554.8" stroke="#ef6a35" stroke-width="1"/>
<line x1="580.86" y1="560.89" x2="584.06" y2="560.89" stroke="#ef6a35" stroke-width="1"/>
<polygon points="582.46,560.16 584.67,556.17 580.25,556.17" fill="#ef6a35" stroke="none" stroke-width="0"/>
<line x1="588.75" y1="554.6" x2="588.75" y2="560.69" stroke="#ef6a35" stroke-width="1"/>
<line x1="587.15" y1="554.6" x2="590.35" y2="554.6" stroke="#ef6a35" stroke-width="1"/>
<line x1="587.15" y1="560.69" x2="590.35" y2="560.69" stroke="#ef6a35" stroke-width="1"/>
<polygon points="588.75,559.96 590.96,555.97 586.54,555.97" fill="#ef6a35" stroke="none" stroke-width="0"/>
<line x1="595.04" y1="553.18" x2="595.04" y2="561.3" stroke="#ef6a35" stroke-width="1"/>
<line x1="593.44" y1="553.18" x2="596.64" y2="553.18" stroke="#ef6a35" stroke-width="1"/>
<line x1="593.44" y1="561.3" x2="596.64" y2="561.3" stroke="#ef6a35" stroke-width="1"/>
<polygon points="595.04,559.55 597.25,555.56 592.83,555.56" fill="#ef6a35" stroke="none" stroke-width="0"/>
<line x1="601.33" y1="553.79" x2="601.33" y2="559.88" stroke="#ef6a35" stroke-width="1"/>
<line x1="599.73" y1="553.79" x2="602.93" y2="553.79" stroke="#ef6a35" stroke-width="1"/>
<line x1="599.73" y1="559.88" x2="602.93" y2="559.88" stroke="#ef6a35" stroke-width="1"/>
<polygon points="601.33,559.14 603.54,555.15 599.12,555.15" fill="#ef6a35" stroke="none" stroke-width="0"/>
<line x1="607.62" y1="553.59" x2="607.62" y2="559.68" stroke="#ef6a35" stroke-width="1"/>
<line x1="606.02" y1="553.59" x2="609.22" y2="553.59" stroke="#ef6a35" stroke-width="1"/>
<line x1="606.02" y1="559.68" x2="609.22" y2="559.68" stroke="#ef6a35" stroke-width="1"/>
<polygon points="607.62,558.94 609.83,554.95 605.41,554.95" fill="#ef6a35" stroke="none" stroke-width="0"/>
<line x1="613.91" y1="553.99" x2="613.91" y2="558.86" stroke="#ef6a35" stroke-width="1"/>
<line x1="612.31" y1="553.99" x2="615.51" y2="553.99" stroke="#ef6a35" stroke-width="1"/>
<line x1="612.31" y1="558.86" x2="615.51" y2="558.86" stroke="#ef6a35" stroke-width="1"/>
<polygon points="613.91,558.74 616.12,554.75 611.71,554.75" fill="#ef6a35" stroke="none" stroke-width="0"/>
<line x1="620.2" y1="550.74" x2="620.2" y2="560.89" stroke="#ef6a35" stroke-width="1"/>
<line x1="618.6" y1="550.74" x2="621.8" y2="550.74" stroke="#ef6a35" stroke-width="1"/>
<line x1="618.6" y1="560.89" x2="621.8" y2="560.89" stroke="#ef6a35" stroke-width="1"/>
<polygon points="620.2,558.13 622.41,554.14 618,554.14" fill="#ef6a35" stroke="none" stroke-width="0"/>
<line x1="626.49" y1="552.77" x2="626.49" y2="557.65" stroke="#ef6a35" stroke-width="1"/>
<line x1="624.89" y1="552.77" x2="628.09" y2="552.77" stroke="#ef6a35" stroke-width="1"/>
<line x1="624.89" y1="557.65" x2="628.09" y2="557.65" stroke="#ef6a35" stroke-width="1"/>
<polygon points="626.49,557.52 628.7,553.53 624.28,553.53" fill="#ef6a35" stroke="none" stroke-width="0"/>
<line x1="632.78" y1="551.96" x2="632.78" y2="558.05" stroke="#ef6a35" stroke-width="1"/>
<line x1="631.18" y1="551.96" x2="634.38" y2="551.96" stroke="#ef6a35" stroke-width="1"/>
<line x1="631.18" y1="558.05" x2="634.38" y2="558.05" stroke="#ef6a35" stroke-width="1"/>
<polygon points="632.78,557.32 634.99,553.33 630.57,553.33" fill="#ef6a35" stroke="none" stroke-width="0"/>
<line x1="639.07" y1="551.35" x2="639.07" y2="557.44" stroke="#ef6a35" stroke-width="1"/>
<line x1="637.47" y1="551.35" x2="640.67" y2="551.35" stroke="#ef6a35" stroke-width="1"/>
<line x1="637.47" y1="557.44" x2="640.67" y2="557.44" stroke="#ef6a35" stroke-width="1"/>
<polygon points="639.07,556.71 641.28,552.72 636.87,552.72" fill="#ef6a35" stroke="none" stroke-width="0"/>
<line x1="645.36" y1="548.71" x2="645.36" y2="556.83" stroke="#ef6a35" stroke-width="1"/>
<line x1="643.76" y1="548.71" x2="646.96" y2="548.71" stroke="#ef6a35" stroke-width="1"/>
<line x1="643.76" y1="556.83" x2="646.96" y2="556.83" stroke="#ef6a35" stroke-width="1"/>
<polygon points="645.36,555.08 647.57,551.09 643.15,551.09" fill="#ef6a35" stroke="none" stroke-width="0"/>
<line x1="651.65" y1="548.51" x2="651.65" y2="554.6" stroke="#ef6a35" stroke-width="1"/>
<line x1="650.05" y1="548.51" x2="653.25" y2="548.51" stroke="#ef6a35" stroke-width="1"/>
<line x1="650.05" y1="554.6" x2="653.25" y2="554.6" stroke="#ef6a35" stroke-width="1"/>
<polygon points="651.65,553.87 653.86,549.88 649.45,549.88" fill="#ef6a35" stroke="none" stroke-width="0"/>
<line x1="657.94" y1="545.26" x2="657.94" y2="553.38" stroke="#ef6a35" stroke-width="1"/>
<line x1="656.34" y1="545.26" x2="659.54" y2="545.26" stroke="#ef6a35" stroke-width="1"/>
<line x1="656.34" y1="553.38" x2="659.54" y2="553.38" stroke="#ef6a35" stroke-width="1"/>
<polygon points="657.94,551.63 660.15,547.64 655.74,547.64" fill="#ef6a35" stroke="none" stroke-width="0"/>
<line x1="664.23" y1="536.53" x2="664.23" y2="556.83" stroke="#ef6a35" stroke-width="1"/>
<line x1="662.63" y1="536.53" x2="665.83" y2="536.53" stroke="#ef6a35" stroke-width="1"/>
<line x1="662.63" y1="556.83" x2="665.83" y2="556.83" stroke="#ef6a35" stroke-width="1"/>
<polygon points="664.23,548.99 666.44,545 662.02,545" fill="#ef6a35" stroke="none" stroke-width="0"/>
<line x1="670.52" y1="539.98" x2="670.52" y2="552.16" stroke="#ef6a35" stroke-width="1"/>
<line x1="668.92" y1="539.98" x2="672.12" y2="539.98" stroke="#ef6a35" stroke-width="1"/>
<line x1="668.92" y1="552.16" x2="672.12" y2="552.16" stroke="#ef6a35" stroke-width="1"/>
<polygon points="670.52,548.38 672.73,544.39 668.31,544.39" fill="#ef6a35" stroke="none" stroke-width="0"/>
<line x1="676.81" y1="534.91" x2="676.81" y2="547.09" stroke="#ef6a35" stroke-width="1"/>
<line x1="675.21" y1="534.91" x2="678.41" y2="534.91" stroke="#ef6a35" stroke-width="1"/>
<line x1="675.21" y1="547.09" x2="678.41" y2="547.09" stroke="#ef6a35" stroke-width="1"/>
<polygon points="676.81,543.31 679.01,539.32 674.6,539.32" fill="#ef6a35" stroke="none" stroke-width="0"/>
<text x="374.89" y="584.76" font-size="10.51" text-anchor="middle" fill="#1a1a1a" stroke="#1a1a1a" stroke-width="0.1">*</text>
<text x="381.18" y="584.76" font-size="10.51" text-anchor="middle" fill="#1a1a1a" stroke="#1a1a1a" stroke-width="0.1">*</text>
<text x="418.92" y="578.76" font-size="10.51" text-anchor="middle" fill="#1a1a1a" stroke="#1a1a1a" stroke-width="0.1">*</text>
<text x="607.62" y="556.76" font-size="10.51" text-anchor="middle" fill="#1a1a1a" stroke="#1a1a1a" stroke-width="0.1">*</text>
<text x="645.36" y="551.76" font-size="10.51" text-anchor="middle" fill="#1a1a1a" stroke="#1a1a1a" stroke-width="0.1">*</text>
<text x="664.23" y="546.26" font-size="10.51" text-anchor="middle" fill="#1a1a1a" stroke="#1a1a1a" stroke-width="0.1">**</text>
<text x="368.6" y="613" font-size="7.66" text-anchor="middle" fill="#a8a8a8" stroke="#a8a8a8" stroke-width="0.1">17</text>
<text x="375.69" y="600.2" font-size="7.66" text-anchor="middle" fill="#111" font-weight="bold">41</text>
<text x="381.18" y="613" font-size="7.66" text-anchor="middle" fill="#111" font-weight="bold">28</text>
<line x1="375.19" y1="603.8" x2="375.19" y2="614.5" stroke="#4a4a4a" stroke-width="0.9"/>
<text x="388.27" y="600.2" font-size="7.66" text-anchor="middle" fill="#a8a8a8" stroke="#a8a8a8" stroke-width="0.1">44</text>
<line x1="382.68" y1="591.6" x2="382.68" y2="602.3" stroke="#b4b4b4" stroke-width="0.9"/>
<text x="393.76" y="613" font-size="7.66" text-anchor="middle" fill="#a8a8a8" stroke="#a8a8a8" stroke-width="0.1">15</text>
<line x1="387.77" y1="603.8" x2="387.77" y2="614.5" stroke="#b4b4b4" stroke-width="0.9"/>
<text x="400.85" y="600.2" font-size="7.66" text-anchor="middle" fill="#a8a8a8" stroke="#a8a8a8" stroke-width="0.1">2</text>
<line x1="395.26" y1="591.6" x2="395.26" y2="602.3" stroke="#b4b4b4" stroke-width="0.9"/>
<text x="406.34" y="613" font-size="7.66" text-anchor="middle" fill="#a8a8a8" stroke="#a8a8a8" stroke-width="0.1">35</text>
<line x1="400.35" y1="603.8" x2="400.35" y2="614.5" stroke="#b4b4b4" stroke-width="0.9"/>
<text x="413.43" y="600.2" font-size="7.66" text-anchor="middle" fill="#a8a8a8" stroke="#a8a8a8" stroke-width="0.1">31</text>
<line x1="407.84" y1="591.6" x2="407.84" y2="602.3" stroke="#b4b4b4" stroke-width="0.9"/>
<text x="418.92" y="613" font-size="7.66" text-anchor="middle" fill="#111" font-weight="bold">27</text>
<line x1="412.93" y1="603.8" x2="412.93" y2="614.5" stroke="#4a4a4a" stroke-width="0.9"/>
<text x="426.01" y="600.2" font-size="7.66" text-anchor="middle" fill="#a8a8a8" stroke="#a8a8a8" stroke-width="0.1">40</text>
<line x1="420.42" y1="591.6" x2="420.42" y2="602.3" stroke="#b4b4b4" stroke-width="0.9"/>
<text x="431.5" y="613" font-size="7.66" text-anchor="middle" fill="#a8a8a8" stroke="#a8a8a8" stroke-width="0.1">34</text>
<line x1="425.51" y1="603.8" x2="425.51" y2="614.5" stroke="#b4b4b4" stroke-width="0.9"/>
<text x="438.59" y="600.2" font-size="7.66" text-anchor="middle" fill="#a8a8a8" stroke="#a8a8a8" stroke-width="0.1">46</text>
<line x1="433" y1="591.6" x2="433" y2="602.3" stroke="#b4b4b4" stroke-width="0.9"/>
<text x="444.08" y="613" font-size="7.66" text-anchor="middle" fill="#a8a8a8" stroke="#a8a8a8" stroke-width="0.1">25</text>
<line x1="438.09" y1="603.8" x2="438.09" y2="614.5" stroke="#b4b4b4" stroke-width="0.9"/>
<text x="451.17" y="600.2" font-size="7.66" text-anchor="middle" fill="#a8a8a8" stroke="#a8a8a8" stroke-width="0.1">36</text>
<line x1="445.58" y1="591.6" x2="445.58" y2="602.3" stroke="#b4b4b4" stroke-width="0.9"/>
<text x="456.66" y="613" font-size="7.66" text-anchor="middle" fill="#a8a8a8" stroke="#a8a8a8" stroke-width="0.1">43</text>
<line x1="450.67" y1="603.8" x2="450.67" y2="614.5" stroke="#b4b4b4" stroke-width="0.9"/>
<text x="463.75" y="600.2" font-size="7.66" text-anchor="middle" fill="#a8a8a8" stroke="#a8a8a8" stroke-width="0.1">10</text>
<line x1="458.16" y1="591.6" x2="458.16" y2="602.3" stroke="#b4b4b4" stroke-width="0.9"/>
<text x="469.24" y="613" font-size="7.66" text-anchor="middle" fill="#a8a8a8" stroke="#a8a8a8" stroke-width="0.1">12</text>
<line x1="463.25" y1="603.8" x2="463.25" y2="614.5" stroke="#b4b4b4" stroke-width="0.9"/>
<text x="476.33" y="600.2" font-size="7.66" text-anchor="middle" fill="#a8a8a8" stroke="#a8a8a8" stroke-width="0.1">38</text>
<line x1="470.74" y1="591.6" x2="470.74" y2="602.3" stroke="#b4b4b4" stroke-width="0.9"/>
<text x="481.82" y="613" font-size="7.66" text-anchor="middle" fill="#a8a8a8" stroke="#a8a8a8" stroke-width="0.1">9</text>
<line x1="475.83" y1="603.8" x2="475.83" y2="614.5" stroke="#b4b4b4" stroke-width="0.9"/>
<text x="488.91" y="600.2" font-size="7.66" text-anchor="middle" fill="#a8a8a8" stroke="#a8a8a8" stroke-width="0.1">11</text>
<line x1="483.32" y1="591.6" x2="483.32" y2="602.3" stroke="#b4b4b4" stroke-width="0.9"/>
<text x="494.4" y="613" font-size="7.66" text-anchor="middle" fill="#a8a8a8" stroke="#a8a8a8" stroke-width="0.1">33</text>
<line x1="488.41" y1="603.8" x2="488.41" y2="614.5" stroke="#b4b4b4" stroke-width="0.9"/>
<text x="501.49" y="600.2" font-size="7.66" text-anchor="middle" fill="#a8a8a8" stroke="#a8a8a8" stroke-width="0.1">5</text>
<line x1="495.9" y1="591.6" x2="495.9" y2="602.3" stroke="#b4b4b4" stroke-width="0.9"/>
<text x="506.98" y="613" font-size="7.66" text-anchor="middle" fill="#a8a8a8" stroke="#a8a8a8" stroke-width="0.1">20</text>
<line x1="500.99" y1="603.8" x2="500.99" y2="614.5" stroke="#b4b4b4" stroke-width="0.9"/>
<text x="514.07" y="600.2" font-size="7.66" text-anchor="middle" fill="#a8a8a8" stroke="#a8a8a8" stroke-width="0.1">37</text>
<line x1="508.48" y1="591.6" x2="508.48" y2="602.3" stroke="#b4b4b4" stroke-width="0.9"/>
<text x="519.56" y="613" font-size="7.66" text-anchor="middle" fill="#a8a8a8" stroke="#a8a8a8" stroke-width="0.1">1</text>
<line x1="513.57" y1="603.8" x2="513.57" y2="614.5" stroke="#b4b4b4" stroke-width="0.9"/>
<text x="526.65" y="600.2" font-size="7.66" text-anchor="middle" fill="#a8a8a8" stroke="#a8a8a8" stroke-width="0.1">22</text>
<line x1="521.06" y1="591.6" x2="521.06" y2="602.3" stroke="#b4b4b4" stroke-width="0.9"/>
<text x="532.14" y="613" font-size="7.66" text-anchor="middle" fill="#a8a8a8" stroke="#a8a8a8" stroke-width="0.1">32</text>
<line x1="526.15" y1="603.8" x2="526.15" y2="614.5" stroke="#b4b4b4" stroke-width="0.9"/>
<text x="539.23" y="600.2" font-size="7.66" text-anchor="middle" fill="#a8a8a8" stroke="#a8a8a8" stroke-width="0.1">23</text>
<line x1="533.64" y1="591.6" x2="533.64" y2="602.3" stroke="#b4b4b4" stroke-width="0.9"/>
<text x="544.72" y="613" font-size="7.66" text-anchor="middle" fill="#a8a8a8" stroke="#a8a8a8" stroke-width="0.1">3</text>
<line x1="538.73" y1="603.8" x2="538.73" y2="614.5" stroke="#b4b4b4" stroke-width="0.9"/>
<text x="551.81" y="600.2" font-size="7.66" text-anchor="middle" fill="#a8a8a8" stroke="#a8a8a8" stroke-width="0.1">47</text>
<line x1="546.22" y1="591.6" x2="546.22" y2="602.3" stroke="#b4b4b4" stroke-width="0.9"/>
<text x="557.3" y="613" font-size="7.66" text-anchor="middle" fill="#a8a8a8" stroke="#a8a8a8" stroke-width="0.1">7</text>
<line x1="551.31" y1="603.8" x2="551.31" y2="614.5" stroke="#b4b4b4" stroke-width="0.9"/>
<text x="564.39" y="600.2" font-size="7.66" text-anchor="middle" fill="#a8a8a8" stroke="#a8a8a8" stroke-width="0.1">24</text>
<line x1="558.8" y1="591.6" x2="558.8" y2="602.3" stroke="#b4b4b4" stroke-width="0.9"/>
<text x="569.88" y="613" font-size="7.66" text-anchor="middle" fill="#a8a8a8" stroke="#a8a8a8" stroke-width="0.1">14</text>
<line x1="563.89" y1="603.8" x2="563.89" y2="614.5" stroke="#b4b4b4" stroke-width="0.9"/>
<text x="576.97" y="600.2" font-size="7.66" text-anchor="middle" fill="#a8a8a8" stroke="#a8a8a8" stroke-width="0.1">39</text>
<line x1="571.38" y1="591.6" x2="571.38" y2="602.3" stroke="#b4b4b4" stroke-width="0.9"/>
<text x="582.46" y="613" font-size="7.66" text-anchor="middle" fill="#a8a8a8" stroke="#a8a8a8" stroke-width="0.1">6</text>
<line x1="576.47" y1="603.8" x2="576.47" y2="614.5" stroke="#b4b4b4" stroke-width="0.9"/>
<text x="589.55" y="600.2" font-size="7.66" text-anchor="middle" fill="#a8a8a8" stroke="#a8a8a8" stroke-width="0.1">8</text>
<line x1="583.96" y1="591.6" x2="583.96" y2="602.3" stroke="#b4b4b4" stroke-width="0.9"/>
<text x="595.04" y="613" font-size="7.66" text-anchor="middle" fill="#a8a8a8" stroke="#a8a8a8" stroke-width="0.1">26</text>
<line x1="589.05" y1="603.8" x2="589.05" y2="614.5" stroke="#b4b4b4" stroke-width="0.9"/>
<text x="602.13" y="600.2" font-size="7.66" text-anchor="middle" fill="#a8a8a8" stroke="#a8a8a8" stroke-width="0.1">49</text>
<line x1="596.54" y1="591.6" x2="596.54" y2="602.3" stroke="#b4b4b4" stroke-width="0.9"/>
<text x="607.62" y="613" font-size="7.66" text-anchor="middle" fill="#111" font-weight="bold">4</text>
<line x1="601.63" y1="603.8" x2="601.63" y2="614.5" stroke="#4a4a4a" stroke-width="0.9"/>
<text x="614.71" y="600.2" font-size="7.66" text-anchor="middle" fill="#a8a8a8" stroke="#a8a8a8" stroke-width="0.1">42</text>
<line x1="609.12" y1="591.6" x2="609.12" y2="602.3" stroke="#b4b4b4" stroke-width="0.9"/>
<text x="620.2" y="613" font-size="7.66" text-anchor="middle" fill="#a8a8a8" stroke="#a8a8a8" stroke-width="0.1">16</text>
<line x1="614.21" y1="603.8" x2="614.21" y2="614.5" stroke="#b4b4b4" stroke-width="0.9"/>
<text x="627.29" y="600.2" font-size="7.66" text-anchor="middle" fill="#a8a8a8" stroke="#a8a8a8" stroke-width="0.1">19</text>
<line x1="621.7" y1="591.6" x2="621.7" y2="602.3" stroke="#b4b4b4" stroke-width="0.9"/>
<text x="632.78" y="613" font-size="7.66" text-anchor="middle" fill="#a8a8a8" stroke="#a8a8a8" stroke-width="0.1">48</text>
<line x1="626.79" y1="603.8" x2="626.79" y2="614.5" stroke="#b4b4b4" stroke-width="0.9"/>
<text x="639.87" y="600.2" font-size="7.66" text-anchor="middle" fill="#a8a8a8" stroke="#a8a8a8" stroke-width="0.1">30</text>
<line x1="634.28" y1="591.6" x2="634.28" y2="602.3" stroke="#b4b4b4" stroke-width="0.9"/>
<text x="645.36" y="613" font-size="7.66" text-anchor="middle" fill="#111" font-weight="bold">21</text>
<line x1="639.37" y1="603.8" x2="639.37" y2="614.5" stroke="#4a4a4a" stroke-width="0.9"/>
<text x="652.45" y="600.2" font-size="7.66" text-anchor="middle" fill="#a8a8a8" stroke="#a8a8a8" stroke-width="0.1">45</text>
<line x1="646.86" y1="591.6" x2="646.86" y2="602.3" stroke="#b4b4b4" stroke-width="0.9"/>
<text x="657.94" y="613" font-size="7.66" text-anchor="middle" fill="#a8a8a8" stroke="#a8a8a8" stroke-width="0.1">13</text>
<line x1="651.95" y1="603.8" x2="651.95" y2="614.5" stroke="#b4b4b4" stroke-width="0.9"/>
<text x="665.03" y="600.2" font-size="7.66" text-anchor="middle" fill="#111" font-weight="bold">18</text>
<line x1="659.44" y1="591.6" x2="659.44" y2="602.3" stroke="#4a4a4a" stroke-width="0.9"/>
<text x="670.52" y="613" font-size="7.66" text-anchor="middle" fill="#a8a8a8" stroke="#a8a8a8" stroke-width="0.1">29</text>
<line x1="664.53" y1="603.8" x2="664.53" y2="614.5" stroke="#b4b4b4" stroke-width="0.9"/>
<text x="677.61" y="600.2" font-size="7.66" text-anchor="middle" fill="#a8a8a8" stroke="#a8a8a8" stroke-width="0.1">50</text>
<line x1="672.02" y1="591.6" x2="672.02" y2="602.3" stroke="#b4b4b4" stroke-width="0.9"/>
<text x="321.2" y="403.8" font-size="11.28" text-anchor="start" fill="#000" font-weight="bold">i</text>
<path d="M361,414.4 L368.6,410.2 L368.6,412.1 L673.5,412.1 L673.5,410.2 L681.6,414.4 L673.5,418.6 L673.5,416.8 L368.6,416.8 L368.6,418.6 Z" fill="url(#arrg)"/>
<text x="369.4" y="406.8" font-size="11.02" text-anchor="start" fill="#4b5aa6" stroke="#4b5aa6" stroke-width="0.1">Down-regulation</text>
<text x="672.5" y="406.8" font-size="11.02" text-anchor="end" fill="#c41f3e" stroke="#c41f3e" stroke-width="0.1">Up-regulation</text>
<text x="504" y="435" font-size="10.87" text-anchor="start" fill="#2e8080" stroke="#2e8080" stroke-width="0.1">Male</text>
<text x="498.3" y="531.4" font-size="10.87" text-anchor="start" fill="#ef6a35" stroke="#ef6a35" stroke-width="0.1">Female</text>
<text x="524.1" y="624.5" font-size="9.83" text-anchor="middle" fill="#1a1a1a" stroke="#1a1a1a" stroke-width="0.1">Cluster ID</text>
<text x="4.6" y="634.2" font-size="11.28" text-anchor="start" fill="#000" font-weight="bold">j</text>
<line x1="39.8" y1="634.7" x2="39.8" y2="763.6" stroke="#333" stroke-width="1.2"/>
<line x1="34.2" y1="635.1" x2="39.8" y2="635.1" stroke="#333" stroke-width="1.1"/>
<text x="29.3" y="638.2" font-size="9.31" text-anchor="end" fill="#1a1a1a" stroke="#1a1a1a" stroke-width="0.1">3</text>
<line x1="34.2" y1="657" x2="39.8" y2="657" stroke="#333" stroke-width="1.1"/>
<text x="29.3" y="660.1" font-size="9.31" text-anchor="end" fill="#1a1a1a" stroke="#1a1a1a" stroke-width="0.1">2</text>
<line x1="34.2" y1="678.9" x2="39.8" y2="678.9" stroke="#333" stroke-width="1.1"/>
<text x="29.3" y="682" font-size="9.31" text-anchor="end" fill="#1a1a1a" stroke="#1a1a1a" stroke-width="0.1">1</text>
<line x1="34.2" y1="700.8" x2="39.8" y2="700.8" stroke="#333" stroke-width="1.1"/>
<text x="29.3" y="703.9" font-size="9.31" text-anchor="end" fill="#1a1a1a" stroke="#1a1a1a" stroke-width="0.1">0</text>
<line x1="34.2" y1="722.7" x2="39.8" y2="722.7" stroke="#333" stroke-width="1.1"/>
<text x="29.3" y="725.8" font-size="9.31" text-anchor="end" fill="#1a1a1a" stroke="#1a1a1a" stroke-width="0.1">-1</text>
<line x1="34.2" y1="744.6" x2="39.8" y2="744.6" stroke="#333" stroke-width="1.1"/>
<text x="29.3" y="747.7" font-size="9.31" text-anchor="end" fill="#1a1a1a" stroke="#1a1a1a" stroke-width="0.1">-2</text>
<line x1="34.2" y1="745" x2="679" y2="745" stroke="#333" stroke-width="1.2"/>
<line x1="146.5" y1="634.7" x2="146.5" y2="763.6" stroke="#333" stroke-width="1.1"/>
<line x1="253.3" y1="634.7" x2="253.3" y2="763.6" stroke="#333" stroke-width="1.1"/>
<line x1="360.2" y1="634.7" x2="360.2" y2="763.6" stroke="#333" stroke-width="1.1"/>
<line x1="467.8" y1="634.7" x2="467.8" y2="763.6" stroke="#333" stroke-width="1.1"/>
<line x1="573.9" y1="634.7" x2="573.9" y2="763.6" stroke="#333" stroke-width="1.1"/>
<line x1="679" y1="744.7" x2="679" y2="763.6" stroke="#333" stroke-width="1.1"/>
<line x1="53" y1="765.3" x2="667.5" y2="765.3" stroke="#333" stroke-width="1.1"/>
<text x="14.4" y="691.5" font-size="9.63" text-anchor="middle" fill="#1a1a1a" transform="rotate(-90 14.4 691.5)" stroke="#1a1a1a" stroke-width="0.1">log<tspan font-size="6.3" dy="2">2</tspan><tspan dy="-2">(FC)</tspan></text>
<text x="52.9" y="758.3" font-size="9.31" text-anchor="middle" fill="#1a1a1a" stroke="#1a1a1a" stroke-width="0.1">5</text>
<text x="79.4" y="758.3" font-size="9.31" text-anchor="middle" fill="#1a1a1a" stroke="#1a1a1a" stroke-width="0.1">10</text>
<text x="105.8" y="758.3" font-size="9.31" text-anchor="middle" fill="#1a1a1a" stroke="#1a1a1a" stroke-width="0.1">15</text>
<text x="132.3" y="758.3" font-size="9.31" text-anchor="middle" fill="#1a1a1a" stroke="#1a1a1a" stroke-width="0.1">20</text>
<text x="159.1" y="758.3" font-size="9.31" text-anchor="middle" fill="#1a1a1a" stroke="#1a1a1a" stroke-width="0.1">5</text>
<text x="185.6" y="758.3" font-size="9.31" text-anchor="middle" fill="#1a1a1a" stroke="#1a1a1a" stroke-width="0.1">10</text>
<text x="212" y="758.3" font-size="9.31" text-anchor="middle" fill="#1a1a1a" stroke="#1a1a1a" stroke-width="0.1">15</text>
<text x="238.5" y="758.3" font-size="9.31" text-anchor="middle" fill="#1a1a1a" stroke="#1a1a1a" stroke-width="0.1">20</text>
<text x="265.9" y="758.3" font-size="9.31" text-anchor="middle" fill="#1a1a1a" stroke="#1a1a1a" stroke-width="0.1">5</text>
<text x="292.4" y="758.3" font-size="9.31" text-anchor="middle" fill="#1a1a1a" stroke="#1a1a1a" stroke-width="0.1">10</text>
<text x="318.8" y="758.3" font-size="9.31" text-anchor="middle" fill="#1a1a1a" stroke="#1a1a1a" stroke-width="0.1">15</text>
<text x="345.3" y="758.3" font-size="9.31" text-anchor="middle" fill="#1a1a1a" stroke="#1a1a1a" stroke-width="0.1">20</text>
<text x="372.8" y="758.3" font-size="9.31" text-anchor="middle" fill="#1a1a1a" stroke="#1a1a1a" stroke-width="0.1">5</text>
<text x="399.3" y="758.3" font-size="9.31" text-anchor="middle" fill="#1a1a1a" stroke="#1a1a1a" stroke-width="0.1">10</text>
<text x="425.7" y="758.3" font-size="9.31" text-anchor="middle" fill="#1a1a1a" stroke="#1a1a1a" stroke-width="0.1">15</text>
<text x="452.2" y="758.3" font-size="9.31" text-anchor="middle" fill="#1a1a1a" stroke="#1a1a1a" stroke-width="0.1">20</text>
<text x="479.9" y="758.3" font-size="9.31" text-anchor="middle" fill="#1a1a1a" stroke="#1a1a1a" stroke-width="0.1">5</text>
<text x="506.4" y="758.3" font-size="9.31" text-anchor="middle" fill="#1a1a1a" stroke="#1a1a1a" stroke-width="0.1">10</text>
<text x="532.8" y="758.3" font-size="9.31" text-anchor="middle" fill="#1a1a1a" stroke="#1a1a1a" stroke-width="0.1">15</text>
<text x="559.3" y="758.3" font-size="9.31" text-anchor="middle" fill="#1a1a1a" stroke="#1a1a1a" stroke-width="0.1">20</text>
<text x="586.5" y="758.3" font-size="9.31" text-anchor="middle" fill="#1a1a1a" stroke="#1a1a1a" stroke-width="0.1">5</text>
<text x="613" y="758.3" font-size="9.31" text-anchor="middle" fill="#1a1a1a" stroke="#1a1a1a" stroke-width="0.1">10</text>
<text x="639.4" y="758.3" font-size="9.31" text-anchor="middle" fill="#1a1a1a" stroke="#1a1a1a" stroke-width="0.1">15</text>
<text x="665.9" y="758.3" font-size="9.31" text-anchor="middle" fill="#1a1a1a" stroke="#1a1a1a" stroke-width="0.1">20</text>
<text x="349.6" y="777.6" font-size="9.31" text-anchor="middle" fill="#1a1a1a" stroke="#1a1a1a" stroke-width="0.1">Time bin (min)</text>
<text x="93.8" y="641.2" font-size="10.87" text-anchor="middle" fill="#1a1a1a" stroke="#1a1a1a" stroke-width="0.1">Cluster 30</text>
<polyline points="52.6,673.3 77.3,703.4 101.9,676 126.6,663.8" fill="none" stroke="#6fd0d0" stroke-width="1" stroke-dasharray="2.6,1.6"/>
<polyline points="52.6,696.4 77.3,678.9 101.9,708.3 126.6,692.5" fill="none" stroke="#3a7d7d" stroke-width="1" stroke-dasharray="2.6,1.6"/>
<line x1="52.6" y1="665.8" x2="52.6" y2="680.8" stroke="#5cc6c6" stroke-width="1.6"/>
<line x1="50" y1="665.8" x2="55.2" y2="665.8" stroke="#5cc6c6" stroke-width="1.6"/>
<line x1="50" y1="680.8" x2="55.2" y2="680.8" stroke="#5cc6c6" stroke-width="1.6"/>
<line x1="77.3" y1="696" x2="77.3" y2="710.8" stroke="#5cc6c6" stroke-width="1.6"/>
<line x1="74.7" y1="696" x2="79.9" y2="696" stroke="#5cc6c6" stroke-width="1.6"/>
<line x1="74.7" y1="710.8" x2="79.9" y2="710.8" stroke="#5cc6c6" stroke-width="1.6"/>
<line x1="101.9" y1="671" x2="101.9" y2="681" stroke="#5cc6c6" stroke-width="1.6"/>
<line x1="99.3" y1="671" x2="104.5" y2="671" stroke="#5cc6c6" stroke-width="1.6"/>
<line x1="99.3" y1="681" x2="104.5" y2="681" stroke="#5cc6c6" stroke-width="1.6"/>
<line x1="126.6" y1="656.3" x2="126.6" y2="671.3" stroke="#5cc6c6" stroke-width="1.6"/>
<line x1="124" y1="656.3" x2="129.2" y2="656.3" stroke="#5cc6c6" stroke-width="1.6"/>
<line x1="124" y1="671.3" x2="129.2" y2="671.3" stroke="#5cc6c6" stroke-width="1.6"/>
<line x1="52.6" y1="686.9" x2="52.6" y2="705.9" stroke="#2b6e6e" stroke-width="1.6"/>
<line x1="50" y1="686.9" x2="55.2" y2="686.9" stroke="#2b6e6e" stroke-width="1.6"/>
<line x1="50" y1="705.9" x2="55.2" y2="705.9" stroke="#2b6e6e" stroke-width="1.6"/>
<line x1="77.3" y1="668.4" x2="77.3" y2="689.4" stroke="#2b6e6e" stroke-width="1.6"/>
<line x1="74.7" y1="668.4" x2="79.9" y2="668.4" stroke="#2b6e6e" stroke-width="1.6"/>
<line x1="74.7" y1="689.4" x2="79.9" y2="689.4" stroke="#2b6e6e" stroke-width="1.6"/>
<line x1="101.9" y1="701.8" x2="101.9" y2="714.8" stroke="#2b6e6e" stroke-width="1.6"/>
<line x1="99.3" y1="701.8" x2="104.5" y2="701.8" stroke="#2b6e6e" stroke-width="1.6"/>
<line x1="99.3" y1="714.8" x2="104.5" y2="714.8" stroke="#2b6e6e" stroke-width="1.6"/>
<line x1="126.6" y1="686" x2="126.6" y2="699" stroke="#2b6e6e" stroke-width="1.6"/>
<line x1="124" y1="686" x2="129.2" y2="686" stroke="#2b6e6e" stroke-width="1.6"/>
<line x1="124" y1="699" x2="129.2" y2="699" stroke="#2b6e6e" stroke-width="1.6"/>
<rect x="49.9" y="670.6" width="5.4" height="5.4" fill="#5cc6c6" stroke="none" stroke-width="0"/>
<rect x="74.6" y="700.7" width="5.4" height="5.4" fill="#5cc6c6" stroke="none" stroke-width="0"/>
<rect x="99.2" y="673.3" width="5.4" height="5.4" fill="#5cc6c6" stroke="none" stroke-width="0"/>
<rect x="123.9" y="661.1" width="5.4" height="5.4" fill="#5cc6c6" stroke="none" stroke-width="0"/>
<circle cx="52.6" cy="696.4" r="2.9" fill="#2b6e6e" stroke="none" stroke-width="0"/>
<circle cx="77.3" cy="678.9" r="2.9" fill="#2b6e6e" stroke="none" stroke-width="0"/>
<circle cx="101.9" cy="708.3" r="2.9" fill="#2b6e6e" stroke="none" stroke-width="0"/>
<circle cx="126.6" cy="692.5" r="2.9" fill="#2b6e6e" stroke="none" stroke-width="0"/>
<text x="200" y="641.2" font-size="10.87" text-anchor="middle" fill="#1a1a1a" stroke="#1a1a1a" stroke-width="0.1">Cluster 44</text>
<polyline points="158.8,688.3 183.5,691.8 208.1,666.6 232.8,673.3" fill="none" stroke="#6fd0d0" stroke-width="1" stroke-dasharray="2.6,1.6"/>
<polyline points="158.8,701.6 183.5,682.4 208.1,708.3 232.8,697.8" fill="none" stroke="#3a7d7d" stroke-width="1" stroke-dasharray="2.6,1.6"/>
<line x1="158.8" y1="682.8" x2="158.8" y2="693.8" stroke="#5cc6c6" stroke-width="1.6"/>
<line x1="156.2" y1="682.8" x2="161.4" y2="682.8" stroke="#5cc6c6" stroke-width="1.6"/>
<line x1="156.2" y1="693.8" x2="161.4" y2="693.8" stroke="#5cc6c6" stroke-width="1.6"/>
<line x1="183.5" y1="685.8" x2="183.5" y2="697.8" stroke="#5cc6c6" stroke-width="1.6"/>
<line x1="180.9" y1="685.8" x2="186.1" y2="685.8" stroke="#5cc6c6" stroke-width="1.6"/>
<line x1="180.9" y1="697.8" x2="186.1" y2="697.8" stroke="#5cc6c6" stroke-width="1.6"/>
<line x1="208.1" y1="658.6" x2="208.1" y2="674.6" stroke="#5cc6c6" stroke-width="1.6"/>
<line x1="205.5" y1="658.6" x2="210.7" y2="658.6" stroke="#5cc6c6" stroke-width="1.6"/>
<line x1="205.5" y1="674.6" x2="210.7" y2="674.6" stroke="#5cc6c6" stroke-width="1.6"/>
<line x1="232.8" y1="666.3" x2="232.8" y2="680.3" stroke="#5cc6c6" stroke-width="1.6"/>
<line x1="230.2" y1="666.3" x2="235.4" y2="666.3" stroke="#5cc6c6" stroke-width="1.6"/>
<line x1="230.2" y1="680.3" x2="235.4" y2="680.3" stroke="#5cc6c6" stroke-width="1.6"/>
<line x1="158.8" y1="692.6" x2="158.8" y2="710.6" stroke="#2b6e6e" stroke-width="1.6"/>
<line x1="156.2" y1="692.6" x2="161.4" y2="692.6" stroke="#2b6e6e" stroke-width="1.6"/>
<line x1="156.2" y1="710.6" x2="161.4" y2="710.6" stroke="#2b6e6e" stroke-width="1.6"/>
<line x1="183.5" y1="675.4" x2="183.5" y2="689.4" stroke="#2b6e6e" stroke-width="1.6"/>
<line x1="180.9" y1="675.4" x2="186.1" y2="675.4" stroke="#2b6e6e" stroke-width="1.6"/>
<line x1="180.9" y1="689.4" x2="186.1" y2="689.4" stroke="#2b6e6e" stroke-width="1.6"/>
<line x1="208.1" y1="703.3" x2="208.1" y2="713.3" stroke="#2b6e6e" stroke-width="1.6"/>
<line x1="205.5" y1="703.3" x2="210.7" y2="703.3" stroke="#2b6e6e" stroke-width="1.6"/>
<line x1="205.5" y1="713.3" x2="210.7" y2="713.3" stroke="#2b6e6e" stroke-width="1.6"/>
<line x1="232.8" y1="691.3" x2="232.8" y2="704.3" stroke="#2b6e6e" stroke-width="1.6"/>
<line x1="230.2" y1="691.3" x2="235.4" y2="691.3" stroke="#2b6e6e" stroke-width="1.6"/>
<line x1="230.2" y1="704.3" x2="235.4" y2="704.3" stroke="#2b6e6e" stroke-width="1.6"/>
<rect x="156.1" y="685.6" width="5.4" height="5.4" fill="#5cc6c6" stroke="none" stroke-width="0"/>
<rect x="180.8" y="689.1" width="5.4" height="5.4" fill="#5cc6c6" stroke="none" stroke-width="0"/>
<rect x="205.4" y="663.9" width="5.4" height="5.4" fill="#5cc6c6" stroke="none" stroke-width="0"/>
<rect x="230.1" y="670.6" width="5.4" height="5.4" fill="#5cc6c6" stroke="none" stroke-width="0"/>
<circle cx="158.8" cy="701.6" r="2.9" fill="#2b6e6e" stroke="none" stroke-width="0"/>
<circle cx="183.5" cy="682.4" r="2.9" fill="#2b6e6e" stroke="none" stroke-width="0"/>
<circle cx="208.1" cy="708.3" r="2.9" fill="#2b6e6e" stroke="none" stroke-width="0"/>
<circle cx="232.8" cy="697.8" r="2.9" fill="#2b6e6e" stroke="none" stroke-width="0"/>
<text x="306.8" y="641.2" font-size="10.87" text-anchor="middle" fill="#1a1a1a" stroke="#1a1a1a" stroke-width="0.1">Cluster 25</text>
<polyline points="265.6,683.1 290.3,690.8 314.9,685.5 339.6,672.6" fill="none" stroke="#6fd0d0" stroke-width="1" stroke-dasharray="2.6,1.6"/>
<polyline points="265.6,692.9 290.3,701.6 314.9,698.8 339.6,710.4" fill="none" stroke="#3a7d7d" stroke-width="1" stroke-dasharray="2.6,1.6"/>
<line x1="265.6" y1="676.6" x2="265.6" y2="689.6" stroke="#5cc6c6" stroke-width="1.6"/>
<line x1="263" y1="676.6" x2="268.2" y2="676.6" stroke="#5cc6c6" stroke-width="1.6"/>
<line x1="263" y1="689.6" x2="268.2" y2="689.6" stroke="#5cc6c6" stroke-width="1.6"/>
<line x1="290.3" y1="685.8" x2="290.3" y2="695.8" stroke="#5cc6c6" stroke-width="1.6"/>
<line x1="287.7" y1="685.8" x2="292.9" y2="685.8" stroke="#5cc6c6" stroke-width="1.6"/>
<line x1="287.7" y1="695.8" x2="292.9" y2="695.8" stroke="#5cc6c6" stroke-width="1.6"/>
<line x1="314.9" y1="680" x2="314.9" y2="691" stroke="#5cc6c6" stroke-width="1.6"/>
<line x1="312.3" y1="680" x2="317.5" y2="680" stroke="#5cc6c6" stroke-width="1.6"/>
<line x1="312.3" y1="691" x2="317.5" y2="691" stroke="#5cc6c6" stroke-width="1.6"/>
<line x1="339.6" y1="664.1" x2="339.6" y2="681.1" stroke="#5cc6c6" stroke-width="1.6"/>
<line x1="337" y1="664.1" x2="342.2" y2="664.1" stroke="#5cc6c6" stroke-width="1.6"/>
<line x1="337" y1="681.1" x2="342.2" y2="681.1" stroke="#5cc6c6" stroke-width="1.6"/>
<line x1="265.6" y1="685.9" x2="265.6" y2="699.9" stroke="#2b6e6e" stroke-width="1.6"/>
<line x1="263" y1="685.9" x2="268.2" y2="685.9" stroke="#2b6e6e" stroke-width="1.6"/>
<line x1="263" y1="699.9" x2="268.2" y2="699.9" stroke="#2b6e6e" stroke-width="1.6"/>
<line x1="290.3" y1="696.6" x2="290.3" y2="706.6" stroke="#2b6e6e" stroke-width="1.6"/>
<line x1="287.7" y1="696.6" x2="292.9" y2="696.6" stroke="#2b6e6e" stroke-width="1.6"/>
<line x1="287.7" y1="706.6" x2="292.9" y2="706.6" stroke="#2b6e6e" stroke-width="1.6"/>
<line x1="314.9" y1="693.3" x2="314.9" y2="704.3" stroke="#2b6e6e" stroke-width="1.6"/>
<line x1="312.3" y1="693.3" x2="317.5" y2="693.3" stroke="#2b6e6e" stroke-width="1.6"/>
<line x1="312.3" y1="704.3" x2="317.5" y2="704.3" stroke="#2b6e6e" stroke-width="1.6"/>
<line x1="339.6" y1="704.9" x2="339.6" y2="715.9" stroke="#2b6e6e" stroke-width="1.6"/>
<line x1="337" y1="704.9" x2="342.2" y2="704.9" stroke="#2b6e6e" stroke-width="1.6"/>
<line x1="337" y1="715.9" x2="342.2" y2="715.9" stroke="#2b6e6e" stroke-width="1.6"/>
<rect x="262.9" y="680.4" width="5.4" height="5.4" fill="#5cc6c6" stroke="none" stroke-width="0"/>
<rect x="287.6" y="688.1" width="5.4" height="5.4" fill="#5cc6c6" stroke="none" stroke-width="0"/>
<rect x="312.2" y="682.8" width="5.4" height="5.4" fill="#5cc6c6" stroke="none" stroke-width="0"/>
<rect x="336.9" y="669.9" width="5.4" height="5.4" fill="#5cc6c6" stroke="none" stroke-width="0"/>
<circle cx="265.6" cy="692.9" r="2.9" fill="#2b6e6e" stroke="none" stroke-width="0"/>
<circle cx="290.3" cy="701.6" r="2.9" fill="#2b6e6e" stroke="none" stroke-width="0"/>
<circle cx="314.9" cy="698.8" r="2.9" fill="#2b6e6e" stroke="none" stroke-width="0"/>
<circle cx="339.6" cy="710.4" r="2.9" fill="#2b6e6e" stroke="none" stroke-width="0"/>
<text x="413.7" y="641.2" font-size="10.87" text-anchor="middle" fill="#1a1a1a" stroke="#1a1a1a" stroke-width="0.1">Cluster 2</text>
<polyline points="372.5,705.8 397.2,710.4 421.8,677.1 446.5,701.6" fill="none" stroke="#6fd0d0" stroke-width="1" stroke-dasharray="2.6,1.6"/>
<polyline points="372.5,715.3 397.2,699.9 421.8,717.4 446.5,715.3" fill="none" stroke="#3a7d7d" stroke-width="1" stroke-dasharray="2.6,1.6"/>
<line x1="372.5" y1="702.8" x2="372.5" y2="708.8" stroke="#5cc6c6" stroke-width="1.6"/>
<line x1="369.9" y1="702.8" x2="375.1" y2="702.8" stroke="#5cc6c6" stroke-width="1.6"/>
<line x1="369.9" y1="708.8" x2="375.1" y2="708.8" stroke="#5cc6c6" stroke-width="1.6"/>
<line x1="397.2" y1="705.4" x2="397.2" y2="715.4" stroke="#5cc6c6" stroke-width="1.6"/>
<line x1="394.6" y1="705.4" x2="399.8" y2="705.4" stroke="#5cc6c6" stroke-width="1.6"/>
<line x1="394.6" y1="715.4" x2="399.8" y2="715.4" stroke="#5cc6c6" stroke-width="1.6"/>
<line x1="421.8" y1="670.6" x2="421.8" y2="683.6" stroke="#5cc6c6" stroke-width="1.6"/>
<line x1="419.2" y1="670.6" x2="424.4" y2="670.6" stroke="#5cc6c6" stroke-width="1.6"/>
<line x1="419.2" y1="683.6" x2="424.4" y2="683.6" stroke="#5cc6c6" stroke-width="1.6"/>
<line x1="446.5" y1="697.6" x2="446.5" y2="705.6" stroke="#5cc6c6" stroke-width="1.6"/>
<line x1="443.9" y1="697.6" x2="449.1" y2="697.6" stroke="#5cc6c6" stroke-width="1.6"/>
<line x1="443.9" y1="705.6" x2="449.1" y2="705.6" stroke="#5cc6c6" stroke-width="1.6"/>
<line x1="372.5" y1="706.8" x2="372.5" y2="723.8" stroke="#2b6e6e" stroke-width="1.6"/>
<line x1="369.9" y1="706.8" x2="375.1" y2="706.8" stroke="#2b6e6e" stroke-width="1.6"/>
<line x1="369.9" y1="723.8" x2="375.1" y2="723.8" stroke="#2b6e6e" stroke-width="1.6"/>
<line x1="397.2" y1="691.4" x2="397.2" y2="708.4" stroke="#2b6e6e" stroke-width="1.6"/>
<line x1="394.6" y1="691.4" x2="399.8" y2="691.4" stroke="#2b6e6e" stroke-width="1.6"/>
<line x1="394.6" y1="708.4" x2="399.8" y2="708.4" stroke="#2b6e6e" stroke-width="1.6"/>
<line x1="421.8" y1="713.4" x2="421.8" y2="721.4" stroke="#2b6e6e" stroke-width="1.6"/>
<line x1="419.2" y1="713.4" x2="424.4" y2="713.4" stroke="#2b6e6e" stroke-width="1.6"/>
<line x1="419.2" y1="721.4" x2="424.4" y2="721.4" stroke="#2b6e6e" stroke-width="1.6"/>
<line x1="446.5" y1="708.8" x2="446.5" y2="721.8" stroke="#2b6e6e" stroke-width="1.6"/>
<line x1="443.9" y1="708.8" x2="449.1" y2="708.8" stroke="#2b6e6e" stroke-width="1.6"/>
<line x1="443.9" y1="721.8" x2="449.1" y2="721.8" stroke="#2b6e6e" stroke-width="1.6"/>
<rect x="369.8" y="703.1" width="5.4" height="5.4" fill="#5cc6c6" stroke="none" stroke-width="0"/>
<rect x="394.5" y="707.7" width="5.4" height="5.4" fill="#5cc6c6" stroke="none" stroke-width="0"/>
<rect x="419.1" y="674.4" width="5.4" height="5.4" fill="#5cc6c6" stroke="none" stroke-width="0"/>
<rect x="443.8" y="698.9" width="5.4" height="5.4" fill="#5cc6c6" stroke="none" stroke-width="0"/>
<circle cx="372.5" cy="715.3" r="2.9" fill="#2b6e6e" stroke="none" stroke-width="0"/>
<circle cx="397.2" cy="699.9" r="2.9" fill="#2b6e6e" stroke="none" stroke-width="0"/>
<circle cx="421.8" cy="717.4" r="2.9" fill="#2b6e6e" stroke="none" stroke-width="0"/>
<circle cx="446.5" cy="715.3" r="2.9" fill="#2b6e6e" stroke="none" stroke-width="0"/>
<text x="520.8" y="641.2" font-size="10.87" text-anchor="middle" fill="#1a1a1a" stroke="#1a1a1a" stroke-width="0.1">Cluster 8</text>
<polyline points="479.6,710.4 504.3,705.1 528.9,711.8 553.6,722.3" fill="none" stroke="#6fd0d0" stroke-width="1" stroke-dasharray="2.6,1.6"/>
<polyline points="479.6,707.6 504.3,719.9 528.9,703 553.6,698.8" fill="none" stroke="#3a7d7d" stroke-width="1" stroke-dasharray="2.6,1.6"/>
<line x1="479.6" y1="704.4" x2="479.6" y2="716.4" stroke="#5cc6c6" stroke-width="1.6"/>
<line x1="477" y1="704.4" x2="482.2" y2="704.4" stroke="#5cc6c6" stroke-width="1.6"/>
<line x1="477" y1="716.4" x2="482.2" y2="716.4" stroke="#5cc6c6" stroke-width="1.6"/>
<line x1="504.3" y1="698.1" x2="504.3" y2="712.1" stroke="#5cc6c6" stroke-width="1.6"/>
<line x1="501.7" y1="698.1" x2="506.9" y2="698.1" stroke="#5cc6c6" stroke-width="1.6"/>
<line x1="501.7" y1="712.1" x2="506.9" y2="712.1" stroke="#5cc6c6" stroke-width="1.6"/>
<line x1="528.9" y1="705.3" x2="528.9" y2="718.3" stroke="#5cc6c6" stroke-width="1.6"/>
<line x1="526.3" y1="705.3" x2="531.5" y2="705.3" stroke="#5cc6c6" stroke-width="1.6"/>
<line x1="526.3" y1="718.3" x2="531.5" y2="718.3" stroke="#5cc6c6" stroke-width="1.6"/>
<line x1="553.6" y1="716.8" x2="553.6" y2="727.8" stroke="#5cc6c6" stroke-width="1.6"/>
<line x1="551" y1="716.8" x2="556.2" y2="716.8" stroke="#5cc6c6" stroke-width="1.6"/>
<line x1="551" y1="727.8" x2="556.2" y2="727.8" stroke="#5cc6c6" stroke-width="1.6"/>
<line x1="479.6" y1="702.6" x2="479.6" y2="712.6" stroke="#2b6e6e" stroke-width="1.6"/>
<line x1="477" y1="702.6" x2="482.2" y2="702.6" stroke="#2b6e6e" stroke-width="1.6"/>
<line x1="477" y1="712.6" x2="482.2" y2="712.6" stroke="#2b6e6e" stroke-width="1.6"/>
<line x1="504.3" y1="713.9" x2="504.3" y2="725.9" stroke="#2b6e6e" stroke-width="1.6"/>
<line x1="501.7" y1="713.9" x2="506.9" y2="713.9" stroke="#2b6e6e" stroke-width="1.6"/>
<line x1="501.7" y1="725.9" x2="506.9" y2="725.9" stroke="#2b6e6e" stroke-width="1.6"/>
<line x1="528.9" y1="697" x2="528.9" y2="709" stroke="#2b6e6e" stroke-width="1.6"/>
<line x1="526.3" y1="697" x2="531.5" y2="697" stroke="#2b6e6e" stroke-width="1.6"/>
<line x1="526.3" y1="709" x2="531.5" y2="709" stroke="#2b6e6e" stroke-width="1.6"/>
<line x1="553.6" y1="693.3" x2="553.6" y2="704.3" stroke="#2b6e6e" stroke-width="1.6"/>
<line x1="551" y1="693.3" x2="556.2" y2="693.3" stroke="#2b6e6e" stroke-width="1.6"/>
<line x1="551" y1="704.3" x2="556.2" y2="704.3" stroke="#2b6e6e" stroke-width="1.6"/>
<rect x="476.9" y="707.7" width="5.4" height="5.4" fill="#5cc6c6" stroke="none" stroke-width="0"/>
<rect x="501.6" y="702.4" width="5.4" height="5.4" fill="#5cc6c6" stroke="none" stroke-width="0"/>
<rect x="526.2" y="709.1" width="5.4" height="5.4" fill="#5cc6c6" stroke="none" stroke-width="0"/>
<rect x="550.9" y="719.6" width="5.4" height="5.4" fill="#5cc6c6" stroke="none" stroke-width="0"/>
<circle cx="479.6" cy="707.6" r="2.9" fill="#2b6e6e" stroke="none" stroke-width="0"/>
<circle cx="504.3" cy="719.9" r="2.9" fill="#2b6e6e" stroke="none" stroke-width="0"/>
<circle cx="528.9" cy="703" r="2.9" fill="#2b6e6e" stroke="none" stroke-width="0"/>
<circle cx="553.6" cy="698.8" r="2.9" fill="#2b6e6e" stroke="none" stroke-width="0"/>
<text x="627.4" y="641.2" font-size="10.87" text-anchor="middle" fill="#1a1a1a" stroke="#1a1a1a" stroke-width="0.1">Cluster 23</text>
<polyline points="586.2,689.4 610.9,683.8 635.5,695.3 660.2,692.9" fill="none" stroke="#6fd0d0" stroke-width="1" stroke-dasharray="2.6,1.6"/>
<polyline points="586.2,672.6 610.9,679.6 635.5,674.3 660.2,665.5" fill="none" stroke="#3a7d7d" stroke-width="1" stroke-dasharray="2.6,1.6"/>
<line x1="586.2" y1="684.4" x2="586.2" y2="694.4" stroke="#5cc6c6" stroke-width="1.6"/>
<line x1="583.6" y1="684.4" x2="588.8" y2="684.4" stroke="#5cc6c6" stroke-width="1.6"/>
<line x1="583.6" y1="694.4" x2="588.8" y2="694.4" stroke="#5cc6c6" stroke-width="1.6"/>
<line x1="610.9" y1="676.8" x2="610.9" y2="690.8" stroke="#5cc6c6" stroke-width="1.6"/>
<line x1="608.3" y1="676.8" x2="613.5" y2="676.8" stroke="#5cc6c6" stroke-width="1.6"/>
<line x1="608.3" y1="690.8" x2="613.5" y2="690.8" stroke="#5cc6c6" stroke-width="1.6"/>
<line x1="635.5" y1="690.3" x2="635.5" y2="700.3" stroke="#5cc6c6" stroke-width="1.6"/>
<line x1="632.9" y1="690.3" x2="638.1" y2="690.3" stroke="#5cc6c6" stroke-width="1.6"/>
<line x1="632.9" y1="700.3" x2="638.1" y2="700.3" stroke="#5cc6c6" stroke-width="1.6"/>
<line x1="660.2" y1="685.4" x2="660.2" y2="700.4" stroke="#5cc6c6" stroke-width="1.6"/>
<line x1="657.6" y1="685.4" x2="662.8" y2="685.4" stroke="#5cc6c6" stroke-width="1.6"/>
<line x1="657.6" y1="700.4" x2="662.8" y2="700.4" stroke="#5cc6c6" stroke-width="1.6"/>
<line x1="586.2" y1="667.1" x2="586.2" y2="678.1" stroke="#2b6e6e" stroke-width="1.6"/>
<line x1="583.6" y1="667.1" x2="588.8" y2="667.1" stroke="#2b6e6e" stroke-width="1.6"/>
<line x1="583.6" y1="678.1" x2="588.8" y2="678.1" stroke="#2b6e6e" stroke-width="1.6"/>
<line x1="610.9" y1="670.1" x2="610.9" y2="689.1" stroke="#2b6e6e" stroke-width="1.6"/>
<line x1="608.3" y1="670.1" x2="613.5" y2="670.1" stroke="#2b6e6e" stroke-width="1.6"/>
<line x1="608.3" y1="689.1" x2="613.5" y2="689.1" stroke="#2b6e6e" stroke-width="1.6"/>
<line x1="635.5" y1="666.8" x2="635.5" y2="681.8" stroke="#2b6e6e" stroke-width="1.6"/>
<line x1="632.9" y1="666.8" x2="638.1" y2="666.8" stroke="#2b6e6e" stroke-width="1.6"/>
<line x1="632.9" y1="681.8" x2="638.1" y2="681.8" stroke="#2b6e6e" stroke-width="1.6"/>
<line x1="660.2" y1="661" x2="660.2" y2="670" stroke="#2b6e6e" stroke-width="1.6"/>
<line x1="657.6" y1="661" x2="662.8" y2="661" stroke="#2b6e6e" stroke-width="1.6"/>
<line x1="657.6" y1="670" x2="662.8" y2="670" stroke="#2b6e6e" stroke-width="1.6"/>
<rect x="583.5" y="686.7" width="5.4" height="5.4" fill="#5cc6c6" stroke="none" stroke-width="0"/>
<rect x="608.2" y="681.1" width="5.4" height="5.4" fill="#5cc6c6" stroke="none" stroke-width="0"/>
<rect x="632.8" y="692.6" width="5.4" height="5.4" fill="#5cc6c6" stroke="none" stroke-width="0"/>
<rect x="657.5" y="690.2" width="5.4" height="5.4" fill="#5cc6c6" stroke="none" stroke-width="0"/>
<circle cx="586.2" cy="672.6" r="2.9" fill="#2b6e6e" stroke="none" stroke-width="0"/>
<circle cx="610.9" cy="679.6" r="2.9" fill="#2b6e6e" stroke="none" stroke-width="0"/>
<circle cx="635.5" cy="674.3" r="2.9" fill="#2b6e6e" stroke="none" stroke-width="0"/>
<circle cx="660.2" cy="665.5" r="2.9" fill="#2b6e6e" stroke="none" stroke-width="0"/>
<text x="101.6" y="670.26" font-size="10.51" text-anchor="middle" fill="#1a1a1a" stroke="#1a1a1a" stroke-width="0.1">**</text>
<text x="126.1" y="657.66" font-size="10.51" text-anchor="middle" fill="#1a1a1a" stroke="#1a1a1a" stroke-width="0.1">*</text>
<text x="46.8" y="743.86" font-size="10.51" text-anchor="middle" fill="#1a1a1a" stroke="#1a1a1a" stroke-width="0.1">**</text>
<text x="208.5" y="659.46" font-size="10.51" text-anchor="middle" fill="#1a1a1a" stroke="#1a1a1a" stroke-width="0.1">*</text>
<text x="152" y="743.86" font-size="10.51" text-anchor="middle" fill="#1a1a1a" stroke="#1a1a1a" stroke-width="0.1">*</text>
<text x="290.1" y="688.46" font-size="10.51" text-anchor="middle" fill="#1a1a1a" stroke="#1a1a1a" stroke-width="0.1">*</text>
<text x="339.8" y="665.76" font-size="10.51" text-anchor="middle" fill="#1a1a1a" stroke="#1a1a1a" stroke-width="0.1">*</text>
<text x="410" y="656.26" font-size="10.51" text-anchor="middle" fill="#1a1a1a" stroke="#1a1a1a" stroke-width="0.1">*</text>
<text x="421.5" y="671.66" font-size="10.51" text-anchor="middle" fill="#1a1a1a" stroke="#1a1a1a" stroke-width="0.1">**</text>
<text x="446.7" y="699.06" font-size="10.51" text-anchor="middle" fill="#1a1a1a" stroke="#1a1a1a" stroke-width="0.1">*</text>
<text x="374.6" y="743.86" font-size="10.51" text-anchor="middle" fill="#1a1a1a" stroke="#1a1a1a" stroke-width="0.1">****</text>
<text x="553.6" y="694.86" font-size="10.51" text-anchor="middle" fill="#1a1a1a" stroke="#1a1a1a" stroke-width="0.1">*</text>
<text x="473.7" y="743.86" font-size="10.51" text-anchor="middle" fill="#1a1a1a" stroke="#1a1a1a" stroke-width="0.1">*</text>
<text x="586.2" y="668.16" font-size="10.51" text-anchor="middle" fill="#1a1a1a" stroke="#1a1a1a" stroke-width="0.1">*</text>
<text x="660.5" y="660.46" font-size="10.51" text-anchor="middle" fill="#1a1a1a" stroke="#1a1a1a" stroke-width="0.1">**</text>
<polyline points="133.3,663.8 136,663.8 136,692.5 133.3,692.5" fill="none" stroke="#333" stroke-width="1.1"/>
<text x="134.9" y="678.15" font-size="10.51" text-anchor="middle" fill="#1a1a1a" transform="rotate(90 134.9 678.15)" stroke="#1a1a1a" stroke-width="0.1">*</text>
<polyline points="237.3,671.9 241.2,671.9 241.2,696.4 237.3,696.4" fill="none" stroke="#333" stroke-width="1.1"/>
<text x="240.1" y="684.15" font-size="10.51" text-anchor="middle" fill="#1a1a1a" transform="rotate(90 240.1 684.15)" stroke="#1a1a1a" stroke-width="0.1">**</text>
<polyline points="343.3,672.6 346.8,672.6 346.8,710.4 343.3,710.4" fill="none" stroke="#333" stroke-width="1.1"/>
<text x="345.7" y="691.5" font-size="10.51" text-anchor="middle" fill="#1a1a1a" transform="rotate(90 345.7 691.5)" stroke="#1a1a1a" stroke-width="0.1">***</text>
<polyline points="451.3,701.6 454.6,701.6 454.6,715.3 451.3,715.3" fill="none" stroke="#333" stroke-width="1.1"/>
<text x="453.5" y="708.45" font-size="10.51" text-anchor="middle" fill="#1a1a1a" transform="rotate(90 453.5 708.45)" stroke="#1a1a1a" stroke-width="0.1">**</text>
<polyline points="665,665.5 668.3,665.5 668.3,692.9 665,692.9" fill="none" stroke="#333" stroke-width="1.1"/>
<text x="667.2" y="679.2" font-size="10.51" text-anchor="middle" fill="#1a1a1a" transform="rotate(90 667.2 679.2)" stroke="#1a1a1a" stroke-width="0.1">***</text>
<line x1="372.4" y1="655" x2="447" y2="655" stroke="#333" stroke-width="1.1"/>
<rect x="583.8" y="730.8" width="7.6" height="7.6" fill="#3db4b4" stroke="#111" stroke-width="1"/>
<text x="595" y="737.8" font-size="9.63" text-anchor="start" fill="#1a1a1a" stroke="#1a1a1a" stroke-width="0.1">CTRL</text>
<circle cx="629" cy="734.6" r="3.9" fill="#2a6f6f" stroke="#111" stroke-width="1"/>
<text x="636" y="737.8" font-size="9.63" text-anchor="start" fill="#1a1a1a" stroke="#1a1a1a" stroke-width="0.1">CUS</text>
<text x="3.3" y="797.6" font-size="11.28" text-anchor="start" fill="#000" font-weight="bold">k</text>
<line x1="40.1" y1="795" x2="40.1" y2="924.3" stroke="#333" stroke-width="1.2"/>
<line x1="33.7" y1="795.6" x2="40.1" y2="795.6" stroke="#333" stroke-width="1.1"/>
<line x1="33.7" y1="831.8" x2="40.1" y2="831.8" stroke="#333" stroke-width="1.1"/>
<line x1="33.7" y1="868.5" x2="40.1" y2="868.5" stroke="#333" stroke-width="1.1"/>
<line x1="33.7" y1="905.3" x2="40.1" y2="905.3" stroke="#333" stroke-width="1.1"/>
<text x="28.4" y="798.7" font-size="9.31" text-anchor="end" fill="#1a1a1a" stroke="#1a1a1a" stroke-width="0.1">3</text>
<text x="28.4" y="826.3" font-size="9.31" text-anchor="end" fill="#1a1a1a" stroke="#1a1a1a" stroke-width="0.1">2</text>
<text x="28.4" y="853.1" font-size="9.31" text-anchor="end" fill="#1a1a1a" stroke="#1a1a1a" stroke-width="0.1">1</text>
<text x="28.4" y="880.7" font-size="9.31" text-anchor="end" fill="#1a1a1a" stroke="#1a1a1a" stroke-width="0.1">0</text>
<text x="28.4" y="908.4" font-size="9.31" text-anchor="end" fill="#1a1a1a" stroke="#1a1a1a" stroke-width="0.1">-1</text>
<line x1="33.7" y1="905.3" x2="360" y2="905.3" stroke="#333" stroke-width="1.2"/>
<line x1="146.7" y1="795" x2="146.7" y2="924.3" stroke="#333" stroke-width="1.1"/>
<line x1="253.5" y1="795" x2="253.5" y2="924.3" stroke="#333" stroke-width="1.1"/>
<line x1="360" y1="905.3" x2="360" y2="924.3" stroke="#333" stroke-width="1.1"/>
<line x1="51" y1="926.6" x2="348.2" y2="926.6" stroke="#333" stroke-width="1.1"/>
<text x="13.6" y="852.6" font-size="9.63" text-anchor="middle" fill="#1a1a1a" transform="rotate(-90 13.6 852.6)" stroke="#1a1a1a" stroke-width="0.1">log<tspan font-size="6.3" dy="2">2</tspan><tspan dy="-2">(FC)</tspan></text>
<text x="52.7" y="918.8" font-size="9.31" text-anchor="middle" fill="#1a1a1a" stroke="#1a1a1a" stroke-width="0.1">5</text>
<text x="79.3" y="918.8" font-size="9.31" text-anchor="middle" fill="#1a1a1a" stroke="#1a1a1a" stroke-width="0.1">10</text>
<text x="105.6" y="918.8" font-size="9.31" text-anchor="middle" fill="#1a1a1a" stroke="#1a1a1a" stroke-width="0.1">15</text>
<text x="132.1" y="918.8" font-size="9.31" text-anchor="middle" fill="#1a1a1a" stroke="#1a1a1a" stroke-width="0.1">20</text>
<text x="159.3" y="918.8" font-size="9.31" text-anchor="middle" fill="#1a1a1a" stroke="#1a1a1a" stroke-width="0.1">5</text>
<text x="185.9" y="918.8" font-size="9.31" text-anchor="middle" fill="#1a1a1a" stroke="#1a1a1a" stroke-width="0.1">10</text>
<text x="212.2" y="918.8" font-size="9.31" text-anchor="middle" fill="#1a1a1a" stroke="#1a1a1a" stroke-width="0.1">15</text>
<text x="238.7" y="918.8" font-size="9.31" text-anchor="middle" fill="#1a1a1a" stroke="#1a1a1a" stroke-width="0.1">20</text>
<text x="266.1" y="918.8" font-size="9.31" text-anchor="middle" fill="#1a1a1a" stroke="#1a1a1a" stroke-width="0.1">5</text>
<text x="292.7" y="918.8" font-size="9.31" text-anchor="middle" fill="#1a1a1a" stroke="#1a1a1a" stroke-width="0.1">10</text>
<text x="319" y="918.8" font-size="9.31" text-anchor="middle" fill="#1a1a1a" stroke="#1a1a1a" stroke-width="0.1">15</text>
<text x="345.5" y="918.8" font-size="9.31" text-anchor="middle" fill="#1a1a1a" stroke="#1a1a1a" stroke-width="0.1">20</text>
<text x="200.4" y="939.6" font-size="9.31" text-anchor="middle" fill="#1a1a1a" stroke="#1a1a1a" stroke-width="0.1">Time bin (min)</text>
<text x="93.6" y="799.6" font-size="10.87" text-anchor="middle" fill="#1a1a1a" stroke="#1a1a1a" stroke-width="0.1">Cluster 41</text>
<polyline points="52,829.6 76.7,835.7 101.3,843 126.1,846" fill="none" stroke="#f58f68" stroke-width="1" stroke-dasharray="2.6,1.6"/>
<polyline points="52,860.5 76.7,857.6 101.3,871.4 126.1,834.3" fill="none" stroke="#9a4a2a" stroke-width="1" stroke-dasharray="2.6,1.6"/>
<line x1="52" y1="819.8" x2="52" y2="839.4" stroke="#f0784a" stroke-width="1.6"/>
<line x1="49.4" y1="819.8" x2="54.6" y2="819.8" stroke="#f0784a" stroke-width="1.6"/>
<line x1="49.4" y1="839.4" x2="54.6" y2="839.4" stroke="#f0784a" stroke-width="1.6"/>
<line x1="76.7" y1="825.7" x2="76.7" y2="845.7" stroke="#f0784a" stroke-width="1.6"/>
<line x1="74.1" y1="825.7" x2="79.3" y2="825.7" stroke="#f0784a" stroke-width="1.6"/>
<line x1="74.1" y1="845.7" x2="79.3" y2="845.7" stroke="#f0784a" stroke-width="1.6"/>
<line x1="101.3" y1="834" x2="101.3" y2="852" stroke="#f0784a" stroke-width="1.6"/>
<line x1="98.7" y1="834" x2="103.9" y2="834" stroke="#f0784a" stroke-width="1.6"/>
<line x1="98.7" y1="852" x2="103.9" y2="852" stroke="#f0784a" stroke-width="1.6"/>
<line x1="126.1" y1="837" x2="126.1" y2="855" stroke="#f0784a" stroke-width="1.6"/>
<line x1="123.5" y1="837" x2="128.7" y2="837" stroke="#f0784a" stroke-width="1.6"/>
<line x1="123.5" y1="855" x2="128.7" y2="855" stroke="#f0784a" stroke-width="1.6"/>
<line x1="52" y1="852.5" x2="52" y2="868.5" stroke="#7a3418" stroke-width="1.6"/>
<line x1="49.4" y1="852.5" x2="54.6" y2="852.5" stroke="#7a3418" stroke-width="1.6"/>
<line x1="49.4" y1="868.5" x2="54.6" y2="868.5" stroke="#7a3418" stroke-width="1.6"/>
<line x1="76.7" y1="845.6" x2="76.7" y2="869.6" stroke="#7a3418" stroke-width="1.6"/>
<line x1="74.1" y1="845.6" x2="79.3" y2="845.6" stroke="#7a3418" stroke-width="1.6"/>
<line x1="74.1" y1="869.6" x2="79.3" y2="869.6" stroke="#7a3418" stroke-width="1.6"/>
<line x1="101.3" y1="865.9" x2="101.3" y2="876.9" stroke="#7a3418" stroke-width="1.6"/>
<line x1="98.7" y1="865.9" x2="103.9" y2="865.9" stroke="#7a3418" stroke-width="1.6"/>
<line x1="98.7" y1="876.9" x2="103.9" y2="876.9" stroke="#7a3418" stroke-width="1.6"/>
<line x1="126.1" y1="818.3" x2="126.1" y2="850.3" stroke="#7a3418" stroke-width="1.6"/>
<line x1="123.5" y1="818.3" x2="128.7" y2="818.3" stroke="#7a3418" stroke-width="1.6"/>
<line x1="123.5" y1="850.3" x2="128.7" y2="850.3" stroke="#7a3418" stroke-width="1.6"/>
<polygon points="52,826.63 54.84,831.76 49.16,831.76" fill="#f0784a" stroke="none" stroke-width="0"/>
<polygon points="76.7,832.73 79.53,837.86 73.87,837.86" fill="#f0784a" stroke="none" stroke-width="0"/>
<polygon points="101.3,840.03 104.14,845.16 98.47,845.16" fill="#f0784a" stroke="none" stroke-width="0"/>
<polygon points="126.1,843.03 128.94,848.16 123.27,848.16" fill="#f0784a" stroke="none" stroke-width="0"/>
<polygon points="52,863.58 54.94,858.26 49.06,858.26" fill="#7a3418" stroke="none" stroke-width="0"/>
<polygon points="76.7,860.68 79.64,855.36 73.76,855.36" fill="#7a3418" stroke="none" stroke-width="0"/>
<polygon points="101.3,874.48 104.24,869.16 98.36,869.16" fill="#7a3418" stroke="none" stroke-width="0"/>
<polygon points="126.1,837.38 129.04,832.06 123.16,832.06" fill="#7a3418" stroke="none" stroke-width="0"/>
<text x="200.2" y="799.6" font-size="10.87" text-anchor="middle" fill="#1a1a1a" stroke="#1a1a1a" stroke-width="0.1">Cluster 28</text>
<polyline points="158.6,846.5 183.3,836.1 207.9,861.6 232.7,868.4" fill="none" stroke="#f58f68" stroke-width="1" stroke-dasharray="2.6,1.6"/>
<polyline points="158.6,864 183.3,855.6 207.9,887.5 232.7,868.4" fill="none" stroke="#9a4a2a" stroke-width="1" stroke-dasharray="2.6,1.6"/>
<line x1="158.6" y1="841.5" x2="158.6" y2="851.5" stroke="#f0784a" stroke-width="1.6"/>
<line x1="156" y1="841.5" x2="161.2" y2="841.5" stroke="#f0784a" stroke-width="1.6"/>
<line x1="156" y1="851.5" x2="161.2" y2="851.5" stroke="#f0784a" stroke-width="1.6"/>
<line x1="183.3" y1="821.1" x2="183.3" y2="851.1" stroke="#f0784a" stroke-width="1.6"/>
<line x1="180.7" y1="821.1" x2="185.9" y2="821.1" stroke="#f0784a" stroke-width="1.6"/>
<line x1="180.7" y1="851.1" x2="185.9" y2="851.1" stroke="#f0784a" stroke-width="1.6"/>
<line x1="207.9" y1="856.6" x2="207.9" y2="866.6" stroke="#f0784a" stroke-width="1.6"/>
<line x1="205.3" y1="856.6" x2="210.5" y2="856.6" stroke="#f0784a" stroke-width="1.6"/>
<line x1="205.3" y1="866.6" x2="210.5" y2="866.6" stroke="#f0784a" stroke-width="1.6"/>
<line x1="232.7" y1="863.4" x2="232.7" y2="873.4" stroke="#f0784a" stroke-width="1.6"/>
<line x1="230.1" y1="863.4" x2="235.3" y2="863.4" stroke="#f0784a" stroke-width="1.6"/>
<line x1="230.1" y1="873.4" x2="235.3" y2="873.4" stroke="#f0784a" stroke-width="1.6"/>
<line x1="158.6" y1="857" x2="158.6" y2="871" stroke="#7a3418" stroke-width="1.6"/>
<line x1="156" y1="857" x2="161.2" y2="857" stroke="#7a3418" stroke-width="1.6"/>
<line x1="156" y1="871" x2="161.2" y2="871" stroke="#7a3418" stroke-width="1.6"/>
<line x1="183.3" y1="850.1" x2="183.3" y2="861.1" stroke="#7a3418" stroke-width="1.6"/>
<line x1="180.7" y1="850.1" x2="185.9" y2="850.1" stroke="#7a3418" stroke-width="1.6"/>
<line x1="180.7" y1="861.1" x2="185.9" y2="861.1" stroke="#7a3418" stroke-width="1.6"/>
<line x1="207.9" y1="882.5" x2="207.9" y2="892.5" stroke="#7a3418" stroke-width="1.6"/>
<line x1="205.3" y1="882.5" x2="210.5" y2="882.5" stroke="#7a3418" stroke-width="1.6"/>
<line x1="205.3" y1="892.5" x2="210.5" y2="892.5" stroke="#7a3418" stroke-width="1.6"/>
<line x1="232.7" y1="862.4" x2="232.7" y2="874.4" stroke="#7a3418" stroke-width="1.6"/>
<line x1="230.1" y1="862.4" x2="235.3" y2="862.4" stroke="#7a3418" stroke-width="1.6"/>
<line x1="230.1" y1="874.4" x2="235.3" y2="874.4" stroke="#7a3418" stroke-width="1.6"/>
<polygon points="158.6,843.53 161.44,848.66 155.76,848.66" fill="#f0784a" stroke="none" stroke-width="0"/>
<polygon points="183.3,833.13 186.13,838.26 180.46,838.26" fill="#f0784a" stroke="none" stroke-width="0"/>
<polygon points="207.9,858.63 210.73,863.76 205.06,863.76" fill="#f0784a" stroke="none" stroke-width="0"/>
<polygon points="232.7,865.43 235.53,870.56 229.86,870.56" fill="#f0784a" stroke="none" stroke-width="0"/>
<polygon points="158.6,867.08 161.54,861.76 155.66,861.76" fill="#7a3418" stroke="none" stroke-width="0"/>
<polygon points="183.3,858.68 186.24,853.36 180.36,853.36" fill="#7a3418" stroke="none" stroke-width="0"/>
<polygon points="207.9,890.58 210.84,885.26 204.96,885.26" fill="#7a3418" stroke="none" stroke-width="0"/>
<polygon points="232.7,871.48 235.64,866.16 229.76,866.16" fill="#7a3418" stroke="none" stroke-width="0"/>
<text x="307" y="799.6" font-size="10.87" text-anchor="middle" fill="#1a1a1a" stroke="#1a1a1a" stroke-width="0.1">Cluster 18</text>
<polyline points="265.4,865.7 290.1,872.4 314.7,859.6 339.5,866.3" fill="none" stroke="#f58f68" stroke-width="1" stroke-dasharray="2.6,1.6"/>
<polyline points="265.4,838.1 290.1,841.5 314.7,844.5 339.5,837.1" fill="none" stroke="#9a4a2a" stroke-width="1" stroke-dasharray="2.6,1.6"/>
<line x1="265.4" y1="857.2" x2="265.4" y2="874.2" stroke="#f0784a" stroke-width="1.6"/>
<line x1="262.8" y1="857.2" x2="268" y2="857.2" stroke="#f0784a" stroke-width="1.6"/>
<line x1="262.8" y1="874.2" x2="268" y2="874.2" stroke="#f0784a" stroke-width="1.6"/>
<line x1="290.1" y1="867.4" x2="290.1" y2="877.4" stroke="#f0784a" stroke-width="1.6"/>
<line x1="287.5" y1="867.4" x2="292.7" y2="867.4" stroke="#f0784a" stroke-width="1.6"/>
<line x1="287.5" y1="877.4" x2="292.7" y2="877.4" stroke="#f0784a" stroke-width="1.6"/>
<line x1="314.7" y1="847.6" x2="314.7" y2="871.6" stroke="#f0784a" stroke-width="1.6"/>
<line x1="312.1" y1="847.6" x2="317.3" y2="847.6" stroke="#f0784a" stroke-width="1.6"/>
<line x1="312.1" y1="871.6" x2="317.3" y2="871.6" stroke="#f0784a" stroke-width="1.6"/>
<line x1="339.5" y1="861.3" x2="339.5" y2="871.3" stroke="#f0784a" stroke-width="1.6"/>
<line x1="336.9" y1="861.3" x2="342.1" y2="861.3" stroke="#f0784a" stroke-width="1.6"/>
<line x1="336.9" y1="871.3" x2="342.1" y2="871.3" stroke="#f0784a" stroke-width="1.6"/>
<line x1="265.4" y1="828.1" x2="265.4" y2="848.1" stroke="#7a3418" stroke-width="1.6"/>
<line x1="262.8" y1="828.1" x2="268" y2="828.1" stroke="#7a3418" stroke-width="1.6"/>
<line x1="262.8" y1="848.1" x2="268" y2="848.1" stroke="#7a3418" stroke-width="1.6"/>
<line x1="290.1" y1="832.5" x2="290.1" y2="850.5" stroke="#7a3418" stroke-width="1.6"/>
<line x1="287.5" y1="832.5" x2="292.7" y2="832.5" stroke="#7a3418" stroke-width="1.6"/>
<line x1="287.5" y1="850.5" x2="292.7" y2="850.5" stroke="#7a3418" stroke-width="1.6"/>
<line x1="314.7" y1="837.5" x2="314.7" y2="851.5" stroke="#7a3418" stroke-width="1.6"/>
<line x1="312.1" y1="837.5" x2="317.3" y2="837.5" stroke="#7a3418" stroke-width="1.6"/>
<line x1="312.1" y1="851.5" x2="317.3" y2="851.5" stroke="#7a3418" stroke-width="1.6"/>
<line x1="339.5" y1="830.6" x2="339.5" y2="843.6" stroke="#7a3418" stroke-width="1.6"/>
<line x1="336.9" y1="830.6" x2="342.1" y2="830.6" stroke="#7a3418" stroke-width="1.6"/>
<line x1="336.9" y1="843.6" x2="342.1" y2="843.6" stroke="#7a3418" stroke-width="1.6"/>
<polygon points="265.4,862.73 268.23,867.86 262.56,867.86" fill="#f0784a" stroke="none" stroke-width="0"/>
<polygon points="290.1,869.43 292.94,874.56 287.27,874.56" fill="#f0784a" stroke="none" stroke-width="0"/>
<polygon points="314.7,856.63 317.53,861.76 311.87,861.76" fill="#f0784a" stroke="none" stroke-width="0"/>
<polygon points="339.5,863.33 342.33,868.46 336.67,868.46" fill="#f0784a" stroke="none" stroke-width="0"/>
<polygon points="265.4,841.18 268.34,835.86 262.46,835.86" fill="#7a3418" stroke="none" stroke-width="0"/>
<polygon points="290.1,844.58 293.04,839.26 287.16,839.26" fill="#7a3418" stroke="none" stroke-width="0"/>
<polygon points="314.7,847.58 317.64,842.26 311.76,842.26" fill="#7a3418" stroke="none" stroke-width="0"/>
<polygon points="339.5,840.18 342.44,834.86 336.56,834.86" fill="#7a3418" stroke="none" stroke-width="0"/>
<text x="208.8" y="853.66" font-size="10.51" text-anchor="middle" fill="#1a1a1a" stroke="#1a1a1a" stroke-width="0.1">*</text>
<text x="290.4" y="833.46" font-size="10.51" text-anchor="middle" fill="#1a1a1a" stroke="#1a1a1a" stroke-width="0.1">*</text>
<text x="339.8" y="830.16" font-size="10.51" text-anchor="middle" fill="#1a1a1a" stroke="#1a1a1a" stroke-width="0.1">*</text>
<polyline points="236.7,865 240,865 240,873.4 236.7,873.4" fill="none" stroke="#333" stroke-width="1.1"/>
<text x="238.9" y="869.2" font-size="10.51" text-anchor="middle" fill="#1a1a1a" transform="rotate(90 238.9 869.2)" stroke="#1a1a1a" stroke-width="0.1">*</text>
<polyline points="345.5,837.1 348.5,837.1 348.5,866.3 345.5,866.3" fill="none" stroke="#333" stroke-width="1.1"/>
<text x="347.4" y="851.7" font-size="10.51" text-anchor="middle" fill="#1a1a1a" transform="rotate(90 347.4 851.7)" stroke="#1a1a1a" stroke-width="0.1">**</text>
<polygon points="266.9,890.8 271.1,898.4 262.7,898.4" fill="#f26a2e" stroke="#111" stroke-width="1"/>
<text x="275" y="898.4" font-size="9.63" text-anchor="start" fill="#1a1a1a" stroke="#1a1a1a" stroke-width="0.1">CTRL</text>
<polygon points="308.6,899.2 312.8,891.6 304.4,891.6" fill="#9c3c17" stroke="#111" stroke-width="1"/>
<text x="316.3" y="898.4" font-size="9.63" text-anchor="start" fill="#1a1a1a" stroke="#1a1a1a" stroke-width="0.1">CUS</text>
<text x="360.2" y="797.7" font-size="11.28" text-anchor="start" fill="#000" font-weight="bold">l</text>
<rect x="371.8" y="802.2" width="206.6" height="115.5" fill="#f7f7f7" stroke="none" stroke-width="1"/>
<rect x="581.8" y="802.2" width="103.2" height="115.5" fill="#f7f7f7" stroke="none" stroke-width="1"/>
<text x="476.6" y="796.6" font-size="10.87" text-anchor="middle" fill="#1a1a1a" stroke="#1a1a1a" stroke-width="0.1">CTRL vs CUS</text>
<text x="633.7" y="796.9" font-size="10.5" text-anchor="middle"><tspan fill="#2e8080">Male</tspan><tspan fill="#1a1a1a"> vs </tspan><tspan fill="#c0582f">Female</tspan></text>
<text x="422.4" y="814.4" font-size="9.83" text-anchor="middle" fill="#1a1a1a" stroke="#1a1a1a" stroke-width="0.1">Male</text>
<line x1="377.9" y1="867.3" x2="466.9" y2="867.3" stroke="#9a9a9a" stroke-width="0.8" stroke-dasharray="2,1.5"/>
<line x1="423.7" y1="825.4" x2="383.4" y2="881.5" stroke="rgba(240,70,90,0.5)" stroke-width="2"/>
<line x1="448.7" y1="835" x2="400.9" y2="901.6" stroke="rgba(80,100,200,0.35)" stroke-width="2"/>
<line x1="381.6" y1="873.6" x2="452.6" y2="896.4" stroke="rgba(80,100,200,0.35)" stroke-width="2"/>
<line x1="460.5" y1="848.2" x2="414.9" y2="910.4" stroke="rgba(240,70,90,0.5)" stroke-width="2"/>
<line x1="450.8" y1="835.9" x2="464" y2="875.3" stroke="rgba(240,70,90,0.5)" stroke-width="2"/>
<line x1="460.5" y1="849" x2="436.8" y2="906.9" stroke="rgba(240,70,90,0.5)" stroke-width="2"/>
<line x1="461.4" y1="849" x2="465.7" y2="857.8" stroke="rgba(240,70,90,0.5)" stroke-width="2"/>
<text x="527.3" y="814.4" font-size="9.83" text-anchor="middle" fill="#1a1a1a" stroke="#1a1a1a" stroke-width="0.1">Female</text>
<line x1="482.8" y1="867.4" x2="571.8" y2="867.4" stroke="#9a9a9a" stroke-width="0.8" stroke-dasharray="2,1.5"/>
<line x1="505" y1="830.7" x2="565.5" y2="849" stroke="rgba(240,70,90,0.5)" stroke-width="2"/>
<line x1="527.8" y1="826.3" x2="489.3" y2="887.6" stroke="rgba(240,70,90,0.5)" stroke-width="2"/>
<line x1="535.7" y1="827.2" x2="545.3" y2="906.9" stroke="rgba(240,70,90,0.5)" stroke-width="2"/>
<line x1="545.3" y1="828" x2="565.5" y2="847.3" stroke="rgba(240,70,90,0.5)" stroke-width="2"/>
<line x1="565.5" y1="847.3" x2="484.9" y2="871.8" stroke="rgba(80,100,200,0.35)" stroke-width="2"/>
<line x1="484.9" y1="872.7" x2="567.2" y2="878" stroke="rgba(240,70,90,0.5)" stroke-width="2"/>
<line x1="567.2" y1="878.8" x2="506.8" y2="904.2" stroke="rgba(80,100,200,0.35)" stroke-width="2"/>
<line x1="484.9" y1="869.2" x2="543.6" y2="906.9" stroke="rgba(240,70,90,0.5)" stroke-width="2"/>
<line x1="491" y1="889.3" x2="552.3" y2="900.7" stroke="rgba(240,70,90,0.5)" stroke-width="2"/>
<text x="633.1" y="814.4" font-size="9.83" text-anchor="middle" fill="#1a1a1a" stroke="#1a1a1a" stroke-width="0.1">CUS</text>
<line x1="588.6" y1="867.2" x2="677.6" y2="867.2" stroke="#9a9a9a" stroke-width="0.8" stroke-dasharray="2,1.5"/>
<line x1="612.1" y1="830.4" x2="671.5" y2="850.6" stroke="rgba(240,90,110,0.45)" stroke-width="2"/>
<line x1="622.9" y1="826.3" x2="676.9" y2="870.9" stroke="rgba(232,60,80,0.75)" stroke-width="2.2"/>
<line x1="440.7" y1="906" x2="431.2" y2="831" stroke="rgba(232,50,70,0.85)" stroke-width="3.6"/>
<polygon points="430.5,826.5 434.2,832.5 427.6,833.2" fill="rgba(232,50,70,0.9)" stroke="none" stroke-width="1"/>
<line x1="677" y1="873.6" x2="602" y2="883" stroke="#3c4fb0" stroke-width="5"/>
<polygon points="595.5,884 604.5,878.2 605.5,888.5" fill="#3c4fb0" stroke="none" stroke-width="1"/>
<circle cx="466.8" cy="867.3" r="2.25" fill="#3f4852" stroke="none" stroke-width="1"/>
<circle cx="466.45" cy="861.74" r="2.25" fill="#3f4852" stroke="none" stroke-width="1"/>
<circle cx="465.41" cy="856.26" r="2.25" fill="#3f4852" stroke="none" stroke-width="1"/>
<circle cx="463.68" cy="850.96" r="2.25" fill="#3f4852" stroke="none" stroke-width="1"/>
<circle cx="461.31" cy="845.91" r="2.25" fill="#3f4852" stroke="none" stroke-width="1"/>
<circle cx="458.32" cy="841.2" r="2.25" fill="#3f4852" stroke="none" stroke-width="1"/>
<circle cx="454.77" cy="836.91" r="2.25" fill="#3f4852" stroke="none" stroke-width="1"/>
<circle cx="450.7" cy="833.09" r="2.25" fill="#3f4852" stroke="none" stroke-width="1"/>
<circle cx="446.19" cy="829.81" r="2.25" fill="#3f4852" stroke="none" stroke-width="1"/>
<circle cx="441.3" cy="827.13" r="2.25" fill="#3f4852" stroke="none" stroke-width="1"/>
<circle cx="436.12" cy="825.07" r="2.25" fill="#3f4852" stroke="none" stroke-width="1"/>
<circle cx="430.72" cy="823.69" r="2.25" fill="#3f4852" stroke="none" stroke-width="1"/>
<circle cx="425.19" cy="822.99" r="2.25" fill="#3f4852" stroke="none" stroke-width="1"/>
<circle cx="419.61" cy="822.99" r="2.25" fill="#3f4852" stroke="none" stroke-width="1"/>
<circle cx="414.08" cy="823.69" r="2.25" fill="#3f4852" stroke="none" stroke-width="1"/>
<circle cx="408.68" cy="825.07" r="2.25" fill="#3f4852" stroke="none" stroke-width="1"/>
<circle cx="403.5" cy="827.13" r="2.25" fill="#3f4852" stroke="none" stroke-width="1"/>
<circle cx="398.61" cy="829.81" r="2.25" fill="#3f4852" stroke="none" stroke-width="1"/>
<circle cx="394.1" cy="833.09" r="2.25" fill="#3f4852" stroke="none" stroke-width="1"/>
<circle cx="390.03" cy="836.91" r="2.25" fill="#3f4852" stroke="none" stroke-width="1"/>
<circle cx="386.48" cy="841.2" r="2.25" fill="#3f4852" stroke="none" stroke-width="1"/>
<circle cx="383.49" cy="845.91" r="2.25" fill="#3f4852" stroke="none" stroke-width="1"/>
<circle cx="381.12" cy="850.96" r="2.25" fill="#3f4852" stroke="none" stroke-width="1"/>
<circle cx="379.39" cy="856.26" r="2.25" fill="#3f4852" stroke="none" stroke-width="1"/>
<circle cx="378.35" cy="861.74" r="2.25" fill="#3f4852" stroke="none" stroke-width="1"/>
<circle cx="378" cy="867.3" r="2.25" fill="#3f4852" stroke="none" stroke-width="1"/>
<circle cx="378.35" cy="872.86" r="2.25" fill="#3f4852" stroke="none" stroke-width="1"/>
<circle cx="379.39" cy="878.34" r="2.25" fill="#3f4852" stroke="none" stroke-width="1"/>
<circle cx="381.12" cy="883.64" r="2.25" fill="#3f4852" stroke="none" stroke-width="1"/>
<circle cx="383.49" cy="888.69" r="2.25" fill="#3f4852" stroke="none" stroke-width="1"/>
<circle cx="386.48" cy="893.4" r="2.25" fill="#3f4852" stroke="none" stroke-width="1"/>
<circle cx="390.03" cy="897.69" r="2.25" fill="#3f4852" stroke="none" stroke-width="1"/>
<circle cx="394.1" cy="901.51" r="2.25" fill="#3f4852" stroke="none" stroke-width="1"/>
<circle cx="398.61" cy="904.79" r="2.25" fill="#3f4852" stroke="none" stroke-width="1"/>
<circle cx="403.5" cy="907.47" r="2.25" fill="#3f4852" stroke="none" stroke-width="1"/>
<circle cx="408.68" cy="909.53" r="2.25" fill="#3f4852" stroke="none" stroke-width="1"/>
<circle cx="414.08" cy="910.91" r="2.25" fill="#3f4852" stroke="none" stroke-width="1"/>
<circle cx="419.61" cy="911.61" r="2.25" fill="#3f4852" stroke="none" stroke-width="1"/>
<circle cx="425.19" cy="911.61" r="2.25" fill="#3f4852" stroke="none" stroke-width="1"/>
<circle cx="430.72" cy="910.91" r="2.25" fill="#3f4852" stroke="none" stroke-width="1"/>
<circle cx="436.12" cy="909.53" r="2.25" fill="#3f4852" stroke="none" stroke-width="1"/>
<circle cx="441.3" cy="907.47" r="2.25" fill="#3f4852" stroke="none" stroke-width="1"/>
<circle cx="446.19" cy="904.79" r="2.25" fill="#3f4852" stroke="none" stroke-width="1"/>
<circle cx="450.7" cy="901.51" r="2.25" fill="#3f4852" stroke="none" stroke-width="1"/>
<circle cx="454.77" cy="897.69" r="2.25" fill="#3f4852" stroke="none" stroke-width="1"/>
<circle cx="458.32" cy="893.4" r="2.25" fill="#3f4852" stroke="none" stroke-width="1"/>
<circle cx="461.31" cy="888.69" r="2.25" fill="#3f4852" stroke="none" stroke-width="1"/>
<circle cx="463.68" cy="883.64" r="2.25" fill="#3f4852" stroke="none" stroke-width="1"/>
<circle cx="465.41" cy="878.34" r="2.25" fill="#3f4852" stroke="none" stroke-width="1"/>
<circle cx="466.45" cy="872.86" r="2.25" fill="#3f4852" stroke="none" stroke-width="1"/>
<circle cx="571.7" cy="867.4" r="2.25" fill="#3f4852" stroke="none" stroke-width="1"/>
<circle cx="571.35" cy="861.84" r="2.25" fill="#3f4852" stroke="none" stroke-width="1"/>
<circle cx="570.31" cy="856.36" r="2.25" fill="#3f4852" stroke="none" stroke-width="1"/>
<circle cx="568.58" cy="851.06" r="2.25" fill="#3f4852" stroke="none" stroke-width="1"/>
<circle cx="566.21" cy="846.01" r="2.25" fill="#3f4852" stroke="none" stroke-width="1"/>
<circle cx="563.22" cy="841.3" r="2.25" fill="#3f4852" stroke="none" stroke-width="1"/>
<circle cx="559.67" cy="837.01" r="2.25" fill="#3f4852" stroke="none" stroke-width="1"/>
<circle cx="555.6" cy="833.19" r="2.25" fill="#3f4852" stroke="none" stroke-width="1"/>
<circle cx="551.09" cy="829.91" r="2.25" fill="#3f4852" stroke="none" stroke-width="1"/>
<circle cx="546.2" cy="827.23" r="2.25" fill="#3f4852" stroke="none" stroke-width="1"/>
<circle cx="541.02" cy="825.17" r="2.25" fill="#3f4852" stroke="none" stroke-width="1"/>
<circle cx="535.62" cy="823.79" r="2.25" fill="#3f4852" stroke="none" stroke-width="1"/>
<circle cx="530.09" cy="823.09" r="2.25" fill="#3f4852" stroke="none" stroke-width="1"/>
<circle cx="524.51" cy="823.09" r="2.25" fill="#3f4852" stroke="none" stroke-width="1"/>
<circle cx="518.98" cy="823.79" r="2.25" fill="#3f4852" stroke="none" stroke-width="1"/>
<circle cx="513.58" cy="825.17" r="2.25" fill="#3f4852" stroke="none" stroke-width="1"/>
<circle cx="508.4" cy="827.23" r="2.25" fill="#3f4852" stroke="none" stroke-width="1"/>
<circle cx="503.51" cy="829.91" r="2.25" fill="#3f4852" stroke="none" stroke-width="1"/>
<circle cx="499" cy="833.19" r="2.25" fill="#3f4852" stroke="none" stroke-width="1"/>
<circle cx="494.93" cy="837.01" r="2.25" fill="#3f4852" stroke="none" stroke-width="1"/>
<circle cx="491.38" cy="841.3" r="2.25" fill="#3f4852" stroke="none" stroke-width="1"/>
<circle cx="488.39" cy="846.01" r="2.25" fill="#3f4852" stroke="none" stroke-width="1"/>
<circle cx="486.02" cy="851.06" r="2.25" fill="#3f4852" stroke="none" stroke-width="1"/>
<circle cx="484.29" cy="856.36" r="2.25" fill="#3f4852" stroke="none" stroke-width="1"/>
<circle cx="483.25" cy="861.84" r="2.25" fill="#3f4852" stroke="none" stroke-width="1"/>
<circle cx="482.9" cy="867.4" r="2.25" fill="#3f4852" stroke="none" stroke-width="1"/>
<circle cx="483.25" cy="872.96" r="2.25" fill="#3f4852" stroke="none" stroke-width="1"/>
<circle cx="484.29" cy="878.44" r="2.25" fill="#3f4852" stroke="none" stroke-width="1"/>
<circle cx="486.02" cy="883.74" r="2.25" fill="#3f4852" stroke="none" stroke-width="1"/>
<circle cx="488.39" cy="888.79" r="2.25" fill="#3f4852" stroke="none" stroke-width="1"/>
<circle cx="491.38" cy="893.5" r="2.25" fill="#3f4852" stroke="none" stroke-width="1"/>
<circle cx="494.93" cy="897.79" r="2.25" fill="#3f4852" stroke="none" stroke-width="1"/>
<circle cx="499" cy="901.61" r="2.25" fill="#3f4852" stroke="none" stroke-width="1"/>
<circle cx="503.51" cy="904.89" r="2.25" fill="#3f4852" stroke="none" stroke-width="1"/>
<circle cx="508.4" cy="907.57" r="2.25" fill="#3f4852" stroke="none" stroke-width="1"/>
<circle cx="513.58" cy="909.63" r="2.25" fill="#3f4852" stroke="none" stroke-width="1"/>
<circle cx="518.98" cy="911.01" r="2.25" fill="#3f4852" stroke="none" stroke-width="1"/>
<circle cx="524.51" cy="911.71" r="2.25" fill="#3f4852" stroke="none" stroke-width="1"/>
<circle cx="530.09" cy="911.71" r="2.25" fill="#3f4852" stroke="none" stroke-width="1"/>
<circle cx="535.62" cy="911.01" r="2.25" fill="#3f4852" stroke="none" stroke-width="1"/>
<circle cx="541.02" cy="909.63" r="2.25" fill="#3f4852" stroke="none" stroke-width="1"/>
<circle cx="546.2" cy="907.57" r="2.25" fill="#3f4852" stroke="none" stroke-width="1"/>
<circle cx="551.09" cy="904.89" r="2.25" fill="#3f4852" stroke="none" stroke-width="1"/>
<circle cx="555.6" cy="901.61" r="2.25" fill="#3f4852" stroke="none" stroke-width="1"/>
<circle cx="559.67" cy="897.79" r="2.25" fill="#3f4852" stroke="none" stroke-width="1"/>
<circle cx="563.22" cy="893.5" r="2.25" fill="#3f4852" stroke="none" stroke-width="1"/>
<circle cx="566.21" cy="888.79" r="2.25" fill="#3f4852" stroke="none" stroke-width="1"/>
<circle cx="568.58" cy="883.74" r="2.25" fill="#3f4852" stroke="none" stroke-width="1"/>
<circle cx="570.31" cy="878.44" r="2.25" fill="#3f4852" stroke="none" stroke-width="1"/>
<circle cx="571.35" cy="872.96" r="2.25" fill="#3f4852" stroke="none" stroke-width="1"/>
<circle cx="677.5" cy="867.2" r="2.25" fill="#3f4852" stroke="none" stroke-width="1"/>
<circle cx="677.15" cy="861.64" r="2.25" fill="#3f4852" stroke="none" stroke-width="1"/>
<circle cx="676.11" cy="856.16" r="2.25" fill="#3f4852" stroke="none" stroke-width="1"/>
<circle cx="674.38" cy="850.86" r="2.25" fill="#3f4852" stroke="none" stroke-width="1"/>
<circle cx="672.01" cy="845.81" r="2.25" fill="#3f4852" stroke="none" stroke-width="1"/>
<circle cx="669.02" cy="841.1" r="2.25" fill="#3f4852" stroke="none" stroke-width="1"/>
<circle cx="665.47" cy="836.81" r="2.25" fill="#3f4852" stroke="none" stroke-width="1"/>
<circle cx="661.4" cy="832.99" r="2.25" fill="#3f4852" stroke="none" stroke-width="1"/>
<circle cx="656.89" cy="829.71" r="2.25" fill="#3f4852" stroke="none" stroke-width="1"/>
<circle cx="652" cy="827.03" r="2.25" fill="#3f4852" stroke="none" stroke-width="1"/>
<circle cx="646.82" cy="824.97" r="2.25" fill="#3f4852" stroke="none" stroke-width="1"/>
<circle cx="641.42" cy="823.59" r="2.25" fill="#3f4852" stroke="none" stroke-width="1"/>
<circle cx="635.89" cy="822.89" r="2.25" fill="#3f4852" stroke="none" stroke-width="1"/>
<circle cx="630.31" cy="822.89" r="2.25" fill="#3f4852" stroke="none" stroke-width="1"/>
<circle cx="624.78" cy="823.59" r="2.25" fill="#3f4852" stroke="none" stroke-width="1"/>
<circle cx="619.38" cy="824.97" r="2.25" fill="#3f4852" stroke="none" stroke-width="1"/>
<circle cx="614.2" cy="827.03" r="2.25" fill="#3f4852" stroke="none" stroke-width="1"/>
<circle cx="609.31" cy="829.71" r="2.25" fill="#3f4852" stroke="none" stroke-width="1"/>
<circle cx="604.8" cy="832.99" r="2.25" fill="#3f4852" stroke="none" stroke-width="1"/>
<circle cx="600.73" cy="836.81" r="2.25" fill="#3f4852" stroke="none" stroke-width="1"/>
<circle cx="597.18" cy="841.1" r="2.25" fill="#3f4852" stroke="none" stroke-width="1"/>
<circle cx="594.19" cy="845.81" r="2.25" fill="#3f4852" stroke="none" stroke-width="1"/>
<circle cx="591.82" cy="850.86" r="2.25" fill="#3f4852" stroke="none" stroke-width="1"/>
<circle cx="590.09" cy="856.16" r="2.25" fill="#3f4852" stroke="none" stroke-width="1"/>
<circle cx="589.05" cy="861.64" r="2.25" fill="#3f4852" stroke="none" stroke-width="1"/>
<circle cx="588.7" cy="867.2" r="2.25" fill="#3f4852" stroke="none" stroke-width="1"/>
<circle cx="589.05" cy="872.76" r="2.25" fill="#3f4852" stroke="none" stroke-width="1"/>
<circle cx="590.09" cy="878.24" r="2.25" fill="#3f4852" stroke="none" stroke-width="1"/>
<circle cx="591.82" cy="883.54" r="2.25" fill="#3f4852" stroke="none" stroke-width="1"/>
<circle cx="594.19" cy="888.59" r="2.25" fill="#3f4852" stroke="none" stroke-width="1"/>
<circle cx="597.18" cy="893.3" r="2.25" fill="#3f4852" stroke="none" stroke-width="1"/>
<circle cx="600.73" cy="897.59" r="2.25" fill="#3f4852" stroke="none" stroke-width="1"/>
<circle cx="604.8" cy="901.41" r="2.25" fill="#3f4852" stroke="none" stroke-width="1"/>
<circle cx="609.31" cy="904.69" r="2.25" fill="#3f4852" stroke="none" stroke-width="1"/>
<circle cx="614.2" cy="907.37" r="2.25" fill="#3f4852" stroke="none" stroke-width="1"/>
<circle cx="619.38" cy="909.43" r="2.25" fill="#3f4852" stroke="none" stroke-width="1"/>
<circle cx="624.78" cy="910.81" r="2.25" fill="#3f4852" stroke="none" stroke-width="1"/>
<circle cx="630.31" cy="911.51" r="2.25" fill="#3f4852" stroke="none" stroke-width="1"/>
<circle cx="635.89" cy="911.51" r="2.25" fill="#3f4852" stroke="none" stroke-width="1"/>
<circle cx="641.42" cy="910.81" r="2.25" fill="#3f4852" stroke="none" stroke-width="1"/>
<circle cx="646.82" cy="909.43" r="2.25" fill="#3f4852" stroke="none" stroke-width="1"/>
<circle cx="652" cy="907.37" r="2.25" fill="#3f4852" stroke="none" stroke-width="1"/>
<circle cx="656.89" cy="904.69" r="2.25" fill="#3f4852" stroke="none" stroke-width="1"/>
<circle cx="661.4" cy="901.41" r="2.25" fill="#3f4852" stroke="none" stroke-width="1"/>
<circle cx="665.47" cy="897.59" r="2.25" fill="#3f4852" stroke="none" stroke-width="1"/>
<circle cx="669.02" cy="893.3" r="2.25" fill="#3f4852" stroke="none" stroke-width="1"/>
<circle cx="672.01" cy="888.59" r="2.25" fill="#3f4852" stroke="none" stroke-width="1"/>
<circle cx="674.38" cy="883.54" r="2.25" fill="#3f4852" stroke="none" stroke-width="1"/>
<circle cx="676.11" cy="878.24" r="2.25" fill="#3f4852" stroke="none" stroke-width="1"/>
<circle cx="677.15" cy="872.76" r="2.25" fill="#3f4852" stroke="none" stroke-width="1"/>
<text x="468.5" y="869.8" font-size="8.8" text-anchor="start" fill="#222" stroke="#222" stroke-width="0.1">1</text>
<text x="466.2" y="877.3" font-size="8.8" text-anchor="start" fill="#222" stroke="#222" stroke-width="0.1">50</text>
<path d="M471,865.5 Q471,848 462.5,839.8" fill="none" stroke="#333" stroke-width="0.7"/>
<path d="M459.8,841.4 L462.6,839.6 L462.2,843" fill="none" stroke="#333" stroke-width="0.7"/>
<line x1="422" y1="925.2" x2="433.2" y2="925.2" stroke="#ee5566" stroke-width="3"/>
<text x="439.4" y="928.3" font-size="9.63" text-anchor="start" fill="#1a1a1a" stroke="#1a1a1a" stroke-width="0.1">Up-regulated</text>
<line x1="422" y1="937.6" x2="433.2" y2="937.6" stroke="#3c4fb0" stroke-width="3"/>
<text x="439.4" y="940.7" font-size="9.63" text-anchor="start" fill="#1a1a1a" stroke="#1a1a1a" stroke-width="0.1">Down-regulated</text>
<text x="568.9" y="930.8" font-size="9.63" text-anchor="middle" fill="#1a1a1a" stroke="#1a1a1a" stroke-width="0.1">Transition probability (%)</text>
<rect x="516.2" y="935.6" width="10.8" height="5.6" fill="#111" stroke="none" stroke-width="1"/>
<text x="529.7" y="941.6" font-size="9.63" text-anchor="start" fill="#1a1a1a" stroke="#1a1a1a" stroke-width="0.1">≥ 30</text>
<rect x="553.5" y="936.9" width="10.5" height="3" fill="#222" stroke="none" stroke-width="1"/>
<text x="566.3" y="941.6" font-size="9.63" text-anchor="start" fill="#1a1a1a" stroke="#1a1a1a" stroke-width="0.1">≥ 20</text>
<line x1="591.3" y1="938.4" x2="601.3" y2="938.4" stroke="#999" stroke-width="1.1"/>
<text x="604" y="941.6" font-size="9.63" text-anchor="start" fill="#1a1a1a" stroke="#1a1a1a" stroke-width="0.1">≥ 10</text>
</svg></body></html>
